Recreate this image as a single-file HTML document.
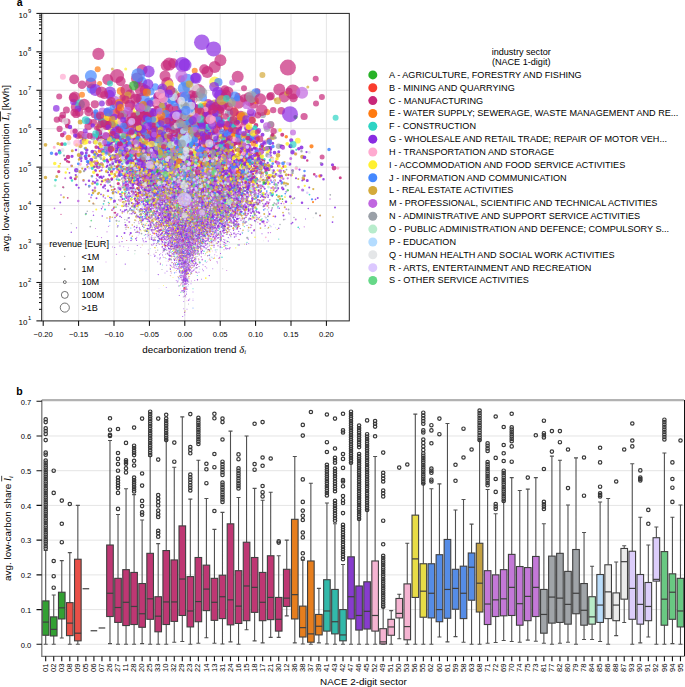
<!DOCTYPE html>
<html><head><meta charset="utf-8"><style>html,body{margin:0;padding:0;background:#fff;width:685px;height:687px;overflow:hidden;position:relative}</style></head>
<body>
<svg width="685" height="687" viewBox="0 0 685 687" style="position:absolute;left:0;top:0" font-family='"Liberation Sans", sans-serif' fill="#000">
<rect width="685" height="687" fill="#fff"/>
<path d="M43.20 13.4V320.9M78.60 13.4V320.9M114.00 13.4V320.9M149.40 13.4V320.9M184.80 13.4V320.9M220.20 13.4V320.9M255.60 13.4V320.9M291.00 13.4V320.9M326.40 13.4V320.9M41.7 282.46H349.3M41.7 244.03H349.3M41.7 205.59H349.3M41.7 167.15H349.3M41.7 128.71H349.3M41.7 90.28H349.3M41.7 51.84H349.3" stroke="#e2e2e2" stroke-width="0.9" fill="none"/>
<svg x="41.7" y="13.4" width="307.60" height="307.50" viewBox="41.7 13.4 307.60 307.50" overflow="hidden">
<style>.A{fill:#2db52d}.B{fill:#f53c3c}.C{fill:#c8287a}.E{fill:#ff7a10}.F{fill:#2dd4c4}.G{fill:#8a2be2}.H{fill:#ffaad0}.I{fill:#fff030}.J{fill:#4488ff}.L{fill:#d4aa3a}.M{fill:#c066e0}.N{fill:#9aa0a8}.O{fill:#b8eccc}.P{fill:#b4dcff}.Q{fill:#e4e6e8}.R{fill:#dcc8ff}.S{fill:#66d888}</style><g transform="scale(0.25)" stroke-linecap="round" fill="none" stroke-opacity="0.85"><path d="M554 762h0" stroke="#2db52d" stroke-width="6"/><path d="M911 733h0m0 42h0" stroke="#2db52d" stroke-width="8"/><path d="M682 707h0m469 54h0" stroke="#2db52d" stroke-width="9"/><path d="M863 745h0" stroke="#2db52d" stroke-width="10"/><path d="M757 753h0" stroke="#2db52d" stroke-width="12"/><path d="M772 614h0" stroke="#2db52d" stroke-width="13"/><path d="M635 563h0" stroke="#2db52d" stroke-width="14"/><path d="M602 484h0m26 111h0m198 24h0" stroke="#2db52d" stroke-width="15"/><path d="M1182 468h0m-178 73h0" stroke="#2db52d" stroke-width="17"/><path d="M815 579h0" stroke="#2db52d" stroke-width="19"/><path d="M722 1140h0" stroke="#c8287a" stroke-width="3"/><path d="M895 812h0m-91 79h0m-207 65h0m91-8h0m77 5h0m26-19h0m36 19h0m-98 68h0m10 6h0m18-8h0" stroke="#c8287a" stroke-width="4"/><path d="M816 755h0m-223 37h0m153-17h0m19 92h0m121 0h0m-240 33h0m31-17h0m31-1h0m133 32h0m-142 42h0m99-33h0m12 12h0m-90 60h0m8 3h0m40-19h0" stroke="#c8287a" stroke-width="5"/><path d="M735 750h0m34-12h0m86 13h0m27 3h0m-116 40h0m21-12h0m44-10h0m72 23h0m-186 27h0m57-14h0m11 8h0m107 14h0m90 9h0m-525 12h0m131 14h0m14-22h0m54 28h0m29 5h0m46-28h0m42 26h0m8-32h0m-78 57h0m16-2h0m23-3h0m40-7h0m52 29h0m-88 25h0m10 10h0m19 8h0m7-15h0m99-18h0m-173 44h0m45-6h0" stroke="#c8287a" stroke-width="6"/><path d="M693 698h0m99 41h0m17 18h0m173-7h0m-397 32h0m190-3h0m39 7h0m71-15h0m8-3h0m3 25h0m-219 9h0m9 26h0m95-12h0m72 17h0m62-1h0m-223 68h0m3-6h0m54-10h0m66 10h0m44 61h0" stroke="#c8287a" stroke-width="7"/><path d="M719 656h0m51 22h0m22-17h0m44 6h0m195 6h0m-455 13h0m183 32h0m-249 36h0m16-27h0m215 14h0m3 1h0m15-18h0m42-4h0m148 29h0m-240 11h0m19 37h0m1-21h0m67-3h0m54 13h0m-206 15h0m40 25h0m9-3h0m48-13h0m21 17h0m27 1h0m82-6h0m-410 29h0m249-5h0m236 40h0m-198 84h0" stroke="#c8287a" stroke-width="8"/><path d="M805 675h0m89-35h0m-405 42h0m50 15h0m152 15h0m31-10h0m51-12h0m26-5h0m72 7h0m21 10h0m57 3h0m1-6h0m-235 34h0m6 12h0m134-5h0m16-8h0m8 19h0m21 6h0m-398 26h0m231-16h0m30 6h0m19 16h0m16-3h0m-62 35h0m-140 48h0m33-1h0" stroke="#c8287a" stroke-width="9"/><path d="M573 617h0m178 4h0m10 58h0m70-11h0m19 3h0m-322 40h0m217-31h0m39 31h0m10-20h0m3 8h0m61-7h0m45 14h0m-268 19h0m26 16h0m102-3h0m67 4h0m7 7h0m-142 25h0m100 14h0m3 0h0m49-22h0m156 2h0m-64 79h0" stroke="#c8287a" stroke-width="10"/><path d="M658 662h0m87 9h0m12-23h0m22 28h0m291-3h0m-638 45h0m243-38h0m199 31h0m63-15h0m13-12h0m307 13h0m-559 154h0" stroke="#c8287a" stroke-width="11"/><path d="M705 589h0m-444 48h0m95-14h0m292 9h0m2-25h0m-10 57h0m28-22h0m38 29h0m102 2h0m32-18h0m45-11h0m-438 71h0m286-23h0m68 9h0m44 2h0m63 15h0m1-2h0m-260 6h0m90 27h0m8-9h0m137-16h0m59 10h0" stroke="#c8287a" stroke-width="12"/><path d="M937 591h0m-379 41h0m82-2h0m38-20h0m22-8h0m89 25h0m16-14h0m2 4h0m-291 60h0m68-2h0m27 0h0m69-11h0m9-17h0m169 11h0m105 3h0m99 10h0m-361 18h0m74 3h0m89 12h0m-168 24h0m338 15h0" stroke="#c8287a" stroke-width="13"/><path d="M529 583h0m344-23h0m-448 50h0m39 22h0m142-9h0m52 6h0m83 9h0m34-16h0m226-15h0m48 1h0m-296 56h0m7 11h0m54-1h0m54-32h0m67 19h0m-362 29h0m98 4h0m46 13h0m326-16h0m-272 36h0m214 10h0" stroke="#c8287a" stroke-width="14"/><path d="M664 538h0m-62 60h0m221-23h0m-285 52h0m28-17h0m91 0h0m-272 45h0m220 0h0m150 13h0m211 9h0m28-3h0m-515 15h0m548-5h0" stroke="#c8287a" stroke-width="15"/><path d="M716 532h0m413 7h0m-562 54h0m49-8h0m78 47h0m90-22h0m6 4h0m26 8h0m99-17h0m88 18h0m-417 39h0m115-3h0m170 65h0" stroke="#c8287a" stroke-width="16"/><path d="M445 530h0m158 20h0m100-3h0m87 2h0m228-7h0m-536 34h0m100-12h0m10 31h0m-86 17h0m245-5h0m70 6h0m-162 33h0m140-3h0m79 0h0m-79 39h0" stroke="#c8287a" stroke-width="17"/><path d="M582 500h0m179 11h0m-342 36h0m109-1h0m52-2h0m67 3h0m257 2h0m-113 35h0m206-19h0m133 23h0m-460 38h0m17-12h0m109-2h0m161 15h0m-232 32h0m198 39h0" stroke="#c8287a" stroke-width="18"/><path d="M962 504h0m62-3h0m-480 44h0m4-19h0m98 29h0m70 0h0m-307 48h0m316 12h0m-172 119h0" stroke="#c8287a" stroke-width="19"/><path d="M608 552h0m337-24h0m-233 37h0" stroke="#c8287a" stroke-width="20"/><path d="M794 906h0m27 48h0m-50 29h0m8 17h0" stroke="#ff7a10" stroke-width="4"/><path d="M725 766h0m-17 57h0m-56 77h0m12-19h0m308 12h0" stroke="#ff7a10" stroke-width="5"/><path d="M734 726h0m-17 52h0m83 50h0m9 7h0m-216 5h0m122 17h0m133 21h0m245-13h0" stroke="#ff7a10" stroke-width="6"/><path d="M373 813h0m481 2h0m-44 55h0m4 29h0m-197 35h0" stroke="#ff7a10" stroke-width="7"/><path d="M778 669h0m65 29h0m-78 53h0m12-15h0m58-8h0m165 16h0m-352 46h0m150-4h0m-68 45h0" stroke="#ff7a10" stroke-width="8"/><path d="M698 673h0m34-22h0m-135 33h0m406-2h0m-190 56h0m-181 53h0" stroke="#ff7a10" stroke-width="9"/><path d="M734 713h0m25-18h0m-141 30h0m144 20h0m30 10h0m30-9h0m68 22h0m-90 35h0" stroke="#ff7a10" stroke-width="10"/><path d="M737 683h0m144 66h0" stroke="#ff7a10" stroke-width="11"/><path d="M604 593h0m166 102h0m129-9h0m54 65h0" stroke="#ff7a10" stroke-width="12"/><path d="M445 590h0m327 59h0m236 69h0" stroke="#ff7a10" stroke-width="13"/><path d="M1034 630h0m54 3h0m-507 39h0m699 32h0" stroke="#ff7a10" stroke-width="14"/><path d="M758 576h0m-71 59h0" stroke="#ff7a10" stroke-width="15"/><path d="M692 635h0" stroke="#ff7a10" stroke-width="16"/><path d="M718 644h0" stroke="#ff7a10" stroke-width="17"/><path d="M637 509h0m253 52h0" stroke="#ff7a10" stroke-width="18"/><path d="M540 605h0" stroke="#ff7a10" stroke-width="19"/><path d="M788 893h0m-169 58h0m92 46h0m8-21h0m45 4h0m-40 26h0" stroke="#2dd4c4" stroke-width="3"/><path d="M726 870h0m178-5h0m-187 54h0m18-14h0m58-13h0m78 19h0m-222 20h0m13 5h0m10 14h0m4-12h0m45-9h0m36 29h0m6-3h0m5 0h0m19-7h0m-128 17h0m93 33h0m42-11h0m4-10h0m-67 26h0m22 12h0m-22 130h0" stroke="#2dd4c4" stroke-width="4"/><path d="M741 758h0m200 32h0m-157 15h0m61 19h0m-272 52h0m174 0h0m48-9h0m-66 48h0m27-3h0m34-25h0m12 18h0m175 1h0m18-26h0m-341 64h0m167 2h0m2-20h0m170-2h0m-280 51h0m-23 30h0m147 17h0" stroke="#2dd4c4" stroke-width="5"/><path d="M781 739h0m129 47h0m-271 32h0m35 12h0m161 3h0m1-19h0m-107 35h0m8 29h0m42-3h0m33-32h0m-101 41h0m32 10h0m69 7h0m80 8h0m-109 25h0m9 80h0m24-9h0m72 24h0m-158 39h0" stroke="#2dd4c4" stroke-width="6"/><path d="M668 677h0m-118 35h0m223-8h0m62 13h0m51-8h0m-332 40h0m180-8h0m140-8h0m54 13h0m43-1h0m-444 45h0m189-22h0m74 12h0m83-7h0m21 6h0m-183 59h0m2-23h0m83 0h0m53 12h0m98-1h0m82-9h0m-450 49h0m47 11h0m55-19h0m22-1h0m8 12h0m215-18h0m33-3h0m7 0h0m-283 44h0m74-1h0m120 24h0m-113 13h0" stroke="#2dd4c4" stroke-width="7"/><path d="M535 671h0m388 7h0m-108 18h0m-282 27h0m148 5h0m2 23h0m25-6h0m20 3h0m15-10h0m19 0h0m11 0h0m-40 53h0m58-20h0m228 25h0m-599 42h0m181-22h0m52 18h0m70-33h0m255 22h0m-397 34h0m199 13h0m53-10h0m1-10h0m140 5h0m-197 34h0m12 44h0" stroke="#2dd4c4" stroke-width="8"/><path d="M701 607h0m-50 39h0m85 1h0m232 8h0m113 7h0m-542 49h0m97-22h0m373 26h0m-406 12h0m87-5h0m32 29h0m42-18h0m19 9h0m40-13h0m230 8h0m-465 43h0m403-10h0m-371 53h0m31 7h0m45-14h0m94 7h0m56-3h0m26 49h0m44 9h0m-109 24h0m39 6h0" stroke="#2dd4c4" stroke-width="9"/><path d="M783 630h0m-106 72h0m51 14h0m44-3h0m-484 9h0m373 6h0m17 18h0m245-12h0m109-13h0m-530 49h0m264 3h0m3-8h0m3 36h0m-182 49h0m277 8h0" stroke="#2dd4c4" stroke-width="10"/><path d="M840 578h0m31 29h0m-221 67h0m54-2h0m69-12h0m-184 55h0m11-11h0m12 15h0m217-7h0m7-22h0m53 6h0m-158 26h0m52 17h0m34-13h0" stroke="#2dd4c4" stroke-width="11"/><path d="M862 543h0m-194 48h0m313-10h0m-387 50h0m145-29h0m89 29h0m179 4h0m-456 35h0m97 5h0m15-35h0m44 20h0m38-17h0m81 17h0m-97 71h0m10 11h0m39 12h0m33-13h0m147-6h0m-98 27h0" stroke="#2dd4c4" stroke-width="12"/><path d="M812 587h0m40-16h0m-165 36h0m189 3h0m-279 52h0m65 6h0m156-13h0m71 18h0m164-20h0m-352 121h0" stroke="#2dd4c4" stroke-width="13"/><path d="M572 552h0m-45 81h0m60 6h0m55-8h0m137-12h0m120 36h0m-90 31h0m-43 46h0" stroke="#2dd4c4" stroke-width="14"/><path d="M408 578h0m344-8h0m-127 42h0m39-6h0m102 16h0m111-7h0m5 49h0" stroke="#2dd4c4" stroke-width="15"/><path d="M732 596h0m247-11h0m-69 40h0m178 152h0" stroke="#2dd4c4" stroke-width="16"/><path d="M585 515h0m-30 63h0m289 23h0m49 59h0m100-18h0" stroke="#2dd4c4" stroke-width="17"/><path d="M567 532h0m170 24h0m60 29h0" stroke="#2dd4c4" stroke-width="18"/><path d="M624 544h0m-189 32h0m92 42h0m5-17h0m34 27h0m288-19h0" stroke="#2dd4c4" stroke-width="19"/><path d="M582 568h0m372-7h0" stroke="#2dd4c4" stroke-width="20"/><path d="M868 866h0m-210 69h0m79-3h0m17 20h0m50-6h0m-154 40h0m10 10h0m12-21h0m29 4h0m6 14h0m1-19h0m20 7h0m36 5h0m9 8h0m50-13h0m8 8h0m-163 11h0m29 12h0m3-6h0m2-1h0m18-3h0m6 12h0m8-1h0m4 11h0m12 15h0m22-23h0m67 3h0m-197 36h0m25 6h0m51 3h0m9-14h0m16-5h0m1 25h0m3-10h0m3-7h0m15-8h0m8 9h0m9-3h0m-97 41h0m50-2h0m0 2h0m13 20h0m14-15h0m-57 25h0m25 1h0m2 15h0m5 12h0m6 2h0m1-31h0m6 12h0m-20 31h0m7 3h0m1-3h0m7 3h0m27 1h0m-37 38h0" stroke="#8a2be2" stroke-width="3"/><path d="M539 798h0m-85 11h0m94 27h0m306-20h0m-264 43h0m14-15h0m106 25h0m6-19h0m33 20h0m2 8h0m96-15h0m-188 42h0m18-21h0m15 14h0m22 17h0m11 3h0m10-37h0m2 26h0m21 5h0m1 7h0m7-29h0m37 8h0m32 4h0m53 4h0m48-20h0m-381 43h0m51-5h0m30 1h0m17 0h0m10 4h0m6 13h0m6-4h0m0-4h0m1-13h0m8 31h0m21 4h0m6-8h0m6 5h0m9-14h0m0-13h0m2 5h0m13 9h0m9 8h0m4-16h0m3 14h0m0-22h0m5 18h0m1 3h0m3 3h0m1 3h0m1-5h0m2-24h0m4 33h0m3-6h0m7-18h0m4 23h0m0-23h0m1 9h0m0 19h0m9-35h0m8 6h0m4 28h0m2-14h0m5-18h0m8 10h0m3-6h0m7 22h0m24-7h0m189-10h0m-589 55h0m125-23h0m74 5h0m16 18h0m9-4h0m1 11h0m2-11h0m11 6h0m1-1h0m6-28h0m7 16h0m5-7h0m5 19h0m4-12h0m2 20h0m1-5h0m4-26h0m2 30h0m4-7h0m9 2h0m1-16h0m10-11h0m8-4h0m2 33h0m18-7h0m0-4h0m8 4h0m6-2h0m16 5h0m257-27h0m-389 44h0m8 6h0m9-2h0m7 27h0m2-31h0m6 0h0m4 17h0m7-5h0m7 3h0m13 7h0m1-29h0m11 0h0m2 33h0m0-13h0m1-5h0m1-12h0m7 27h0m11-26h0m55 17h0m-141 38h0m9 14h0m21 0h0m2-26h0m5 12h0m1-1h0m2-12h0m15-2h0m2 31h0m6-2h0m18 5h0m2-16h0m20-11h0m-78 50h0m5-1h0m3-18h0m3-1h0m4 24h0m7-15h0m17-6h0m-30 47h0m20-8h0m-32 58h0" stroke="#8a2be2" stroke-width="4"/><path d="M756 753h0m-115 43h0m46-29h0m45 26h0m9 6h0m64-12h0m35-10h0m76-7h0m-290 60h0m22 5h0m13-5h0m20-4h0m22-2h0m25-9h0m12-10h0m32 30h0m30-19h0m6-9h0m35 14h0m67-8h0m-424 56h0m141-4h0m2 13h0m1-25h0m10 1h0m32 6h0m23-4h0m14-15h0m1 32h0m32-5h0m2-8h0m5 13h0m7 4h0m11-37h0m9 11h0m1 28h0m3-1h0m7-23h0m3-1h0m3 19h0m9-6h0m0-23h0m2 26h0m15-8h0m25-1h0m12 7h0m0-15h0m13 22h0m22-14h0m7 12h0m11-13h0m20 9h0m-623 42h0m202-31h0m128 20h0m35 14h0m11-29h0m8 33h0m3-32h0m5 6h0m11 23h0m6-4h0m3-29h0m5 17h0m5-16h0m4 16h0m2-5h0m19 5h0m11-6h0m7-6h0m2 22h0m35-22h0m1 23h0m0-1h0m7-7h0m5-21h0m2 2h0m11 5h0m5 15h0m13-22h0m2 13h0m4-10h0m3 29h0m6-19h0m34-4h0m18 17h0m42 7h0m-366 26h0m10 8h0m32-20h0m33 16h0m6-18h0m17 9h0m6-11h0m8 25h0m29 0h0m3 5h0m3-1h0m1-10h0m1-9h0m1 11h0m1-22h0m7 36h0m21-10h0m5-29h0m1 0h0m1 4h0m10 35h0m13-32h0m0 0h0m37-2h0m4 29h0m2-30h0m66 26h0m42-25h0m-382 38h0m77 3h0m25 27h0m1-17h0m1 5h0m7-10h0m14 2h0m6 24h0m0-32h0m12 16h0m1-19h0m13 18h0m2-18h0m0 14h0m7-7h0m0 26h0m3-18h0m1 5h0m5-6h0m2 3h0m5 4h0m4-1h0m11-10h0m1-10h0m2 9h0m18 18h0m19-14h0m7 13h0m37-26h0m2 26h0m4-25h0m-175 76h0m37-12h0m1-17h0m6 24h0m3-28h0m10 18h0m3-6h0m2 7h0m4 8h0m2-24h0m21-2h0m-65 51h0m10 14h0m25-7h0m21 7h0m-19 16h0m-15 40h0m11 8h0m4 40h0" stroke="#8a2be2" stroke-width="5"/><path d="M707 676h0m105 13h0m-391 66h0m317-19h0m36-5h0m9 14h0m73-2h0m30-19h0m29-1h0m-502 64h0m125 9h0m45-4h0m29-25h0m1-2h0m5 12h0m4 18h0m16 2h0m43-3h0m9-8h0m9 13h0m6-19h0m30 13h0m4-5h0m31 4h0m40-13h0m31-10h0m2 27h0m113-18h0m0-18h0m37 17h0m-433 39h0m78-11h0m3 28h0m26-30h0m0 15h0m2 8h0m0 0h0m10-7h0m3-9h0m1 29h0m3-39h0m1 16h0m14-11h0m14 31h0m15-11h0m14-21h0m3 30h0m7 4h0m6-29h0m23-1h0m18 29h0m2 0h0m4-20h0m1 1h0m0-2h0m1 17h0m1-27h0m5 20h0m2 3h0m5-10h0m8 20h0m26-20h0m127 12h0m-609 30h0m115-14h0m141 23h0m5-9h0m15-6h0m33 7h0m2-9h0m0 0h0m14 17h0m2 1h0m4-27h0m4 21h0m6 10h0m4 0h0m1-32h0m4 21h0m2 8h0m4-27h0m51 11h0m2-2h0m2 18h0m5 7h0m2-27h0m2 2h0m3 21h0m6-28h0m10 19h0m0-20h0m0 20h0m0-13h0m6 24h0m0-21h0m20-16h0m4 35h0m11-26h0m11 2h0m4 8h0m8 18h0m59-25h0m1 26h0m-377 41h0m11-14h0m33-10h0m41-14h0m10 20h0m49-17h0m2-4h0m10 3h0m5-1h0m0 23h0m26-7h0m7 4h0m7-15h0m0 28h0m0-10h0m4-25h0m6 6h0m1 28h0m4-7h0m7-21h0m2 18h0m5 6h0m7-13h0m4 18h0m3-13h0m5-22h0m17 22h0m1 0h0m5-14h0m1 24h0m1-16h0m2 3h0m6 15h0m1-8h0m3-23h0m14-2h0m0 14h0m13-9h0m18 15h0m-606 28h0m349 18h0m3-26h0m51 33h0m29 4h0m11-38h0m2 22h0m8-20h0m14 3h0m12 12h0m4-7h0m12 3h0m5 13h0m4-23h0m4 21h0m12-13h0m10 6h0m36-11h0m87 22h0m69-16h0m-483 30h0m142-2h0m15 16h0m29 5h0m22 10h0m27-16h0m25-8h0m72 14h0m-180 39h0m30-11h0m10 5h0m32-10h0m19 12h0m-20 45h0m36-6h0" stroke="#8a2be2" stroke-width="6"/><path d="M483 638h0m-135 21h0m391 2h0m92 4h0m7-3h0m-560 29h0m247 6h0m29-1h0m97 19h0m78-9h0m53-21h0m11 2h0m22 28h0m37-1h0m65-19h0m89 1h0m-585 24h0m154 3h0m40 22h0m47 13h0m17-35h0m53 33h0m2-17h0m21 20h0m15-10h0m27-19h0m31 11h0m15 7h0m94-28h0m-401 46h0m126 26h0m21 6h0m35-8h0m8-9h0m17 14h0m3 0h0m2-25h0m24 22h0m1-16h0m2 7h0m2-11h0m6 0h0m10 22h0m1-4h0m6-13h0m6 15h0m9 6h0m7-14h0m26-10h0m21-4h0m110 5h0m17 8h0m3-20h0m73 25h0m-568 17h0m17 28h0m29-15h0m7-9h0m34-4h0m19-1h0m56 6h0m1 22h0m5 6h0m14-15h0m15 6h0m20 1h0m2-21h0m24 17h0m40 12h0m12-1h0m3-12h0m4-24h0m3 21h0m3 2h0m1 12h0m5-33h0m5 16h0m2-11h0m7 14h0m5 2h0m2-12h0m3-2h0m10 25h0m0-10h0m8-9h0m5-14h0m7 34h0m2-7h0m1-27h0m1 30h0m5-17h0m13 15h0m27-12h0m29 16h0m0-19h0m4-8h0m5-5h0m35 36h0m-514 27h0m80-24h0m10 26h0m16 8h0m6 2h0m20-29h0m22 24h0m13-24h0m2 7h0m2-4h0m2 9h0m0-20h0m9 9h0m9 10h0m12 12h0m11 5h0m8-13h0m23-4h0m4 16h0m6-5h0m11-27h0m0 36h0m15-37h0m4 13h0m10-9h0m9 33h0m3-29h0m1-10h0m1 22h0m8-6h0m30 20h0m12-1h0m5-17h0m12 21h0m2-38h0m0 23h0m16-14h0m13 16h0m8-2h0m10-15h0m4 3h0m42-8h0m1 30h0m25 0h0m-406 8h0m23 19h0m104-15h0m12 21h0m12-5h0m18 5h0m6 9h0m9-36h0m4 16h0m16-9h0m19-2h0m1 8h0m2 5h0m5-9h0m13 7h0m42-16h0m31 19h0m6-6h0m-346 35h0m58 28h0m31-35h0m9 32h0m3-33h0m27 34h0m47-32h0m2 12h0m37 20h0m13-20h0m78 11h0m-240 15h0m94 39h0m6-33h0m15-1h0m23 23h0m9-17h0" stroke="#8a2be2" stroke-width="7"/><path d="M936 633h0m-510 35h0m86 7h0m103-16h0m3 9h0m89 5h0m-131 27h0m48 14h0m5-23h0m37 26h0m29-10h0m68-1h0m46-17h0m20 18h0m20 9h0m10 2h0m58-4h0m10-14h0m7 13h0m5-15h0m245 15h0m-654 34h0m66-26h0m1 4h0m17 2h0m82 3h0m15 5h0m30-3h0m1 12h0m11-4h0m0-13h0m4 19h0m12-23h0m4 2h0m18 6h0m16 2h0m23-12h0m8 28h0m8-27h0m14 26h0m19-6h0m3 0h0m27 13h0m100-29h0m228 24h0m-757 26h0m50-10h0m47 27h0m30-14h0m55-17h0m2 1h0m21 8h0m25-2h0m30 26h0m13-22h0m6-12h0m33 24h0m2 8h0m3-19h0m0 4h0m5 20h0m6-25h0m2 23h0m8-15h0m11-10h0m36 23h0m29-28h0m6 20h0m1-24h0m11-2h0m5 6h0m7 22h0m24 1h0m6-13h0m1-8h0m9-3h0m22 0h0m3 7h0m54-6h0m-538 52h0m10-4h0m60 2h0m16 0h0m43-11h0m0 4h0m19 21h0m1 8h0m14 1h0m11-6h0m4-1h0m1-25h0m9 18h0m15-4h0m24 10h0m4 6h0m4-16h0m32-6h0m6 4h0m2 14h0m10 3h0m7-6h0m6 6h0m3 3h0m18-37h0m2 23h0m13 4h0m18-13h0m11 18h0m10-8h0m24 13h0m37-18h0m17 16h0m384-7h0m-726 28h0m39-17h0m8 12h0m10 17h0m14-15h0m13-5h0m67 19h0m6-19h0m29 2h0m4 26h0m19-23h0m22 11h0m4 13h0m11-19h0m32-19h0m7 11h0m-309 63h0m41-3h0m30-2h0m139-11h0m20 14h0m15-10h0m53-19h0m66 13h0m-302 52h0m141 1h0" stroke="#8a2be2" stroke-width="8"/><path d="M568 609h0m82 14h0m62-18h0m59-1h0m106 34h0m-374 7h0m57 26h0m17-17h0m42 18h0m40 7h0m108-20h0m10 8h0m15-3h0m17 12h0m95 2h0m25-19h0m92-17h0m-512 41h0m63-1h0m20 35h0m26-3h0m16-33h0m15 2h0m21 30h0m31 0h0m21-28h0m18 24h0m7 7h0m11-13h0m5 10h0m5 6h0m19-23h0m7 15h0m5 4h0m46 1h0m10-11h0m1 4h0m50-24h0m26-5h0m26 2h0m10 35h0m102 0h0m3-7h0m7-9h0m15 8h0m-591 45h0m91-21h0m9 17h0m31-29h0m18 13h0m66-8h0m8 16h0m7 4h0m31 4h0m4 0h0m11-20h0m5 16h0m1 10h0m8-2h0m31-11h0m13-7h0m31 4h0m4-8h0m24 11h0m1-23h0m33 20h0m0 2h0m79 3h0m53-13h0m-692 29h0m80 9h0m85 0h0m42-7h0m55 22h0m20-14h0m53 7h0m2-11h0m0 23h0m6-23h0m1 27h0m27 3h0m1-9h0m24-11h0m1-14h0m15 9h0m5 12h0m18-16h0m7 25h0m59 0h0m6-21h0m2-4h0m39-4h0m58 23h0m20-26h0m-444 54h0m19-1h0m12 25h0m1-31h0m8 30h0m106-37h0m8 11h0m42-11h0m2 26h0m1-15h0m33 24h0m11-3h0m7 2h0m14-33h0m15 17h0m21-19h0m14 32h0m79-1h0m-244 38h0m22 6h0m22-15h0m21 13h0m42 0h0m55-15h0m46-4h0m86-12h0m-227 49h0m285-6h0m-333 43h0" stroke="#8a2be2" stroke-width="9"/><path d="M638 638h0m46-5h0m103-5h0m47-7h0m134 2h0m-474 20h0m32 31h0m93-31h0m54 29h0m10 4h0m14-29h0m19 26h0m6-15h0m13-10h0m12-5h0m23 14h0m40 12h0m38-15h0m20-7h0m2 8h0m5 3h0m4 2h0m13-6h0m23 18h0m22-29h0m15 33h0m44-13h0m34-20h0m-538 40h0m58 30h0m119 6h0m11-24h0m22 1h0m0 0h0m50 23h0m19-37h0m1 27h0m0 3h0m11-31h0m18 31h0m12-13h0m8 19h0m47-14h0m2 7h0m4 8h0m46-8h0m6-10h0m53 0h0m33-17h0m102 18h0m104 1h0m-805 46h0m159-8h0m5 7h0m39-16h0m20-9h0m43 32h0m27-20h0m8-5h0m4-9h0m9 7h0m9 20h0m7 3h0m8 3h0m1-5h0m3 7h0m32-24h0m5-6h0m49 16h0m1-4h0m12-7h0m11-7h0m86 31h0m153-4h0m-552 21h0m101 27h0m64-3h0m1-17h0m11-16h0m32 0h0m2 15h0m13-5h0m2 20h0m10-28h0m31-5h0m72 5h0m12 19h0m-234 26h0m11 13h0m26-4h0m4-10h0m70 29h0m3-19h0m105 20h0m256-32h0m-518 61h0m388-21h0m-116 57h0" stroke="#8a2be2" stroke-width="10"/><path d="M776 531h0m-312 68h0m442-2h0m-259 6h0m64 21h0m31-4h0m10 9h0m20-14h0m0-9h0m77 28h0m128-25h0m-539 69h0m97-32h0m29 32h0m4-34h0m22 19h0m15 3h0m36-11h0m58-10h0m9 28h0m33-29h0m8 1h0m2 24h0m52 3h0m3 3h0m9-19h0m5 18h0m4-6h0m1 1h0m23 4h0m13-24h0m77 21h0m-500 30h0m119-5h0m0-6h0m82 9h0m17-15h0m31 0h0m8 10h0m15 20h0m25-12h0m66 18h0m1-36h0m9 35h0m11-26h0m35 3h0m6-13h0m16 33h0m57-21h0m16-6h0m87 0h0m65 9h0m-510 43h0m70-6h0m16 0h0m5 25h0m4-38h0m21 37h0m4-17h0m52-16h0m9 3h0m3 24h0m14-1h0m51 4h0m6-16h0m11-13h0m0 15h0m-320 20h0m71 5h0m2 25h0m20-12h0m41 16h0m16-24h0m43 5h0m24 14h0m21-20h0m15 18h0m26-9h0m31-14h0m3 27h0m17-10h0m-3 26h0m9 11h0m52-6h0" stroke="#8a2be2" stroke-width="11"/><path d="M644 578h0m15-3h0m82 20h0m41-13h0m-256 24h0m158 1h0m64 23h0m59-11h0m65-14h0m29 19h0m-425 19h0m202 14h0m68-15h0m33 1h0m10 11h0m6 13h0m9-26h0m2 10h0m40 0h0m25 17h0m61-9h0m75-6h0m-451 30h0m17 35h0m99-18h0m16-7h0m65-11h0m40 6h0m50 12h0m11-16h0m102-4h0m0 36h0m107-29h0m-402 39h0m167 30h0m12 2h0m-258 17h0m90 0h0m11-9h0m150 17h0m-375 21h0m381-3h0" stroke="#8a2be2" stroke-width="12"/><path d="M632 526h0m5 18h0m-206 29h0m216 3h0m92-9h0m30 27h0m79-6h0m-189 16h0m13 4h0m36 20h0m20 8h0m112 0h0m147-26h0m-515 69h0m87-13h0m30-20h0m18 9h0m15-5h0m15 16h0m32-5h0m39 0h0m0-10h0m11-5h0m8-2h0m9-4h0m26 0h0m27 23h0m370-7h0m-386 36h0m72-5h0m4-5h0m119 1h0m-405 63h0m32-26h0m88 31h0m53-22h0m325 4h0m-385 50h0m66-18h0m33 2h0m109 0h0m-164 37h0m210 22h0" stroke="#8a2be2" stroke-width="13"/><path d="M516 556h0m200 3h0m67-1h0m-240 26h0m33 15h0m79-28h0m57-8h0m23 18h0m43 1h0m27 4h0m17-2h0m89 4h0m284 7h0m-957 9h0m109-4h0m209 5h0m20 7h0m9 5h0m60 17h0m8-30h0m109 33h0m51-13h0m25-5h0m28 4h0m48-15h0m36 13h0m-419 23h0m47 6h0m4 11h0m28-17h0m32 16h0m81 19h0m33-12h0m68 2h0m106-12h0m50 4h0m9-11h0m-347 60h0m130-22h0m109 25h0m68-24h0m-310 46h0m144 17h0m136-16h0" stroke="#8a2be2" stroke-width="14"/><path d="M800 552h0m142-2h0m-564 18h0m60 11h0m183-19h0m22 29h0m92-4h0m-214 30h0m151 2h0m68 11h0m26 3h0m4-8h0m2 9h0m6 5h0m8-29h0m17 1h0m74 13h0m21-6h0m-306 54h0m209-14h0m-158 26h0m328 19h0" stroke="#8a2be2" stroke-width="15"/><path d="M726 512h0m-152 36h0m476-9h0m-546 56h0m10 2h0m196-37h0m9 24h0m52-23h0m91 10h0m213 21h0m87-8h0m44 6h0m-648 49h0m148-26h0m1 5h0m7 20h0m31-22h0m108 14h0m-103 22h0m81-12h0m11 3h0m138 54h0m144 9h0m-380 37h0m188 11h0" stroke="#8a2be2" stroke-width="16"/><path d="M960 514h0m-512 26h0m396 7h0m15-20h0m-242 68h0m71-26h0m28 26h0m113-19h0m133-4h0m203-11h0m-838 52h0m673 11h0m-419 52h0m204-24h0m264 5h0" stroke="#8a2be2" stroke-width="17"/><path d="M466 540h0m98 9h0m81-10h0m23-1h0m71 10h0m-192 13h0m39 34h0m14-1h0m86-26h0m105 8h0m16 14h0m70-23h0m204 25h0m-702 18h0m183-9h0m274 2h0m10 44h0m-541 34h0m701 40h0" stroke="#8a2be2" stroke-width="18"/><path d="M693 504h0m226-3h0m-159 33h0m66 1h0m-131 60h0m6-14h0m2-8h0m40-7h0m-201 49h0m331-5h0" stroke="#8a2be2" stroke-width="19"/><path d="M859 507h0m-522 43h0m167-17h0m426-8h0m-455 72h0" stroke="#8a2be2" stroke-width="20"/><path d="M792 912h0m-38 42h0" stroke="#ffaad0" stroke-width="3"/><path d="M790 909h0m-60 36h0m44 10h0m11-9h0m-94 24h0m66 28h0m21-23h0m42 46h0m29-17h0m-94 102h0" stroke="#ffaad0" stroke-width="4"/><path d="M665 806h0m6 0h0m215 21h0m-64 36h0m-241 33h0m168 19h0m6-13h0m-87 45h0m33-8h0m50 16h0m-57 40h0m26 77h0" stroke="#ffaad0" stroke-width="5"/><path d="M1031 799h0m-390 35h0m157-2h0m36-19h0m50 13h0m-178 17h0m100 32h0m23-6h0m-259 29h0m117 2h0m60-17h0m19-3h0m-30 68h0m28-25h0m-36 58h0" stroke="#ffaad0" stroke-width="6"/><path d="M497 725h0m253 11h0m95 5h0m151 12h0m-263 9h0m102 30h0m242-16h0m-354 54h0m51-14h0m-104 31h0m21-3h0m168 56h0m-176 37h0m207-13h0" stroke="#ffaad0" stroke-width="7"/><path d="M624 621h0m109 93h0m-91 31h0m267-9h0m-115 58h0m93-29h0m-234 50h0m203 5h0m63 8h0m-294 106h0" stroke="#ffaad0" stroke-width="8"/><path d="M850 675h0m-174 16h0m46-10h0m-138 48h0m160 10h0m190 21h0m-138 40h0m-84 43h0" stroke="#ffaad0" stroke-width="9"/><path d="M863 583h0m-138 20h0m-201 54h0m-1 47h0m23-6h0m57-6h0m226 16h0m-240 24h0m137 9h0m201 18h0m-374 24h0m128-15h0m88 11h0m141 41h0" stroke="#ffaad0" stroke-width="10"/><path d="M499 578h0m341-12h0m-369 69h0m109 31h0m8 7h0m193-14h0m-182 31h0m111 22h0m150-14h0m40 12h0m6-1h0m110 3h0m-274 44h0m14-36h0m55 51h0m39-2h0" stroke="#ffaad0" stroke-width="11"/><path d="M739 634h0m87-14h0m130 12h0m33-6h0m-150 20h0m-144 44h0m-68 32h0m247-2h0m2 24h0m80-2h0m-220 22h0m171 12h0" stroke="#ffaad0" stroke-width="12"/><path d="M937 595h0m-368 25h0m782 52h0" stroke="#ffaad0" stroke-width="13"/><path d="M919 604h0m-599 53h0m444 76h0" stroke="#ffaad0" stroke-width="14"/><path d="M543 615h0m82 16h0m43 9h0" stroke="#ffaad0" stroke-width="15"/><path d="M919 569h0m6 12h0m-243 22h0" stroke="#ffaad0" stroke-width="16"/><path d="M523 569h0m222-6h0m31 62h0" stroke="#ffaad0" stroke-width="17"/><path d="M616 464h0m169 128h0" stroke="#ffaad0" stroke-width="20"/><path d="M712 905h0m46 38h0m-52 55h0m20-38h0m69 12h0m-68 43h0m-31 65h0m63 1h0" stroke="#fff030" stroke-width="3"/><path d="M705 839h0m-123 12h0m179 65h0m60-1h0m-27 13h0m-50 67h0m12-3h0m32-14h0m-27 44h0m4-12h0m-14 45h0m16 17h0" stroke="#fff030" stroke-width="4"/><path d="M843 786h0m-61 53h0m142-9h0m102-20h0m-384 41h0m92 21h0m88-21h0m62 1h0m-234 41h0m1-2h0m28 14h0m48 3h0m42 7h0m8-8h0m9 0h0m40-25h0m19-1h0m4 22h0m-161 38h0m0 16h0m13-19h0m17 14h0m24-26h0m-121 65h0m83-22h0m2 17h0m12-14h0m4-6h0m173 20h0m-207 30h0m46 19h0m62-20h0m-51 62h0" stroke="#fff030" stroke-width="5"/><path d="M834 696h0m-344 101h0m333-13h0m51-2h0m-325 34h0m136-7h0m112 15h0m18 9h0m132-25h0m40 26h0m39 0h0m-385 17h0m76 22h0m25 4h0m2 0h0m46 1h0m17-3h0m4-34h0m21 16h0m-205 29h0m26 19h0m6 3h0m120-22h0m46 17h0m44-21h0m40 30h0m4-9h0m-214 43h0m11-13h0m2-10h0m37 10h0m15 9h0m3-12h0m6-5h0m63 21h0m-70 50h0" stroke="#fff030" stroke-width="6"/><path d="M625 676h0m297-12h0m-208 39h0m69-19h0m93 7h0m11-4h0m28 25h0m-327 25h0m123 20h0m165-15h0m-286 35h0m93 19h0m34-24h0m8 2h0m60-6h0m10 26h0m-265 19h0m194 7h0m6 4h0m78 9h0m30-18h0m2 19h0m-126 13h0m28 5h0m24 26h0m39-15h0m-107 55h0m34-1h0m178-19h0m-203 44h0m101-6h0" stroke="#fff030" stroke-width="7"/><path d="M616 689h0m179 15h0m6-1h0m27 11h0m77 1h0m108-18h0m-415 38h0m90 18h0m32-26h0m98 8h0m7 8h0m8-3h0m38 7h0m61 0h0m-500 38h0m40-14h0m16 3h0m84 9h0m69-3h0m86 8h0m221 7h0m36 3h0m156-10h0m-615 14h0m78-1h0m26-1h0m1 9h0m32 11h0m31-5h0m48-1h0m81-12h0m2 21h0m46-3h0m38-14h0m16-1h0m-250 58h0m59-5h0m62 14h0m2-17h0m-3 52h0" stroke="#fff030" stroke-width="8"/><path d="M803 636h0m-111 17h0m3 5h0m-269 24h0m127-1h0m24 13h0m34 21h0m13-26h0m84 5h0m6 8h0m24-11h0m248-9h0m35 9h0m-471 37h0m69 30h0m31-35h0m46 5h0m21-1h0m27 31h0m107-13h0m174 14h0m47-22h0m147 6h0m-556 22h0m49 18h0m58-11h0m59-10h0m48 1h0m65 14h0m-290 31h0m9 22h0m35-27h0m28 18h0m2-16h0m50 0h0m42 8h0m4 10h0m71-22h0m-32 48h0" stroke="#fff030" stroke-width="9"/><path d="M943 627h0m-367 13h0m100 26h0m194-15h0m25 28h0m126-21h0m-489 30h0m156 19h0m1-16h0m5-5h0m4-5h0m20 18h0m30 0h0m100 1h0m58-20h0m138 1h0m-449 51h0m64 21h0m202-10h0m81-3h0m59 40h0m-258 44h0" stroke="#fff030" stroke-width="10"/><path d="M563 591h0m4 14h0m179 23h0m34-20h0m59 30h0m-370 4h0m311 19h0m67 8h0m-144 25h0m5 14h0m64-9h0m62-13h0m264 2h0m-120 32h0m-362 68h0m14-26h0m151 25h0m164 24h0m-175 34h0" stroke="#fff030" stroke-width="11"/><path d="M511 570h0m304 8h0m-299 57h0m32-26h0m99 29h0m28-3h0m2-8h0m5-14h0m77-8h0m285 1h0m-808 59h0m340-17h0m32-2h0m5 5h0m207 4h0m36 13h0m17 10h0m-393 5h0m127 8h0m32-8h0m174-1h0m195-1h0m-279 66h0m36 9h0m34-35h0m2 24h0m0 43h0" stroke="#fff030" stroke-width="12"/><path d="M755 566h0m96 26h0m-319 34h0m245 0h0m14 3h0m2-16h0m28 3h0m115 23h0m-462 4h0m267-3h0m46 15h0m34-13h0m66 7h0m-179 70h0m6-33h0m41 23h0m94-25h0" stroke="#fff030" stroke-width="13"/><path d="M606 599h0m144 40h0m15-6h0m73-18h0m231-4h0m-464 66h0m72 61h0" stroke="#fff030" stroke-width="14"/><path d="M394 526h0m333 11h0m-34 27h0m112 18h0m-226 34h0m68 9h0m169 8h0m142 7h0m-244 120h0" stroke="#fff030" stroke-width="15"/><path d="M869 477h0m14-8h0m-560 79h0m128 3h0m279-1h0m-317 29h0m115 24h0m315 26h0m-114 24h0" stroke="#fff030" stroke-width="16"/><path d="M882 581h0m-6 48h0m6 25h0" stroke="#fff030" stroke-width="17"/><path d="M544 534h0m141 22h0m-31 26h0" stroke="#fff030" stroke-width="18"/><path d="M684 499h0m48 7h0m-139 49h0m125-18h0m216 12h0m-185 17h0m-187 64h0m114-28h0" stroke="#fff030" stroke-width="19"/><path d="M589 947h0m56 2h0m19 85h0m6-17h0m63 6h0m-13 30h0m24 4h0m0 33h0m8 54h0" stroke="#4488ff" stroke-width="3"/><path d="M756 958h0m7-36h0m-126 43h0m122 86h0" stroke="#4488ff" stroke-width="4"/><path d="M795 838h0m316-7h0m-315 87h0m78-6h0m-246 27h0m39-11h0m61-2h0m89 16h0m37-17h0m-144 44h0m7 25h0m15 32h0m-16 89h0" stroke="#4488ff" stroke-width="5"/><path d="M800 778h0m35 1h0m20 20h0m2-12h0m-191 28h0m190 15h0m127 0h0m-207 13h0m188 16h0m-293 36h0m24-9h0m31-4h0m49 3h0m37 26h0m94-17h0m-104 52h0m-170 22h0" stroke="#4488ff" stroke-width="6"/><path d="M561 664h0m115 51h0m-160 16h0m318 25h0m-368 14h0m79 15h0m141 3h0m1-27h0m187 6h0m-228 49h0m58 4h0m10-4h0m17 20h0m44-5h0m-102 31h0m77-10h0m14 14h0m15-15h0m-134 52h0m100-1h0m146-22h0" stroke="#4488ff" stroke-width="7"/><path d="M883 631h0m-270 32h0m44 18h0m136 27h0m20-3h0m9-22h0m-105 43h0m34 13h0m19-5h0m66-2h0m36 4h0m-212 58h0m28-23h0m62 8h0m147-13h0m33 16h0m-232 81h0m16-11h0m73 7h0m32 4h0" stroke="#4488ff" stroke-width="8"/><path d="M622 617h0m33 20h0m35 29h0m237-8h0m-460 59h0m163 0h0m6-15h0m2-22h0m10 28h0m170 5h0m-263 15h0m20 26h0m72-8h0m51 2h0m13-27h0m1 23h0m3-1h0m60-18h0m77 8h0m73-3h0m103 19h0m-377 24h0m86 21h0m49-24h0m71 6h0m-90 62h0m74-16h0m103-19h0" stroke="#4488ff" stroke-width="9"/><path d="M597 532h0m10 62h0m265 44h0m-279 9h0m69 31h0m26-9h0m10 8h0m-52 5h0m10 16h0m42 3h0m10 15h0m82-31h0m67-4h0m-241 53h0m17-6h0m31 24h0m99-21h0m60-8h0m112 26h0m-284 44h0m192-9h0m79-14h0m-325 31h0m249 3h0" stroke="#4488ff" stroke-width="10"/><path d="M441 624h0m158-16h0m30 50h0m20-10h0m16 18h0m40-18h0m19 12h0m179 17h0m-254 14h0m22-2h0m22 24h0m1-32h0m20 32h0m2 3h0m-100 9h0m63 12h0m51 2h0m158 6h0" stroke="#4488ff" stroke-width="11"/><path d="M536 639h0m47-6h0m18-32h0m157 35h0m151-31h0m-130 60h0m44-25h0m-226 72h0m59 0h0" stroke="#4488ff" stroke-width="12"/><path d="M675 595h0m-184 25h0m146-11h0m20 8h0m210-8h0m120 8h0m-415 23h0m123 13h0m45-6h0m168 6h0m-346 32h0m155 10h0m259 20h0m-65 16h0m35 28h0" stroke="#4488ff" stroke-width="13"/><path d="M685 605h0m44 6h0m36 23h0m174-11h0m-338 28h0m341 3h0m6-6h0m-208 47h0" stroke="#4488ff" stroke-width="14"/><path d="M658 488h0m-11 71h0m16-36h0m9 33h0m112-27h0m-134 108h0m23 1h0m273 30h0m-199 41h0" stroke="#4488ff" stroke-width="15"/><path d="M639 537h0m-215 38h0m246 0h0m2 9h0m58-14h0m54 16h0" stroke="#4488ff" stroke-width="16"/><path d="M698 545h0m15 6h0m9 10h0m118 32h0m-78 26h0m5-17h0m-113 52h0m-81 33h0" stroke="#4488ff" stroke-width="17"/><path d="M576 460h0m-110 96h0m22-33h0m249 9h0m20-9h0m151 2h0" stroke="#4488ff" stroke-width="18"/><path d="M404 501h0m220-18h0m-38 60h0m166 11h0m-7 43h0m181-28h0" stroke="#4488ff" stroke-width="19"/><path d="M803 958h0m-4 10h0m83 8h0m-241 76h0m87 1h0" stroke="#d4aa3a" stroke-width="3"/><path d="M731 825h0m15 1h0m39 0h0m-241 42h0m254 9h0m-109 38h0m34-35h0m70 22h0m104 5h0m28-4h0m24-12h0m-302 48h0m20 13h0m35-4h0m34-6h0m6 6h0m26-7h0m45 0h0m1-12h0m91-7h0m-224 48h0m4 10h0m5-12h0m92 5h0m7 26h0m-195 17h0m93 12h0m6-2h0m9-17h0m8-7h0m4 12h0m26-9h0m4 25h0m6-19h0m5 10h0m7-1h0m68 2h0m7 17h0m-90 25h0m22 6h0m-37 12h0m3 43h0" stroke="#d4aa3a" stroke-width="4"/><path d="M792 689h0m-230 32h0m157 48h0m90 26h0m52-28h0m12 30h0m2-33h0m-216 69h0m41-2h0m29-31h0m2 25h0m39 9h0m11-4h0m22-26h0m12 19h0m240 1h0m-455 40h0m144 13h0m8-1h0m0-14h0m11 4h0m25-26h0m33 31h0m1-18h0m13 26h0m1-39h0m1 32h0m11 1h0m48-2h0m37 1h0m21-14h0m6 0h0m25 11h0m15-24h0m-423 55h0m157-7h0m6 21h0m14-15h0m9 0h0m11 5h0m4-2h0m7-12h0m56 24h0m27-19h0m44 21h0m-311 21h0m47 4h0m2-18h0m64 32h0m21-18h0m16 12h0m9 5h0m10-1h0m27-2h0m5-24h0m3 8h0m33-12h0m78 3h0m7 14h0m-263 41h0m22 5h0m22-22h0m7 1h0m39 19h0m13 6h0m12-28h0m0 27h0m90-17h0m-142 48h0m17-3h0m1-3h0m-10 38h0" stroke="#d4aa3a" stroke-width="5"/><path d="M689 698h0m69 14h0m235 5h0m-435 70h0m81-1h0m89-19h0m22 26h0m16-14h0m20-3h0m1 0h0m11 4h0m135 6h0m15-6h0m-511 34h0m187 3h0m11-13h0m11 13h0m13-1h0m24-15h0m7 23h0m11-2h0m31 3h0m27 0h0m35 9h0m16-20h0m10 5h0m22 0h0m39 7h0m23 9h0m13-1h0m16-23h0m48-6h0m-492 47h0m168-8h0m15 22h0m22 4h0m24-3h0m20 9h0m16-31h0m10 22h0m12 2h0m7-16h0m1 12h0m7-10h0m4 0h0m3-13h0m10 34h0m5-31h0m17 11h0m19-11h0m3 2h0m15 10h0m9 9h0m7-24h0m8 20h0m-242 33h0m10 7h0m2-13h0m31 1h0m29 25h0m26-21h0m4-8h0m12 18h0m4 5h0m3-2h0m56 8h0m12-29h0m12 13h0m3-18h0m10 14h0m70 17h0m39-12h0m102 10h0m-545 35h0m123-18h0m28-7h0m26 6h0m9 5h0m50 19h0m5-12h0m8-9h0m81 0h0m-122 47h0m16-11h0m10 5h0m5-10h0" stroke="#d4aa3a" stroke-width="6"/><path d="M241 654h0m550 52h0m31-3h0m171 1h0m-395 49h0m53-29h0m124 5h0m3 19h0m29-12h0m3 6h0m31-22h0m27 30h0m160-14h0m-431 35h0m38 25h0m2-31h0m14 12h0m9 2h0m23 13h0m34-19h0m38 7h0m1 2h0m12 9h0m4-10h0m5 8h0m29 7h0m26-17h0m14-9h0m1 15h0m64-5h0m22 4h0m186 1h0m-520 19h0m4 35h0m31-7h0m5-9h0m11-4h0m0-19h0m4 37h0m26-18h0m3 2h0m1-18h0m10 9h0m18 25h0m27-7h0m12-8h0m21-20h0m11 8h0m1 17h0m8-4h0m39-14h0m22 12h0m25 8h0m11-12h0m6 16h0m16-9h0m112-15h0m-464 64h0m41 1h0m36 1h0m24-30h0m50-2h0m40 24h0m2-27h0m1 25h0m44-7h0m10-14h0m5 14h0m1-13h0m30 6h0m55 11h0m37 4h0m-375 15h0m132 12h0m64 6h0m8 0h0m32 1h0m26-11h0m-231 35h0m184 0h0" stroke="#d4aa3a" stroke-width="7"/><path d="M663 674h0m-118 17h0m19 3h0m84 18h0m108-24h0m9 11h0m57-6h0m-385 28h0m72 34h0m8 1h0m92-7h0m12-1h0m1 9h0m6-32h0m11 21h0m40-7h0m10 19h0m37-31h0m23 16h0m18 15h0m30-18h0m26 11h0m6-2h0m4 3h0m125-15h0m118-4h0m-662 48h0m33-21h0m127 18h0m53-12h0m6 30h0m26-27h0m2 25h0m30-21h0m44 13h0m0-8h0m14 2h0m2 17h0m14-18h0m7 13h0m41-23h0m10 7h0m3 22h0m71-36h0m66 4h0m-472 43h0m97-5h0m125 2h0m6 0h0m41 30h0m27-36h0m6 9h0m1 19h0m73 2h0m1-3h0m7 11h0m6-23h0m6 6h0m66 7h0m15-5h0m32-18h0m-417 51h0m3 16h0m71-11h0m7 2h0m85-19h0m2-3h0m29 31h0m34-26h0m6 1h0m0 24h0m11-27h0m36 4h0m18 24h0m-177 41h0m17-30h0m10 17h0m62 16h0m116-6h0" stroke="#d4aa3a" stroke-width="8"/><path d="M514 627h0m211-13h0m-120 26h0m200 12h0m13 17h0m-189 13h0m2 0h0m51 21h0m115-13h0m4-8h0m37 1h0m25 25h0m16-16h0m39 22h0m4-12h0m7-21h0m-282 76h0m78-1h0m18-29h0m11 22h0m2 8h0m4-26h0m10 20h0m30 3h0m35-13h0m31-4h0m14-14h0m27 13h0m113 16h0m12-6h0m68-25h0m45 12h0m-749 38h0m153 0h0m125 24h0m18-29h0m5-1h0m13 13h0m48-15h0m50 6h0m6 3h0m23 19h0m13-10h0m17-17h0m8 34h0m30-6h0m30-32h0m32 34h0m-384 10h0m32 15h0m1 1h0m85-2h0m14 8h0m22-3h0m2-14h0m22 19h0m16-26h0m61 18h0m23 15h0m18-8h0m31-12h0m26-10h0m-352 35h0m108 0h0m103 21h0m34 13h0m19-15h0m57 7h0" stroke="#d4aa3a" stroke-width="9"/><path d="M526 636h0m91-26h0m200 26h0m12 0h0m17 3h0m80-5h0m-383 19h0m131 17h0m13-21h0m26 8h0m9 15h0m26-4h0m50 0h0m28 9h0m200-5h0m-526 10h0m47 37h0m103-5h0m23-9h0m20 6h0m8-8h0m31-7h0m32 2h0m18 3h0m13 18h0m8-17h0m10-20h0m3 35h0m20-10h0m40-6h0m7 14h0m68-12h0m36-8h0m34 8h0m-232 54h0m7-24h0m61 15h0m23-10h0m271-2h0m-541 62h0m37-30h0m17 6h0m42-9h0m17 20h0m62-4h0m36-21h0m27 22h0m2 15h0m31-8h0m14-10h0m12-7h0m62-3h0m82 6h0m-295 64h0m159-5h0m73-27h0m-424 51h0m94-18h0" stroke="#d4aa3a" stroke-width="10"/><path d="M437 619h0m62 2h0m43 3h0m80 48h0m50-13h0m28-16h0m25 36h0m46-5h0m8-18h0m10 10h0m34 4h0m-364 27h0m145-1h0m13 3h0m65 13h0m59-29h0m52 17h0m32 1h0m29-13h0m5 9h0m19 0h0m20 17h0m19-18h0m100-15h0m34 10h0m18 21h0m-577 14h0m282 20h0m18-16h0m6 0h0m8 15h0m15-22h0m3 5h0m91 26h0m14-25h0m25 13h0m41-13h0m97 21h0m-283 23h0m2 0h0m-188 46h0m36 6h0m9-8h0m151 21h0" stroke="#d4aa3a" stroke-width="11"/><path d="M544 560h0m140 34h0m224 2h0m-387 39h0m40-15h0m275-11h0m-445 44h0m109-9h0m154 11h0m35-4h0m17 3h0m12 19h0m64 6h0m68-38h0m58 9h0m70-6h0m100 34h0m-851 28h0m364-5h0m17-8h0m84 18h0m24-3h0m76-27h0m25 24h0m106 14h0m-261 1h0m54 5h0m99-3h0m-111 54h0m58 10h0m29-7h0" stroke="#d4aa3a" stroke-width="12"/><path d="M917 568h0m-228 65h0m94-21h0m132 12h0m-539 42h0m2-19h0m133 27h0m231-23h0m11-6h0m4 24h0m127 3h0m5-29h0m-355 53h0m161-11h0m233 7h0m-406 29h0m277 20h0m75-11h0m262 2h0m-167 73h0" stroke="#d4aa3a" stroke-width="13"/><path d="M743 499h0m-132 45h0m83 53h0m60 30h0m-54 44h0m259-15h0m116 5h0m-394 50h0m190 17h0" stroke="#d4aa3a" stroke-width="14"/><path d="M664 558h0m64-10h0m-546 31h0m540 42h0m68-3h0m25 49h0m-297 48h0m136 17h0" stroke="#d4aa3a" stroke-width="15"/><path d="M924 511h0m-48 47h0m-260 20h0m86 32h0m185 20h0m41-2h0" stroke="#d4aa3a" stroke-width="16"/><path d="M585 546h0m75 12h0m-338 26h0m457-6h0m43 8h0m-344 31h0m202 12h0m9-16h0m57 11h0m253-6h0m210 9h0" stroke="#d4aa3a" stroke-width="17"/><path d="M552 502h0m189 107h0m1 42h0m-76 33h0" stroke="#d4aa3a" stroke-width="18"/><path d="M670 548h0m362 72h0" stroke="#d4aa3a" stroke-width="19"/><path d="M321 488h0m562 12h0m-107 135h0m-202 69h0" stroke="#d4aa3a" stroke-width="20"/><path d="M706 953h0m70-5h0m-111 33h0m37 13h0m2-7h0m5 5h0m1 3h0m22-4h0m6-1h0m3-24h0m28 23h0m7 0h0m13-27h0m4 3h0m6 25h0m53-19h0m-259 29h0m113 32h0m8-5h0m8 0h0m11-7h0m1-5h0m13 5h0m7 17h0m28-37h0m0 19h0m86 4h0m-152 56h0m3-10h0m19-16h0m8 24h0m16-23h0m-80 32h0m58 30h0m11-22h0m5-11h0m-24 58h0m10-16h0m7-1h0" stroke="#c066e0" stroke-width="3"/><path d="M857 825h0m-265 59h0m67 8h0m21 16h0m4-16h0m38 8h0m18-17h0m16 27h0m22-20h0m4 11h0m37 17h0m18-37h0m25 33h0m0-28h0m-225 55h0m22-14h0m9 27h0m9-21h0m24 6h0m5 19h0m17-28h0m5 13h0m1 12h0m2-6h0m3-22h0m5 19h0m2-23h0m1 29h0m8-6h0m14 1h0m6-11h0m2-9h0m9 12h0m35 4h0m40 6h0m38 9h0m45-27h0m-363 37h0m30 10h0m85-17h0m6 34h0m3-27h0m1 15h0m9-11h0m8 6h0m5 8h0m1-5h0m2 3h0m18 0h0m9-13h0m68 11h0m0-8h0m3 19h0m68-27h0m-216 41h0m34-6h0m1 4h0m2 12h0m7 14h0m7-7h0m2 15h0m11-7h0m7-22h0m6-2h0m9 19h0m6-25h0m35 2h0m-83 43h0m6 2h0m13-5h0m6 28h0m1-24h0m11 2h0m2-7h0m13 0h0m14 27h0m-82 19h0m17 22h0m10-25h0m7 23h0m8-21h0m0 0h0m4 29h0m-2 6h0m6 5h0" stroke="#c066e0" stroke-width="4"/><path d="M948 740h0m-320 38h0m88 19h0m24 15h0m9-1h0m156 5h0m67 8h0m-351 43h0m17 5h0m49-10h0m8 4h0m0-10h0m5 2h0m27 10h0m11-1h0m25 11h0m40-15h0m4-3h0m4-2h0m3-4h0m10 7h0m2-18h0m1 16h0m55-19h0m7 11h0m28 13h0m-306 53h0m0 2h0m2 0h0m25-30h0m84-6h0m20 10h0m49-11h0m8 26h0m18-9h0m8-8h0m3 17h0m7-6h0m7-17h0m2 4h0m17 19h0m7 10h0m0-1h0m2-27h0m2 4h0m20-14h0m55 14h0m-541 56h0m141-1h0m61-7h0m3-18h0m7-4h0m23 1h0m13 24h0m14-16h0m6 14h0m16-21h0m9-1h0m24-1h0m0 5h0m3-1h0m1 1h0m6 27h0m0-7h0m17-9h0m4 12h0m6 10h0m7-35h0m12 13h0m9-9h0m8 11h0m12-4h0m7 22h0m14-30h0m1 11h0m93-7h0m159 0h0m-605 38h0m131 13h0m18-7h0m84-4h0m13 28h0m3-19h0m5 11h0m9-19h0m6 10h0m2-11h0m4 26h0m1-9h0m28 4h0m5-26h0m5 20h0m7-10h0m-102 40h0m5-7h0m20 13h0m10 18h0m16-37h0m12 28h0m8-20h0m11 1h0m-64 34h0m3 7h0m7 14h0m3-26h0m0 1h0m8 23h0m5 12h0m13-26h0m24 4h0m0 3h0m-52 59h0m20 31h0m4-21h0m-22 36h0" stroke="#c066e0" stroke-width="5"/><path d="M385 714h0m412 11h0m69 30h0m152-27h0m26 16h0m-499 24h0m88 1h0m54-6h0m117 9h0m47 15h0m64 12h0m19-4h0m21-24h0m-273 68h0m7-4h0m36-25h0m7-7h0m8 14h0m7-9h0m2 25h0m1-21h0m7 21h0m8-1h0m4-8h0m5-13h0m3 19h0m4-13h0m4-7h0m2-8h0m54-2h0m28 0h0m16 33h0m5-33h0m10 13h0m11 4h0m4 8h0m-444 30h0m71-2h0m5 7h0m32-12h0m57 5h0m8 16h0m14-3h0m11-3h0m15-3h0m12 2h0m8-13h0m35 23h0m21-11h0m14-8h0m1 4h0m5 8h0m6-17h0m2 8h0m0-14h0m8 29h0m1 4h0m8-20h0m5 6h0m4-4h0m15-11h0m3-5h0m0 4h0m20-2h0m37 6h0m34 7h0m53-16h0m-372 49h0m7 30h0m13-16h0m31-23h0m7 10h0m2-2h0m6-3h0m17 16h0m18 1h0m0-3h0m23 14h0m4-10h0m3-3h0m1 9h0m23-1h0m9-8h0m30 6h0m31 0h0m7 12h0m4-28h0m29 22h0m7-7h0m15 9h0m2 3h0m-246 16h0m35 17h0m8-3h0m11-2h0m14-1h0m15-22h0m6 21h0m8-5h0m18 6h0m3 10h0m3-12h0m5-16h0m16 3h0m9 9h0m0-3h0m2-6h0m2-3h0m14 9h0m-127 38h0m11 26h0m73-20h0m123-1h0m3-18h0m-135 57h0m18 0h0m96 13h0m-143 16h0" stroke="#c066e0" stroke-width="6"/><path d="M615 717h0m44-31h0m89 32h0m73-9h0m106-11h0m-282 40h0m15-12h0m43 30h0m45-29h0m80 26h0m21-16h0m90 20h0m14-5h0m-468 25h0m91 7h0m58 12h0m116-35h0m2 5h0m10 33h0m65-30h0m18 12h0m72 3h0m24-11h0m8 25h0m13-21h0m37-12h0m8 18h0m12-5h0m22 0h0m38 21h0m-529 5h0m1 3h0m38-3h0m15 19h0m19-20h0m44 17h0m33-14h0m8 30h0m1-21h0m7 22h0m8-9h0m7 9h0m13-34h0m8 13h0m8 21h0m3-1h0m5-9h0m1-13h0m30 10h0m38-20h0m19-3h0m3 25h0m16 1h0m-436 48h0m147-16h0m12-3h0m65 6h0m18-14h0m4-2h0m4 33h0m84-4h0m4-22h0m40-8h0m8 11h0m5-5h0m0 10h0m75-2h0m2-17h0m10 30h0m118-24h0m-470 38h0m117 28h0m5 1h0m7-35h0m1 38h0m61-11h0m4-9h0m5-9h0m11-9h0m0 16h0m6 5h0m1 14h0m5-8h0m1-17h0m9-8h0m3 5h0m1 6h0m37 12h0m6-5h0m19 13h0m25-16h0m22-1h0m36 19h0m107-25h0m14-1h0m-359 42h0m46 13h0m2-23h0m28 21h0m19-9h0m140 4h0m-180 33h0m139 22h0m-187 21h0" stroke="#c066e0" stroke-width="7"/><path d="M687 619h0m-24 78h0m59 14h0m33-6h0m43 3h0m242-15h0m-516 41h0m110 8h0m53 3h0m3 14h0m27-14h0m3 11h0m49-21h0m38 9h0m42-7h0m88 13h0m-573 40h0m244-3h0m31-18h0m11 12h0m31-7h0m6 15h0m2 5h0m13-32h0m17 32h0m6-30h0m6 3h0m22 11h0m114 6h0m27 1h0m-297 48h0m69 1h0m9 0h0m29-10h0m15-6h0m25 4h0m6 8h0m6-2h0m62 9h0m1-3h0m19 2h0m30-28h0m6 15h0m201-13h0m38 2h0m-469 37h0m25 1h0m15 0h0m9-6h0m24 6h0m42-8h0m8 11h0m21-6h0m24 10h0m148-6h0m-266 44h0m25 17h0m56-17h0m19 2h0m3-4h0m6 2h0m23 19h0m-141 21h0m60-10h0m93 1h0m-183 77h0" stroke="#c066e0" stroke-width="8"/><path d="M844 616h0m-379 57h0m80-16h0m210 14h0m47 7h0m-271 31h0m36-5h0m74 14h0m82-13h0m48-16h0m18 8h0m33 15h0m3-19h0m44 11h0m49-9h0m-409 64h0m1-11h0m49-5h0m61 14h0m2-17h0m12-10h0m7 20h0m7 8h0m1-22h0m21-12h0m6 0h0m12 9h0m48 16h0m5-19h0m8 2h0m7 12h0m57-8h0m32-2h0m6-13h0m40 38h0m56 0h0m107-11h0m-541 37h0m56-10h0m122 2h0m28 1h0m48-17h0m12 23h0m24 12h0m18-19h0m13 0h0m36-7h0m46-8h0m9 8h0m15 26h0m2-9h0m-409 35h0m67-21h0m13 28h0m49-6h0m31-20h0m60 32h0m26-2h0m4-11h0m12-1h0m39 6h0m3-20h0m44 1h0m1 11h0m186-11h0m-395 34h0m55 27h0m200-7h0m-118 46h0m21 6h0" stroke="#c066e0" stroke-width="9"/><path d="M453 679h0m138-36h0m37-3h0m30 32h0m21-1h0m98-25h0m6 9h0m124 1h0m65-4h0m-435 55h0m13-8h0m73 2h0m42 9h0m32-15h0m19-4h0m62 20h0m47 1h0m10 5h0m31-34h0m10 21h0m66 11h0m5-35h0m-429 75h0m156-13h0m22-20h0m11 20h0m5-20h0m29 30h0m14 2h0m56 4h0m1-11h0m6-4h0m5-7h0m16 14h0m15 6h0m0 3h0m46-27h0m36 15h0m15-27h0m49 3h0m83-1h0m-419 76h0m57-19h0m10 5h0m187-6h0m26 20h0m25-10h0m-387 35h0m48-12h0m48 2h0m110 20h0m37-11h0m3-4h0" stroke="#c066e0" stroke-width="10"/><path d="M637 584h0m-234 35h0m280-2h0m81 21h0m-478 25h0m326-7h0m157 9h0m14-4h0m4-19h0m6 6h0m1 0h0m55 23h0m40-13h0m-328 51h0m80-25h0m107 31h0m10-28h0m365-4h0m-789 39h0m198 0h0m23 12h0m165 9h0m134-10h0m340 15h0m-503 38h0m113 11h0m179-16h0m-252 29h0m96 27h0" stroke="#c066e0" stroke-width="11"/><path d="M781 597h0m-260 33h0m101-25h0m125 4h0m14 15h0m110 2h0m-194 29h0m9-1h0m38-4h0m10-2h0m16 29h0m196-6h0m11-16h0m-347 59h0m35 8h0m8 13h0m52-2h0m73 3h0m107 10h0" stroke="#c066e0" stroke-width="12"/><path d="M536 562h0m51 35h0m33-10h0m79 37h0m32-23h0m54 17h0m78 9h0m95-17h0m-346 67h0m142-27h0m73 14h0m45-14h0m148-8h0m-198 110h0m-309 50h0" stroke="#c066e0" stroke-width="13"/><path d="M643 550h0m44 6h0m162-3h0m10 13h0m-258 59h0m101-6h0m138 10h0m24-23h0m6 4h0m-401 36h0m459 21h0m-446 15h0m245-1h0m54 32h0m119 2h0m-97 10h0" stroke="#c066e0" stroke-width="14"/><path d="M671 563h0m151 30h0m-128 41h0m30-14h0m106-9h0m86 7h0m-339 41h0m84-7h0m256 47h0m-422 33h0m171 36h0" stroke="#c066e0" stroke-width="15"/><path d="M509 502h0m-251 30h0m163 48h0m191-18h0m101 6h0m-124 70h0m44-28h0m11 12h0m-91 29h0m177-5h0m-127 68h0" stroke="#c066e0" stroke-width="16"/><path d="M525 515h0m96 75h0m129-29h0m-326 44h0m299 40h0m121 68h0" stroke="#c066e0" stroke-width="17"/><path d="M730 555h0m10 0h0m119-10h0m-175 32h0m200 145h0" stroke="#c066e0" stroke-width="18"/><path d="M771 564h0m222 19h0" stroke="#c066e0" stroke-width="19"/><path d="M401 593h0m285-17h0" stroke="#c066e0" stroke-width="20"/><path d="M797 931h0m-62 39h0m26 16h0m-102 16h0m79 29h0m153 44h0m-147 17h0m-13 32h0" stroke="#9aa0a8" stroke-width="3"/><path d="M814 844h0m-214 70h0m188-2h0m22-31h0m-137 63h0m156-24h0m80 16h0m-129 49h0m-104 29h0m40 2h0m53 2h0m-49 48h0m5-9h0m8 112h0" stroke="#9aa0a8" stroke-width="4"/><path d="M742 745h0m44 48h0m-170 9h0m116 25h0m73-25h0m121 35h0m21-1h0m-392 34h0m72 2h0m51-10h0m14-8h0m73-7h0m21 6h0m32 14h0m51 11h0m-584 16h0m215-5h0m113 4h0m32 17h0m58-14h0m45 21h0m56-33h0m-23 50h0m2 8h0m20 5h0m34-4h0m-180 50h0m67-21h0m5 7h0m80-9h0m-269 32h0m210 17h0m24-18h0m-23 39h0m10 7h0m-25 36h0" stroke="#9aa0a8" stroke-width="5"/><path d="M707 701h0m82 21h0m-335 50h0m56 5h0m69 15h0m14-27h0m189 16h0m105 9h0m9-7h0m28 4h0m47-15h0m53 1h0m-421 37h0m46 18h0m2-10h0m69 11h0m4-18h0m25 25h0m58-36h0m3 31h0m8-16h0m17 24h0m7-3h0m93-23h0m6 21h0m-330 44h0m9-26h0m22-2h0m15 1h0m79-6h0m13 9h0m41 10h0m9-7h0m14-1h0m3-1h0m5-12h0m23 1h0m17 0h0m9 21h0m16-25h0m27 25h0m263 5h0m-706 38h0m228-24h0m6 18h0m5-21h0m45 24h0m14 12h0m0-36h0m6 4h0m11 1h0m13 29h0m26-11h0m5 9h0m48-32h0m33 10h0m210 7h0m-447 49h0m56-6h0m19-6h0m21-2h0m9 20h0m10 3h0m23-34h0m36 44h0" stroke="#9aa0a8" stroke-width="6"/><path d="M666 677h0m12 40h0m150-34h0m-45 47h0m2 16h0m18 6h0m76-18h0m49 17h0m-329 48h0m3-39h0m85 31h0m23-7h0m40-14h0m2 27h0m32-3h0m31-3h0m52 4h0m8-12h0m30-6h0m10-1h0m192 22h0m214-19h0m-779 49h0m81-13h0m22-5h0m23-10h0m32 19h0m38-2h0m5 3h0m20 10h0m1 9h0m3-14h0m10 13h0m12-28h0m58 7h0m9 9h0m37 6h0m9-26h0m202 9h0m-507 30h0m65 4h0m47-6h0m24 14h0m46 17h0m2-31h0m13 31h0m58-9h0m18 4h0m9-17h0m150 18h0m-410 30h0m47-6h0m23 14h0m6-26h0m18-1h0m50 32h0m58-33h0m20 1h0m67 2h0m-179 57h0m28 78h0" stroke="#9aa0a8" stroke-width="7"/><path d="M617 663h0m-5 44h0m303-9h0m-661 52h0m353-3h0m151 10h0m15-36h0m17 32h0m50-1h0m23-1h0m8 5h0m53 1h0m-409 5h0m8 34h0m121-20h0m34 0h0m32 20h0m5-8h0m28-28h0m1 31h0m84-1h0m28-6h0m11-21h0m-349 43h0m23 9h0m8-4h0m64-3h0m89 19h0m11-11h0m4 8h0m73 15h0m1-16h0m7-2h0m9 5h0m17-14h0m14 24h0m70-14h0m-214 32h0m25-12h0m4 7h0m21 30h0m57-13h0m2 7h0m13 5h0m8-35h0m-358 40h0m239 4h0m269-1h0m-156 58h0" stroke="#9aa0a8" stroke-width="8"/><path d="M528 679h0m181-12h0m372 2h0m-447 47h0m119-32h0m24 14h0m184 20h0m-389 18h0m10 2h0m6 13h0m121-4h0m17-8h0m45 2h0m35-7h0m119-4h0m53 23h0m62-27h0m86 9h0m-472 31h0m0-2h0m97 11h0m56 3h0m39 7h0m71-8h0m7 21h0m52-23h0m-210 43h0m4-17h0m43 29h0m7 2h0m66-18h0m90 13h0m-278 51h0m189 15h0m-77 28h0" stroke="#9aa0a8" stroke-width="9"/><path d="M735 606h0m-165 38h0m49-1h0m167 35h0m28-25h0m1 2h0m36-2h0m-515 31h0m181 3h0m2 2h0m83 8h0m44 1h0m104-10h0m11 26h0m15-30h0m24 10h0m109-2h0m16-2h0m90 19h0m-404 46h0m14-21h0m45-5h0m152 13h0m1 11h0m83-17h0m96 17h0m11-12h0m-418 26h0m106-5h0m127 26h0m30-28h0m31 17h0m-62 50h0m81-23h0m-20 46h0m-306 73h0" stroke="#9aa0a8" stroke-width="10"/><path d="M570 583h0m-166 51h0m248-5h0m181-6h0m60-13h0m-355 55h0m58 6h0m72 0h0m77 8h0m17-35h0m106 16h0m-273 58h0m148-35h0m3 20h0m81 9h0m30-1h0m135-8h0m-467 29h0m391 1h0m0-4h0m-364 50h0m261-15h0m54 5h0m54-2h0m-55 51h0" stroke="#9aa0a8" stroke-width="11"/><path d="M653 597h0m153-16h0m187-17h0m-420 64h0m238 4h0m29-10h0m-266 47h0m262-10h0m3-1h0m8-7h0m-265 29h0m1 0h0m14 5h0m442 3h0m-433 49h0m78-1h0m172-4h0m-249 66h0m171-3h0m121-28h0" stroke="#9aa0a8" stroke-width="12"/><path d="M514 593h0m4 30h0m331 6h0m141 50h0m-355 23h0m388 14h0m-402 6h0m254 3h0" stroke="#9aa0a8" stroke-width="13"/><path d="M638 582h0m16-3h0m-100 60h0m69-12h0m62-7h0m69 19h0m291-15h0m-497 42h0m51-2h0m121-15h0m3 58h0m113 4h0m-61 27h0m127 15h0m54 46h0" stroke="#9aa0a8" stroke-width="14"/><path d="M692 553h0m-71 39h0m0-17h0m111 10h0m-141 26h0m65 0h0m12-2h0m75 109h0" stroke="#9aa0a8" stroke-width="15"/><path d="M549 531h0m157 2h0m-159 59h0m138 31h0m185 51h0m-227 48h0" stroke="#9aa0a8" stroke-width="16"/><path d="M783 556h0m-318 34h0m369 20h0m24 24h0m-37 40h0" stroke="#9aa0a8" stroke-width="17"/><path d="M597 534h0m-22 36h0m170 14h0m159-24h0m-118 52h0m284 9h0" stroke="#9aa0a8" stroke-width="18"/><path d="M751 571h0m-105 70h0" stroke="#9aa0a8" stroke-width="19"/><path d="M738 940h0m6 113h0" stroke="#b8eccc" stroke-width="3"/><path d="M888 804h0m-112 68h0m-6 28h0m-153 59h0m79 5h0m67-4h0m-62 48h0m73 12h0m-11 41h0" stroke="#b8eccc" stroke-width="4"/><path d="M887 777h0m-208 95h0m124-26h0m77 15h0m-212 19h0m137 38h0m4 2h0m53 22h0m-118 75h0" stroke="#b8eccc" stroke-width="5"/><path d="M554 830h0m219 1h0m336-22h0m-306 55h0m60 3h0m-142 78h0m-21 43h0m15-1h0" stroke="#b8eccc" stroke-width="6"/><path d="M1033 759h0m-253 10h0m7 21h0m-129 16h0m100 31h0m249-3h0m-398 33h0m109-9h0m77-1h0m86 5h0m-319 26h0m108 10h0m410 4h0m-322 30h0" stroke="#b8eccc" stroke-width="7"/><path d="M787 713h0m-67 14h0m1 26h0m13-9h0m36-11h0m42 17h0m132-12h0m-186 35h0m54-4h0m-48 106h0m52-5h0" stroke="#b8eccc" stroke-width="8"/><path d="M690 711h0m91 3h0m-300 27h0m71 11h0m86 4h0m126-28h0m139 27h0m-130 5h0m122 58h0" stroke="#b8eccc" stroke-width="9"/><path d="M651 669h0m44 1h0m11-20h0m132 17h0m-87 13h0m-87 47h0m347 35h0" stroke="#b8eccc" stroke-width="10"/><path d="M1186 668h0m-448 25h0m52 43h0m284 12h0" stroke="#b8eccc" stroke-width="11"/><path d="M627 707h0" stroke="#b8eccc" stroke-width="12"/><path d="M690 625h0m218-21h0m-112 107h0m26-13h0m-214 81h0" stroke="#b8eccc" stroke-width="13"/><path d="M679 615h0m74-12h0m-291 43h0" stroke="#b8eccc" stroke-width="14"/><path d="M608 611h0m268-2h0m293-5h0" stroke="#b8eccc" stroke-width="16"/><path d="M823 684h0" stroke="#b8eccc" stroke-width="17"/><path d="M822 613h0" stroke="#b8eccc" stroke-width="19"/><path d="M823 923h0m-141 57h0m79 43h0m-177 60h0" stroke="#b4dcff" stroke-width="3"/><path d="M750 886h0m135-2h0m-196 50h0m148 22h0" stroke="#b4dcff" stroke-width="4"/><path d="M889 873h0m15-18h0m-465 47h0" stroke="#b4dcff" stroke-width="5"/><path d="M693 789h0m-98 19h0m55 34h0m166 75h0m-12 19h0m-30 86h0" stroke="#b4dcff" stroke-width="6"/><path d="M824 768h0m92 3h0m-306 53h0m24 13h0m114-32h0m322 33h0m-259 34h0" stroke="#b4dcff" stroke-width="7"/><path d="M925 701h0m-453 51h0m49-11h0m304 150h0" stroke="#b4dcff" stroke-width="8"/><path d="M522 710h0m235-27h0m-10 150h0" stroke="#b4dcff" stroke-width="9"/><path d="M432 731h0m82 55h0m329-17h0m-153 73h0" stroke="#b4dcff" stroke-width="10"/><path d="M884 712h0" stroke="#b4dcff" stroke-width="12"/><path d="M782 586h0" stroke="#b4dcff" stroke-width="14"/><path d="M870 621h0" stroke="#b4dcff" stroke-width="16"/><path d="M614 581h0" stroke="#b4dcff" stroke-width="17"/><path d="M834 1000h0" stroke="#e4e6e8" stroke-width="3"/><path d="M861 911h0m-41 22h0m-95 58h0m39-1h0m290-27h0m-374 38h0m54 45h0m1 13h0m24 47h0" stroke="#e4e6e8" stroke-width="4"/><path d="M789 870h0m14 2h0m-131 46h0m33 1h0m38-25h0m8 17h0m-82 10h0m45 94h0m30 122h0" stroke="#e4e6e8" stroke-width="5"/><path d="M888 768h0m5-5h0m-312 63h0m120 3h0m41-20h0m22-9h0m141 22h0m-178 26h0m4 24h0m27 42h0m153-28h0" stroke="#e4e6e8" stroke-width="6"/><path d="M710 708h0m91 37h0m341 39h0m-474 40h0m26 15h0m34-28h0m77 21h0m-112 30h0m1 10h0m89-17h0m69 11h0" stroke="#e4e6e8" stroke-width="7"/><path d="M686 649h0m-92 57h0m77 11h0m93-2h0m74 34h0m8 6h0m35-31h0m49 35h0m88-13h0m-259 61h0m-82 35h0m87 20h0m47-3h0" stroke="#e4e6e8" stroke-width="8"/><path d="M800 675h0m287-17h0m-288 99h0m122-31h0m-353 34h0m297 3h0m-240 42h0" stroke="#e4e6e8" stroke-width="9"/><path d="M800 650h0m-218 105h0m66-6h0m39-12h0m33-9h0m150 8h0" stroke="#e4e6e8" stroke-width="10"/><path d="M636 646h0m113 2h0m108-7h0m-183 50h0m53 32h0m273 0h0" stroke="#e4e6e8" stroke-width="11"/><path d="M681 623h0m225-20h0m-207 53h0m41 69h0m111 110h0" stroke="#e4e6e8" stroke-width="12"/><path d="M894 588h0m5 23h0m-401 147h0" stroke="#e4e6e8" stroke-width="13"/><path d="M650 568h0m24 115h0" stroke="#e4e6e8" stroke-width="14"/><path d="M465 585h0m457-3h0m-414 51h0m109-21h0m139 17h0" stroke="#e4e6e8" stroke-width="15"/><path d="M841 693h0" stroke="#e4e6e8" stroke-width="17"/><path d="M1107 524h0m-220 40h0m-348 55h0" stroke="#e4e6e8" stroke-width="18"/><path d="M608 493h0m316 59h0" stroke="#e4e6e8" stroke-width="19"/><path d="M621 913h0m-10 62h0m132 15h0m-115 39h0m82-8h0m96-3h0m-83 137h0" stroke="#dcc8ff" stroke-width="3"/><path d="M699 906h0m53-4h0m241 7h0m-255 28h0m35-4h0m64 3h0m-177 54h0m73 9h0m13-39h0m-2 52h0m2-3h0m4 19h0" stroke="#dcc8ff" stroke-width="4"/><path d="M565 818h0m150 41h0m0-4h0m54 16h0m56 4h0m76-15h0m-140 40h0m29-16h0m57 25h0m-89 25h0m79-1h0m15-10h0m144-1h0m-249 76h0m2-31h0m156 28h0m-302 26h0m19-19h0m121 44h0m12 9h0" stroke="#dcc8ff" stroke-width="5"/><path d="M662 754h0m378-10h0m-227 48h0m-200 40h0m202 5h0m-62 41h0m68-28h0m128 2h0m8 10h0m-307 55h0m107-15h0m18 14h0m217 3h0m103-22h0m-452 49h0m67-21h0m20 20h0m15-17h0m72 5h0m44 16h0" stroke="#dcc8ff" stroke-width="6"/><path d="M675 793h0m44 4h0m22-18h0m73 18h0m145-26h0m-323 30h0m107 17h0m47 5h0m39-4h0m1 19h0m24-3h0m15-22h0m4-5h0m66 31h0m-213 33h0m44-5h0m0-18h0m97 16h0m-119 18h0m55 11h0m82-4h0" stroke="#dcc8ff" stroke-width="7"/><path d="M603 677h0m148-12h0m-178 22h0m143 28h0m73 1h0m102-2h0m-274 43h0m90-4h0m68 3h0m-261 5h0m150 23h0m-2 32h0m142 2h0m106-9h0m-223 41h0m-185 60h0" stroke="#dcc8ff" stroke-width="8"/><path d="M658 592h0m54 110h0m1 14h0m13-28h0m192 11h0m-92 34h0m19 7h0m26-16h0m33 1h0m38 34h0m-68 39h0m-304 30h0m33-17h0m19 13h0m86-15h0m29 25h0m2-29h0m111 7h0m-133 53h0m-34 22h0m120 29h0m93-32h0" stroke="#dcc8ff" stroke-width="9"/><path d="M565 638h0m163-8h0m-97 44h0m4 5h0m185 6h0m-209 57h0m282-16h0m10 0h0m-140 55h0m23-12h0m86 1h0m33 22h0m-290 41h0m138-16h0m32-1h0m-41 88h0" stroke="#dcc8ff" stroke-width="10"/><path d="M520 636h0m-73 30h0m267 2h0m285-4h0m-494 24h0m210 15h0m175 1h0m0-20h0m-462 39h0m386 53h0m-75 51h0m66 8h0" stroke="#dcc8ff" stroke-width="11"/><path d="M528 604h0m281 6h0m-135 42h0m-121 42h0m26-9h0m126-3h0m223 29h0m-97 15h0m51 0h0" stroke="#dcc8ff" stroke-width="12"/><path d="M893 623h0m68 3h0m-314 90h0m95-5h0m22-5h0" stroke="#dcc8ff" stroke-width="13"/><path d="M590 586h0m85-5h0m169-15h0" stroke="#dcc8ff" stroke-width="14"/><path d="M806 697h0" stroke="#dcc8ff" stroke-width="15"/><path d="M1057 599h0m-125 43h0m-334 54h0" stroke="#dcc8ff" stroke-width="16"/><path d="M716 538h0m-294 47h0m145 11h0m181 15h0" stroke="#dcc8ff" stroke-width="17"/><path d="M727 559h0" stroke="#dcc8ff" stroke-width="18"/><path d="M532 509h0" stroke="#dcc8ff" stroke-width="20"/><path d="M766 995h0m-18 27h0m12-19h0" stroke="#66d888" stroke-width="3"/><path d="M738 838h0m26 56h0m2 63h0m11-24h0m-90 42h0m20 16h0m6 5h0m1-21h0m30 2h0m14 8h0m18-2h0m129-19h0m12 5h0m-212 56h0m37-21h0m2 31h0m13-30h0m1 34h0m16-25h0m-36 68h0m8 25h0m-24 62h0" stroke="#66d888" stroke-width="4"/><path d="M1106 781h0m-369 49h0m0-8h0m5 54h0m-116 15h0m182-10h0m6 15h0m123 7h0m-237 38h0m33-15h0m-34 46h0m32-12h0m99 13h0m-81 41h0m-1 50h0" stroke="#66d888" stroke-width="5"/><path d="M627 753h0m0 43h0m45-3h0m210-9h0m-81 50h0m43-1h0m-271 21h0m190 16h0m44-29h0m-110 59h0m80-19h0m13 9h0m11 5h0m77-13h0m-4 51h0" stroke="#66d888" stroke-width="6"/><path d="M742 703h0m-51 33h0m4 0h0m117-2h0m96-13h0m-283 42h0m201 34h0m28-13h0m-390 44h0m149-22h0m74-4h0m56 30h0m27-5h0m18 11h0m36-21h0m29-5h0m-104 37h0" stroke="#66d888" stroke-width="7"/><path d="M798 722h0m2 37h0m-108 12h0m73 17h0m-124 42h0m87-14h0m157-5h0m50-7h0m91 31h0m-369 41h0m71 8h0" stroke="#66d888" stroke-width="8"/><path d="M824 664h0m-291 21h0m182 73h0m291 13h0m-469 59h0m389-7h0" stroke="#66d888" stroke-width="9"/><path d="M653 668h0m201 1h0m-274 16h0m251 6h0m-3 68h0m5-29h0m-171 38h0m102 13h0m-40 29h0" stroke="#66d888" stroke-width="10"/><path d="M610 621h0m5 57h0" stroke="#66d888" stroke-width="11"/><path d="M564 688h0m272 79h0" stroke="#66d888" stroke-width="12"/><path d="M658 579h0m202 26h0" stroke="#66d888" stroke-width="13"/><path d="M883 573h0" stroke="#66d888" stroke-width="14"/><path d="M682 587h0m29 144h0" stroke="#66d888" stroke-width="15"/><path d="M745 591h0" stroke="#66d888" stroke-width="16"/><path d="M650 551h0m153 2h0m138-6h0" stroke="#66d888" stroke-width="17"/></g><g fill-opacity="0.7"><circle class="C" cx="175.5" cy="147.2" r="2.8"/><circle class="C" cx="199.8" cy="146.5" r="3.2"/><circle class="C" cx="193.4" cy="126.1" r="5.4"/><circle class="G" cx="155.5" cy="131.0" r="2.7"/><circle class="G" cx="157.8" cy="121.4" r="3.9"/><circle class="J" cx="194.8" cy="114.6" r="3.8"/><circle class="C" cx="201.4" cy="138.2" r="2.6"/><circle class="I" cx="202.8" cy="124.3" r="3.3"/><circle class="C" cx="161.3" cy="151.3" r="3.4"/><circle class="I" cx="165.5" cy="124.5" r="2.8"/><circle class="C" cx="162.8" cy="141.6" r="2.7"/><circle class="C" cx="88.2" cy="126.4" r="3.8"/><circle class="L" cx="179.3" cy="131.4" r="3.0"/><circle class="I" cx="151.8" cy="136.1" r="3.3"/><circle class="G" cx="203.0" cy="126.1" r="2.8"/><circle class="L" cx="177.3" cy="117.7" r="3.8"/><circle class="G" cx="185.3" cy="119.2" r="3.3"/><circle class="C" cx="142.1" cy="135.6" r="2.5"/><circle class="H" cx="72.8" cy="131.7" r="2.9"/><circle class="G" cx="147.9" cy="101.9" r="3.9"/><circle class="C" cx="188.4" cy="114.5" r="4.1"/><circle class="C" cx="208.1" cy="103.1" r="4.1"/><circle class="C" cx="293.4" cy="97.9" r="4.3"/><circle class="C" cx="223.4" cy="128.2" r="4.8"/><circle class="A" cx="188.3" cy="133.4" r="2.8"/><circle class="Q" cx="201.3" cy="105.9" r="4.7"/><circle class="C" cx="217.1" cy="109.1" r="4.2"/><circle class="J" cx="145.4" cy="129.2" r="2.7"/><circle class="C" cx="165.2" cy="123.3" r="4.5"/><circle class="G" cx="199.3" cy="118.9" r="3.2"/><circle class="C" cx="106.0" cy="125.4" r="2.7"/><circle class="F" cx="182.2" cy="133.8" r="2.8"/><circle class="C" cx="242.6" cy="120.3" r="2.9"/><circle class="C" cx="93.1" cy="135.9" r="2.7"/><circle class="C" cx="131.4" cy="136.2" r="2.7"/><circle class="C" cx="168.5" cy="113.4" r="2.8"/><circle class="C" cx="181.3" cy="78.9" r="3.6"/><circle class="C" cx="147.5" cy="120.9" r="4.6"/><circle class="N" cx="151.5" cy="102.1" r="4.4"/><circle class="C" cx="164.7" cy="148.1" r="3.4"/><circle class="J" cx="158.2" cy="134.2" r="2.6"/><circle class="L" cx="164.0" cy="134.0" r="2.7"/><circle class="C" cx="116.1" cy="104.1" r="4.8"/><circle class="C" cx="238.4" cy="102.2" r="6.6"/><circle class="E" cx="112.9" cy="122.9" r="3.0"/><circle class="G" cx="229.2" cy="141.8" r="3.4"/><circle class="J" cx="199.4" cy="123.1" r="2.9"/><circle class="G" cx="112.4" cy="133.1" r="2.5"/><circle class="F" cx="170.0" cy="101.3" r="3.9"/><circle class="G" cx="219.4" cy="120.4" r="4.2"/><circle class="M" cx="221.1" cy="136.0" r="2.9"/><circle class="I" cx="108.1" cy="122.6" r="2.9"/><circle class="M" cx="138.3" cy="114.0" r="3.5"/><circle class="C" cx="136.4" cy="145.9" r="3.4"/><circle class="G" cx="188.7" cy="122.6" r="2.7"/><circle class="I" cx="153.4" cy="150.0" r="3.3"/><circle class="C" cx="217.6" cy="128.8" r="2.8"/><circle class="F" cx="131.5" cy="127.6" r="3.1"/><circle class="N" cx="263.0" cy="115.0" r="3.1"/><circle class="I" cx="231.0" cy="123.2" r="2.5"/><circle class="C" cx="148.2" cy="133.6" r="2.7"/><circle class="F" cx="167.2" cy="128.7" r="2.7"/><circle class="C" cx="247.3" cy="137.9" r="2.6"/><circle class="F" cx="131.2" cy="134.8" r="3.4"/><circle class="G" cx="157.9" cy="127.1" r="3.2"/><circle class="C" cx="174.2" cy="136.5" r="3.2"/><circle class="E" cx="234.2" cy="112.0" r="4.7"/><circle class="C" cx="251.0" cy="113.3" r="3.0"/><circle class="L" cx="143.4" cy="131.4" r="2.6"/><circle class="C" cx="89.1" cy="121.6" r="3.2"/><circle class="F" cx="170.0" cy="130.1" r="3.2"/><circle class="G" cx="217.5" cy="124.0" r="3.1"/><circle class="E" cx="219.2" cy="114.0" r="3.5"/><circle class="C" cx="193.8" cy="126.9" r="2.8"/><circle class="J" cx="173.1" cy="94.7" r="2.9"/><circle class="C" cx="103.7" cy="115.1" r="3.7"/><circle class="E" cx="192.0" cy="157.0" r="2.6"/><circle class="G" cx="166.0" cy="129.2" r="3.7"/><circle class="M" cx="160.6" cy="117.7" r="2.8"/><circle class="I" cx="138.7" cy="123.2" r="3.0"/><circle class="I" cx="134.6" cy="115.1" r="3.6"/><circle class="L" cx="214.7" cy="103.8" r="4.4"/><circle class="G" cx="177.8" cy="115.1" r="2.6"/><circle class="M" cx="164.9" cy="103.3" r="6.3"/><circle class="M" cx="165.8" cy="121.1" r="3.8"/><circle class="I" cx="204.1" cy="106.9" r="5.9"/><circle class="G" cx="198.3" cy="132.7" r="3.3"/><circle class="I" cx="212.6" cy="117.0" r="2.9"/><circle class="J" cx="213.0" cy="135.6" r="2.7"/><circle class="J" cx="140.7" cy="129.1" r="3.0"/><circle class="I" cx="103.8" cy="115.3" r="3.6"/><circle class="G" cx="252.1" cy="98.3" r="2.9"/><circle class="C" cx="248.6" cy="97.0" r="4.8"/><circle class="C" cx="157.6" cy="109.3" r="3.6"/><circle class="E" cx="207.5" cy="138.6" r="2.9"/><circle class="G" cx="146.3" cy="120.2" r="3.3"/><circle class="G" cx="230.0" cy="112.8" r="3.0"/><circle class="J" cx="147.9" cy="145.7" r="2.5"/><circle class="G" cx="194.0" cy="134.8" r="3.0"/><circle class="C" cx="126.3" cy="116.1" r="5.0"/><circle class="G" cx="224.4" cy="137.2" r="3.0"/><circle class="G" cx="203.0" cy="119.1" r="3.4"/><circle class="G" cx="248.2" cy="147.4" r="3.4"/><circle class="N" cx="191.8" cy="113.3" r="4.0"/><circle class="B" cx="162.3" cy="103.8" r="4.0"/><circle class="G" cx="191.2" cy="122.7" r="3.3"/><circle class="C" cx="219.4" cy="111.4" r="5.1"/><circle class="C" cx="145.2" cy="142.5" r="2.6"/><circle class="C" cx="183.4" cy="122.9" r="5.0"/><circle class="G" cx="119.6" cy="124.1" r="3.0"/><circle class="M" cx="122.0" cy="143.0" r="2.6"/><circle class="M" cx="192.6" cy="122.2" r="3.1"/><circle class="E" cx="122.9" cy="100.4" r="6.0"/><circle class="G" cx="180.9" cy="127.1" r="2.6"/><circle class="C" cx="210.2" cy="130.2" r="2.8"/><circle class="C" cx="182.4" cy="116.8" r="4.1"/><circle class="G" cx="180.2" cy="120.0" r="4.0"/><circle class="F" cx="116.1" cy="125.8" r="3.4"/><circle class="C" cx="197.5" cy="140.7" r="3.5"/><circle class="G" cx="87.3" cy="120.8" r="3.1"/><circle class="C" cx="144.5" cy="113.8" r="4.1"/><circle class="J" cx="203.3" cy="144.5" r="2.7"/><circle class="C" cx="109.8" cy="121.8" r="4.0"/><circle class="C" cx="152.8" cy="128.4" r="2.8"/><circle class="C" cx="77.8" cy="136.1" r="3.0"/><circle class="F" cx="193.9" cy="108.9" r="3.4"/><circle class="C" cx="149.0" cy="124.4" r="2.9"/><circle class="C" cx="154.6" cy="111.5" r="3.8"/><circle class="G" cx="179.2" cy="133.8" r="2.6"/><circle class="G" cx="81.7" cy="141.7" r="2.5"/><circle class="C" cx="106.8" cy="136.5" r="3.8"/><circle class="A" cx="187.1" cy="100.3" r="5.7"/><circle class="G" cx="144.0" cy="108.9" r="3.0"/><circle class="J" cx="163.0" cy="128.0" r="2.5"/><circle class="F" cx="171.5" cy="141.2" r="2.7"/><circle class="N" cx="167.4" cy="122.6" r="3.6"/><circle class="G" cx="256.1" cy="136.3" r="2.6"/><circle class="C" cx="165.0" cy="132.6" r="3.6"/><circle class="H" cx="164.3" cy="104.9" r="4.4"/><circle class="C" cx="178.9" cy="135.9" r="3.1"/><circle class="E" cx="120.9" cy="91.2" r="4.1"/><circle class="J" cx="91.8" cy="88.6" r="5.2"/><circle class="J" cx="142.1" cy="82.0" r="5.0"/><circle class="J" cx="105.1" cy="137.5" r="3.2"/><circle class="C" cx="173.6" cy="154.5" r="2.8"/><circle class="G" cx="207.2" cy="108.4" r="4.3"/><circle class="F" cx="187.3" cy="148.0" r="2.7"/><circle class="G" cx="251.4" cy="113.5" r="4.8"/><circle class="C" cx="62.8" cy="115.1" r="3.3"/><circle class="G" cx="153.8" cy="133.2" r="2.7"/><circle class="G" cx="191.8" cy="114.1" r="4.2"/><circle class="C" cx="108.0" cy="112.6" r="3.9"/><circle class="C" cx="177.8" cy="134.1" r="3.9"/><circle class="I" cx="215.7" cy="119.4" r="3.8"/><circle class="E" cx="252.0" cy="120.3" r="3.8"/><circle class="C" cx="217.9" cy="161.4" r="3.2"/><circle class="C" cx="139.2" cy="140.6" r="2.9"/><circle class="C" cx="132.5" cy="159.1" r="2.5"/><circle class="L" cx="160.9" cy="127.1" r="4.3"/><circle class="C" cx="253.3" cy="103.5" r="5.3"/><circle class="N" cx="229.2" cy="112.9" r="4.3"/><circle class="F" cx="117.5" cy="135.4" r="3.0"/><circle class="C" cx="226.9" cy="144.5" r="2.9"/><circle class="C" cx="76.1" cy="107.0" r="5.3"/><circle class="C" cx="157.8" cy="138.5" r="2.7"/><circle class="C" cx="94.3" cy="114.9" r="3.3"/><circle class="M" cx="249.2" cy="136.6" r="3.0"/><circle class="J" cx="210.5" cy="122.6" r="4.4"/><circle class="C" cx="219.3" cy="122.8" r="3.2"/><circle class="C" cx="146.3" cy="124.0" r="3.2"/><circle class="G" cx="247.0" cy="127.2" r="3.2"/><circle class="G" cx="213.0" cy="145.9" r="2.7"/><circle class="M" cx="223.1" cy="136.0" r="2.6"/><circle class="G" cx="172.9" cy="118.4" r="3.5"/><circle class="G" cx="198.9" cy="130.3" r="3.2"/><circle class="E" cx="255.6" cy="100.6" r="3.3"/><circle class="G" cx="173.1" cy="109.0" r="4.9"/><circle class="M" cx="215.8" cy="129.2" r="3.2"/><circle class="C" cx="221.6" cy="124.8" r="2.5"/><circle class="F" cx="168.8" cy="136.5" r="2.8"/><circle class="C" cx="206.1" cy="120.5" r="2.9"/><circle class="G" cx="147.3" cy="129.9" r="2.7"/><circle class="A" cx="163.2" cy="90.4" r="5.2"/><circle class="G" cx="198.4" cy="123.6" r="2.6"/><circle class="I" cx="253.6" cy="133.4" r="3.0"/><circle class="G" cx="163.2" cy="105.0" r="4.0"/><circle class="G" cx="181.9" cy="130.4" r="3.0"/><circle class="L" cx="147.7" cy="137.6" r="2.8"/><circle class="I" cx="130.4" cy="109.4" r="4.9"/><circle class="J" cx="187.0" cy="139.9" r="2.9"/><circle class="I" cx="110.8" cy="129.5" r="2.9"/><circle class="J" cx="183.5" cy="121.7" r="3.3"/><circle class="A" cx="141.1" cy="130.2" r="3.6"/><circle class="G" cx="224.1" cy="95.5" r="3.5"/><circle class="G" cx="258.5" cy="130.7" r="2.7"/><circle class="C" cx="138.6" cy="118.5" r="3.3"/><circle class="E" cx="267.1" cy="112.1" r="3.2"/><circle class="R" cx="234.1" cy="124.3" r="3.8"/><circle class="C" cx="128.7" cy="109.3" r="4.2"/><circle class="G" cx="208.3" cy="124.0" r="4.3"/><circle class="J" cx="153.6" cy="100.5" r="3.7"/><circle class="Q" cx="117.2" cy="98.0" r="3.9"/><circle class="N" cx="189.3" cy="111.6" r="3.4"/><circle class="I" cx="141.1" cy="112.6" r="4.2"/><circle class="G" cx="179.9" cy="120.4" r="3.3"/><circle class="G" cx="195.9" cy="128.3" r="2.7"/><circle class="G" cx="168.0" cy="121.7" r="3.1"/><circle class="M" cx="129.1" cy="112.6" r="4.3"/><circle class="M" cx="172.1" cy="135.1" r="2.7"/><circle class="J" cx="124.5" cy="149.9" r="2.7"/><circle class="J" cx="152.1" cy="136.4" r="2.8"/><circle class="C" cx="155.5" cy="160.7" r="3.1"/><circle class="C" cx="281.3" cy="110.8" r="3.7"/><circle class="P" cx="96.7" cy="141.5" r="3.1"/><circle class="J" cx="142.6" cy="106.3" r="3.3"/><circle class="M" cx="193.3" cy="137.8" r="2.7"/><circle class="G" cx="228.3" cy="134.4" r="2.7"/><circle class="A" cx="170.3" cy="133.2" r="3.7"/><circle class="E" cx="204.6" cy="107.3" r="4.5"/><circle class="G" cx="141.0" cy="122.9" r="2.9"/><circle class="M" cx="146.7" cy="139.4" r="2.6"/><circle class="G" cx="139.2" cy="134.9" r="2.7"/><circle class="I" cx="199.7" cy="117.9" r="4.1"/><circle class="C" cx="137.5" cy="119.8" r="3.4"/><circle class="G" cx="182.5" cy="109.2" r="3.3"/><circle class="C" cx="198.3" cy="126.1" r="3.0"/><circle class="M" cx="142.8" cy="112.4" r="5.5"/><circle class="F" cx="201.0" cy="113.8" r="2.9"/><circle class="M" cx="182.6" cy="124.1" r="2.9"/><circle class="G" cx="155.3" cy="122.9" r="3.0"/><circle class="S" cx="148.6" cy="138.3" r="2.8"/><circle class="C" cx="176.2" cy="109.4" r="5.6"/><circle class="M" cx="171.7" cy="125.5" r="3.5"/><circle class="I" cx="86.5" cy="141.6" r="2.6"/><circle class="C" cx="187.6" cy="118.3" r="2.9"/><circle class="C" cx="163.9" cy="119.7" r="3.0"/><circle class="I" cx="267.9" cy="140.9" r="2.6"/><circle class="I" cx="220.7" cy="138.4" r="2.8"/><circle class="C" cx="147.2" cy="116.1" r="3.8"/><circle class="J" cx="202.0" cy="122.8" r="3.1"/><circle class="L" cx="183.5" cy="129.6" r="3.1"/><circle class="E" cx="236.7" cy="138.3" r="3.0"/><circle class="J" cx="129.3" cy="125.3" r="2.7"/><circle class="C" cx="123.3" cy="129.9" r="3.8"/><circle class="G" cx="177.9" cy="122.8" r="2.6"/><circle class="J" cx="112.7" cy="127.1" r="3.5"/><circle class="B" cx="217.8" cy="107.9" r="3.2"/><circle class="M" cx="110.8" cy="137.6" r="2.5"/><circle class="C" cx="132.7" cy="124.3" r="4.6"/><circle class="I" cx="162.5" cy="119.3" r="3.2"/><circle class="G" cx="190.3" cy="127.7" r="2.9"/><circle class="M" cx="264.6" cy="142.5" r="2.7"/><circle class="C" cx="98.4" cy="53.9" r="6.1"/><circle class="H" cx="62.9" cy="76.8" r="3.0"/><circle class="C" cx="90.9" cy="83.0" r="5.5"/><circle class="J" cx="90.9" cy="76.1" r="6.0"/><circle class="E" cx="97.7" cy="69.3" r="3.0"/><circle class="L" cx="112.4" cy="69.0" r="1.5"/><circle class="I" cx="125.7" cy="69.0" r="1.5"/><circle class="C" cx="142.1" cy="69.8" r="5.5"/><circle class="C" cx="137.0" cy="78.4" r="6.0"/><circle class="G" cx="148.6" cy="71.4" r="6.0"/><circle class="C" cx="117.1" cy="76.1" r="7.0"/><circle class="C" cx="107.8" cy="79.6" r="5.5"/><circle class="E" cx="99.6" cy="83.6" r="2.5"/><circle class="F" cx="110.0" cy="83.6" r="3.0"/><circle class="C" cx="120.6" cy="81.2" r="5.0"/><circle class="C" cx="166.2" cy="65.6" r="5.5"/><circle class="C" cx="173.2" cy="63.2" r="5.0"/><circle class="C" cx="169.2" cy="64.1" r="6.5"/><circle class="G" cx="182.5" cy="64.4" r="7.5"/><circle class="G" cx="185.0" cy="65.0" r="6.5"/><circle class="C" cx="165.0" cy="76.0" r="5.5"/><circle class="C" cx="167.3" cy="83.0" r="6.0"/><circle class="G" cx="201.8" cy="42.3" r="7.8"/><circle class="G" cx="213.6" cy="48.9" r="7.5"/><circle class="C" cx="59.2" cy="96.6" r="3.0"/><circle class="C" cx="74.6" cy="97.1" r="5.5"/><circle class="E" cx="82.0" cy="94.8" r="3.0"/><circle class="G" cx="95.4" cy="90.1" r="6.0"/><circle class="G" cx="110.0" cy="92.4" r="6.0"/><circle class="C" cx="126.4" cy="90.1" r="6.0"/><circle class="C" cx="145.1" cy="90.1" r="5.5"/><circle class="J" cx="142.8" cy="99.4" r="7.0"/><circle class="J" cx="163.8" cy="97.1" r="6.0"/><circle class="J" cx="187.2" cy="80.7" r="7.0"/><circle class="M" cx="181.4" cy="76.0" r="6.0"/><circle class="N" cx="188.2" cy="86.7" r="6.0"/><circle class="J" cx="183.8" cy="88.2" r="6.0"/><circle class="E" cx="194.7" cy="70.7" r="3.0"/><circle class="G" cx="195.5" cy="78.0" r="5.0"/><circle class="C" cx="198.4" cy="91.1" r="7.0"/><circle class="E" cx="166.3" cy="88.2" r="2.5"/><circle class="C" cx="220.4" cy="60.2" r="6.0"/><circle class="C" cx="214.7" cy="67.1" r="6.0"/><circle class="C" cx="207.3" cy="72.1" r="6.0"/><circle class="C" cx="204.2" cy="69.2" r="5.0"/><circle class="I" cx="214.7" cy="82.0" r="5.5"/><circle class="M" cx="232.1" cy="82.5" r="3.0"/><circle class="G" cx="218.0" cy="92.7" r="6.0"/><circle class="C" cx="227.9" cy="92.0" r="5.5"/><circle class="C" cx="244.0" cy="88.2" r="3.0"/><circle class="C" cx="257.4" cy="91.2" r="3.0"/><circle class="C" cx="249.5" cy="100.6" r="5.5"/><circle class="C" cx="237.6" cy="95.7" r="3.0"/><circle class="L" cx="262.4" cy="75.1" r="3.0"/><circle class="C" cx="287.9" cy="67.6" r="8.0"/><circle class="C" cx="279.3" cy="89.5" r="6.0"/><circle class="C" cx="292.9" cy="92.0" r="7.5"/><circle class="C" cx="284.2" cy="96.9" r="5.5"/><circle class="M" cx="302.1" cy="92.7" r="6.0"/><circle class="L" cx="286.7" cy="93.2" r="2.5"/><circle class="C" cx="315.7" cy="78.8" r="3.0"/><circle class="C" cx="321.9" cy="96.9" r="3.0"/><circle class="C" cx="316.0" cy="103.6" r="3.0"/><circle class="L" cx="275.0" cy="99.4" r="1.5"/><circle class="L" cx="307.8" cy="87.0" r="1.5"/><circle class="G" cx="290.0" cy="114.2" r="8.0"/><circle class="F" cx="335.6" cy="117.7" r="3.0"/><circle class="H" cx="244.2" cy="121.2" r="6.0"/><circle class="F" cx="176.7" cy="51.3" r="0.6"/><circle class="E" cx="226.9" cy="104.2" r="3.0"/></g><g transform="scale(0.25)" stroke-linecap="round" fill="none" stroke-opacity="0.85"><path d="M830 740h0" stroke="#2db52d" stroke-width="5"/><path d="M608 613h0m234 161h0" stroke="#2db52d" stroke-width="8"/><path d="M640 673h0" stroke="#2db52d" stroke-width="9"/><path d="M625 627h0m-2 47h0m87 24h0m187 10h0" stroke="#2db52d" stroke-width="10"/><path d="M621 603h0m88 36h0" stroke="#2db52d" stroke-width="11"/><path d="M1056 730h0" stroke="#2db52d" stroke-width="12"/><path d="M866 660h0m-146 47h0" stroke="#2db52d" stroke-width="13"/><path d="M690 673h0" stroke="#2db52d" stroke-width="14"/><path d="M573 570h0" stroke="#2db52d" stroke-width="17"/><path d="M476 426h0" stroke="#2db52d" stroke-width="20"/><path d="M749 880h0m-112 81h0" stroke="#c8287a" stroke-width="3"/><path d="M613 843h0m40 59h0m56-22h0m32 42h0m29 31h0m-40 40h0m15-22h0m17 18h0m137-5h0m-182 41h0m125 16h0m-95 58h0" stroke="#c8287a" stroke-width="4"/><path d="M779 839h0m114-36h0m31 9h0m-213 78h0m40 25h0m38-18h0m49 14h0m-185 48h0m36-9h0m33 9h0m1-28h0m72 3h0m16-11h0m46 9h0m13 9h0m-209 40h0m32 11h0m48 7h0m11-32h0m22 8h0m18 0h0m-52 110h0" stroke="#c8287a" stroke-width="5"/><path d="M871 749h0m-210 73h0m140 9h0m197-11h0m-325 33h0m3 25h0m50-3h0m108-31h0m24 1h0m29 9h0m16-3h0m-272 40h0m83-2h0m23-9h0m27 25h0m37-15h0m11 23h0m-16 23h0m2 7h0m-138 41h0" stroke="#c8287a" stroke-width="6"/><path d="M548 707h0m439 1h0m-323 49h0m51-30h0m55-2h0m73 3h0m206 16h0m-466 26h0m154 6h0m104 0h0m22-13h0m117 16h0m-286 40h0m49 5h0m56 14h0m30-32h0m32-5h0m45 9h0m167 4h0m-625 26h0m235 20h0m119-10h0m31 9h0m7 15h0m-136 12h0m24 11h0m2-3h0" stroke="#c8287a" stroke-width="7"/><path d="M692 664h0m121-2h0m-273 48h0m181-22h0m-67 66h0m116-2h0m67-8h0m32-24h0m-315 61h0m172 1h0m61-15h0m45 6h0m202-10h0m-448 43h0m32-3h0m19-1h0m129 14h0m34 1h0m71 9h0m5 1h0m19-10h0m113 8h0m-268 39h0m0-18h0" stroke="#c8287a" stroke-width="8"/><path d="M897 651h0m77 6h0m-203 42h0m88 9h0m74 9h0m-288 14h0m60-9h0m55 21h0m-101 27h0m128 28h0m80-36h0m-252 59h0m141-9h0m82-7h0m43 43h0m24 0h0" stroke="#c8287a" stroke-width="9"/><path d="M352 650h0m242-6h0m46 25h0m110 3h0m77-7h0m11 14h0m38-4h0m237-11h0m-614 41h0m117-10h0m78 22h0m17-2h0m120-20h0m26 1h0m-228 44h0m57-16h0m158 13h0m-220 44h0m27-13h0m46-6h0m54 31h0m154-6h0" stroke="#c8287a" stroke-width="10"/><path d="M532 627h0m173-13h0m7 12h0m201 3h0m135 9h0m-529 31h0m125 0h0m77-14h0m12 12h0m10 6h0m127-13h0m4-10h0m-290 51h0m249-7h0m131 18h0m251 5h0m-527 40h0m16-15h0m59 4h0m16-11h0m34 1h0m57-15h0m-234 73h0m140-11h0m62-4h0" stroke="#c8287a" stroke-width="11"/><path d="M630 568h0m117 28h0m-148 27h0m169 16h0m101-9h0m140-20h0m-538 34h0m210 29h0m32-15h0m32-9h0m69-5h0m72 16h0m-172 46h0m68 11h0m132-7h0m447 1h0m-699 12h0" stroke="#c8287a" stroke-width="12"/><path d="M923 558h0m16 9h0m27 24h0m-466 14h0m278-2h0m97 2h0m-104 70h0m40-6h0m-365 18h0m391 32h0m14-32h0m60 92h0" stroke="#c8287a" stroke-width="13"/><path d="M1018 592h0m-263 52h0m4-3h0m-247 64h0m28-16h0m101-4h0m1 33h0m27-21h0m36 9h0m22-20h0" stroke="#c8287a" stroke-width="14"/><path d="M422 578h0m77-5h0m215 20h0m80-17h0m247 21h0m-457 26h0m8-18h0m4 2h0m186 6h0m-202 55h0m154-13h0m6-3h0m8 19h0m243-12h0m-294 57h0m113-7h0m76-2h0m-308 22h0" stroke="#c8287a" stroke-width="15"/><path d="M628 587h0m-127 18h0m39 12h0m26 7h0m365 4h0m107-5h0m-452 33h0m201 15h0m154 32h0m24 3h0" stroke="#c8287a" stroke-width="16"/><path d="M607 571h0m260 1h0m24 17h0m-214 34h0m82-13h0m126 10h0m22 10h0" stroke="#c8287a" stroke-width="17"/><path d="M686 468h0m85 76h0m158 11h0m92-5h0m-383 34h0m95-16h0m238 25h0m-233 23h0" stroke="#c8287a" stroke-width="18"/><path d="M269 504h0m668-2h0m-688 38h0m411 42h0m42-4h0m145-13h0m15 91h0" stroke="#c8287a" stroke-width="19"/><path d="M763 509h0m-97 49h0m0-28h0m263 83h0" stroke="#c8287a" stroke-width="20"/><path d="M563 801h0m125 123h0m42 48h0" stroke="#ff7a10" stroke-width="4"/><path d="M777 814h0m93 30h0" stroke="#ff7a10" stroke-width="5"/><path d="M940 755h0m-207 93h0m77 9h0" stroke="#ff7a10" stroke-width="6"/><path d="M676 781h0m60 4h0m-7 23h0m190 80h0" stroke="#ff7a10" stroke-width="7"/><path d="M721 633h0m-205 97h0m305 27h0m-185 63h0" stroke="#ff7a10" stroke-width="8"/><path d="M721 668h0m-322 16h0m274 8h0m35-3h0m-156 95h0m327-20h0m373 44h0" stroke="#ff7a10" stroke-width="9"/><path d="M594 648h0m27 75h0m-37 56h0m226 6h0" stroke="#ff7a10" stroke-width="10"/><path d="M585 622h0m138 8h0m8 1h0m2-17h0m286-4h0m-440 59h0m179 30h0m-212 26h0m4 10h0m306-6h0m2 36h0" stroke="#ff7a10" stroke-width="11"/><path d="M504 672h0m63 6h0m110-25h0m33 6h0m307-7h0m35 9h0m-191 55h0m-113 10h0" stroke="#ff7a10" stroke-width="12"/><path d="M663 513h0m43 59h0m278 14h0m-415 23h0m250 156h0" stroke="#ff7a10" stroke-width="13"/><path d="M1145 547h0m-628 25h0m77-10h0m-197 43h0" stroke="#ff7a10" stroke-width="14"/><path d="M996 634h0m-329 117h0" stroke="#ff7a10" stroke-width="15"/><path d="M712 547h0m-10 15h0m-5 38h0m117 29h0m74 4h0" stroke="#ff7a10" stroke-width="16"/><path d="M1246 585h0m-390 97h0" stroke="#ff7a10" stroke-width="17"/><path d="M702 598h0" stroke="#ff7a10" stroke-width="18"/><path d="M713 547h0m-69 66h0" stroke="#ff7a10" stroke-width="19"/><path d="M693 529h0" stroke="#ff7a10" stroke-width="20"/><path d="M732 938h0m18 42h0m-100 80h0m79 26h0" stroke="#2dd4c4" stroke-width="3"/><path d="M661 816h0m102-6h0m-58 41h0m104 18h0m239 5h0m-192 35h0m-279 32h0m123-7h0m59 8h0m138-20h0m-228 46h0m89-6h0m3 81h0m-27 101h0m38 11h0" stroke="#2dd4c4" stroke-width="4"/><path d="M745 776h0m-28 47h0m31-2h0m-68 41h0m9 14h0m4-16h0m30 15h0m78-4h0m133 1h0m-122 46h0m-109 18h0m29 12h0m0 36h0m73-3h0m-66 40h0m0 71h0" stroke="#2dd4c4" stroke-width="5"/><path d="M882 682h0m-34 64h0m-54 44h0m-360 20h0m250-7h0m126-3h0m2 3h0m64 3h0m102 13h0m49 18h0m-410 11h0m103 10h0m5-17h0m5 34h0m23-18h0m187 2h0m-258 33h0m34 9h0m97-9h0m-75 50h0m50-6h0m23-13h0m12 19h0m-68 30h0m-44 84h0m110-12h0m-101 38h0" stroke="#2dd4c4" stroke-width="6"/><path d="M789 638h0m-87 41h0m213 22h0m-212 55h0m45-21h0m16 19h0m231-5h0m-508 39h0m14-20h0m140 2h0m157 9h0m-384 36h0m163 7h0m10-18h0m113 63h0m90 4h0m6-7h0m89 4h0m12-6h0m4 7h0m-96 22h0m51 0h0" stroke="#2dd4c4" stroke-width="7"/><path d="M543 613h0m146 35h0m144 13h0m40 8h0m-256 47h0m116-32h0m255 25h0m-551 16h0m245 30h0m14-1h0m30-33h0m66 28h0m42-24h0m50 8h0m-183 29h0m18 20h0m24-11h0m50 13h0m113-12h0m-270 29h0m9 7h0m73 21h0m15 0h0m158-15h0m120 18h0m-408 10h0m96 19h0m89 8h0m23 4h0m11-8h0m92-17h0m97 17h0m-250 22h0m60 9h0m45-11h0" stroke="#2dd4c4" stroke-width="8"/><path d="M496 668h0m42 51h0m12-30h0m160-5h0m25 13h0m93 19h0m50 2h0m50-17h0m-116 49h0m65-14h0m133-15h0m-512 74h0m208-16h0m52-7h0m1 6h0m49 0h0m22-9h0m9-7h0m121 17h0m-242 52h0m208-26h0m-190 65h0m68-1h0m-144 18h0" stroke="#2dd4c4" stroke-width="9"/><path d="M856 638h0m-200 15h0m3-13h0m72 17h0m294-8h0m-468 54h0m37 0h0m88-8h0m77 2h0m22-9h0m90 30h0m8-34h0m-69 63h0m126-1h0m34 46h0m81-15h0" stroke="#2dd4c4" stroke-width="10"/><path d="M446 594h0m-13 15h0m156 29h0m216-5h0m87-2h0m-456 43h0m60-5h0m185-15h0m-9 37h0m27 0h0m53-3h0m13 9h0m55-17h0m63 29h0m-661 11h0m577 10h0m1 23h0m163 73h0" stroke="#2dd4c4" stroke-width="11"/><path d="M603 633h0m105 6h0m198-9h0m151 8h0m-478 14h0m145 0h0m20 12h0m35-9h0m-21 85h0m54 19h0m-2 20h0" stroke="#2dd4c4" stroke-width="12"/><path d="M742 580h0m18 11h0m-103 34h0m-184 50h0m608-35h0m-518 90h0" stroke="#2dd4c4" stroke-width="13"/><path d="M718 594h0m-18 26h0m41 6h0m32-9h0m95 0h0m-173 30h0m69-3h0m95 0h0m-32 90h0" stroke="#2dd4c4" stroke-width="14"/><path d="M547 514h0m14 85h0m143-18h0m-291 26h0m380-6h0m252 27h0m-410 22h0m295 76h0" stroke="#2dd4c4" stroke-width="15"/><path d="M717 569h0m60 18h0m-157 58h0" stroke="#2dd4c4" stroke-width="16"/><path d="M752 519h0m-137 13h0m-96 40h0m56-10h0m264 12h0m-63 63h0m-101 10h0" stroke="#2dd4c4" stroke-width="17"/><path d="M587 484h0m178 22h0m-358 44h0m142 47h0m224 44h0" stroke="#2dd4c4" stroke-width="18"/><path d="M634 550h0m253 32h0" stroke="#2dd4c4" stroke-width="19"/><path d="M1075 884h0m-452 65h0m74 8h0m106-19h0m61-14h0m31 21h0m-233 45h0m14-17h0m14 2h0m28-2h0m9 18h0m7-19h0m21-4h0m3 16h0m8-21h0m2 28h0m5-24h0m5-5h0m217 12h0m-332 43h0m16 5h0m27-20h0m12 23h0m4 8h0m27-3h0m11-8h0m11 11h0m8-30h0m-148 44h0m67 4h0m17 16h0m21-3h0m3 3h0m4 8h0m9-22h0m1 15h0m57 9h0m17-5h0m-109 8h0m11 22h0m6-22h0m2 19h0m7-12h0m2-7h0m7 14h0m53 23h0m-141 33h0m69-26h0m7 5h0m2 0h0m3 4h0m9 66h0m4-3h0m-20 64h0" stroke="#8a2be2" stroke-width="3"/><path d="M775 838h0m-123 26h0m29-8h0m36 22h0m14-20h0m39-10h0m20 14h0m9-3h0m27 6h0m5-16h0m4 27h0m54-15h0m12 10h0m60-11h0m32-13h0m4 25h0m77-24h0m-430 54h0m25-19h0m50 21h0m4 1h0m7 13h0m7-7h0m12 5h0m3-19h0m25 14h0m16 4h0m0 0h0m14-10h0m10-4h0m-235 51h0m56 2h0m14-14h0m5 8h0m30-19h0m7-6h0m2 36h0m0-22h0m6 3h0m5-18h0m12 34h0m1-18h0m5 13h0m6-1h0m6-27h0m7 25h0m7-8h0m4 19h0m3-27h0m19-1h0m0 25h0m1-22h0m1-7h0m5 18h0m2 7h0m12-1h0m8-5h0m2-2h0m0 8h0m5-6h0m26-17h0m15 18h0m7-23h0m3 35h0m38-29h0m-422 54h0m165-8h0m29 19h0m3-1h0m1 2h0m8-15h0m12-19h0m9 3h0m1 8h0m4 17h0m1-16h0m2 15h0m11-18h0m16 2h0m0 5h0m9 15h0m9-25h0m5 18h0m2-15h0m9-6h0m2 7h0m16 22h0m2-19h0m4-5h0m9 15h0m72-6h0m24 17h0m-393 6h0m127 34h0m11-16h0m27-9h0m3 15h0m17 0h0m8-21h0m6 21h0m4 4h0m1-28h0m3 8h0m4-4h0m7 8h0m5-1h0m0 0h0m3 7h0m8-13h0m6 20h0m7-13h0m1-3h0m0-10h0m11 1h0m2 21h0m32-10h0m-86 46h0m8-2h0m1 13h0m4-28h0m1 35h0m1-28h0m5 4h0m6-3h0m0 20h0m7-9h0m1 0h0m1 18h0m16-18h0m2-17h0m1 8h0m10-3h0m4 23h0m-70 15h0m7 17h0m7-9h0m10 6h0m1 1h0m-30 22h0m21 5h0m16-5h0m-12 41h0" stroke="#8a2be2" stroke-width="4"/><path d="M623 727h0m258 11h0m-229 49h0m22 10h0m6-32h0m34 25h0m13 1h0m16-2h0m14 0h0m26 7h0m53-7h0m-240 31h0m16-17h0m4 19h0m65 10h0m5-10h0m46-10h0m6 9h0m22-15h0m45 23h0m9-25h0m1 7h0m3 0h0m8 20h0m25 1h0m5-8h0m42-7h0m39-9h0m34 27h0m74-30h0m-476 43h0m19 9h0m21 19h0m13-22h0m14-3h0m13 17h0m2-16h0m21 14h0m10-2h0m3-22h0m0 16h0m9-3h0m21-3h0m6 19h0m9-17h0m4-7h0m29 3h0m3 27h0m1-17h0m1 9h0m1 2h0m4 2h0m7 1h0m0-34h0m26 32h0m6-28h0m5-1h0m2 18h0m2 13h0m35-13h0m5 15h0m27-23h0m71 19h0m8-11h0m46 8h0m21-21h0m-496 57h0m60 10h0m47-20h0m21 9h0m4-19h0m7 17h0m14 12h0m6-32h0m6 3h0m5 6h0m0-11h0m4 29h0m21-2h0m8 5h0m5-30h0m6 3h0m10 34h0m46-30h0m1 29h0m24-1h0m5-14h0m7 9h0m16-2h0m1-6h0m1 0h0m6-20h0m3-3h0m16 0h0m5 32h0m14-32h0m43 34h0m31-24h0m-410 64h0m106-21h0m7-9h0m16 4h0m6-9h0m4 9h0m17 13h0m11-6h0m0 15h0m3 2h0m5 2h0m1-17h0m3-6h0m4 24h0m0-16h0m9-19h0m2 36h0m1-12h0m0 12h0m3-28h0m10 2h0m4 14h0m11 12h0m1-18h0m6-16h0m5 5h0m4 27h0m21-16h0m5-1h0m45-12h0m8-2h0m104 32h0m-336 22h0m4-8h0m44-1h0m9 0h0m5 18h0m7-26h0m2 2h0m15 36h0m21-10h0m4 7h0m23-36h0m10 23h0m3 1h0m4-10h0m9-12h0m33 2h0m-173 74h0m18-19h0m16-18h0m15 5h0m5 15h0m10-8h0m7 3h0m14-10h0m5 30h0m3-15h0m7-11h0m8 2h0m-104 64h0m55-11h0m15-1h0m16-22h0m-134 56h0m96-10h0m9 6h0m3-13h0m2 31h0m-3 24h0" stroke="#8a2be2" stroke-width="5"/><path d="M862 670h0m-211 47h0m65-2h0m154-17h0m-431 92h0m180-4h0m44-9h0m34 18h0m7-26h0m16-8h0m67 8h0m1 26h0m8-8h0m10-1h0m1 13h0m50-13h0m20-18h0m22 15h0m143 6h0m136 3h0m-685 33h0m54-19h0m33 22h0m58 8h0m35-29h0m11 16h0m6-3h0m18-1h0m24-4h0m19-15h0m10 36h0m7-11h0m6-8h0m3 21h0m8-3h0m1-32h0m35 29h0m5-3h0m8-22h0m2 24h0m23 5h0m7-13h0m4 16h0m14-2h0m7-17h0m5 8h0m6-14h0m5 7h0m2-13h0m27 20h0m27 11h0m27-26h0m135 1h0m108 20h0m-773 36h0m36-23h0m29 8h0m9-14h0m4 13h0m19-10h0m40 4h0m28 5h0m3-7h0m2 2h0m4 15h0m14-3h0m16-12h0m1 25h0m17-31h0m14 23h0m1-3h0m5-7h0m7-5h0m2 10h0m7 16h0m10-4h0m17-8h0m7-11h0m8 25h0m8-30h0m5-2h0m5 27h0m2-11h0m15-10h0m0-4h0m3 11h0m2 5h0m2-10h0m5 16h0m8-6h0m3-14h0m10-6h0m5 25h0m9 9h0m23-34h0m24 6h0m27-5h0m15 25h0m3-1h0m14-16h0m20-6h0m-410 65h0m47-20h0m17 23h0m6-4h0m9-27h0m6 13h0m2 8h0m1-22h0m0 9h0m6-1h0m16 12h0m6-17h0m26 21h0m0 6h0m1-3h0m1-4h0m7-10h0m3 18h0m1-18h0m2-7h0m3 20h0m9-7h0m3 16h0m1-38h0m3 7h0m15-3h0m2 34h0m4-29h0m7 13h0m8-3h0m2-18h0m2 30h0m1-16h0m2-13h0m6 21h0m0 4h0m2-2h0m13-23h0m4 26h0m1-13h0m7 12h0m15 2h0m19-1h0m1-22h0m6 4h0m1 15h0m19 4h0m23-6h0m5 9h0m12 2h0m5-12h0m-373 53h0m88-8h0m28 7h0m1-7h0m10-16h0m10 11h0m16-9h0m15 8h0m9 5h0m12-15h0m5 17h0m30 1h0m1-23h0m3 0h0m6 9h0m7 7h0m2-19h0m11 7h0m1-9h0m17 4h0m8-4h0m19 25h0m6-25h0m33 10h0m55 4h0m-278 42h0m14 2h0m7-18h0m13 33h0m12-5h0m11-28h0m22 7h0m22 8h0m122 12h0m2-25h0m-203 59h0m72-14h0m26 32h0m-33 57h0m20-6h0" stroke="#8a2be2" stroke-width="6"/><path d="M594 670h0m281 7h0m45-4h0m-389 23h0m37 4h0m149-20h0m0 36h0m46-12h0m32-20h0m1 27h0m12-20h0m8 8h0m2 14h0m4-25h0m21 10h0m167 15h0m-365 24h0m18 5h0m6 12h0m57 1h0m22-3h0m6-18h0m32 14h0m0-22h0m6 11h0m14-14h0m29 19h0m51-8h0m10 9h0m8 7h0m32-23h0m51-2h0m-465 59h0m38-16h0m21-8h0m38 34h0m62 4h0m10-27h0m17 1h0m24 22h0m7-16h0m10 17h0m14-4h0m3-12h0m9 8h0m4-11h0m19-13h0m9 28h0m6-23h0m5 9h0m22-2h0m6 0h0m0 24h0m14-8h0m7-17h0m15 12h0m8-16h0m69 23h0m6-11h0m68-7h0m-493 46h0m10 1h0m39-5h0m1-6h0m9 9h0m8 13h0m40-3h0m10-4h0m9 1h0m19-8h0m5-4h0m2-15h0m18 19h0m9-15h0m0 31h0m8-31h0m3 13h0m2 2h0m11 17h0m8 1h0m18-25h0m3-5h0m28 24h0m4-18h0m6 11h0m10-4h0m16-15h0m5 23h0m4-16h0m11 23h0m3-24h0m15-4h0m1-3h0m5-3h0m12 17h0m12 12h0m0-23h0m51 16h0m56 13h0m-495 35h0m63-24h0m64 8h0m22-14h0m8 17h0m14 13h0m34-29h0m11 15h0m47 22h0m1-37h0m18 0h0m12 11h0m8-1h0m0 23h0m5-27h0m1 27h0m12-35h0m21 27h0m1-14h0m12-10h0m20 32h0m14-5h0m7-1h0m14-5h0m1-5h0m16 9h0m338-6h0m-688 53h0m13 4h0m64-27h0m8-12h0m16 33h0m16 1h0m3-20h0m15 1h0m6 12h0m7-27h0m10 0h0m22 16h0m14 1h0m1 14h0m13-26h0m5 14h0m17-9h0m6 8h0m3-6h0m10 16h0m8 8h0m5-28h0m17 17h0m28-1h0m-230 29h0m17 18h0m17 8h0m53-13h0m18 10h0m52-29h0m10 12h0m57-17h0m68 15h0m-341 23h0m171 24h0m55-16h0m27-1h0m-129 74h0" stroke="#8a2be2" stroke-width="7"/><path d="M746 612h0m129 6h0m-276 31h0m39 7h0m42 11h0m26-7h0m145 3h0m25-13h0m101 3h0m40 17h0m-502 44h0m43-5h0m55-18h0m14 20h0m24 5h0m5-16h0m36-14h0m27-2h0m9 16h0m33 7h0m2 5h0m26-6h0m6 11h0m77-3h0m11-3h0m67-1h0m-635 41h0m219-17h0m29-12h0m35 18h0m6-4h0m40-16h0m37 34h0m5-24h0m16-8h0m1 17h0m1 16h0m22-6h0m8-11h0m2-3h0m22-10h0m4 33h0m3-19h0m8 2h0m3 5h0m18 6h0m9 4h0m21-34h0m3 34h0m6-6h0m5-26h0m13 9h0m1 26h0m23 0h0m14-6h0m20 6h0m1-20h0m60-9h0m14-9h0m112 2h0m34 30h0m-744 40h0m181 5h0m56-30h0m6 7h0m2-2h0m3 8h0m0-14h0m0-6h0m35 22h0m9-4h0m0-1h0m1-7h0m3 3h0m13-4h0m8 22h0m20 2h0m14-13h0m3-12h0m16-3h0m12 20h0m5-16h0m0 1h0m12 0h0m3-9h0m6 34h0m23-36h0m3 5h0m13 13h0m49-12h0m3 8h0m13-8h0m19 12h0m5 18h0m3-6h0m20 5h0m35-12h0m81-6h0m210 15h0m-744 20h0m75 24h0m6-27h0m20 2h0m20 14h0m11 5h0m1-1h0m1-13h0m9 7h0m2-2h0m32-7h0m15 2h0m1-4h0m3 2h0m3 2h0m12-7h0m0 18h0m6-4h0m3-1h0m2-20h0m4 6h0m13 25h0m27-4h0m1-5h0m11-8h0m4-11h0m36 16h0m1 10h0m39-20h0m8 12h0m1-23h0m7 28h0m7-12h0m42-11h0m4-5h0m26 27h0m21-19h0m37 3h0m-538 30h0m71 37h0m142-19h0m22 7h0m2 5h0m14-20h0m1-3h0m5 22h0m5-8h0m2-14h0m9-3h0m10 19h0m5-7h0m3-17h0m2 26h0m6-9h0m4-11h0m17 33h0m20-22h0m6-13h0m13-3h0m30 22h0m25-21h0m67 11h0m56-1h0m64 14h0m33-4h0m-382 26h0m4-5h0m31-2h0m9 24h0m8-22h0m6 3h0m2 8h0m13 1h0m23 16h0m30-16h0m-380 37h0m166-2h0m63 3h0m15-9h0m8 9h0" stroke="#8a2be2" stroke-width="8"/><path d="M961 589h0m-312 42h0m7 1h0m148-29h0m29 29h0m59-9h0m5 7h0m-521 37h0m167-13h0m19-11h0m47 35h0m42-5h0m21-1h0m6-2h0m243 3h0m23 0h0m3-6h0m75-14h0m15 25h0m-734 22h0m144 19h0m85-22h0m27 7h0m32-23h0m11 32h0m1-11h0m29 5h0m8 2h0m3-1h0m39 2h0m10 4h0m2-25h0m34 18h0m9-21h0m13 33h0m11-14h0m14-20h0m22 29h0m15-30h0m8 28h0m7-29h0m47-3h0m2 19h0m47 10h0m27 6h0m-424 21h0m27-13h0m33 22h0m84-19h0m48 27h0m4 4h0m4-29h0m19 22h0m12-9h0m9 11h0m1-23h0m6 22h0m13-20h0m16 12h0m2 3h0m2 7h0m17 3h0m15-36h0m19 12h0m7 21h0m29-3h0m24-15h0m111-2h0m-488 60h0m40-10h0m11 2h0m50-24h0m18 36h0m21-20h0m25-14h0m15 1h0m19 22h0m3-8h0m14-11h0m27 0h0m5 31h0m3-23h0m23-7h0m0 6h0m7 1h0m9 14h0m69-14h0m11-6h0m5 0h0m13-7h0m18 5h0m73-4h0m35 24h0m18-6h0m9-8h0m-508 32h0m18 12h0m29 3h0m29-6h0m13-6h0m36 23h0m25-16h0m12 7h0m60 3h0m11-24h0m0 21h0m71-14h0m44 24h0m2 1h0m-187 38h0m13-14h0m16-7h0m37-3h0m17 19h0m160-26h0m-274 49h0m16 28h0m83-12h0m-281 27h0" stroke="#8a2be2" stroke-width="9"/><path d="M850 597h0m-546 3h0m102 20h0m306 4h0m3 11h0m5-17h0m7 20h0m11-37h0m48 28h0m59 3h0m64-8h0m-568 53h0m47-26h0m52 8h0m10-9h0m94 20h0m68 7h0m9-13h0m18-12h0m16 25h0m17 0h0m2-17h0m27 3h0m5 12h0m1-35h0m6 39h0m3-13h0m9 8h0m4-24h0m12-1h0m45-1h0m52 6h0m9-5h0m74-4h0m1-5h0m26 26h0m111 8h0m-568 42h0m1-16h0m12-12h0m47 9h0m30 18h0m38-1h0m36-5h0m7 3h0m22-32h0m15 11h0m4 14h0m40-24h0m24 12h0m16-1h0m5 5h0m4 10h0m25 2h0m13-10h0m0 12h0m19-11h0m9 18h0m16-8h0m4-4h0m44 6h0m10-2h0m39 2h0m29 6h0m170-36h0m-864 58h0m248-5h0m42-11h0m21 18h0m10-7h0m19-15h0m25 36h0m8-8h0m5-22h0m10 30h0m6-15h0m49 9h0m1 7h0m0-26h0m10 24h0m22-22h0m6 17h0m2-21h0m10-4h0m34 7h0m3-3h0m17 21h0m7-8h0m6-20h0m17 5h0m28-5h0m81 23h0m1 9h0m-405 35h0m107-25h0m57 4h0m4 21h0m33-22h0m1 1h0m2 11h0m23-2h0m3-2h0m9 22h0m6-22h0m63 10h0m36 6h0m-269 40h0m1-29h0m161 2h0m4 7h0m155 18h0m16-11h0m30-17h0m-177 59h0m27-5h0" stroke="#8a2be2" stroke-width="10"/><path d="M766 595h0m91-26h0m-414 39h0m152-7h0m34 18h0m9 11h0m67 6h0m45 0h0m8-23h0m8 6h0m97 13h0m106 3h0m113-25h0m-579 37h0m52 10h0m7 15h0m35-16h0m19 7h0m25-9h0m39-13h0m87 22h0m2 4h0m11-3h0m2 9h0m2 2h0m2-3h0m26-6h0m11-24h0m63 14h0m1 18h0m33 4h0m21-34h0m76 19h0m45 3h0m-672 35h0m252-21h0m50 2h0m17 26h0m28-6h0m39-7h0m6 1h0m4-3h0m8 20h0m3 1h0m6 2h0m8-17h0m21 20h0m0-37h0m8 24h0m21-6h0m7-20h0m31 18h0m19-17h0m22 35h0m68-31h0m-628 45h0m146-1h0m63-7h0m21 17h0m53 10h0m30-28h0m52 25h0m39 7h0m4-30h0m4-3h0m4 18h0m18-5h0m17-4h0m2-1h0m107-1h0m6 15h0m0-1h0m165 12h0m-414 25h0m102-2h0m8-9h0m25-1h0m14 19h0m6-21h0m-143 40h0m102 48h0m-110 40h0" stroke="#8a2be2" stroke-width="11"/><path d="M568 576h0m21 10h0m35 9h0m105-34h0m43 14h0m8 7h0m8-1h0m-443 31h0m147 5h0m30 9h0m100-18h0m31 12h0m10 7h0m133-2h0m49 4h0m75-11h0m1 13h0m12-10h0m182-14h0m-685 41h0m108 6h0m53 0h0m4 5h0m35 14h0m13-17h0m3 14h0m10 4h0m28-25h0m3-7h0m99 31h0m13 3h0m9-13h0m35-5h0m100 7h0m5 8h0m27-3h0m-499 16h0m145 17h0m1-6h0m27 21h0m28-37h0m87 27h0m47 4h0m-159 42h0m14-28h0m83 16h0m23-15h0m21 19h0m58-22h0m5 19h0m-163 36h0m83 72h0" stroke="#8a2be2" stroke-width="12"/><path d="M531 543h0m248 6h0m26 6h0m50-13h0m-353 46h0m160-17h0m133-3h0m230 26h0m-423 37h0m62-14h0m21 0h0m4 13h0m6-22h0m43 24h0m17 6h0m54-17h0m32 11h0m9-2h0m11-30h0m134 33h0m-383 19h0m13 15h0m37 2h0m37-18h0m47 20h0m67-27h0m79 7h0m438 8h0m-758 53h0m38-27h0m31 26h0m24-4h0m47-15h0m60 0h0m24 18h0m20-24h0m31 18h0m125 3h0m-430 25h0m18 11h0m113 16h0m76-26h0m21 8h0m7-3h0m42 18h0m61-26h0m-171 35h0m-73 53h0" stroke="#8a2be2" stroke-width="13"/><path d="M545 590h0m29-1h0m8-9h0m30 16h0m56-10h0m48 0h0m53-18h0m23 26h0m223 2h0m42-25h0m-713 63h0m50-12h0m173 14h0m91-8h0m1-2h0m11 5h0m30-4h0m17-1h0m45 0h0m1 6h0m0-3h0m2-8h0m-110 23h0m2 22h0m31-9h0m17-9h0m64-5h0m3 19h0m16-3h0m65 2h0m30-18h0m47 23h0m129 4h0m-537 20h0m26 12h0m129 3h0m26-3h0m2-14h0m12 9h0m83-17h0m91 4h0m6 8h0m-185 72h0" stroke="#8a2be2" stroke-width="14"/><path d="M570 577h0m37 9h0m46-6h0m5-1h0m85-10h0m23 16h0m18-3h0m296 17h0m-757 33h0m199-15h0m14 14h0m58 4h0m60-32h0m66 12h0m120 14h0m12-25h0m35 32h0m64 1h0m50-36h0m97 9h0m-633 35h0m132 9h0m120 7h0m50-3h0m55 39h0" stroke="#8a2be2" stroke-width="15"/><path d="M713 467h0m-57 77h0m-128 48h0m134 6h0m56-22h0m6 11h0m25-23h0m17 34h0m35-13h0m7-10h0m125 10h0m122 12h0m107-12h0m-573 29h0m22-13h0m54 9h0m222-2h0m-59 57h0m160-16h0m4 89h0" stroke="#8a2be2" stroke-width="16"/><path d="M1048 484h0m-649 52h0m317 15h0m77 3h0m1-4h0m-319 45h0m188-32h0m11 30h0m4 2h0m41-16h0m184-18h0m-207 74h0m2-34h0m15 3h0m41 10h0m73-10h0m-39 55h0m135-11h0" stroke="#8a2be2" stroke-width="17"/><path d="M280 508h0m469 3h0m143 0h0m-591 31h0m212 0h0m46-4h0m131 18h0m9-21h0m48-1h0m71 16h0m81-11h0m-271 24h0m38 32h0m68-11h0m-173 27h0m417 18h0m-454 36h0" stroke="#8a2be2" stroke-width="18"/><path d="M742 506h0m-197 30h0m160 23h0m125-25h0m78 20h0m-465 13h0m81 14h0m269-11h0m255 11h0" stroke="#8a2be2" stroke-width="19"/><path d="M654 586h0m134-5h0m-227 19h0" stroke="#8a2be2" stroke-width="20"/><path d="M647 988h0m125 41h0" stroke="#ffaad0" stroke-width="3"/><path d="M790 829h0m-90 70h0m118 8h0m-75 51h0m14-15h0m46 10h0m-149 9h0m38 32h0m59-34h0m95 12h0m1 1h0m-107 51h0m18 43h0" stroke="#ffaad0" stroke-width="4"/><path d="M649 874h0m136-23h0m-112 29h0m12 6h0m39 33h0m-105 10h0m32-8h0m99 14h0m24-15h0m21 34h0m-44 29h0m38 10h0m-113 8h0" stroke="#ffaad0" stroke-width="5"/><path d="M776 799h0m-73 11h0m190 20h0m-168 15h0m36 27h0m2-12h0m55-17h0m59 4h0m-34 57h0m-178 47h0m53-12h0m20-3h0m74 0h0m-109 37h0" stroke="#ffaad0" stroke-width="6"/><path d="M627 656h0m-62 27h0m241 34h0m-316 29h0m285 22h0m107 14h0m33 9h0m-207 17h0m138 6h0m91 6h0m-390 50h0m289-4h0m-86 18h0m30-1h0m-112 75h0m395-9h0m-390 22h0m76 30h0" stroke="#ffaad0" stroke-width="7"/><path d="M429 649h0m471 16h0m-219 94h0m140-25h0m28 45h0m-101 40h0m47-15h0m136 14h0m-285 56h0m96-33h0" stroke="#ffaad0" stroke-width="8"/><path d="M981 678h0m-419 20h0m219 5h0m63 11h0m189-25h0m-251 33h0m31-2h0m13 6h0m84 5h0m-155 61h0m1-3h0m71-8h0m-100 25h0" stroke="#ffaad0" stroke-width="9"/><path d="M668 607h0m199 4h0m-97 44h0m141 64h0m-424 29h0m363-18h0m97-4h0" stroke="#ffaad0" stroke-width="10"/><path d="M762 603h0m-123 69h0m37 11h0m9 30h0m82-2h0m62-27h0m13 6h0" stroke="#ffaad0" stroke-width="11"/><path d="M563 631h0m148-11h0m50 5h0m-279 37h0m212-12h0m68 14h0m275-8h0m-375 29h0m106 28h0m39-13h0m-43 156h0" stroke="#ffaad0" stroke-width="12"/><path d="M513 609h0m253 106h0m-104 63h0" stroke="#ffaad0" stroke-width="13"/><path d="M860 573h0m-47 43h0m370-1h0m-455 47h0m102 49h0" stroke="#ffaad0" stroke-width="14"/><path d="M970 577h0m-35 89h0" stroke="#ffaad0" stroke-width="15"/><path d="M673 567h0m109 17h0m122 6h0m-274 43h0" stroke="#ffaad0" stroke-width="16"/><path d="M905 578h0" stroke="#ffaad0" stroke-width="17"/><path d="M816 621h0" stroke="#ffaad0" stroke-width="18"/><path d="M716 539h0" stroke="#ffaad0" stroke-width="19"/><path d="M725 879h0m148 22h0m-156 23h0m-13 46h0m4 23h0m76 5h0m-160 11h0m104 8h0m65 17h0m-64 58h0m13 92h0" stroke="#fff030" stroke-width="3"/><path d="M870 868h0m150-1h0m-345 23h0m26 7h0m46 1h0m-157 22h0m147 28h0m37-2h0m15 7h0m21-1h0m-124 23h0m35-2h0m2 21h0m57-24h0m0 7h0m20-15h0m-90 38h0m6 29h0m20 7h0m11-1h0m78-24h0m-83 60h0" stroke="#fff030" stroke-width="4"/><path d="M633 805h0m22 26h0m8 5h0m136-7h0m-124 16h0m38 7h0m47 27h0m28-21h0m2-13h0m31 13h0m21-5h0m-196 41h0m40-3h0m43-9h0m1 7h0m38 21h0m1-13h0m7-1h0m15 21h0m15 0h0m38-16h0m104 5h0m-384 17h0m136 4h0m-32 55h0m169-11h0m9 24h0m-130 41h0m40 61h0" stroke="#fff030" stroke-width="5"/><path d="M828 707h0m-314 16h0m89 1h0m167 33h0m-10 15h0m35 12h0m1-20h0m84 6h0m35 9h0m-345 36h0m27-5h0m54 23h0m2-13h0m124-15h0m206 33h0m9-26h0m174 1h0m-501 65h0m51-38h0m5 11h0m54 1h0m14 20h0m29-12h0m77-18h0m-183 65h0m5 11h0m2-26h0m36-1h0m16-2h0m-144 38h0m114 3h0m18 11h0m32-6h0m-106 29h0m41 109h0" stroke="#fff030" stroke-width="6"/><path d="M561 689h0m249 20h0m43-26h0m-192 44h0m81 14h0m5 6h0m45-21h0m46 23h0m70 6h0m-205 38h0m64-17h0m5 18h0m8 0h0m86 1h0m7-19h0m35 10h0m44-17h0m-232 54h0m28-19h0m21-3h0m16 0h0m16 21h0m55-6h0m16 18h0m8-9h0m54-1h0m-325 24h0m51 18h0m114-17h0m52 6h0m-73 26h0m27 54h0m-128 44h0" stroke="#fff030" stroke-width="7"/><path d="M778 663h0m209-11h0m-398 35h0m67 14h0m145-17h0m190 17h0m-398 43h0m8 12h0m8-21h0m98 10h0m113-1h0m21-2h0m-83 55h0m47-18h0m78-13h0m17 27h0m85-7h0m6 8h0m-351 10h0m24-4h0m32 14h0m14-1h0m123 3h0m24 8h0m-99 22h0m13 31h0m2-21h0m22-3h0m1 3h0m13 28h0m0 20h0m100-24h0" stroke="#fff030" stroke-width="8"/><path d="M634 621h0m238 1h0m-232 74h0m60 17h0m191-25h0m3 10h0m5-11h0m13 17h0m-318 45h0m129-21h0m37 29h0m0-30h0m1 2h0m19 5h0m4 1h0m34-12h0m84 30h0m-408 19h0m154 16h0m7 3h0m48 0h0m34-31h0m9 21h0m56-16h0m48 18h0m3-9h0m37-8h0m-183 47h0m7 18h0m12 0h0m18-20h0m218 16h0m-311 48h0m32 1h0m63-24h0m54-11h0m53 46h0" stroke="#fff030" stroke-width="9"/><path d="M532 575h0m336 16h0m-112 31h0m146-1h0m-377 52h0m95-28h0m6 27h0m11 1h0m8 0h0m183-16h0m44-9h0m140 5h0m115 20h0m-440 27h0m43 1h0m74 4h0m3-10h0m-137 62h0m21-30h0m17 5h0m25 19h0m82 7h0m88-8h0m116-16h0m-468 39h0m223 4h0m186-13h0m94 9h0m-565 51h0m291 2h0m52-25h0" stroke="#fff030" stroke-width="10"/><path d="M574 585h0m115 48h0m48-14h0m22 11h0m29-8h0m47-22h0m18 6h0m62 4h0m64 6h0m-566 50h0m228 8h0m165-22h0m22 17h0m10-10h0m34 10h0m80-13h0m92-11h0m-521 37h0m238 25h0m85-24h0m72 23h0m2 5h0m247-11h0m-553 37h0m17 1h0m69 0h0m22 1h0m80-2h0m91-3h0m61 23h0m7-6h0m-319 14h0" stroke="#fff030" stroke-width="11"/><path d="M241 578h0m535 18h0m52-27h0m152 17h0m-406 15h0m146 31h0m92-21h0m-201 37h0m356 23h0m-311 24h0m146-1h0m80 7h0m195 4h0m-395 46h0m224 6h0m-126 49h0" stroke="#fff030" stroke-width="12"/><path d="M689 569h0m-273 61h0m307-11h0m-246 57h0m77-9h0m88-5h0m193-22h0m6 38h0m-268 4h0m123 14h0m8-12h0m9 11h0m-132 44h0m74-14h0" stroke="#fff030" stroke-width="13"/><path d="M307 580h0m186-9h0m157 25h0m-273 14h0m331 24h0m126-3h0m15-31h0m105 17h0m154 18h0m-368 10h0m62 1h0m26 22h0m101 3h0m22 22h0" stroke="#fff030" stroke-width="14"/><path d="M449 546h0m189 13h0m139-6h0m343-33h0m-705 45h0m196 32h0m7-10h0m134-6h0m-32 42h0m31 10h0m15-8h0m233 42h0" stroke="#fff030" stroke-width="15"/><path d="M558 591h0m205-1h0m-396 70h0" stroke="#fff030" stroke-width="16"/><path d="M437 550h0m452 17h0m-348 46h0m124-7h0" stroke="#fff030" stroke-width="17"/><path d="M731 500h0m-41 53h0m47-15h0m182 13h0m-278 46h0m70-32h0m47 33h0m103-38h0m-190 68h0m172-25h0m205 23h0" stroke="#fff030" stroke-width="18"/><path d="M682 467h0m63 64h0m-205 44h0m286 22h0" stroke="#fff030" stroke-width="19"/><path d="M954 810h0m-300 78h0m80 26h0m-19 41h0m-2 12h0m9 0h0m3 11h0m73 11h0m-65 129h0m9-16h0" stroke="#4488ff" stroke-width="4"/><path d="M710 828h0m73-9h0m-106 35h0m87 24h0m6-23h0m62 22h0m103 0h0m-243 24h0m54-9h0m12-8h0m27-2h0m-59 49h0m13-6h0m5 27h0m50-16h0m-56 58h0m66-25h0m-47 48h0" stroke="#4488ff" stroke-width="5"/><path d="M860 758h0m-212 18h0m18 20h0m9-1h0m78-23h0m103-10h0m-310 55h0m131 6h0m46 5h0m67-26h0m35 0h0m113 26h0m24 0h0m-303 39h0m91-22h0m67 3h0m25 8h0m38-7h0m36 25h0m108-32h0m-348 50h0m49-12h0m82 33h0m86-25h0m-191 33h0m32 11h0m41-5h0m-35 71h0" stroke="#4488ff" stroke-width="6"/><path d="M870 638h0m-222 34h0m-133 28h0m239 5h0m92 10h0m-166 33h0m97-22h0m6 27h0m40 6h0m70-10h0m60-5h0m-441 41h0m117-16h0m171 19h0m13 11h0m328-25h0m-465 46h0m61-1h0m79-8h0m77-8h0m59 7h0m-387 58h0m47-14h0m140 3h0m90 13h0m-177 35h0m76 57h0" stroke="#4488ff" stroke-width="7"/><path d="M814 670h0m232 9h0m-398 37h0m227-30h0m142 19h0m-156 25h0m74-5h0m-342 39h0m65 8h0m15 1h0m21 20h0m274-24h0m62 20h0m14-26h0m-373 69h0m30-24h0m61-1h0m24 80h0" stroke="#4488ff" stroke-width="8"/><path d="M774 673h0m5-21h0m139 22h0m-307 31h0m73 2h0m49-2h0m19-12h0m83 4h0m29 10h0m137-2h0m-371 26h0m4 13h0m56-16h0m59-4h0m69 16h0m24-18h0m26 29h0m7-1h0m-117 19h0m7-8h0m42 25h0m15-26h0m50 9h0" stroke="#4488ff" stroke-width="9"/><path d="M646 626h0m17-6h0m121 8h0m203 9h0m-498 18h0m144-15h0m146 9h0m9 16h0m62-21h0m66 19h0m73-19h0m-382 60h0m168 8h0m121-9h0m30 3h0m-174 17h0m56 5h0m320 2h0m-683 63h0m365 1h0" stroke="#4488ff" stroke-width="10"/><path d="M790 627h0m15-19h0m21 10h0m80-1h0m-593 38h0m366 21h0m186 2h0m21-33h0m-402 50h0m42-9h0m30 4h0m229 12h0m67-3h0m18-16h0m129 19h0m-642 42h0m443-21h0m89 21h0m6-6h0" stroke="#4488ff" stroke-width="11"/><path d="M763 538h0m-235 53h0m210-1h0m131-6h0m84 11h0m-574 23h0m354-12h0m189 16h0m45 3h0m-470 17h0m48 17h0m110 10h0m46-22h0m154-5h0m143 3h0m-403 37h0m203 2h0m-27 74h0" stroke="#4488ff" stroke-width="12"/><path d="M660 555h0m20 2h0m-107 40h0m13-6h0m31-12h0m92-5h0m273 5h0m-195 40h0m121 17h0m-453 37h0m120-10h0m64-20h0m71 19h0m24-2h0m183 0h0m17 62h0m-293 47h0m72 61h0" stroke="#4488ff" stroke-width="13"/><path d="M760 572h0m65 4h0m-63 63h0m63-31h0m-276 78h0m235 0h0m-125 56h0" stroke="#4488ff" stroke-width="14"/><path d="M539 585h0m195-19h0m-304 42h0m148-6h0m188 13h0m-161 30h0m112 6h0m64 14h0m54-25h0" stroke="#4488ff" stroke-width="15"/><path d="M642 513h0m17 33h0m199 7h0m-218 35h0m8-12h0m414 19h0m-542 6h0m177 43h0m139 87h0" stroke="#4488ff" stroke-width="16"/><path d="M709 554h0m125-22h0m-222 67h0m361-12h0m-453 29h0m227 23h0" stroke="#4488ff" stroke-width="17"/><path d="M398 557h0m245 25h0m89-6h0m92 20h0m-79 23h0m182-17h0" stroke="#4488ff" stroke-width="18"/><path d="M572 538h0m45 2h0m158 10h0m19 48h0m-77 20h0m-30 54h0m141-12h0" stroke="#4488ff" stroke-width="19"/><path d="M776 577h0" stroke="#4488ff" stroke-width="20"/><path d="M503 910h0m355-23h0m-145 66h0m38 6h0m-182 21h0m153 6h0m22-6h0m39 11h0m30-25h0m165 11h0m-273 53h0m21-24h0m2 33h0m67-39h0m-115 72h0m33-32h0m29 16h0m19 13h0m-22 71h0" stroke="#d4aa3a" stroke-width="3"/><path d="M379 816h0m239 1h0m139 8h0m214-8h0m-309 48h0m98 7h0m74-13h0m101-14h0m-194 70h0m22-22h0m7 7h0m2-12h0m32 25h0m-121 32h0m19-4h0m7 0h0m23 1h0m5 0h0m38 8h0m12-24h0m6 14h0m23-11h0m-111 52h0m27-8h0m22-10h0m6 0h0m1 35h0m7-6h0m9-20h0m-117 58h0m84-26h0m-42 50h0m24 33h0" stroke="#d4aa3a" stroke-width="4"/><path d="M477 754h0m52 43h0m136-9h0m135-19h0m-38 56h0m368-19h0m-454 62h0m22-7h0m1-3h0m69 0h0m62 16h0m9 0h0m11-14h0m2 4h0m29-19h0m-373 56h0m94-13h0m29-5h0m23 29h0m0 4h0m31-18h0m18 10h0m15-8h0m22-12h0m62-4h0m2-1h0m7 34h0m7-16h0m1 18h0m14-14h0m8-18h0m14-7h0m11 13h0m49 26h0m18-10h0m2 3h0m66-14h0m-450 28h0m43 5h0m49-8h0m7 8h0m53 14h0m30-15h0m46 12h0m32 11h0m-100 18h0m5 17h0m88-21h0m-134 47h0m51 25h0m53-37h0" stroke="#d4aa3a" stroke-width="5"/><path d="M654 719h0m8-4h0m15 24h0m297 9h0m-319 15h0m16 9h0m100 8h0m14 9h0m145-1h0m-384 49h0m88-22h0m13 10h0m25 6h0m19-9h0m3 11h0m8-16h0m1-15h0m11 29h0m10-8h0m4-6h0m15-10h0m5 12h0m1-7h0m0 26h0m1-20h0m12-1h0m3-12h0m9 11h0m16 11h0m5 2h0m15-21h0m10 31h0m15-17h0m38-11h0m3 14h0m21 0h0m40 0h0m11-8h0m38-4h0m21-8h0m-579 67h0m140-30h0m29 26h0m59-2h0m14-13h0m8 20h0m23-30h0m11 3h0m4-6h0m11 21h0m11-17h0m5 27h0m4 6h0m13-5h0m3 7h0m38-28h0m6 5h0m11 7h0m25-14h0m2 9h0m8 4h0m64-11h0m20-2h0m-424 61h0m101-24h0m30 9h0m22 1h0m12-14h0m3-2h0m11 2h0m43 25h0m44 11h0m3-21h0m7-14h0m23 2h0m23 14h0m64-1h0m28-6h0m29 14h0m-291 16h0m54 22h0m17 8h0m2-7h0m41-21h0m73 6h0m120-9h0m-194 53h0m59 30h0" stroke="#d4aa3a" stroke-width="6"/><path d="M867 664h0m47-7h0m16 31h0m-264 54h0m28-16h0m13-3h0m5 30h0m15-27h0m20 27h0m68-21h0m41-2h0m10 17h0m51 9h0m-382 24h0m74 13h0m6 1h0m59-20h0m18 21h0m20-3h0m20-5h0m27-8h0m6 14h0m12-1h0m0 0h0m5-9h0m12 11h0m48-9h0m66 8h0m1-15h0m25 0h0m85-3h0m-398 47h0m3-17h0m10 20h0m8-12h0m35-2h0m26 12h0m14 6h0m11-11h0m6-2h0m25-6h0m45-2h0m13 25h0m23-19h0m16-6h0m16 16h0m24-10h0m1 16h0m31-28h0m4 13h0m16 18h0m37-26h0m-520 57h0m79 2h0m90-3h0m73-17h0m27 24h0m7-13h0m21 0h0m5-6h0m28-8h0m9 3h0m12 22h0m3-10h0m3-16h0m72 11h0m12 3h0m3 7h0m10 2h0m60-24h0m153 9h0m-466 48h0m101 19h0m4-13h0m24 0h0m1 8h0m245-32h0m-309 41h0m25 10h0m38 6h0m45-10h0" stroke="#d4aa3a" stroke-width="7"/><path d="M617 658h0m135-4h0m-238 58h0m86 2h0m141-28h0m107 18h0m1 5h0m105 8h0m-475 3h0m113 37h0m14-1h0m2-19h0m77 19h0m1 2h0m19-30h0m52 17h0m101 7h0m113-5h0m61-25h0m-366 58h0m3-8h0m29 3h0m30-7h0m2 28h0m14-17h0m1-2h0m6 12h0m118-22h0m156 23h0m-443 12h0m106 15h0m39 7h0m15-3h0m110 14h0m2-27h0m1 2h0m1 3h0m33-11h0m9 29h0m16-10h0m72-20h0m-546 67h0m101-18h0m80 29h0m71-8h0m1 6h0m17 2h0m13-36h0m26 20h0m5-21h0m72 30h0m3-21h0m19-9h0m30 20h0m40-3h0m52 14h0m-368 28h0m153-2h0m49-19h0m5 7h0m16 16h0" stroke="#d4aa3a" stroke-width="8"/><path d="M557 586h0m124 41h0m78-9h0m107 16h0m-421 36h0m338-8h0m355-14h0m-571 37h0m47 3h0m31 17h0m88 2h0m60-16h0m22 3h0m30 16h0m121 3h0m101-2h0m-425 46h0m2-1h0m71-18h0m2-2h0m66-9h0m2 29h0m61-24h0m15 14h0m53 4h0m73-5h0m57 8h0m14-32h0m195 35h0m-675 13h0m20 2h0m91 26h0m30 0h0m20-15h0m4-7h0m20 13h0m3-14h0m50-13h0m7 21h0m40 8h0m15-19h0m45 25h0m137-6h0m102-2h0m-805 16h0m257 3h0m74 16h0m29-1h0m10-12h0m34 12h0m28 10h0m3 3h0m15 4h0m4-32h0m34 5h0m17-7h0m14 7h0m19-8h0m62 22h0m-358 22h0m164 7h0m46 23h0m18-34h0m2 13h0" stroke="#d4aa3a" stroke-width="9"/><path d="M451 621h0m185 6h0m115 12h0m-400 29h0m97 0h0m201 10h0m24-11h0m2-19h0m31 15h0m13-21h0m1 10h0m26 23h0m31-30h0m9 11h0m18 19h0m16-19h0m14-8h0m-304 48h0m34-14h0m2 23h0m16 9h0m36-13h0m36 0h0m42-8h0m114-9h0m10 30h0m10-17h0m-253 58h0m3-6h0m54-27h0m27 8h0m9 21h0m35-13h0m24-1h0m9 9h0m7-5h0m13 10h0m2 3h0m12 4h0m19-38h0m39 27h0m5-17h0m17 15h0m37-4h0m11-5h0m13-1h0m91-14h0m-423 57h0m33 4h0m111-9h0m116-8h0m59 27h0" stroke="#d4aa3a" stroke-width="10"/><path d="M387 615h0m237 6h0m31 4h0m13 3h0m6-20h0m0 21h0m121 0h0m-69 13h0m43 23h0m53 7h0m72-28h0m35 20h0m31 6h0m79-4h0m-468 18h0m118 7h0m148 25h0m45-13h0m82-8h0m126 9h0m48-17h0m-544 68h0m37-2h0m11-33h0m32 12h0m50 18h0m24 1h0m6 5h0m30-23h0m21-2h0m26 21h0m41-10h0m113 6h0m-289 50h0m79-5h0m57-20h0m43 9h0m-168 51h0" stroke="#d4aa3a" stroke-width="11"/><path d="M686 587h0m169-7h0m-230 38h0m1 15h0m140 6h0m6-26h0m-406 34h0m300 2h0m84 17h0m19-3h0m101-22h0m-389 58h0m113 14h0m5 6h0m47-31h0m17-5h0m46 21h0m28-14h0m18 3h0m126 5h0m217 7h0m-497 17h0m150 21h0m30 0h0m8-19h0m34 11h0m-208 43h0" stroke="#d4aa3a" stroke-width="12"/><path d="M588 580h0m150 2h0m29-12h0m83 23h0m-435 46h0m211-1h0m68 1h0m6-22h0m322-8h0m-548 52h0m69-1h0m96-7h0m32 24h0m18-4h0m44-5h0m91-28h0m2 23h0m22 13h0m109-3h0m-458 44h0m105-13h0m134-3h0m29 8h0m150-26h0m-190 57h0m58 4h0" stroke="#d4aa3a" stroke-width="13"/><path d="M719 633h0m153-28h0m55 4h0m53 23h0m-591 36h0m208-24h0m110 23h0m161 9h0m119-26h0m-131 38h0m110-6h0m247 30h0" stroke="#d4aa3a" stroke-width="14"/><path d="M453 597h0m43-22h0m149 20h0m8 2h0m-45 28h0m100-1h0m-119 23h0m92-1h0m58 2h0m59-2h0m98 14h0m79 31h0m-349 67h0" stroke="#d4aa3a" stroke-width="15"/><path d="M647 582h0m140 3h0m21-7h0m96 0h0m103-16h0m-262 44h0m29-2h0m55 22h0" stroke="#d4aa3a" stroke-width="16"/><path d="M858 558h0m-40 21h0m-308 36h0m206 44h0" stroke="#d4aa3a" stroke-width="17"/><path d="M774 535h0m174 23h0m-388 29h0m320 8h0m68 27h0" stroke="#d4aa3a" stroke-width="19"/><path d="M724 558h0" stroke="#d4aa3a" stroke-width="20"/><path d="M639 957h0m106-17h0m-86 57h0m32-27h0m11 24h0m7 0h0m13-25h0m31 12h0m29-6h0m-87 27h0m17 4h0m28 17h0m5 16h0m13-20h0m-60 23h0m38 10h0m6 12h0m-9 47h0m8-15h0m4-15h0m3 18h0m-10 36h0" stroke="#c066e0" stroke-width="3"/><path d="M572 875h0m125-30h0m45 27h0m40-32h0m24 18h0m334 19h0m-758 37h0m219-12h0m165 13h0m10-30h0m32 20h0m-419 41h0m287 3h0m21-26h0m15 32h0m5-18h0m1 22h0m5-27h0m19 25h0m4-25h0m22 1h0m2 14h0m2-9h0m21-9h0m29 23h0m38-2h0m17-14h0m13 7h0m-230 25h0m11 11h0m12 17h0m12-15h0m2 7h0m1-26h0m6 12h0m3 9h0m1 9h0m4-15h0m0 2h0m1 14h0m1-13h0m1-3h0m0-11h0m10 29h0m16-2h0m2-28h0m6-2h0m2 18h0m6 3h0m0 7h0m6-12h0m5-15h0m14-3h0m7 22h0m1 9h0m11-23h0m2 30h0m1-39h0m34 7h0m-195 48h0m60-6h0m12 21h0m2-28h0m1 31h0m7-12h0m6 17h0m4-5h0m5-21h0m11 8h0m4-10h0m31-8h0m3 15h0m50 16h0m20-14h0m5-11h0m-149 64h0m4-4h0m2-11h0m6 13h0m5-26h0m6 10h0m0-14h0m18 38h0m9-23h0m-45 37h0m4 1h0m1 1h0m2 10h0m8-13h0m-1 67h0m31-34h0m14-2h0m-44 47h0m4 11h0" stroke="#c066e0" stroke-width="4"/><path d="M758 738h0m-120 52h0m199-16h0m98 16h0m39 0h0m-402 24h0m89-1h0m110 21h0m9-33h0m5 19h0m16 8h0m14-27h0m24 36h0m19 1h0m36-13h0m-365 30h0m151 21h0m51-28h0m3 24h0m38-10h0m31-3h0m42-12h0m41 23h0m49-27h0m79-2h0m-580 64h0m166-12h0m59 24h0m12-21h0m56 14h0m2-5h0m3-25h0m3 29h0m7-6h0m0-6h0m7 11h0m2 7h0m3-11h0m1 3h0m8-5h0m16-22h0m7 27h0m1-5h0m1 9h0m17-22h0m0 17h0m28-10h0m10 5h0m0-14h0m56 3h0m8 0h0m16-10h0m-495 47h0m130 2h0m98 26h0m2 0h0m2-32h0m1 35h0m15-17h0m22-7h0m3-13h0m14 0h0m12 25h0m21 2h0m13-3h0m22 0h0m1-16h0m4 14h0m2-3h0m3 19h0m14-38h0m19 0h0m21 5h0m1 12h0m11 11h0m2 4h0m13-1h0m60-20h0m-321 46h0m77 7h0m7 7h0m14-26h0m11 3h0m5 9h0m25-15h0m1 26h0m0-1h0m3-22h0m2 26h0m5-16h0m12 15h0m1-19h0m5-11h0m1 5h0m3-2h0m31-4h0m101 34h0m-243 25h0m31-15h0m14 6h0m11-6h0m8 10h0m11 23h0m2-9h0m1-9h0m1 11h0m13-10h0m1-8h0m26-10h0m12 24h0m-132 18h0m38 32h0m28-28h0m14 24h0m6-10h0m62 4h0m-70 16h0m7 1h0m-24 78h0" stroke="#c066e0" stroke-width="5"/><path d="M674 718h0m-107 16h0m137 13h0m18-27h0m-209 79h0m127-20h0m176 10h0m18-4h0m11 8h0m63-6h0m66-7h0m-564 48h0m212 8h0m22-33h0m24-1h0m12 17h0m18 7h0m14-12h0m32 24h0m7-10h0m8 8h0m20-25h0m11 10h0m4-8h0m27 19h0m31-15h0m26 19h0m15-32h0m30 3h0m1 19h0m33-1h0m49-1h0m54 11h0m27 2h0m-495 40h0m27-31h0m2 19h0m43 7h0m10-7h0m36-19h0m1 16h0m10 6h0m44-16h0m1-7h0m10 19h0m19-10h0m5-9h0m6 28h0m11-13h0m3-6h0m4 21h0m40-11h0m7-14h0m155 13h0m-382 54h0m20-25h0m18-2h0m9 27h0m9-33h0m6 27h0m6-22h0m12 11h0m22-14h0m6-5h0m3 31h0m5-8h0m8 1h0m5-5h0m14 5h0m1 1h0m2-24h0m4 7h0m9 30h0m5-19h0m39-17h0m5 10h0m2 1h0m0 19h0m25-33h0m13 30h0m-187 10h0m6 7h0m2 6h0m3 1h0m6 12h0m7-25h0m1 3h0m0 34h0m6-8h0m2-13h0m3-13h0m34 15h0m5-7h0m24-10h0m13 13h0m18 10h0m16 6h0m8-20h0m34 13h0m-261 18h0m68 0h0m15 24h0m8-21h0m5 29h0m15-13h0m14 15h0m32-31h0m28 3h0m16-5h0m0 1h0m-56 40h0m-10 57h0" stroke="#c066e0" stroke-width="6"/><path d="M632 675h0m41 21h0m194 16h0m9 0h0m15 2h0m-377 15h0m189 16h0m1 2h0m31-20h0m93 5h0m21 8h0m8-13h0m61 2h0m-497 63h0m257-17h0m30 17h0m16-27h0m5-2h0m42-1h0m3 20h0m24-9h0m3 14h0m24-9h0m14-3h0m28-13h0m14 30h0m1-4h0m-312 13h0m17 29h0m3-29h0m16 31h0m38-3h0m2-9h0m13 15h0m9 4h0m14-23h0m20 20h0m39-18h0m9-9h0m2-7h0m3 26h0m3-20h0m23 28h0m14-7h0m10-29h0m15 34h0m54-15h0m0-18h0m4 3h0m58 21h0m29-10h0m-333 36h0m7 2h0m35 0h0m22 10h0m5-4h0m17 3h0m12 0h0m10 0h0m11-2h0m2 6h0m12-17h0m13 8h0m15-1h0m10 17h0m10-33h0m12 39h0m4-2h0m0-30h0m0 16h0m33-20h0m16 8h0m1 0h0m14 4h0m16 0h0m15-1h0m-190 61h0m36-2h0m1-10h0m12-23h0m2 32h0m6-22h0m8 9h0m2-5h0m60-7h0m-167 37h0m55 15h0m13 4h0m57-7h0m65-2h0m-202 54h0m141-25h0m-100 65h0m8 3h0" stroke="#c066e0" stroke-width="7"/><path d="M490 630h0m162 41h0m-391 42h0m292-10h0m131 12h0m10 3h0m6-37h0m42 11h0m1 6h0m39-9h0m37 22h0m59-1h0m24-2h0m49-12h0m-385 36h0m65 16h0m25-27h0m2 9h0m42 10h0m37-18h0m11 15h0m29-13h0m57 30h0m5 2h0m4-23h0m1 23h0m20-12h0m15 15h0m25-24h0m175 0h0m6 17h0m-534 41h0m39-21h0m43 0h0m77-3h0m0 11h0m11 15h0m26-23h0m39 14h0m13 2h0m4-15h0m8 18h0m39-18h0m12 14h0m4 1h0m4-12h0m4 20h0m17-31h0m1 17h0m13-2h0m14-9h0m33-9h0m-340 72h0m16-17h0m68-8h0m11-8h0m16 30h0m5 8h0m12-6h0m39 0h0m3 2h0m19 1h0m0-30h0m7 12h0m36 11h0m3-26h0m35 16h0m20 7h0m18-19h0m92 25h0m-479 12h0m72 2h0m12 6h0m89 18h0m28-16h0m8 18h0m10-15h0m5 4h0m50 12h0m46-10h0m2 0h0m35-10h0m17 22h0m17-18h0m78-7h0m-485 38h0m328 5h0m-159 30h0m7-2h0" stroke="#c066e0" stroke-width="8"/><path d="M534 619h0m119 10h0m-96 39h0m195 11h0m7-17h0m21-4h0m68 21h0m-236 40h0m73-6h0m40-23h0m175 14h0m16 13h0m15-8h0m52-5h0m26 1h0m-477 26h0m38 17h0m15-15h0m11 21h0m50-14h0m40 0h0m1-10h0m12 28h0m15-24h0m4 14h0m19-22h0m2 7h0m24 10h0m2 10h0m45-4h0m13-7h0m26-8h0m60 10h0m6-11h0m3-3h0m24-3h0m29 10h0m2 14h0m-483 45h0m126-13h0m44 5h0m42-15h0m3 1h0m12 21h0m22-22h0m33-4h0m38 5h0m7-11h0m10 34h0m52-8h0m4-15h0m12 1h0m10-12h0m-323 60h0m47 12h0m11 0h0m27-29h0m22 0h0m26-3h0m2 2h0m64 6h0m55-10h0m24 8h0m106 10h0m12 3h0m5 1h0m19 13h0m-269 11h0m28 26h0m2-30h0m215 15h0m-203 38h0m-27 49h0m1-11h0" stroke="#c066e0" stroke-width="9"/><path d="M586 638h0m85-7h0m-46 43h0m174-16h0m123-5h0m-365 47h0m16 16h0m107-1h0m8-12h0m64 14h0m6-1h0m77-17h0m298 16h0m-753 36h0m393-10h0m54-13h0m1 17h0m64-12h0m4 18h0m141-3h0m-362 13h0m79 18h0m9-14h0m3 19h0m83 14h0m7-31h0m-543 37h0m579 23h0m-178 17h0m60 18h0" stroke="#c066e0" stroke-width="10"/><path d="M859 585h0m-294 39h0m196-12h0m-229 38h0m25 19h0m140-7h0m14-5h0m0 15h0m111-10h0m29 17h0m3-38h0m46 24h0m35 0h0m44-19h0m-509 59h0m47 7h0m82-5h0m31-16h0m117 16h0m2 7h0m18-10h0m21 14h0m27-17h0m59-8h0m50 25h0m35-16h0m-457 29h0m7 6h0m17 20h0m50-17h0m27 19h0m30-4h0m29-33h0m0 22h0m77-19h0m38 25h0m18-24h0m14 12h0m6-18h0m101 0h0m26 8h0m-372 71h0m118-27h0m116 12h0m54-17h0m-274 68h0m181-31h0m-68 71h0" stroke="#c066e0" stroke-width="11"/><path d="M423 614h0m93 19h0m121-29h0m12 33h0m52-1h0m64-28h0m40 20h0m-448 25h0m147 24h0m67-35h0m14-2h0m79 26h0m6 9h0m62-29h0m1 32h0m42-16h0m103-11h0m157-11h0m-533 49h0m201 25h0m16-25h0m39 3h0m8-12h0m352 3h0m-284 75h0m10-35h0m17 14h0m-275 23h0m226 38h0m210-17h0m-199 47h0m56 33h0" stroke="#c066e0" stroke-width="12"/><path d="M862 585h0m-339 16h0m45 4h0m332-1h0m132-4h0m-551 42h0m259 4h0m54 6h0m89 22h0m7-17h0m10 54h0m97 8h0m-45 39h0" stroke="#c066e0" stroke-width="13"/><path d="M802 519h0m-443 50h0m416 25h0m82-6h0m-428 22h0m138 4h0m216 24h0m-389 32h0m12-15h0m411-10h0m169 6h0m22 2h0m-429 70h0" stroke="#c066e0" stroke-width="14"/><path d="M817 552h0m2 0h0m-239 27h0m25 5h0m-27 49h0m142 1h0m10 4h0m134-15h0m140-14h0m-412 60h0m8 13h0m192 14h0m42-16h0" stroke="#c066e0" stroke-width="15"/><path d="M473 580h0m71 50h0m306-5h0m-90 72h0m30 18h0m136-31h0m-129 99h0" stroke="#c066e0" stroke-width="16"/><path d="M851 505h0m-191 70h0m123 15h0m-30 14h0" stroke="#c066e0" stroke-width="17"/><path d="M406 576h0m263 23h0" stroke="#c066e0" stroke-width="18"/><path d="M756 512h0m-106 87h0m11-17h0m88 5h0m-139 34h0m-20 71h0" stroke="#c066e0" stroke-width="19"/><path d="M787 559h0m14 4h0" stroke="#c066e0" stroke-width="20"/><path d="M774 945h0m-55 65h0m45 18h0m14 2h0m-30 59h0" stroke="#9aa0a8" stroke-width="3"/><path d="M854 873h0m-116 43h0m334-2h0m-403 16h0m13 25h0m2-15h0m59-9h0m55 25h0m2-29h0m12 19h0m95-16h0m-638 48h0m415-8h0m49 8h0m7 17h0m28-4h0m44-28h0m22 35h0m-101 33h0m18-20h0m9 7h0m25 9h0m-62 14h0m1 2h0m22 5h0m37-7h0m-64 48h0m11 54h0" stroke="#9aa0a8" stroke-width="4"/><path d="M803 791h0m-290 35h0m132-2h0m99-5h0m185-6h0m-291 43h0m28 23h0m26-14h0m53 14h0m136-15h0m68 0h0m28 7h0m-473 46h0m109 2h0m39-37h0m2 10h0m2-5h0m65 1h0m3-4h0m9 0h0m33 4h0m30-2h0m1 15h0m2-3h0m5 2h0m22 14h0m124-14h0m-408 29h0m85-6h0m96 27h0m22-16h0m0-5h0m13-1h0m10 4h0m7 9h0m69 15h0m11-31h0m68 20h0m-225 22h0m22 23h0m2-21h0m39 15h0m43-3h0m-173 19h0m64 55h0" stroke="#9aa0a8" stroke-width="5"/><path d="M892 705h0m-118 28h0m40-4h0m97 29h0m-282 33h0m128-18h0m88 4h0m95 8h0m14 12h0m-229 11h0m4 28h0m14-12h0m23 4h0m60-5h0m14-12h0m6 27h0m4-19h0m9 17h0m26-36h0m-279 63h0m81 12h0m4-29h0m14 21h0m21-19h0m36 19h0m2-14h0m19-4h0m32 3h0m10-10h0m20 16h0m23 6h0m31-5h0m101 16h0m-374 14h0m84 14h0m2-9h0m8 23h0m5-5h0m16-16h0m13-14h0m21 2h0m14 4h0m2 9h0m24-11h0m19 26h0m19 3h0m35-31h0m13 9h0m35 1h0m-231 58h0m179-20h0m-171 32h0m-30 72h0m79-24h0" stroke="#9aa0a8" stroke-width="6"/><path d="M638 662h0m28 56h0m176-7h0m23 2h0m102-7h0m21 12h0m-497 32h0m48 4h0m149-2h0m26-25h0m4 24h0m64-17h0m62-1h0m-369 66h0m226 0h0m16-10h0m67-7h0m16-19h0m2 31h0m5-34h0m28 22h0m12 17h0m33-14h0m39 9h0m18-11h0m11 14h0m-354 39h0m52-6h0m28 3h0m0-27h0m71-6h0m23 5h0m23 2h0m23-7h0m15 35h0m27 1h0m6-17h0m191 7h0m36 5h0m-576 41h0m50-27h0m100 26h0m28-8h0m54 3h0m22-3h0m57-6h0m-180 48h0m49-3h0m51-5h0m88 2h0m31 1h0m61-9h0m27 10h0m-160 45h0" stroke="#9aa0a8" stroke-width="7"/><path d="M757 632h0m-132 8h0m1 24h0m170-17h0m-89 38h0m70 30h0m121 2h0m135-27h0m-677 57h0m258-18h0m64 15h0m6-1h0m6-19h0m22 20h0m64-9h0m13 18h0m42-19h0m15 12h0m44-8h0m19-13h0m-391 50h0m150 5h0m19-3h0m72-11h0m43 17h0m370 12h0m-755 9h0m83 19h0m46-9h0m189 10h0m11-1h0m65-23h0m29 4h0m25 3h0m20 11h0m69-6h0m9 19h0m48-12h0m143 19h0m-491 11h0m98 8h0m74-16h0m46 7h0m4 17h0m14-3h0m117-12h0m-300 58h0m160-15h0" stroke="#9aa0a8" stroke-width="8"/><path d="M650 677h0m131-1h0m5-19h0m-293 43h0m237 0h0m49 14h0m50-28h0m49 17h0m35 3h0m6-22h0m43-1h0m-341 61h0m11-6h0m36-10h0m19-5h0m8 36h0m0-23h0m58 20h0m30-1h0m154-33h0m2 31h0m-340 9h0m6-2h0m24 21h0m9-15h0m64 0h0m62-6h0m20 25h0m117-3h0m-7 56h0m23-26h0m-30 72h0m102 67h0" stroke="#9aa0a8" stroke-width="9"/><path d="M730 602h0m69 36h0m-19 11h0m26 24h0m57-4h0m201 0h0m-431 38h0m25-9h0m28-3h0m25 7h0m31-2h0m30-14h0m29 20h0m321-15h0m48 1h0m-499 41h0m1-9h0m133 34h0m46-8h0m36-4h0m18-17h0m-292 38h0m18 12h0m35 4h0m39-11h0m4-4h0m10 7h0m55 2h0m23 3h0m47-11h0m21 2h0m72 27h0m-287 33h0m124-17h0m56-14h0m42 2h0m13 41h0" stroke="#9aa0a8" stroke-width="10"/><path d="M655 581h0m147 1h0m-305 86h0m119-20h0m36-7h0m82 44h0m12-4h0m49 5h0m376-3h0m-647 69h0m115-32h0m288 23h0m13 4h0m11-17h0m-195 41h0m115 1h0m79-5h0m-259 48h0m68 13h0m191-18h0" stroke="#9aa0a8" stroke-width="11"/><path d="M687 592h0m-16 18h0m7 55h0m15-20h0m94 3h0m135 8h0m1 13h0m52 5h0m70-24h0m-435 42h0m7 19h0m18-20h0m77 24h0m62-32h0m102 27h0m-299 36h0m352-10h0" stroke="#9aa0a8" stroke-width="12"/><path d="M789 501h0m-128 75h0m93 1h0m26-4h0m-457 51h0m415-20h0m209 34h0m-158 22h0m241 13h0m-273 15h0m118 10h0m-222 98h0m85 15h0" stroke="#9aa0a8" stroke-width="13"/><path d="M599 547h0m48 49h0m248-30h0m56 30h0m-274 13h0m71-2h0m44 31h0m44-23h0m-348 57h0m215 1h0m62-25h0m-58 52h0m185-11h0m-360 39h0" stroke="#9aa0a8" stroke-width="14"/><path d="M823 546h0m-376 35h0m260-9h0m255 3h0m-395 47h0m12-9h0m105 24h0m26 13h0m46 12h0m90 11h0m41-21h0m-145 30h0m6 27h0m79 23h0" stroke="#9aa0a8" stroke-width="15"/><path d="M659 503h0m-161 69h0m94 24h0m23-12h0m12 13h0m52-23h0m-297 55h0m304 3h0m58-24h0m-236 33h0" stroke="#9aa0a8" stroke-width="16"/><path d="M1123 584h0m-379 93h0m303-29h0" stroke="#9aa0a8" stroke-width="17"/><path d="M496 507h0m311 36h0" stroke="#9aa0a8" stroke-width="18"/><path d="M640 519h0m55-35h0m181 31h0m60 31h0" stroke="#9aa0a8" stroke-width="19"/><path d="M680 581h0" stroke="#9aa0a8" stroke-width="20"/><path d="M1060 914h0m-371 22h0m-15 53h0m66 9h0m11-20h0m-58 24h0m45 4h0m45 21h0" stroke="#b8eccc" stroke-width="4"/><path d="M736 845h0m103 28h0m75-29h0m-21 45h0m-101 42h0" stroke="#b8eccc" stroke-width="5"/><path d="M1033 663h0m-477 74h0m475-8h0m-335 85h0m322 5h0m-461 31h0m172 49h0m10 1h0m8 14h0m3-24h0m-160 36h0" stroke="#b8eccc" stroke-width="6"/><path d="M682 707h0m36 49h0m388-10h0m-519 27h0m281-10h0m-144 76h0m56-10h0m174-1h0m7-6h0m-115 36h0m8-13h0m-153 47h0m44-8h0m64-3h0m-74 68h0m89-17h0" stroke="#b8eccc" stroke-width="7"/><path d="M598 792h0m204-11h0m66 41h0m-297 23h0m241 15h0m10-19h0" stroke="#b8eccc" stroke-width="8"/><path d="M765 662h0m55 37h0m-116 48h0m6 8h0m138-22h0m-9 51h0m-156 43h0m147-24h0" stroke="#b8eccc" stroke-width="9"/><path d="M835 666h0m-162 93h0m15-17h0m154-22h0m17 6h0m247 26h0m-311 13h0m71 6h0m20 27h0m-65 22h0m59-9h0m-138 45h0" stroke="#b8eccc" stroke-width="10"/><path d="M664 623h0m19 72h0m103 20h0m-566 28h0" stroke="#b8eccc" stroke-width="11"/><path d="M741 715h0" stroke="#b8eccc" stroke-width="14"/><path d="M571 576h0m118 3h0m257-15h0m-16 170h0" stroke="#b8eccc" stroke-width="15"/><path d="M966 643h0" stroke="#b8eccc" stroke-width="16"/><path d="M748 870h0m354 41h0m-351 13h0m-7 111h0m-10 50h0" stroke="#b4dcff" stroke-width="4"/><path d="M649 832h0m205 40h0m-185 67h0m50-9h0m168-10h0m-183 66h0m-7 29h0" stroke="#b4dcff" stroke-width="5"/><path d="M778 773h0m37 51h0m20-18h0m-100 46h0m10 14h0m21-13h0m56 60h0m8-10h0" stroke="#b4dcff" stroke-width="6"/><path d="M1026 758h0m-307 62h0m50 45h0m-40 25h0m21 20h0" stroke="#b4dcff" stroke-width="7"/><path d="M678 702h0m112 49h0m-266 9h0m178 37h0m136 1h0m-82 71h0m125-19h0" stroke="#b4dcff" stroke-width="8"/><path d="M749 636h0m132 59h0m-287 86h0m132-21h0m50 22h0m74 3h0m-228 42h0" stroke="#b4dcff" stroke-width="9"/><path d="M746 687h0m40 11h0m-161 23h0m398 59h0m-125 90h0" stroke="#b4dcff" stroke-width="10"/><path d="M823 661h0m-33 53h0" stroke="#b4dcff" stroke-width="11"/><path d="M624 614h0" stroke="#b4dcff" stroke-width="12"/><path d="M651 625h0m54 25h0m92 31h0" stroke="#b4dcff" stroke-width="13"/><path d="M646 602h0" stroke="#b4dcff" stroke-width="14"/><path d="M679 585h0m88-24h0m-102 102h0" stroke="#b4dcff" stroke-width="15"/><path d="M605 554h0m153 72h0" stroke="#b4dcff" stroke-width="16"/><path d="M868 628h0" stroke="#b4dcff" stroke-width="18"/><path d="M671 855h0m126 127h0m48 55h0" stroke="#e4e6e8" stroke-width="3"/><path d="M699 1036h0m2-22h0" stroke="#e4e6e8" stroke-width="4"/><path d="M916 795h0m-300 77h0m108 35h0m63 2h0m-20 17h0m5 104h0" stroke="#e4e6e8" stroke-width="5"/><path d="M875 808h0m-336 35h0m139 15h0m103-16h0m14 34h0m77-3h0m-166 44h0m116 44h0m-99 74h0" stroke="#e4e6e8" stroke-width="6"/><path d="M833 675h0m-177 81h0m84-32h0m89 30h0m-229 43h0m223-21h0m-196 35h0m20 15h0m162-18h0m15 36h0m33 75h0" stroke="#e4e6e8" stroke-width="7"/><path d="M672 612h0m378 104h0m-534 39h0m248-3h0m22-3h0m-140 40h0m85-1h0m32-20h0m-308 64h0m49-24h0m64 8h0m158 8h0m25 15h0m21-36h0m30 41h0m-48 61h0" stroke="#e4e6e8" stroke-width="8"/><path d="M710 715h0m-270 10h0m235 32h0m44-8h0m29-25h0m104 33h0m-313 8h0m24 10h0m215 1h0m-45 42h0m16 11h0m155-6h0" stroke="#e4e6e8" stroke-width="9"/><path d="M1079 573h0m-521 53h0m176 53h0m203-9h0m-193 48h0m367-20h0m-356 69h0m149-6h0m43 3h0" stroke="#e4e6e8" stroke-width="10"/><path d="M466 620h0m410 4h0m-10 75h0m-236 60h0m144-34h0m4 9h0m52 35h0" stroke="#e4e6e8" stroke-width="11"/><path d="M809 593h0m36 41h0m-347 37h0m327 69h0" stroke="#e4e6e8" stroke-width="12"/><path d="M757 595h0m12-6h0m-101 45h0m65 24h0m37 10h0" stroke="#e4e6e8" stroke-width="13"/><path d="M641 559h0m-185 107h0" stroke="#e4e6e8" stroke-width="14"/><path d="M437 596h0m258 24h0" stroke="#e4e6e8" stroke-width="15"/><path d="M775 550h0m101 17h0" stroke="#e4e6e8" stroke-width="17"/><path d="M577 635h0" stroke="#e4e6e8" stroke-width="18"/><path d="M941 865h0m-168 76h0m-143 49h0m102-16h0m28 2h0m98-16h0m-134 55h0m25 38h0m13 13h0m-16 38h0" stroke="#dcc8ff" stroke-width="3"/><path d="M816 878h0m-71 41h0m-59 17h0m27 19h0m180-20h0m-211 43h0m13 8h0m6-7h0m1 0h0m50 17h0m15-13h0m-58 30h0m5 20h0m7-18h0m34 20h0m89-7h0m-97 63h0" stroke="#dcc8ff" stroke-width="4"/><path d="M763 827h0m89 5h0m24 0h0m12-21h0m70 18h0m-350 48h0m197-31h0m16 38h0m52 10h0m87 5h0m-224 40h0m44 7h0m60-9h0m84 11h0m-74 22h0m-125 63h0m16 1h0m11-9h0m25-24h0m12 7h0m-66 35h0m13 119h0" stroke="#dcc8ff" stroke-width="5"/><path d="M612 722h0m50 36h0m26 10h0m122 28h0m64-5h0m-267 28h0m158-17h0m9 9h0m60 12h0m11-4h0m-168 55h0m21-32h0m2 33h0m21-4h0m50-31h0m15 17h0m-140 54h0m78 8h0m45-23h0m35 21h0m93-22h0m-347 26h0m196 34h0m11-23h0m75 7h0m-178 40h0m81 9h0m-14 32h0" stroke="#dcc8ff" stroke-width="6"/><path d="M459 667h0m424 84h0m-157 33h0m-86 40h0m32-13h0m81 18h0m96-15h0m20-2h0m53 11h0m11-10h0m42-12h0m19 23h0m-315 24h0m24 7h0m24-4h0m27 12h0m38-11h0m2 18h0m61-9h0m-179 49h0m55-8h0m20 10h0m-70 32h0" stroke="#dcc8ff" stroke-width="7"/><path d="M908 639h0m-46 2h0m31 60h0m-280 30h0m78-2h0m12 30h0m38 7h0m82-3h0m6 19h0m-225 28h0m24-1h0m69-1h0m26 23h0m70-28h0m1 0h0m143-3h0m-289 76h0m155-12h0m-142 52h0" stroke="#dcc8ff" stroke-width="8"/><path d="M799 696h0m-125 41h0m45-12h0m31 32h0m15-10h0m17-21h0m86 10h0m-389 63h0m171-37h0m7 18h0m50-4h0m67-3h0m210 10h0m-159 42h0m212-10h0m-391 44h0m161-14h0m162 85h0" stroke="#dcc8ff" stroke-width="9"/><path d="M876 636h0m-427 15h0m156 24h0m17-6h0m51 26h0m69 16h0m56-6h0m129 1h0m-259 31h0m54-15h0m30 20h0m-230 20h0m155 15h0m59 9h0m88-4h0m8 10h0" stroke="#dcc8ff" stroke-width="10"/><path d="M603 637h0m-246 35h0m311-27h0m56 34h0m117-8h0m-120 75h0m12 5h0m13-17h0m139-11h0m32 32h0m-266 20h0m179-6h0" stroke="#dcc8ff" stroke-width="11"/><path d="M515 646h0m284 29h0m-92 9h0m5 15h0m159 32h0" stroke="#dcc8ff" stroke-width="12"/><path d="M684 680h0m320 62h0m-197 73h0" stroke="#dcc8ff" stroke-width="13"/><path d="M748 598h0m-107 17h0m130 8h0m159-13h0m15 36h0m206 8h0m-369 36h0" stroke="#dcc8ff" stroke-width="14"/><path d="M929 554h0m-155 85h0" stroke="#dcc8ff" stroke-width="16"/><path d="M1013 605h0" stroke="#dcc8ff" stroke-width="17"/><path d="M630 503h0m148 56h0" stroke="#dcc8ff" stroke-width="18"/><path d="M725 1043h0" stroke="#66d888" stroke-width="3"/><path d="M793 866h0m-110 143h0m139 6h0" stroke="#66d888" stroke-width="4"/><path d="M689 774h0m140 93h0m-108 52h0m137-23h0m-123 48h0m-3 40h0m47 7h0" stroke="#66d888" stroke-width="5"/><path d="M586 783h0m137 43h0m61 4h0m66-6h0m-189 22h0m166 3h0m29-1h0m-232 53h0m131-20h0m52 53h0m5 1h0m-39 51h0m-25 105h0" stroke="#66d888" stroke-width="6"/><path d="M663 764h0m68 33h0m-37 49h0m196 16h0m-65 49h0" stroke="#66d888" stroke-width="7"/><path d="M597 708h0m105 37h0m128 13h0m57-3h0m-187 25h0m14 45h0m332 55h0" stroke="#66d888" stroke-width="8"/><path d="M746 639h0m80 75h0m-255 44h0m198 32h0m89-30h0m20 11h0m-217 51h0m37-2h0" stroke="#66d888" stroke-width="9"/><path d="M531 592h0m225 41h0m244 21h0m24 74h0m-435 46h0m204 6h0m40-7h0m-111 94h0" stroke="#66d888" stroke-width="10"/><path d="M525 655h0m382 24h0m80-22h0m-374 56h0m174-25h0m15 25h0m-39 36h0m-182 53h0" stroke="#66d888" stroke-width="11"/><path d="M625 653h0m93 113h0" stroke="#66d888" stroke-width="12"/><path d="M711 641h0m154 20h0m-137 46h0" stroke="#66d888" stroke-width="13"/><path d="M713 585h0" stroke="#66d888" stroke-width="14"/><path d="M831 649h0m-48 33h0" stroke="#66d888" stroke-width="15"/><path d="M500 575h0m220 1h0" stroke="#66d888" stroke-width="18"/></g><g fill-opacity="0.7"><circle class="G" cx="196.8" cy="130.5" r="3.4"/><circle class="G" cx="137.0" cy="84.5" r="3.5"/><circle class="M" cx="166.7" cy="89.3" r="4.9"/><circle class="F" cx="213.5" cy="152.3" r="2.8"/><circle class="G" cx="180.6" cy="137.1" r="2.6"/><circle class="I" cx="181.9" cy="117.8" r="3.3"/><circle class="G" cx="238.1" cy="137.9" r="2.6"/><circle class="Q" cx="178.6" cy="126.4" r="2.7"/><circle class="C" cx="141.6" cy="89.5" r="6.8"/><circle class="C" cx="216.5" cy="163.3" r="2.5"/><circle class="G" cx="239.7" cy="140.4" r="2.6"/><circle class="J" cx="125.2" cy="146.4" r="2.8"/><circle class="J" cx="124.8" cy="124.4" r="3.0"/><circle class="M" cx="146.1" cy="129.8" r="4.4"/><circle class="M" cx="200.2" cy="136.0" r="2.5"/><circle class="B" cx="175.9" cy="130.1" r="3.0"/><circle class="N" cx="267.1" cy="128.8" r="3.3"/><circle class="C" cx="127.7" cy="131.3" r="2.5"/><circle class="C" cx="192.8" cy="123.8" r="3.1"/><circle class="N" cx="278.5" cy="146.3" r="2.7"/><circle class="G" cx="236.4" cy="120.7" r="2.8"/><circle class="G" cx="181.1" cy="127.8" r="2.8"/><circle class="C" cx="159.4" cy="101.1" r="4.2"/><circle class="E" cx="192.4" cy="117.3" r="3.7"/><circle class="I" cx="185.2" cy="98.9" r="5.4"/><circle class="R" cx="186.7" cy="138.6" r="3.0"/><circle class="C" cx="187.6" cy="133.3" r="4.1"/><circle class="G" cx="164.2" cy="129.6" r="4.2"/><circle class="C" cx="224.4" cy="139.0" r="3.0"/><circle class="G" cx="229.4" cy="124.2" r="2.9"/><circle class="M" cx="184.1" cy="98.3" r="3.7"/><circle class="C" cx="159.4" cy="145.5" r="2.9"/><circle class="G" cx="138.6" cy="106.9" r="3.8"/><circle class="C" cx="179.3" cy="113.9" r="3.6"/><circle class="C" cx="130.0" cy="94.4" r="4.8"/><circle class="G" cx="185.1" cy="133.3" r="2.8"/><circle class="J" cx="176.0" cy="131.1" r="3.4"/><circle class="C" cx="149.4" cy="123.6" r="3.0"/><circle class="N" cx="169.7" cy="137.5" r="2.9"/><circle class="G" cx="157.1" cy="130.6" r="3.3"/><circle class="G" cx="139.4" cy="124.6" r="2.9"/><circle class="F" cx="80.0" cy="104.2" r="4.9"/><circle class="L" cx="175.8" cy="94.4" r="3.6"/><circle class="G" cx="178.6" cy="99.8" r="4.4"/><circle class="C" cx="101.0" cy="120.3" r="3.0"/><circle class="C" cx="140.8" cy="108.9" r="5.0"/><circle class="J" cx="186.9" cy="136.0" r="2.7"/><circle class="Q" cx="182.8" cy="123.6" r="2.9"/><circle class="G" cx="207.4" cy="114.3" r="3.5"/><circle class="C" cx="132.0" cy="127.1" r="2.7"/><circle class="J" cx="168.6" cy="135.3" r="2.8"/><circle class="C" cx="161.6" cy="162.2" r="2.9"/><circle class="C" cx="160.7" cy="121.6" r="4.5"/><circle class="B" cx="192.9" cy="99.7" r="4.5"/><circle class="I" cx="182.6" cy="132.8" r="3.1"/><circle class="B" cx="175.7" cy="112.8" r="3.7"/><circle class="L" cx="137.0" cy="135.3" r="3.6"/><circle class="J" cx="160.2" cy="132.4" r="2.8"/><circle class="C" cx="137.5" cy="146.4" r="3.2"/><circle class="N" cx="118.7" cy="103.9" r="4.3"/><circle class="C" cx="136.1" cy="129.0" r="4.3"/><circle class="M" cx="128.8" cy="130.6" r="3.6"/><circle class="J" cx="251.6" cy="137.6" r="2.9"/><circle class="C" cx="189.7" cy="116.6" r="4.4"/><circle class="E" cx="149.6" cy="117.3" r="2.6"/><circle class="C" cx="237.3" cy="126.8" r="4.3"/><circle class="G" cx="109.8" cy="94.9" r="4.8"/><circle class="G" cx="126.9" cy="136.0" r="2.5"/><circle class="C" cx="145.8" cy="131.1" r="3.4"/><circle class="L" cx="109.6" cy="135.0" r="2.7"/><circle class="M" cx="241.2" cy="145.5" r="2.6"/><circle class="I" cx="125.7" cy="135.9" r="2.7"/><circle class="C" cx="93.7" cy="122.3" r="3.4"/><circle class="N" cx="200.2" cy="145.9" r="2.8"/><circle class="F" cx="175.8" cy="129.2" r="3.0"/><circle class="G" cx="146.3" cy="115.8" r="3.1"/><circle class="N" cx="193.6" cy="130.6" r="2.7"/><circle class="F" cx="197.3" cy="133.7" r="3.1"/><circle class="G" cx="198.1" cy="148.8" r="2.6"/><circle class="M" cx="117.6" cy="106.9" r="2.7"/><circle class="C" cx="243.7" cy="122.3" r="3.1"/><circle class="G" cx="172.9" cy="137.5" r="2.6"/><circle class="C" cx="110.2" cy="139.5" r="2.7"/><circle class="G" cx="135.3" cy="136.0" r="2.7"/><circle class="M" cx="168.4" cy="120.2" r="2.6"/><circle class="C" cx="197.8" cy="125.0" r="3.8"/><circle class="G" cx="175.6" cy="113.6" r="2.6"/><circle class="C" cx="225.6" cy="116.5" r="3.2"/><circle class="M" cx="115.3" cy="100.6" r="4.5"/><circle class="C" cx="222.9" cy="128.3" r="2.7"/><circle class="G" cx="204.7" cy="136.9" r="2.9"/><circle class="C" cx="120.9" cy="116.9" r="3.6"/><circle class="O" cx="211.2" cy="136.3" r="2.8"/><circle class="L" cx="132.4" cy="126.7" r="3.2"/><circle class="G" cx="131.7" cy="104.3" r="3.4"/><circle class="G" cx="139.2" cy="149.2" r="2.6"/><circle class="F" cx="231.7" cy="122.3" r="3.5"/><circle class="N" cx="215.0" cy="135.9" r="2.9"/><circle class="F" cx="204.5" cy="126.9" r="3.4"/><circle class="C" cx="206.1" cy="129.7" r="3.4"/><circle class="G" cx="155.0" cy="121.0" r="2.7"/><circle class="G" cx="168.0" cy="132.6" r="3.4"/><circle class="C" cx="165.3" cy="134.6" r="3.7"/><circle class="C" cx="212.3" cy="106.5" r="3.6"/><circle class="C" cx="247.5" cy="130.4" r="2.7"/><circle class="J" cx="164.9" cy="135.4" r="2.5"/><circle class="N" cx="173.4" cy="91.9" r="4.1"/><circle class="C" cx="154.8" cy="125.2" r="3.5"/><circle class="L" cx="225.0" cy="134.8" r="2.6"/><circle class="N" cx="151.1" cy="144.2" r="2.5"/><circle class="L" cx="185.4" cy="136.6" r="2.5"/><circle class="C" cx="104.3" cy="124.1" r="2.9"/><circle class="C" cx="141.1" cy="124.5" r="4.0"/><circle class="C" cx="139.4" cy="119.6" r="3.1"/><circle class="A" cx="195.5" cy="144.1" r="3.0"/><circle class="Q" cx="151.9" cy="116.8" r="3.5"/><circle class="G" cx="251.0" cy="130.6" r="3.4"/><circle class="C" cx="222.3" cy="128.0" r="2.6"/><circle class="C" cx="191.0" cy="106.9" r="3.9"/><circle class="H" cx="115.2" cy="129.1" r="3.1"/><circle class="F" cx="246.7" cy="135.7" r="2.7"/><circle class="C" cx="172.5" cy="133.1" r="4.3"/><circle class="G" cx="203.2" cy="110.8" r="3.3"/><circle class="C" cx="153.9" cy="132.3" r="3.2"/><circle class="F" cx="163.8" cy="124.4" r="2.9"/><circle class="Q" cx="166.2" cy="121.3" r="3.7"/><circle class="J" cx="198.4" cy="127.5" r="3.8"/><circle class="Q" cx="173.2" cy="123.3" r="3.1"/><circle class="G" cx="188.9" cy="125.9" r="2.9"/><circle class="J" cx="195.7" cy="122.8" r="5.2"/><circle class="I" cx="109.4" cy="127.4" r="3.2"/><circle class="J" cx="152.5" cy="123.8" r="3.7"/><circle class="E" cx="226.3" cy="126.7" r="2.8"/><circle class="R" cx="200.1" cy="133.6" r="3.0"/><circle class="L" cx="215.1" cy="117.1" r="2.6"/><circle class="G" cx="99.0" cy="132.3" r="3.6"/><circle class="N" cx="178.1" cy="137.8" r="2.7"/><circle class="C" cx="84.2" cy="104.5" r="5.7"/><circle class="C" cx="270.8" cy="95.9" r="4.0"/><circle class="N" cx="185.3" cy="112.6" r="3.1"/><circle class="C" cx="138.0" cy="122.5" r="5.2"/><circle class="C" cx="100.0" cy="127.6" r="4.2"/><circle class="C" cx="240.0" cy="141.8" r="2.7"/><circle class="C" cx="165.3" cy="129.8" r="3.9"/><circle class="G" cx="210.6" cy="105.5" r="4.9"/><circle class="M" cx="139.1" cy="108.1" r="3.1"/><circle class="G" cx="195.6" cy="107.0" r="3.0"/><circle class="H" cx="216.2" cy="129.4" r="2.6"/><circle class="J" cx="190.9" cy="109.9" r="2.8"/><circle class="I" cx="125.9" cy="109.9" r="3.3"/><circle class="I" cx="235.0" cy="134.1" r="2.8"/><circle class="J" cx="255.8" cy="92.7" r="4.5"/><circle class="I" cx="216.3" cy="135.1" r="3.3"/><circle class="M" cx="180.9" cy="136.4" r="2.9"/><circle class="H" cx="196.8" cy="121.4" r="2.6"/><circle class="G" cx="221.3" cy="103.0" r="7.0"/><circle class="C" cx="104.2" cy="95.0" r="4.1"/><circle class="C" cx="207.3" cy="131.7" r="3.1"/><circle class="G" cx="157.9" cy="96.6" r="4.9"/><circle class="J" cx="176.1" cy="141.2" r="3.7"/><circle class="L" cx="127.8" cy="95.1" r="3.6"/><circle class="G" cx="171.1" cy="149.6" r="2.9"/><circle class="G" cx="114.0" cy="138.8" r="2.6"/><circle class="C" cx="112.3" cy="124.8" r="3.2"/><circle class="E" cx="68.5" cy="137.6" r="2.9"/><circle class="G" cx="162.6" cy="118.3" r="2.7"/><circle class="J" cx="150.7" cy="91.6" r="3.8"/><circle class="J" cx="239.6" cy="136.4" r="2.6"/><circle class="L" cx="132.6" cy="127.3" r="2.8"/><circle class="I" cx="235.3" cy="132.5" r="3.4"/><circle class="B" cx="183.0" cy="121.9" r="3.4"/><circle class="L" cx="229.6" cy="101.9" r="5.6"/><circle class="C" cx="227.2" cy="150.7" r="2.8"/><circle class="Q" cx="100.7" cy="102.9" r="3.4"/><circle class="I" cx="153.4" cy="131.5" r="3.0"/><circle class="J" cx="218.4" cy="82.2" r="4.1"/><circle class="C" cx="106.1" cy="125.3" r="4.5"/><circle class="G" cx="133.4" cy="143.0" r="2.7"/><circle class="J" cx="174.7" cy="120.3" r="3.0"/><circle class="J" cx="176.0" cy="139.5" r="2.7"/><circle class="C" cx="304.1" cy="116.5" r="3.6"/><circle class="N" cx="162.4" cy="133.2" r="2.9"/><circle class="G" cx="183.5" cy="125.2" r="4.3"/><circle class="M" cx="182.5" cy="126.3" r="2.7"/><circle class="J" cx="195.8" cy="122.4" r="2.5"/><circle class="Q" cx="194.8" cy="88.5" r="5.0"/><circle class="C" cx="128.6" cy="111.1" r="3.1"/><circle class="C" cx="137.2" cy="115.8" r="2.9"/><circle class="I" cx="209.4" cy="133.5" r="3.0"/><circle class="C" cx="200.0" cy="123.8" r="2.8"/><circle class="J" cx="164.6" cy="126.8" r="3.5"/><circle class="C" cx="185.7" cy="134.3" r="3.1"/><circle class="M" cx="166.5" cy="110.4" r="4.6"/><circle class="G" cx="173.5" cy="110.4" r="4.1"/><circle class="C" cx="150.7" cy="117.2" r="4.2"/><circle class="J" cx="188.4" cy="116.1" r="3.1"/><circle class="M" cx="186.8" cy="123.3" r="3.3"/><circle class="J" cx="160.9" cy="135.1" r="2.5"/><circle class="N" cx="92.9" cy="137.7" r="2.6"/><circle class="E" cx="173.0" cy="126.9" r="2.7"/><circle class="G" cx="198.7" cy="132.2" r="3.0"/><circle class="J" cx="161.2" cy="126.5" r="2.9"/><circle class="J" cx="133.6" cy="119.6" r="2.9"/><circle class="G" cx="213.9" cy="118.7" r="3.1"/><circle class="I" cx="169.1" cy="85.1" r="4.9"/><circle class="G" cx="177.2" cy="138.6" r="2.8"/><circle class="P" cx="218.4" cy="121.7" r="3.3"/><circle class="C" cx="197.6" cy="117.6" r="4.1"/><circle class="N" cx="224.7" cy="99.8" r="4.6"/><circle class="G" cx="173.3" cy="117.6" r="3.1"/><circle class="J" cx="207.2" cy="130.8" r="2.6"/><circle class="G" cx="145.8" cy="149.1" r="3.1"/><circle class="P" cx="167.7" cy="116.3" r="4.1"/><circle class="G" cx="203.1" cy="142.4" r="2.5"/><circle class="G" cx="208.3" cy="141.9" r="3.0"/><circle class="Q" cx="102.9" cy="129.9" r="3.0"/><circle class="M" cx="102.4" cy="111.3" r="3.9"/><circle class="C" cx="207.0" cy="115.1" r="4.3"/><circle class="G" cx="180.2" cy="130.2" r="2.6"/><circle class="Q" cx="192.7" cy="115.0" r="3.4"/><circle class="G" cx="181.1" cy="132.5" r="3.0"/><circle class="C" cx="211.7" cy="112.5" r="3.9"/><circle class="C" cx="273.2" cy="110.1" r="3.2"/><circle class="I" cx="166.6" cy="121.5" r="2.7"/><circle class="F" cx="200.1" cy="131.6" r="2.8"/><circle class="J" cx="155.2" cy="86.9" r="3.6"/><circle class="J" cx="150.3" cy="115.3" r="3.6"/><circle class="J" cx="138.2" cy="75.1" r="6.9"/><circle class="G" cx="179.7" cy="114.4" r="3.7"/><circle class="G" cx="164.6" cy="130.2" r="4.6"/><circle class="G" cx="106.9" cy="111.5" r="3.5"/><circle class="M" cx="86.2" cy="135.2" r="3.5"/><circle class="C" cx="79.3" cy="112.4" r="4.3"/><circle class="A" cx="161.6" cy="147.5" r="3.0"/><circle class="M" cx="182.4" cy="111.5" r="2.5"/><circle class="G" cx="238.6" cy="120.6" r="3.0"/><circle class="N" cx="155.2" cy="122.4" r="4.0"/><circle class="L" cx="137.8" cy="142.8" r="2.8"/><circle class="H" cx="237.5" cy="124.3" r="3.2"/><circle class="H" cx="244.1" cy="116.6" r="3.5"/><circle class="C" cx="171.5" cy="137.0" r="2.9"/><circle class="J" cx="126.7" cy="108.0" r="2.5"/><circle class="M" cx="202.4" cy="108.2" r="2.7"/><circle class="C" cx="161.8" cy="98.1" r="5.2"/><circle class="G" cx="151.6" cy="110.5" r="2.6"/><circle class="N" cx="192.8" cy="133.3" r="2.6"/><circle class="G" cx="151.7" cy="146.0" r="3.3"/><circle class="G" cx="153.5" cy="118.4" r="3.4"/><circle class="C" cx="162.9" cy="145.0" r="2.5"/><circle class="C" cx="240.6" cy="115.7" r="4.9"/><circle class="N" cx="169.4" cy="122.2" r="3.4"/><circle class="G" cx="184.0" cy="115.7" r="3.7"/><circle class="G" cx="200.1" cy="125.6" r="3.9"/><circle class="M" cx="171.4" cy="145.4" r="2.8"/><circle class="E" cx="189.9" cy="150.3" r="2.7"/><circle class="L" cx="239.1" cy="120.6" r="2.6"/><circle class="G" cx="192.5" cy="135.2" r="3.1"/><circle class="I" cx="136.1" cy="113.4" r="2.7"/><circle class="I" cx="140.9" cy="128.7" r="2.6"/><circle class="M" cx="175.5" cy="155.2" r="2.6"/><circle class="C" cx="94.8" cy="104.3" r="4.1"/><circle class="C" cx="123.9" cy="123.7" r="4.3"/><circle class="G" cx="85.2" cy="130.9" r="2.5"/><circle class="C" cx="97.7" cy="116.7" r="3.7"/><circle class="C" cx="122.6" cy="97.7" r="3.2"/><circle class="C" cx="98.8" cy="138.5" r="3.0"/></g><g transform="scale(0.25)" stroke-linecap="round" fill="none" stroke-opacity="0.85"><path d="M849 710h0m-54 16h0m335 70h0" stroke="#2db52d" stroke-width="7"/><path d="M696 671h0m-75 44h0" stroke="#2db52d" stroke-width="9"/><path d="M649 664h0m314 15h0m-310 104h0" stroke="#2db52d" stroke-width="10"/><path d="M649 717h0" stroke="#2db52d" stroke-width="11"/><path d="M698 630h0" stroke="#2db52d" stroke-width="12"/><path d="M890 663h0" stroke="#2db52d" stroke-width="13"/><path d="M963 658h0" stroke="#2db52d" stroke-width="15"/><path d="M418 564h0" stroke="#2db52d" stroke-width="16"/><path d="M548 469h0" stroke="#2db52d" stroke-width="17"/><path d="M837 481h0m233 112h0" stroke="#2db52d" stroke-width="19"/><path d="M763 937h0m-9 120h0" stroke="#c8287a" stroke-width="3"/><path d="M866 887h0m-114 67h0m23 15h0m14 10h0m56-15h0m-101 56h0m27-18h0m105 32h0m-131 60h0m38-6h0" stroke="#c8287a" stroke-width="4"/><path d="M483 760h0m285 13h0m41 23h0m-204 18h0m92 17h0m43-22h0m241 25h0m94-3h0m-383 45h0m73-22h0m59 14h0m-99 40h0m77-21h0m110 11h0m105 20h0m-281 2h0m10 5h0m-50 51h0m124-5h0m-76 83h0m16 15h0" stroke="#c8287a" stroke-width="5"/><path d="M641 747h0m70 7h0m243 18h0m-401 39h0m38 24h0m45-18h0m178-14h0m15 18h0m119 11h0m-243 30h0m2-17h0m2 13h0m6-15h0m60 23h0m12-19h0m16-1h0m82 30h0m37-3h0m71-18h0m-250 32h0m64 6h0m7 0h0m4 10h0m-126 39h0m29-9h0m50 0h0m10-9h0m52 33h0m-123 32h0m14 24h0" stroke="#c8287a" stroke-width="6"/><path d="M796 678h0m-74 69h0m111 10h0m-562 34h0m259-14h0m207 7h0m19 14h0m31-11h0m19-11h0m28-9h0m-155 59h0m59-17h0m76 15h0m11 1h0m-181 43h0m61-21h0m27-7h0m61 33h0m23-17h0m47 4h0m-150 38h0m97 6h0m-147 78h0" stroke="#c8287a" stroke-width="7"/><path d="M596 694h0m198-4h0m148 17h0m6-5h0m-330 56h0m65-23h0m29 20h0m6-10h0m25-3h0m139 16h0m50-28h0m-346 40h0m74 18h0m88 7h0m166-6h0m53-10h0m51-1h0m-72 39h0m-272 58h0m22-32h0m15 12h0m71 22h0m2-23h0" stroke="#c8287a" stroke-width="8"/><path d="M564 632h0m188 57h0m19 1h0m89 17h0m27-4h0m32 0h0m235-4h0m-622 52h0m70 5h0m29-17h0m23 10h0m20-25h0m89 35h0m12-1h0m13-1h0m73-30h0m-361 49h0m27-10h0m330 24h0m6-13h0m22-11h0m-209 46h0m115 16h0m180 1h0m-156 28h0" stroke="#c8287a" stroke-width="9"/><path d="M610 593h0m129 34h0m-145 45h0m53-12h0m175 13h0m312-7h0m-589 35h0m144-7h0m16-13h0m10 14h0m29-5h0m13 6h0m58 3h0m7-12h0m3 26h0m85 4h0m4 0h0m29-11h0m69-10h0m-291 48h0m33 3h0m111-8h0m-144 27h0m24-6h0m-198 48h0m323 12h0m9-19h0" stroke="#c8287a" stroke-width="10"/><path d="M516 574h0m53 30h0m-300 41h0m389 0h0m23 23h0m68-20h0m20 31h0m-271 19h0m77 21h0m16-16h0m113-1h0m22 16h0m29-11h0m88-14h0m118 13h0m-437 14h0m244 0h0m128 7h0m3 5h0m22 12h0m77-13h0m-108 31h0m25-2h0m-211 44h0" stroke="#c8287a" stroke-width="11"/><path d="M704 556h0m-111 28h0m344-3h0m-368 54h0m34 9h0m28-1h0m110 21h0m26 5h0m43-9h0m126 5h0m61-16h0m-397 49h0m24 15h0m200-15h0m118-4h0m-217 32h0m169 18h0m-202 29h0" stroke="#c8287a" stroke-width="12"/><path d="M896 548h0m-461 44h0m70-31h0m158 30h0m102-9h0m232 13h0m-250 74h0m84 8h0m-229 18h0m164 22h0m149-20h0" stroke="#c8287a" stroke-width="13"/><path d="M608 554h0m187 11h0m-57 113h0m99-21h0m38 8h0m129-16h0m-474 62h0m115-24h0m67 2h0m12 18h0m102-9h0m77 8h0m5-8h0m102 11h0m-334 27h0m211 3h0m26 2h0" stroke="#c8287a" stroke-width="14"/><path d="M459 556h0m245-10h0m-456 30h0m137 12h0m145-3h0m-25 46h0m478 7h0m-128 28h0m172 2h0m-161 22h0" stroke="#c8287a" stroke-width="15"/><path d="M735 545h0m103 13h0m-329 17h0m15 7h0m276 2h0m31 32h0m143 23h0m-373 25h0m34-3h0m193-13h0m20-2h0m-71 65h0" stroke="#c8287a" stroke-width="16"/><path d="M804 555h0m-287 20h0m126 6h0m113 0h0m156-19h0m-343 76h0m113-15h0" stroke="#c8287a" stroke-width="17"/><path d="M838 470h0m-502 87h0m154-8h0m357-15h0m-392 28h0m120 18h0m126-3h0m-429 51h0m323-21h0m356 71h0" stroke="#c8287a" stroke-width="18"/><path d="M424 480h0m287 17h0m-301 54h0m35-2h0m97 8h0m90-15h0m119 12h0m-141 20h0m79-9h0m40 2h0m130 31h0m48-8h0m5 22h0" stroke="#c8287a" stroke-width="19"/><path d="M480 523h0m1 31h0m388-18h0m-313 53h0" stroke="#c8287a" stroke-width="20"/><path d="M831 915h0m-143 67h0" stroke="#ff7a10" stroke-width="4"/><path d="M809 775h0m23 36h0m-47 44h0m86 13h0m83 35h0m-207 53h0m-66 29h0m103-23h0" stroke="#ff7a10" stroke-width="5"/><path d="M813 819h0m110-7h0m33-12h0m5 12h0m-282 29h0m32 8h0m-72 55h0" stroke="#ff7a10" stroke-width="6"/><path d="M709 778h0m57 0h0m47 16h0m-36 19h0m10-7h0" stroke="#ff7a10" stroke-width="7"/><path d="M830 633h0m-264 107h0m10-20h0m375 121h0m-309 78h0" stroke="#ff7a10" stroke-width="8"/><path d="M647 674h0m-186 30h0m69 46h0m75-25h0m26 17h0m317-11h0" stroke="#ff7a10" stroke-width="9"/><path d="M579 666h0m17-15h0m20 27h0m294-2h0m-1 26h0m-89 97h0" stroke="#ff7a10" stroke-width="10"/><path d="M639 612h0m144 95h0" stroke="#ff7a10" stroke-width="11"/><path d="M879 589h0m-304 37h0m183 34h0m13 7h0m20-21h0m101 57h0m95 2h0m39 9h0m-184 21h0m169-7h0" stroke="#ff7a10" stroke-width="12"/><path d="M414 562h0m426 63h0m-224 17h0m39 37h0m8 30h0m51-19h0" stroke="#ff7a10" stroke-width="13"/><path d="M837 581h0" stroke="#ff7a10" stroke-width="14"/><path d="M607 596h0m53 30h0m11 87h0" stroke="#ff7a10" stroke-width="15"/><path d="M570 588h0m276 72h0" stroke="#ff7a10" stroke-width="16"/><path d="M577 534h0m113-7h0" stroke="#ff7a10" stroke-width="17"/><path d="M805 586h0" stroke="#ff7a10" stroke-width="18"/><path d="M732 475h0m261 33h0m-60 31h0m-219 41h0" stroke="#ff7a10" stroke-width="19"/><path d="M698 587h0" stroke="#ff7a10" stroke-width="20"/><path d="M648 958h0m37 2h0m63 2h0m34 18h0m-83 37h0m26 37h0m24 0h0m-16 39h0" stroke="#2dd4c4" stroke-width="3"/><path d="M680 922h0m50-1h0m24 23h0m37 1h0m12 13h0m10-16h0m-81 45h0m4 1h0m4-17h0m-9 44h0m11 6h0m18 19h0m-37 60h0m7-8h0m59 10h0" stroke="#2dd4c4" stroke-width="4"/><path d="M658 770h0m151 53h0m14 34h0m-101 40h0m91 5h0m33 11h0m-153 37h0m79-6h0m45-13h0m153 1h0m145 24h0m-387 33h0m13-25h0m30 29h0m5-16h0m28-12h0m84 25h0m100-21h0m-289 55h0m61-8h0m18-6h0m-51 43h0m24 66h0" stroke="#2dd4c4" stroke-width="5"/><path d="M580 766h0m155 33h0m-188 22h0m129-9h0m13-1h0m53 23h0m33-12h0m51-10h0m40 23h0m12-1h0m53-3h0m181-5h0m-405 20h0m71 30h0m26-14h0m20 6h0m64-13h0m17 6h0m8 2h0m-177 19h0m33 6h0m13 8h0m-110 43h0m172 23h0m59 20h0" stroke="#2dd4c4" stroke-width="6"/><path d="M666 709h0m-115 47h0m203-36h0m174 12h0m-236 57h0m6-11h0m44 8h0m26-7h0m11 15h0m15-32h0m76 11h0m6 16h0m1-18h0m23 5h0m338 2h0m-574 50h0m2-7h0m23 1h0m41 0h0m107 1h0m1 2h0m50-5h0m-259 21h0m98 35h0m8-25h0m42 20h0m-42 17h0m77-2h0m-224 38h0m134 33h0m68-10h0m-157 15h0" stroke="#2dd4c4" stroke-width="7"/><path d="M1185 599h0m-513 133h0m18 4h0m9-14h0m67 12h0m31-1h0m42-8h0m-109 49h0m40-3h0m25 4h0m12 16h0m300-11h0m-370 42h0m8-14h0m12 21h0m48-14h0m12 11h0m-59 16h0m56 10h0m77-3h0m-130 50h0" stroke="#2dd4c4" stroke-width="8"/><path d="M751 630h0m125-10h0m-274 33h0m168 5h0m18 11h0m21-14h0m85 24h0m-270 4h0m180 35h0m54-19h0m22 14h0m99-25h0m-165 53h0m-57 51h0m141 25h0m61 2h0" stroke="#2dd4c4" stroke-width="9"/><path d="M605 623h0m130-23h0m65 37h0m155-1h0m-259 38h0m90-21h0m-251 34h0m109 20h0m3 10h0m133-15h0m17 13h0m6-11h0m26-4h0m-187 41h0m60-10h0m39 61h0m11 7h0m47-15h0m53 15h0m261 3h0" stroke="#2dd4c4" stroke-width="10"/><path d="M1041 586h0m-468 64h0m34 6h0m62-1h0m117 22h0m81-14h0m10-7h0m71 13h0m-394 18h0m92 10h0m2 21h0m51-33h0m80 28h0m213-22h0" stroke="#2dd4c4" stroke-width="11"/><path d="M425 547h0m374 48h0m-165 36h0m5-14h0m-84 26h0m24-2h0m277 5h0m-334 68h0m445-10h0m30 0h0m-191 20h0m26 30h0m104 1h0m-213 6h0" stroke="#2dd4c4" stroke-width="12"/><path d="M515 591h0m149 7h0m-182 10h0m252 24h0m46-12h0m81 8h0m-137 42h0m-219 16h0m197 25h0m14-8h0m-116 22h0" stroke="#2dd4c4" stroke-width="13"/><path d="M779 554h0m-29 72h0m252 16h0m-137 38h0m-218 87h0" stroke="#2dd4c4" stroke-width="14"/><path d="M504 547h0m-244 29h0m400 14h0m58-18h0m108 64h0m-196 51h0" stroke="#2dd4c4" stroke-width="15"/><path d="M578 635h0m220-10h0" stroke="#2dd4c4" stroke-width="16"/><path d="M518 633h0" stroke="#2dd4c4" stroke-width="17"/><path d="M610 490h0m81 113h0" stroke="#2dd4c4" stroke-width="18"/><path d="M837 541h0m-273 73h0m102 5h0" stroke="#2dd4c4" stroke-width="19"/><path d="M1020 511h0" stroke="#2dd4c4" stroke-width="20"/><path d="M762 917h0m36-24h0m400 22h0m-606 26h0m73 7h0m80 5h0m62-19h0m27 18h0m-208 30h0m56 12h0m22-19h0m1 5h0m5 18h0m42-20h0m2 5h0m3-11h0m9 20h0m4 6h0m2-37h0m4 29h0m5-14h0m0 7h0m57-2h0m-245 33h0m94-2h0m15-8h0m8 6h0m14 13h0m13-20h0m4 21h0m1 3h0m8-10h0m5 12h0m4-3h0m14 3h0m31-17h0m49 22h0m-173 26h0m43 7h0m13-14h0m0 9h0m11-22h0m2 29h0m31 6h0m6-23h0m65 23h0m-130 12h0m8-3h0m1 21h0m16-25h0m0 4h0m1-4h0m-33 64h0m20-13h0m5 19h0m3 9h0m2-25h0m11-10h0m9 11h0m8 66h0" stroke="#8a2be2" stroke-width="3"/><path d="M497 758h0m265 57h0m-8 61h0m468 0h0m-614 33h0m17-19h0m24-1h0m14 18h0m44 1h0m19-4h0m1-23h0m2 0h0m32 19h0m17 11h0m3 3h0m26 2h0m27-35h0m89 23h0m-437 42h0m127-13h0m27 25h0m47-24h0m16 10h0m6 12h0m4-18h0m3-8h0m4 22h0m25 2h0m0-6h0m8 2h0m2-10h0m2-7h0m3 15h0m2-15h0m10 16h0m2 1h0m7 1h0m25-27h0m15-4h0m53 30h0m15-6h0m-241 21h0m2 6h0m3 28h0m6 0h0m32-35h0m8 24h0m2-20h0m5 22h0m3-27h0m8 36h0m1-17h0m12-6h0m6 18h0m3-6h0m10-9h0m5 9h0m1-18h0m0 22h0m3-8h0m1-5h0m1 19h0m10-38h0m8 39h0m14-12h0m10-24h0m1 27h0m17-15h0m7-14h0m3 15h0m39-2h0m-191 49h0m25-20h0m3 12h0m1-1h0m4-7h0m5 10h0m5-11h0m0 8h0m4 20h0m2-1h0m11-7h0m5 13h0m1-30h0m1 13h0m4-7h0m2-14h0m6 15h0m3-4h0m12 6h0m8-6h0m4 24h0m11 1h0m-154 20h0m41 19h0m17-34h0m6 25h0m18 4h0m3-6h0m0-12h0m5 2h0m4-4h0m7-9h0m5 1h0m2 36h0m20-35h0m27 22h0m16-7h0m56-12h0m-154 62h0m14-19h0m2-3h0m10 1h0m2 7h0m4-7h0m2-4h0m-20 38h0m6 7h0m10-6h0m1 35h0m4-37h0m-17 41h0m23 40h0m-24 64h0" stroke="#8a2be2" stroke-width="4"/><path d="M855 720h0m-237 63h0m135 11h0m9-17h0m20 2h0m56 2h0m-210 48h0m17-5h0m12 4h0m9-1h0m2 2h0m21 7h0m77-16h0m37 19h0m3-39h0m19 23h0m11-2h0m23-6h0m7 18h0m35-7h0m58-15h0m-373 51h0m39 5h0m17 2h0m13-19h0m21 2h0m23 17h0m37-10h0m1 5h0m9-5h0m9 13h0m2 6h0m30-7h0m7-12h0m4 10h0m10-6h0m7 11h0m9-25h0m1 11h0m43 14h0m17-19h0m27 15h0m71 0h0m-357 28h0m16-18h0m20 35h0m4-32h0m1 11h0m20 23h0m1-3h0m3-1h0m8-12h0m5 16h0m3-5h0m8-9h0m1 13h0m8-12h0m3 13h0m15-9h0m5 11h0m9-15h0m0-7h0m3 7h0m3-8h0m16-4h0m7-3h0m2 10h0m4 7h0m30-25h0m3 36h0m2-5h0m3-11h0m3-3h0m1 11h0m20-15h0m2 17h0m19-6h0m2-2h0m10 4h0m15-21h0m7-2h0m9 35h0m7-33h0m31 13h0m-328 43h0m5-16h0m14 9h0m3-6h0m12 5h0m3-9h0m11 9h0m15 10h0m2-9h0m10 14h0m3-2h0m9-11h0m11 2h0m2 16h0m2 5h0m4-29h0m4 19h0m7 3h0m3-14h0m10 9h0m5-16h0m6 1h0m4-2h0m0 16h0m11-20h0m5 20h0m7 6h0m3-15h0m2-3h0m14 23h0m9-10h0m3-14h0m2-9h0m0 9h0m3 19h0m8-28h0m105 20h0m8-10h0m-406 27h0m38 4h0m64 2h0m27 15h0m6-17h0m2 19h0m0-17h0m22 17h0m16 4h0m16-13h0m11 8h0m4-5h0m3-7h0m8 8h0m2 17h0m12-3h0m4-23h0m11 24h0m1-28h0m3 5h0m4 7h0m31-18h0m80 34h0m-292 31h0m22 6h0m88-29h0m5 37h0m21-28h0m2-10h0m5 21h0m7-14h0m23-1h0m5 12h0m-296 37h0m182 5h0m39-18h0m10 24h0m2-23h0m9 28h0m7-31h0m4 36h0m1-19h0m1 0h0m0 10h0m-23 19h0m16 8h0m41 23h0m47-16h0" stroke="#8a2be2" stroke-width="5"/><path d="M658 666h0m75 39h0m20 7h0m381-29h0m-512 52h0m6 7h0m89 12h0m10 1h0m29-13h0m30 2h0m55 9h0m24 3h0m-347 29h0m62-24h0m33 5h0m47 19h0m29 1h0m59 0h0m1-6h0m20 15h0m8-6h0m27-4h0m1 10h0m21-14h0m2 13h0m27-22h0m60 25h0m-462 38h0m44-25h0m5-7h0m3 12h0m74 22h0m3-17h0m89-3h0m36 2h0m10 10h0m5-5h0m61-3h0m19 12h0m11-19h0m27-10h0m1 20h0m18 7h0m8-3h0m1-21h0m12 9h0m3-10h0m7 22h0m2 5h0m6-8h0m2 2h0m24-10h0m62 13h0m8 5h0m32-26h0m-617 55h0m73-24h0m50 10h0m33 26h0m59-17h0m17-16h0m4-3h0m1 33h0m29-22h0m10 4h0m24 18h0m12-13h0m4-13h0m7 10h0m4 20h0m9-9h0m1 4h0m16-3h0m21-17h0m7 8h0m7 1h0m2 11h0m0-13h0m11 6h0m3-2h0m0-5h0m8-2h0m2 1h0m26 15h0m4 4h0m15-18h0m7-15h0m5 19h0m122 1h0m-530 40h0m133 1h0m39-22h0m36 20h0m0-21h0m41 4h0m5 5h0m12 6h0m1 0h0m4 8h0m7 8h0m1-19h0m8 16h0m2 9h0m8-28h0m14 11h0m5-10h0m8 8h0m7-11h0m1 23h0m1-20h0m5 19h0m4 3h0m1-11h0m4 15h0m20-19h0m2 18h0m0-34h0m9 29h0m3-26h0m2 12h0m2 7h0m5-12h0m0 1h0m21 4h0m3-2h0m4 2h0m45 4h0m11-1h0m-321 35h0m9-14h0m14 12h0m23-10h0m0 20h0m18 2h0m16 13h0m4-5h0m5-33h0m1 27h0m17 11h0m1-34h0m11 35h0m22-35h0m2 29h0m5-26h0m3 18h0m6-5h0m12-3h0m2-7h0m28-10h0m8 16h0m37 16h0m13-4h0m44-11h0m-294 26h0m17 25h0m37-2h0m4 0h0m69-20h0m2 25h0m18-17h0m4 2h0m114-6h0m-187 62h0m13-7h0m9-16h0m2 18h0m104-27h0m-140 40h0m37 17h0" stroke="#8a2be2" stroke-width="6"/><path d="M763 628h0m-289 35h0m380-10h0m-308 54h0m63-8h0m54-2h0m17 0h0m205 20h0m107-34h0m61 35h0m-417 33h0m36-17h0m53 17h0m1-27h0m0 5h0m6 26h0m2-17h0m7-11h0m2 23h0m15-22h0m5 0h0m58 28h0m9-11h0m15-5h0m20-18h0m25 16h0m15 18h0m25-35h0m15 33h0m4-16h0m-361 51h0m26 10h0m65-31h0m2 12h0m9 11h0m7 2h0m2-6h0m4-15h0m28 20h0m21-7h0m23 14h0m5-29h0m3 16h0m38 12h0m2-28h0m8-4h0m30-5h0m2 38h0m26-17h0m4 7h0m21-5h0m50-5h0m8-6h0m15 17h0m1-2h0m157-22h0m117 31h0m-806 33h0m145-7h0m24-11h0m9 5h0m16-14h0m12 35h0m8 0h0m13-25h0m1-1h0m7-2h0m5-9h0m23 18h0m1-12h0m3 0h0m2-3h0m1 26h0m6 6h0m6-3h0m8-26h0m0 23h0m2-19h0m9-8h0m6 32h0m12-3h0m1-20h0m6 16h0m1-7h0m1-10h0m2-2h0m2 10h0m2 17h0m9 1h0m3-22h0m7-12h0m11 12h0m5 9h0m6-7h0m27 14h0m3-11h0m7-18h0m8 8h0m7-4h0m6 7h0m17-8h0m1 5h0m26 19h0m12 0h0m23-4h0m6 10h0m-415 34h0m21 5h0m6-17h0m15-17h0m2 0h0m3 22h0m31-2h0m14 15h0m19-30h0m1-4h0m17 1h0m9 25h0m8-5h0m10-17h0m14 17h0m1 5h0m3-21h0m8 33h0m3-31h0m10-4h0m0 10h0m6 7h0m2-17h0m0 15h0m0 2h0m5 17h0m0 0h0m8-34h0m0 5h0m2 21h0m12-1h0m8-15h0m18-9h0m36 8h0m15 20h0m1-4h0m2-19h0m26 29h0m4-24h0m95-11h0m16 0h0m-374 54h0m43-13h0m29 33h0m12-13h0m3 11h0m31-28h0m0 5h0m7-3h0m3 27h0m4-32h0m6 24h0m19-14h0m29-10h0m4 24h0m40-14h0m39 3h0m3-16h0m16-2h0m61 7h0m34-5h0m21 13h0m-316 51h0m39-16h0m26 6h0m18 1h0m9 4h0m200-19h0m-290 87h0m10-3h0m33 41h0" stroke="#8a2be2" stroke-width="7"/><path d="M263 637h0m399-4h0m113-29h0m-345 58h0m164 14h0m3-36h0m12 13h0m137 14h0m45-6h0m-167 47h0m33 2h0m24 5h0m20 3h0m1-7h0m16-15h0m81-2h0m12 25h0m49-31h0m15 26h0m10 4h0m24-38h0m20 26h0m1-8h0m145-17h0m-732 57h0m29-12h0m156 11h0m79-16h0m25 20h0m23 17h0m13-22h0m5-6h0m62-3h0m5 30h0m18-26h0m2-10h0m43 34h0m1-19h0m9-7h0m33 7h0m6 22h0m22-14h0m39 6h0m5-30h0m13 13h0m39-5h0m22-8h0m5 22h0m62 13h0m54-24h0m-528 45h0m47-10h0m16-2h0m8-4h0m46 1h0m34 18h0m4-5h0m3-6h0m9 29h0m18-32h0m23 15h0m4 11h0m5-2h0m8-2h0m10-13h0m15 18h0m12 6h0m10-25h0m8 5h0m13-3h0m29 24h0m10-22h0m17 0h0m32 18h0m5-11h0m19-12h0m-749 38h0m297 16h0m31 12h0m51-25h0m27 19h0m9 2h0m8-32h0m23-2h0m7 35h0m8-33h0m55 33h0m0-32h0m1 9h0m15 2h0m10 23h0m16-31h0m12 4h0m5 3h0m3 17h0m13-25h0m20 5h0m12-6h0m38-4h0m112 24h0m25-21h0m-361 76h0m20-29h0m11 15h0m9-25h0m4 12h0m0-4h0m5 4h0m1-8h0m54 18h0m22 9h0m7-14h0m12-11h0m4 26h0m7-32h0m18 24h0m26 14h0m3-30h0m66 28h0m72-17h0m-517 41h0m160-14h0m10-3h0m1 17h0m44-20h0m2 30h0m19-13h0m5-6h0m33 20h0m1-13h0m53-13h0m111 14h0m108-12h0m-297 72h0m144-38h0m-167 64h0" stroke="#8a2be2" stroke-width="8"/><path d="M484 602h0m274 28h0m29-3h0m85 12h0m-309 17h0m42 8h0m25-4h0m14 13h0m11-13h0m27 2h0m3 12h0m54-25h0m4 21h0m10 6h0m36 1h0m22-28h0m33 20h0m65 5h0m-501 38h0m24-23h0m89-1h0m67 24h0m63-22h0m3-3h0m62 15h0m8-3h0m19 13h0m26-3h0m15 9h0m10 1h0m4-16h0m35-7h0m28 7h0m23-17h0m1 30h0m16-13h0m5 16h0m3-22h0m4 3h0m36 15h0m57-1h0m82-9h0m-576 35h0m48-14h0m26-2h0m57-2h0m4 25h0m21-22h0m4 9h0m22 2h0m39-1h0m3-5h0m12-7h0m5 3h0m2 29h0m2-13h0m2-1h0m8-7h0m7 25h0m32-2h0m27-20h0m0-2h0m12-8h0m9 7h0m15 24h0m4-15h0m10-21h0m2 4h0m35 14h0m4-7h0m36 19h0m137-25h0m1 10h0m34 20h0m-649 29h0m52-22h0m43 9h0m45-4h0m17 20h0m67-22h0m9 17h0m9-7h0m6-15h0m3 20h0m10-13h0m8 4h0m27-13h0m35 28h0m5 11h0m31-24h0m16 15h0m31-24h0m17 15h0m9 16h0m25-1h0m2-16h0m-346 43h0m34 8h0m1-27h0m41 29h0m44-11h0m25-8h0m2 1h0m4 10h0m1-17h0m16 24h0m2-19h0m3 5h0m65-17h0m15 13h0m6 15h0m9-3h0m5 10h0m39-14h0m8-8h0m59-1h0m6-12h0m-341 68h0m27-14h0m45-10h0m10 10h0m11-14h0m9 13h0m8 22h0m131-16h0m6 7h0m18-20h0m19-1h0m-126 38h0m21 4h0m39-5h0" stroke="#8a2be2" stroke-width="9"/><path d="M621 577h0m113 16h0m75-19h0m-52 65h0m42-21h0m50 20h0m79-3h0m-384 37h0m73-12h0m4-14h0m60 25h0m4-11h0m9 10h0m10-17h0m1 14h0m36 3h0m57 7h0m18-26h0m7-6h0m71 30h0m16-11h0m6-20h0m30-4h0m7 26h0m10 13h0m-484 24h0m86 4h0m34 7h0m23-27h0m38 24h0m20-16h0m43-3h0m33 19h0m31-1h0m115-14h0m44-9h0m45 0h0m4 19h0m290-4h0m-929 21h0m149 3h0m37-2h0m11 10h0m18-1h0m40 9h0m28 3h0m7-17h0m7 17h0m3-16h0m45-9h0m22 18h0m9-13h0m37 20h0m28 4h0m22-18h0m6-8h0m7 31h0m6-23h0m16 4h0m14 12h0m2-14h0m30 9h0m13 12h0m33-27h0m57-6h0m105 19h0m21 11h0m-551 18h0m31 4h0m17 1h0m11 8h0m35 2h0m34-6h0m26-3h0m40-3h0m1-12h0m8 31h0m3-24h0m10 29h0m22-31h0m39 17h0m65 15h0m129-13h0m112 2h0m-504 18h0m1 8h0m7 24h0m9-1h0m12-19h0m30 14h0m37-19h0m45 7h0m5 8h0m4 1h0m82-23h0m319 7h0m-531 33h0m2 6h0m49 11h0m146-20h0m-1 64h0" stroke="#8a2be2" stroke-width="10"/><path d="M598 595h0m100-3h0m-268 20h0m117-2h0m72-4h0m54 15h0m10 2h0m40-12h0m103 17h0m33 4h0m-427 13h0m106 11h0m24 13h0m7-13h0m1-1h0m21 4h0m26-9h0m52 18h0m4-18h0m50 2h0m15 10h0m19-1h0m8 18h0m1-15h0m27-21h0m16 17h0m6-8h0m0 3h0m18 18h0m18-12h0m22-10h0m1 14h0m59-1h0m75-15h0m2 4h0m-534 45h0m144 8h0m22-22h0m8 4h0m35 11h0m85 16h0m32-4h0m1-22h0m24 0h0m59-2h0m12-6h0m18 31h0m57-28h0m42-1h0m10 11h0m49 12h0m20-24h0m-705 40h0m30 20h0m137 16h0m113-13h0m14 2h0m17-8h0m38 15h0m6 1h0m11-19h0m7 17h0m6-4h0m48-4h0m1 1h0m1 10h0m23-21h0m12-10h0m15-4h0m12 0h0m14 28h0m27 6h0m18-21h0m88-11h0m42 1h0m53-1h0m-479 59h0m69 4h0m29-15h0m8 13h0m23 10h0m17-7h0m23-7h0m56-19h0m22 29h0m29-8h0m70 6h0m-242 20h0m4-2h0m13-6h0m59 26h0m2-24h0m42 38h0m26 24h0" stroke="#8a2be2" stroke-width="11"/><path d="M547 554h0m143 3h0m-295 33h0m124 6h0m44-8h0m53 10h0m79-10h0m172-16h0m34 24h0m179-22h0m11-1h0m-630 49h0m192 16h0m61-18h0m134 12h0m10-25h0m142 20h0m8 0h0m-434 40h0m21 7h0m31-33h0m93 28h0m19 6h0m1 0h0m4-18h0m27-10h0m59 29h0m62-24h0m31 18h0m165-4h0m-511 35h0m85-13h0m36 8h0m42-3h0m25 6h0m3-10h0m6 5h0m24 2h0m26 1h0m116 10h0m1-11h0m63-8h0m-214 36h0m68 2h0m372-4h0m-612 42h0m36 0h0m95 23h0m262 7h0" stroke="#8a2be2" stroke-width="12"/><path d="M559 504h0m233 47h0m-175 29h0m16 9h0m26-2h0m22-21h0m57-2h0m-450 61h0m53 0h0m123-19h0m89 7h0m14 20h0m41 5h0m111-19h0m39 6h0m20 9h0m19-18h0m49 5h0m66 11h0m7-5h0m3-17h0m-391 34h0m2 35h0m23-24h0m9 19h0m74-7h0m64 10h0m13-26h0m86-5h0m5-2h0m11 7h0m63 5h0m54-14h0m-374 64h0m81-18h0m101 12h0m231-19h0m-443 57h0m163 1h0m1 10h0m10 7h0m146-36h0m7 27h0m-132 116h0" stroke="#8a2be2" stroke-width="13"/><path d="M462 539h0m367-19h0m51 32h0m-370 31h0m53-18h0m21 17h0m9-18h0m19 4h0m0 28h0m22-6h0m39-4h0m16-15h0m38 28h0m17-33h0m12 22h0m30-6h0m20 1h0m48 4h0m53-2h0m118-15h0m-800 46h0m356-11h0m27 14h0m11 8h0m23-18h0m12 4h0m18 13h0m21-2h0m6 9h0m8-6h0m22 7h0m155-22h0m11 8h0m116 15h0m-583 6h0m108 13h0m137 10h0m11-7h0m34-11h0m28 7h0m45-6h0m62 28h0m130-10h0m304-8h0m-777 52h0m131-29h0m56 5h0m86 9h0m55 1h0m-253 30h0" stroke="#8a2be2" stroke-width="14"/><path d="M846 537h0m35 2h0m-414 50h0m30-27h0m7 20h0m132-20h0m50 20h0m12 6h0m62 7h0m5-21h0m18 18h0m58 3h0m99-22h0m-465 49h0m31 6h0m39-21h0m14 16h0m50 5h0m22-3h0m214 9h0m65-29h0m-350 38h0m24 1h0m88 11h0m76 19h0m4-31h0m30-1h0m9 23h0m15-20h0m36 13h0m109-8h0m-192 32h0m67 18h0m-319 43h0m144 12h0m267-28h0m-326 34h0" stroke="#8a2be2" stroke-width="15"/><path d="M745 531h0m124 10h0m-328 51h0m8-17h0m290 1h0m288 11h0m-536 44h0m43-25h0m79-3h0m35 13h0m5 19h0m-197 18h0m106-10h0m16 14h0m14 13h0m87 0h0m146-8h0m-225 41h0m189-15h0m24 18h0" stroke="#8a2be2" stroke-width="16"/><path d="M820 482h0m-276 68h0m238-3h0m129 10h0m-469 14h0m246-2h0m63 8h0m-89 28h0m13 3h0m39 31h0m71-24h0m21 77h0" stroke="#8a2be2" stroke-width="17"/><path d="M928 475h0m-557 27h0m125 39h0m68 7h0m340-9h0m-437 41h0m90 8h0m150-5h0m55 4h0m26-14h0m35 10h0m36-17h0m-237 54h0m54 3h0m35-8h0m18-12h0m25 23h0m57 12h0m-65 18h0m190 79h0" stroke="#8a2be2" stroke-width="18"/><path d="M494 468h0m329 34h0m-241 23h0m135 24h0m194 3h0m-244 39h0m56 1h0m183-7h0m-101 16h0m229 36h0" stroke="#8a2be2" stroke-width="19"/><path d="M497 539h0m134 77h0m187-11h0" stroke="#8a2be2" stroke-width="20"/><path d="M754 1026h0m-20 102h0" stroke="#ffaad0" stroke-width="3"/><path d="M675 894h0m-58 54h0m102-28h0m25 9h0m9 27h0m-31 110h0m14-19h0m59-6h0m-54 39h0" stroke="#ffaad0" stroke-width="4"/><path d="M809 715h0m27 123h0m55-13h0m-305 38h0m72 3h0m41 43h0m76 8h0m1-10h0m27-18h0m-121 38h0m40 20h0m120-5h0m-125 31h0m25-10h0m3 24h0" stroke="#ffaad0" stroke-width="5"/><path d="M659 728h0m113 70h0m-228 36h0m205-1h0m2 2h0m11-24h0m23 2h0m45 13h0m-261 25h0m150-9h0m41 19h0m283 4h0m-279 41h0m29 49h0m2 21h0m-54 42h0" stroke="#ffaad0" stroke-width="6"/><path d="M505 720h0m243 31h0m127 0h0m-404 19h0m123 9h0m17 15h0m54-3h0m10-4h0m66-7h0m117-5h0m20 48h0m19-5h0m47-15h0m-291 66h0m-5 43h0" stroke="#ffaad0" stroke-width="7"/><path d="M551 709h0m-128 20h0m98-9h0m141 0h0m147 0h0m-96 70h0m65-11h0m91-7h0m121 6h0m-247 57h0m24-17h0m15 12h0m-98 11h0m157 23h0m-5 52h0" stroke="#ffaad0" stroke-width="8"/><path d="M617 573h0m-88 84h0m226 22h0m-185 36h0m107 12h0m71 29h0m120 3h0m160-34h0m-439 45h0m188 15h0m73-16h0m39-3h0m40-5h0m-263 70h0m102-24h0m23 109h0" stroke="#ffaad0" stroke-width="9"/><path d="M641 611h0m42 27h0m-59 58h0m59 1h0m184-7h0m-142 42h0m120 20h0m0-30h0m-114 77h0m139 37h0" stroke="#ffaad0" stroke-width="10"/><path d="M1010 646h0m-319 88h0m-61 44h0m152 48h0" stroke="#ffaad0" stroke-width="11"/><path d="M217 589h0m505 2h0m101 4h0m-50 32h0m-172 65h0m46 45h0m31-17h0m-196 82h0" stroke="#ffaad0" stroke-width="12"/><path d="M753 588h0m-226 21h0m150 17h0m212-4h0m-364 29h0m37 16h0m176-9h0m-250 35h0m351-6h0" stroke="#ffaad0" stroke-width="13"/><path d="M524 552h0m227-9h0m111 77h0m323 53h0m-256 68h0" stroke="#ffaad0" stroke-width="14"/><path d="M742 611h0m10 7h0m49 32h0" stroke="#ffaad0" stroke-width="15"/><path d="M767 638h0m42-32h0m134 69h0" stroke="#ffaad0" stroke-width="16"/><path d="M703 548h0m51 12h0m-274 63h0" stroke="#ffaad0" stroke-width="17"/><path d="M879 562h0m-120 123h0" stroke="#ffaad0" stroke-width="19"/><path d="M738 937h0m7 62h0m29 23h0m-41 37h0m-50 44h0m72-4h0" stroke="#fff030" stroke-width="3"/><path d="M671 854h0m-205 42h0m109 25h0m104 34h0m3-15h0m29-13h0m63-7h0m124 14h0m-117 29h0m62 27h0m-134 22h0m36 3h0m34 17h0m-10 22h0m-47 28h0" stroke="#fff030" stroke-width="4"/><path d="M556 799h0m457-8h0m-308 41h0m2-10h0m14 5h0m3-25h0m14 18h0m-131 25h0m97 18h0m64 1h0m58 5h0m150-8h0m-389 32h0m4-7h0m89 10h0m17-14h0m12 14h0m23 11h0m22 7h0m13 5h0m2-12h0m7-4h0m29 9h0m13 2h0m47 3h0m25-11h0m-182 49h0m2-7h0m55-27h0m1 23h0m12 3h0m5-23h0m-98 68h0m107 0h0m151-1h0m-224 11h0m9 16h0m16 22h0" stroke="#fff030" stroke-width="5"/><path d="M547 693h0m110 12h0m13 82h0m51-14h0m-8 53h0m10-3h0m88 16h0m7-8h0m5 8h0m23-9h0m4 0h0m11 5h0m92-30h0m-289 44h0m22-4h0m48 11h0m16-11h0m1 11h0m34-1h0m94-2h0m-176 59h0m178-25h0m-299 37h0m202 5h0m236 20h0m-291 69h0" stroke="#fff030" stroke-width="6"/><path d="M801 679h0m-24 40h0m32-24h0m8 12h0m45-16h0m218 8h0m-510 30h0m43 3h0m152 24h0m66-17h0m-104 53h0m37 0h0m7-16h0m62 23h0m-254 31h0m19-18h0m14-10h0m88-1h0m24 1h0m18 2h0m10-2h0m16 6h0m3-1h0m48-3h0m121 21h0m-192 31h0m35-7h0m1 3h0m32 4h0m11-11h0m92 31h0m0-33h0m-239 42h0m17 80h0" stroke="#fff030" stroke-width="7"/><path d="M726 616h0m108 61h0m4-7h0m-238 25h0m80 1h0m74 4h0m78-13h0m47 31h0m50-35h0m-382 71h0m123-34h0m16 33h0m145-20h0m22 15h0m-329 46h0m125-13h0m3-17h0m65-1h0m148 5h0m-309 52h0m62-12h0m117 13h0m35 14h0m10-7h0m56-1h0m99-27h0m-131 42h0m62 11h0m30 21h0m121-3h0m-347 29h0" stroke="#fff030" stroke-width="8"/><path d="M699 633h0m31 41h0m-191 7h0m223 37h0m3-5h0m19-33h0m173 23h0m-385 46h0m51-1h0m108-3h0m5-7h0m36-15h0m82 31h0m128-16h0m-539 59h0m258-17h0m33 2h0m13-8h0m34-14h0m94 16h0m12-14h0m40 36h0m163-28h0m-337 64h0m-55 17h0m13 73h0" stroke="#fff030" stroke-width="9"/><path d="M539 638h0m108-9h0m179-2h0m-361 39h0m284-14h0m49 7h0m12 19h0m139-1h0m-450 10h0m31 15h0m101-14h0m17-4h0m56 34h0m51-19h0m17-19h0m13 35h0m132-21h0m18 8h0m-143 40h0m27-9h0m37 18h0m49 8h0m19 0h0m-191 33h0m30-24h0m57 8h0m92-10h0m13-4h0m76-2h0m-300 73h0m90-21h0m-49 33h0" stroke="#fff030" stroke-width="10"/><path d="M723 577h0m103 22h0m-452 29h0m448-16h0m254-10h0m-637 38h0m33 9h0m230 22h0m19-16h0m11 22h0m25-2h0m15-9h0m5-12h0m45 16h0m60-26h0m17 12h0m61 10h0m-317 22h0m52-6h0m78 8h0m50 8h0m-415 27h0m125-3h0m189 28h0m210-17h0m-267 34h0m225 13h0m-120 121h0" stroke="#fff030" stroke-width="11"/><path d="M935 551h0m-488 11h0m174 21h0m-40 47h0m138-13h0m-141 33h0m42 10h0m127-11h0m18 3h0m113 0h0m-314 28h0m72 15h0m15 16h0m183 3h0m90-2h0m-511 11h0m118 5h0m188 8h0m10-2h0m140 3h0m-187 52h0m53-17h0m50 56h0" stroke="#fff030" stroke-width="12"/><path d="M717 533h0m69 60h0m-216 27h0m109-13h0m35 17h0m29 14h0m-154 15h0m139-6h0m162 25h0m5 2h0m-173 35h0m73-3h0m288-5h0m-211 30h0" stroke="#fff030" stroke-width="13"/><path d="M704 563h0m322 19h0m-614 34h0m228-5h0m-68 36h0m168 1h0m25 25h0m25-31h0m30 35h0m77-6h0m79-31h0m38 34h0m-229 62h0m199-15h0" stroke="#fff030" stroke-width="14"/><path d="M579 559h0m-140 4h0m710 12h0m-508 61h0m43-27h0m298-7h0m-305 40h0m130 7h0m151 9h0" stroke="#fff030" stroke-width="15"/><path d="M651 529h0m7 76h0m31 27h0m17-21h0m28-9h0m131 35h0m111-21h0m-171 76h0" stroke="#fff030" stroke-width="16"/><path d="M765 480h0m-215 118h0m7-15h0m174 0h0m127 45h0m-167 37h0" stroke="#fff030" stroke-width="17"/><path d="M667 465h0m-22 61h0m65 7h0m-241 28h0m19 78h0m89-11h0m127-23h0" stroke="#fff030" stroke-width="18"/><path d="M648 493h0m62 37h0m-108 73h0m331 0h0m-242 70h0" stroke="#fff030" stroke-width="19"/><path d="M803 674h0" stroke="#fff030" stroke-width="20"/><path d="M738 983h0m101-17h0m-121 118h0" stroke="#4488ff" stroke-width="3"/><path d="M972 890h0m-219 46h0m2 20h0m30-15h0m22-14h0m-131 41h0m97 2h0m-91 31h0m68 35h0m111-36h0m-117 75h0m5-4h0m53-20h0" stroke="#4488ff" stroke-width="4"/><path d="M676 833h0m14-3h0m120-8h0m20-1h0m92-18h0m46 28h0m-260 26h0m15 21h0m40 42h0m2 26h0m35-16h0m-60 34h0m-7 61h0m-35 66h0" stroke="#4488ff" stroke-width="5"/><path d="M657 830h0m61-7h0m63 7h0m43 9h0m78-12h0m35-18h0m26 18h0m-380 42h0m110-18h0m24 26h0m353 2h0m-240 23h0m-130 36h0m57 76h0m-23 55h0" stroke="#4488ff" stroke-width="6"/><path d="M558 711h0m56-19h0m53 23h0m53-9h0m-225 26h0m119-2h0m59 2h0m110 17h0m-276 12h0m51 2h0m120 17h0m146-14h0m157-2h0m86 0h0m-406 71h0m35-22h0m112 12h0m2-5h0m245 19h0m-483 6h0m57 25h0m150 5h0m12-9h0m57-24h0m-409 42h0m248 1h0m-162 67h0" stroke="#4488ff" stroke-width="7"/><path d="M640 712h0m72 5h0m59 0h0m90-6h0m20 4h0m-184 25h0m42-4h0m75 7h0m46 11h0m-493 26h0m401-17h0m42 25h0m46-15h0m29 11h0m-82 43h0m-59 32h0m75-19h0m78 4h0m-230 77h0" stroke="#4488ff" stroke-width="8"/><path d="M510 587h0m79 52h0m-74 38h0m9-13h0m253 0h0m85 5h0m168 4h0m-412 22h0m94 4h0m2 17h0m97-5h0m12-6h0m10 5h0m59-17h0m1 13h0m-143 20h0m40-1h0m154 1h0m-266 53h0m16 19h0m122-34h0m-289 76h0m135 68h0" stroke="#4488ff" stroke-width="9"/><path d="M578 629h0m58-13h0m134-11h0m215 24h0m-301 41h0m23-3h0m-339 38h0m254-25h0m81 11h0m58 27h0m23-18h0m13-5h0m41-8h0m41 13h0m25 5h0m314-21h0m-601 75h0m170-25h0m23-3h0m1 7h0m44-18h0m-72 56h0m29-16h0m12 18h0m82-18h0m62 15h0m64 10h0" stroke="#4488ff" stroke-width="10"/><path d="M340 594h0m207 18h0m17 27h0m138-27h0m309 13h0m-514 51h0m181-23h0m25 9h0m1-1h0m29 7h0m203-13h0m-164 43h0m35 20h0m22-26h0m-292 32h0m74 7h0m92 4h0m26-2h0m105 13h0m16-26h0m-148 71h0m113-21h0m41 12h0m-50 21h0" stroke="#4488ff" stroke-width="11"/><path d="M638 597h0m232-20h0m-350 58h0m9 1h0m105-14h0m13 1h0m10 3h0m58 11h0m81-7h0m-443 18h0m214 21h0m16-8h0m198 1h0m31-20h0m78 36h0m-45 34h0m129-19h0m13-3h0m-235 47h0m151 29h0m34-4h0" stroke="#4488ff" stroke-width="12"/><path d="M704 573h0m89 11h0m28-10h0m-190 64h0m7-20h0m61 3h0m7 41h0m201-21h0m147 16h0m-295 23h0m38 9h0m65 9h0m-150 23h0m136 15h0" stroke="#4488ff" stroke-width="13"/><path d="M760 550h0m-143 39h0m68-21h0m40 4h0m1 21h0m157-6h0m-402 30h0m95 62h0m41-5h0m96-25h0m-74 32h0" stroke="#4488ff" stroke-width="14"/><path d="M687 541h0m-162 56h0m22 24h0m165 1h0m35-21h0m211 124h0" stroke="#4488ff" stroke-width="15"/><path d="M541 503h0m214 20h0m-334 70h0m66-27h0m165 23h0m13-22h0m86 7h0m35 2h0m77-9h0m-304 60h0m123-6h0m-114 59h0" stroke="#4488ff" stroke-width="16"/><path d="M641 549h0m4 6h0m62-23h0m-52 61h0m123-25h0m-208 40h0m248 9h0m-173 29h0m7 18h0m108 22h0" stroke="#4488ff" stroke-width="17"/><path d="M781 544h0m-120 17h0m60 20h0m306 25h0" stroke="#4488ff" stroke-width="18"/><path d="M447 494h0m178 20h0m-183 37h0m412-25h0m155 26h0m-238 8h0m119 11h0m-190 133h0" stroke="#4488ff" stroke-width="19"/><path d="M867 607h0" stroke="#4488ff" stroke-width="20"/><path d="M735 939h0m6 29h0m4 15h0m6-1h0m-55 26h0m9 1h0m11 38h0m42-7h0m17 22h0" stroke="#d4aa3a" stroke-width="3"/><path d="M811 826h0m-120 42h0m66-1h0m128-21h0m23 14h0m44-8h0m-337 51h0m81 16h0m4-36h0m10 10h0m40 4h0m13 14h0m12-14h0m9-8h0m38 20h0m30 2h0m6-20h0m-214 68h0m14-26h0m42 26h0m3-10h0m70-12h0m3 11h0m11-25h0m37 7h0m16-2h0m8 6h0m38 16h0m-191 16h0m1-3h0m21 36h0m7-25h0m50 19h0m30 1h0m76-27h0m-166 53h0m8 14h0m17-23h0m4 20h0m3-6h0m13 8h0m7-25h0m13 24h0m-95 53h0m60 12h0m4-12h0" stroke="#d4aa3a" stroke-width="4"/><path d="M764 741h0m-183 58h0m161-5h0m137-17h0m17 18h0m-381 22h0m170 21h0m67-4h0m42-6h0m33-16h0m2 19h0m10-6h0m12-2h0m-184 44h0m8 3h0m18-1h0m15-4h0m2-19h0m1 13h0m13-15h0m18 15h0m9-11h0m12-6h0m10 22h0m4-16h0m18 21h0m18 0h0m24 6h0m5-3h0m22-13h0m36 5h0m16-20h0m-278 43h0m43-6h0m31 14h0m17 17h0m20-12h0m16 0h0m4-7h0m11-9h0m20 14h0m16 6h0m47 7h0m17-1h0m5-22h0m3-4h0m13 20h0m30 10h0m178 3h0m-491 39h0m23-19h0m28-4h0m4 7h0m27-14h0m22 17h0m47-1h0m1-16h0m20 8h0m10 18h0m16-2h0m3-16h0m3 4h0m2-17h0m55 19h0m-260 50h0m113-4h0m45 3h0m10-25h0m10 6h0m1 2h0m9-2h0m37 0h0m-140 33h0m21 21h0m1-18h0m66 10h0m-113 24h0m77 65h0" stroke="#d4aa3a" stroke-width="5"/><path d="M708 714h0m119-9h0m-298 36h0m219-2h0m184 14h0m-357 9h0m66 35h0m12-8h0m5-16h0m114 10h0m61-17h0m28 18h0m12-23h0m95 4h0m68 34h0m31-13h0m-597 32h0m176 14h0m38 7h0m0-14h0m33-11h0m27 17h0m59-29h0m2 35h0m12-12h0m0-20h0m65 16h0m18-6h0m6 14h0m8-8h0m4-4h0m52 10h0m-521 42h0m79-26h0m31 16h0m80-8h0m39 20h0m6-21h0m9-7h0m40 9h0m5 9h0m16-10h0m6 10h0m23 7h0m1-22h0m21 14h0m57 6h0m46 10h0m5-9h0m1-27h0m27 19h0m6-15h0m10-3h0m375 27h0m-698 36h0m54 5h0m10 6h0m2-28h0m21 3h0m31 14h0m11-16h0m15 27h0m44-25h0m2 23h0m0-18h0m1 2h0m31 4h0m-189 38h0m40 3h0m9-18h0m17 32h0m35-32h0m5 30h0m25-28h0m12-6h0m25 21h0m-57 19h0m23 3h0m54-3h0m-136 61h0m57-15h0" stroke="#d4aa3a" stroke-width="6"/><path d="M621 654h0m-255 49h0m208-7h0m36-5h0m129 8h0m57 20h0m49-16h0m6 15h0m6-37h0m-261 73h0m85 0h0m46 2h0m2 1h0m40 0h0m4-12h0m-233 21h0m48 16h0m21-17h0m24 33h0m32-9h0m23 5h0m10-7h0m38 3h0m7-15h0m3 20h0m44-3h0m18-14h0m2 19h0m16 2h0m-260 3h0m53 20h0m37-21h0m34 26h0m40-25h0m23 13h0m41 23h0m16-4h0m4-4h0m17-16h0m0 6h0m3 19h0m19-2h0m11-1h0m15-26h0m16 11h0m8-5h0m8 18h0m33-19h0m5 7h0m-333 20h0m0 31h0m39-8h0m48-8h0m22 13h0m1 6h0m2-7h0m3-1h0m18-7h0m32 3h0m38 6h0m0 4h0m9-15h0m1 16h0m28-22h0m12-4h0m12 21h0m4-30h0m21 29h0m25-27h0m50 14h0m37-2h0m263 7h0m-716 20h0m62 24h0m39-24h0m26 26h0m5 2h0m7-24h0m4-5h0m16 35h0m14-33h0m20 4h0m14-6h0m2 30h0m20-8h0m14-18h0m13 3h0m5-1h0m11-6h0m4 38h0m154-8h0m47 2h0m-340 20h0m5 1h0m58-7h0" stroke="#d4aa3a" stroke-width="7"/><path d="M512 646h0m54 6h0m128 24h0m22-30h0m30 26h0m51 6h0m-64 12h0m16 26h0m40-20h0m175 0h0m62 21h0m-692 3h0m208 11h0m84 12h0m8-18h0m2 30h0m32-8h0m14-15h0m25-8h0m20 32h0m31-16h0m40 9h0m5-28h0m2 29h0m34-11h0m86-19h0m11 36h0m11-16h0m120-20h0m-520 58h0m15-12h0m38 18h0m42-17h0m31 15h0m28 0h0m11-7h0m5-14h0m11 24h0m2-17h0m5 6h0m12-8h0m13 5h0m24 25h0m29-5h0m40-16h0m25 5h0m14-14h0m6 6h0m124 20h0m-527 16h0m65 30h0m87-13h0m32-15h0m6 21h0m0 1h0m11-6h0m9-7h0m27-6h0m90 26h0m11-17h0m1 14h0m8-24h0m0-5h0m6 9h0m2 6h0m32 2h0m0 0h0m35-17h0m5 10h0m12-1h0m58-11h0m147 24h0m-479 13h0m33 18h0m50-2h0m6 2h0m1-4h0m51 16h0m13 1h0m12-4h0m33-18h0m15 7h0m183-2h0m-352 30h0" stroke="#d4aa3a" stroke-width="8"/><path d="M754 623h0m-466 41h0m41 10h0m362-3h0m64-26h0m12 33h0m79-6h0m19 5h0m-344 17h0m14 12h0m59-12h0m89 6h0m48-11h0m11 19h0m34-7h0m23 6h0m5-4h0m56-18h0m1-3h0m1 5h0m8-2h0m-425 61h0m9 13h0m155-17h0m16-14h0m77-6h0m18 21h0m17-9h0m0 4h0m6 9h0m104-3h0m12 13h0m29-32h0m52 1h0m7 29h0m32-13h0m-724 47h0m294 9h0m31-32h0m37 8h0m53 21h0m2-28h0m66 13h0m57 4h0m23-12h0m51 13h0m13-5h0m11-3h0m-364 48h0m15-24h0m147 4h0m1 28h0m9 2h0m9-17h0m15-12h0m22 14h0m4-7h0m19 8h0m21-20h0m30 21h0m49 2h0m26-23h0m2 23h0m8-10h0m33-12h0m78 10h0m-355 52h0m3-15h0m12 1h0m53 19h0m59-1h0m2-28h0m16 13h0m-64 35h0m166 40h0" stroke="#d4aa3a" stroke-width="9"/><path d="M752 597h0m-436 41h0m317-34h0m77 11h0m246 15h0m-371 35h0m44 2h0m35-17h0m87 12h0m32-8h0m13 19h0m64-22h0m62 5h0m-411 44h0m84 4h0m159-20h0m14 29h0m12-26h0m53 27h0m15-32h0m83 32h0m6-9h0m1-12h0m18 9h0m-457 56h0m164-13h0m55-25h0m5 30h0m29-18h0m21 21h0m129-22h0m110 14h0m-359 24h0m17 1h0m10 19h0m31-5h0m85 6h0m32-4h0m32-24h0m47-2h0m34 2h0m13 21h0m2-1h0m164 13h0m-492 6h0m149 15h0m34-14h0m100 35h0m-197 7h0m246 12h0" stroke="#d4aa3a" stroke-width="10"/><path d="M830 556h0m-291 70h0m118-6h0m200 12h0m122-28h0m-327 69h0m25-17h0m36 11h0m3-2h0m17-6h0m232-9h0m-540 36h0m161 15h0m57 16h0m11-28h0m112 16h0m16 5h0m1-8h0m25-15h0m56 15h0m64-9h0m-558 41h0m260 10h0m11-17h0m17 22h0m33-13h0m46-8h0m22 27h0m154 2h0m-346 23h0m43 18h0m72-16h0m47-5h0m152 22h0m233-13h0m-377 21h0m90 50h0m-59 36h0" stroke="#d4aa3a" stroke-width="11"/><path d="M589 583h0m89-15h0m77 27h0m54-9h0m-520 17h0m336 4h0m63-2h0m2 18h0m169 11h0m-323 31h0m249-21h0m23 32h0m23 0h0m23-19h0m73 14h0m-364 32h0m9-9h0m13-6h0m136 26h0m9-17h0m6 11h0m4-5h0m25-8h0m27-1h0m11 4h0m4 15h0m48-26h0m78 26h0m21-8h0m13-8h0m178 2h0m-587 40h0m178-6h0m-61 41h0m8-6h0" stroke="#d4aa3a" stroke-width="12"/><path d="M848 559h0m-225 1h0m314 30h0m-353 40h0m45-14h0m42 7h0m8 3h0m98-12h0m72 23h0m24-5h0m-119 14h0m-197 45h0m263 12h0m138-15h0m9 19h0m-233 39h0m72 6h0m156-29h0m-205 51h0" stroke="#d4aa3a" stroke-width="13"/><path d="M565 556h0m113-15h0m325 58h0m-351 23h0m148-20h0m83 13h0m18-13h0m8 34h0m28-9h0m-436 51h0m269-24h0m260-2h0m-710 35h0m250 18h0m7-13h0m60-3h0m174 12h0" stroke="#d4aa3a" stroke-width="14"/><path d="M489 594h0m27-11h0m48-14h0m84 21h0m37-19h0m-252 40h0m249 21h0m31-20h0m190 26h0m141 34h0" stroke="#d4aa3a" stroke-width="15"/><path d="M435 596h0m126-3h0m103-8h0m50-20h0m33 21h0m5-17h0m218-2h0m11 21h0m-666 32h0" stroke="#d4aa3a" stroke-width="16"/><path d="M897 552h0m-236 33h0m-64 54h0m202 30h0" stroke="#d4aa3a" stroke-width="17"/><path d="M637 619h0m203 18h0m-192 11h0" stroke="#d4aa3a" stroke-width="18"/><path d="M546 537h0m154 87h0m57-6h0m355 3h0" stroke="#d4aa3a" stroke-width="19"/><path d="M576 608h0" stroke="#d4aa3a" stroke-width="20"/><path d="M742 885h0m-2 74h0m-177 31h0m126-30h0m10 35h0m3-11h0m30-15h0m8 13h0m11-11h0m7 18h0m30 4h0m36-11h0m61-21h0m-180 44h0m23 1h0m21 25h0m27-19h0m4 26h0m48-31h0m29 22h0m-163 26h0m21-4h0m5-7h0m17 22h0m9 3h0m3-29h0m9 34h0m5-10h0m-82 38h0m42-14h0m10-3h0m11 21h0m9-24h0m4 0h0m4-2h0m29 12h0m-44 46h0m44-16h0m-63 44h0" stroke="#c066e0" stroke-width="3"/><path d="M838 835h0m-137 12h0m22 14h0m28 17h0m39-14h0m-246 19h0m113 36h0m17-9h0m9 3h0m36-3h0m8-4h0m8 2h0m0-4h0m6-3h0m6-12h0m10 4h0m12-9h0m13 35h0m6 0h0m3-20h0m6-1h0m0 13h0m7-11h0m45-12h0m25 24h0m45-11h0m-373 54h0m61-5h0m48-14h0m28 23h0m18-19h0m2 0h0m47 18h0m18-17h0m15 15h0m63-12h0m16 5h0m-412 39h0m215-25h0m5 20h0m47-17h0m0-2h0m4-4h0m6 12h0m2 7h0m12 18h0m5-11h0m4 4h0m8-9h0m5 3h0m4-6h0m12-13h0m31 1h0m10 9h0m30-13h0m46 37h0m-187 16h0m1-2h0m5 6h0m15-19h0m2 37h0m10 0h0m0-9h0m2-20h0m3 21h0m0-29h0m2 16h0m9 23h0m1-14h0m12-5h0m1-9h0m1-11h0m2 11h0m2-9h0m1 6h0m4 4h0m48 12h0m-145 42h0m8-10h0m25-15h0m1-1h0m12 28h0m17 5h0m8 1h0m5-8h0m13-22h0m17 14h0m79-6h0m-144 58h0m5-24h0m9 4h0m7-5h0m5 29h0m3-5h0m-16 15h0m2 24h0m1-23h0m5 32h0m0-4h0m7-15h0" stroke="#c066e0" stroke-width="4"/><path d="M705 783h0m1 31h0m19 0h0m-353 32h0m309 21h0m2-22h0m16 17h0m15 11h0m7 0h0m13-12h0m5-11h0m13 24h0m8-14h0m18 19h0m29-37h0m10 17h0m61 14h0m24 3h0m6 0h0m91-35h0m32 8h0m-495 59h0m18-21h0m2 7h0m69 19h0m65-24h0m0 21h0m1-21h0m3-5h0m43 22h0m10-17h0m4 27h0m2-12h0m4 9h0m10-19h0m7 17h0m12 7h0m3-21h0m15-13h0m12 29h0m3-15h0m1-13h0m9 19h0m6 5h0m14 4h0m4-2h0m4 4h0m18-10h0m1-10h0m4 12h0m71-20h0m266 20h0m-575 16h0m9 34h0m11 0h0m10-10h0m0-1h0m1-2h0m27-5h0m1 1h0m24-3h0m20 4h0m3-19h0m1 34h0m3-9h0m1-12h0m4-10h0m4 28h0m2-26h0m13 15h0m2-2h0m7-5h0m0 20h0m4-24h0m4 10h0m1 6h0m9 6h0m6-2h0m8-16h0m45 6h0m-176 20h0m6 35h0m6-20h0m1-6h0m19-4h0m42-6h0m14 19h0m3-16h0m2 6h0m11-2h0m2 6h0m91 14h0m-205 46h0m36-32h0m18 20h0m9-8h0m24 6h0m-46 36h0m17 18h0m1-14h0m0 15h0m1-15h0m8-15h0m4 8h0m8 12h0m31 6h0m-61 39h0m11-28h0m8 36h0" stroke="#c066e0" stroke-width="5"/><path d="M521 714h0m57 33h0m60-1h0m57-5h0m98 17h0m-176 37h0m39-5h0m3 3h0m45-12h0m6 2h0m112-22h0m-387 60h0m162 17h0m43-32h0m14 31h0m42-21h0m67-3h0m22-2h0m12 20h0m9-29h0m6 33h0m14-19h0m2-12h0m28 14h0m17 19h0m24-9h0m41-11h0m33-12h0m-401 68h0m87-5h0m4 9h0m15 1h0m1-35h0m16-2h0m1 19h0m3-17h0m12-3h0m2 18h0m1-3h0m18-2h0m4 8h0m16 16h0m18-25h0m18 10h0m0 5h0m1-13h0m5 17h0m10-23h0m8 0h0m11 30h0m2-35h0m16 20h0m12-11h0m20-7h0m15 11h0m65-3h0m2 10h0m46-20h0m-492 65h0m41 1h0m98-7h0m17-21h0m6 38h0m17-2h0m6-7h0m17-27h0m18 16h0m44 8h0m7-26h0m2 7h0m31-7h0m17 11h0m6 10h0m66-5h0m103 13h0m-484 29h0m149-18h0m17 35h0m22-9h0m12-16h0m1-10h0m19 8h0m8 27h0m11-31h0m21-4h0m35 17h0m22-10h0m54-1h0m20 0h0m-216 51h0m21-11h0m0 20h0m4-21h0m26 16h0m12 4h0m9-12h0m8 1h0m20 16h0m78-8h0m31-10h0m17 18h0m-189 30h0m37-15h0m-24 35h0" stroke="#c066e0" stroke-width="6"/><path d="M750 639h0m-190 87h0m71 33h0m11-26h0m6 14h0m46 6h0m6-4h0m69-12h0m39-1h0m108-12h0m13 16h0m61 7h0m11-18h0m-645 47h0m106-9h0m93 27h0m35-17h0m15-13h0m49 25h0m14-27h0m25 13h0m17-4h0m4 14h0m13 14h0m53-24h0m7 21h0m24-17h0m9 1h0m11-12h0m33 27h0m-646 38h0m386-9h0m13-13h0m6 5h0m21 15h0m13-29h0m28 22h0m3 15h0m8-14h0m1-23h0m3 27h0m7-29h0m7 16h0m3 7h0m8-10h0m76 5h0m12-6h0m5 10h0m7-15h0m65 8h0m41 23h0m30-34h0m15 28h0m169 4h0m-544 35h0m21 0h0m18-20h0m23-8h0m6 12h0m1 18h0m11 1h0m13-9h0m7 4h0m15 1h0m16-27h0m43-2h0m12 26h0m1-14h0m47-12h0m0 11h0m0 8h0m14-17h0m2-2h0m66 31h0m9-29h0m10 16h0m-275 45h0m16 9h0m8-12h0m16-5h0m6-7h0m20 3h0m34 10h0m0 0h0m7 8h0m8-9h0m1-14h0m3 6h0m8 11h0m68-13h0m33 14h0m1 0h0m21-5h0m-217 31h0m52 14h0m12-10h0m22-11h0m25 0h0m4 114h0" stroke="#c066e0" stroke-width="7"/><path d="M751 641h0m44 36h0m-303 21h0m104 20h0m64-29h0m82-9h0m68 15h0m73 5h0m43-11h0m12 19h0m-380 40h0m128-11h0m26 3h0m93-20h0m33 22h0m120 0h0m86 11h0m-363 28h0m1-14h0m44 9h0m1-14h0m35 37h0m21-30h0m7-1h0m9 5h0m31-9h0m10-3h0m89 20h0m5 13h0m103-24h0m-413 58h0m18 0h0m17-2h0m42 12h0m33-34h0m18 12h0m37 1h0m5-5h0m60 10h0m4-9h0m1-7h0m2 30h0m36-34h0m1 6h0m1 7h0m3-12h0m118 15h0m-452 59h0m95-6h0m55 4h0m57-10h0m1-23h0m145 24h0m60-18h0m-291 64h0m25-27h0m0 1h0m5 20h0m44 4h0m23 4h0m15-5h0m74-10h0m50-14h0m-236 69h0m32 4h0m34-16h0" stroke="#c066e0" stroke-width="8"/><path d="M661 599h0m51-3h0m-98 14h0m281 26h0m-333 42h0m49 0h0m4 1h0m84-5h0m177-1h0m28-12h0m22 0h0m42 13h0m-420 14h0m34 3h0m8 26h0m69-31h0m13 17h0m23-20h0m11 0h0m3 10h0m22 21h0m38 2h0m11-28h0m371 25h0m-659 27h0m18 6h0m9 5h0m248-1h0m36-3h0m47 9h0m115 2h0m-435 26h0m47-5h0m64-17h0m27 18h0m13 13h0m14-20h0m16 12h0m21-2h0m9 9h0m7-25h0m64 11h0m15-3h0m13 5h0m57-3h0m60 5h0m30 10h0m-481 33h0m37-9h0m50-14h0m13-1h0m89 25h0m81-6h0m17 3h0m6-12h0m13-7h0m17-3h0m4 24h0m17-18h0m82 8h0m-103 44h0m23 20h0m15-38h0m-135 57h0m15 6h0m3-5h0m123 10h0m23 22h0" stroke="#c066e0" stroke-width="9"/><path d="M805 592h0m-13 42h0m-57 29h0m68-2h0m1 5h0m1-13h0m23-3h0m75 13h0m-378 29h0m131 14h0m40-9h0m16-7h0m9-5h0m107 30h0m4-15h0m5-10h0m8 0h0m39 23h0m29-25h0m251 13h0m-630 49h0m37-18h0m8-11h0m113 26h0m19 11h0m2-21h0m5-7h0m117 24h0m11-6h0m0-19h0m12 28h0m32 1h0m32 0h0m36-23h0m59 18h0m-481 21h0m91-6h0m64 13h0m67-21h0m95 28h0m116 5h0m-380 42h0m58 4h0m33-23h0m225 19h0m-76 8h0m112 16h0m-344 25h0" stroke="#c066e0" stroke-width="10"/><path d="M740 597h0m-129 35h0m369-13h0m-384 22h0m17 29h0m85-7h0m19-6h0m42 9h0m19-22h0m6 33h0m7-2h0m9-5h0m2-7h0m43 8h0m-117 30h0m47 6h0m85-14h0m-347 50h0m103-21h0m23 21h0m78-5h0m13-14h0m99 34h0m-296 20h0m27-7h0m1 17h0m119-7h0m24-13h0m13 15h0m135 5h0m25-27h0m78 7h0m-357 55h0m167 11h0m133 2h0" stroke="#c066e0" stroke-width="11"/><path d="M715 584h0m139 15h0m38-12h0m-392 14h0m204 32h0m26-12h0m4 18h0m80-28h0m-336 39h0m207 12h0m28-16h0m81-2h0m52 21h0m69-6h0m84-4h0m-320 40h0m88 15h0m75-11h0m82-17h0m-351 56h0m20 18h0m108-10h0m46-16h0m47 23h0m7 4h0m11-17h0m0 14h0m20-17h0m30 6h0m-219 52h0m87 49h0m76 13h0m95-17h0" stroke="#c066e0" stroke-width="12"/><path d="M692 514h0m-171 16h0m41 41h0m-42 34h0m313 24h0m41-23h0m-249 49h0m62-9h0m59 4h0m24 15h0m8-3h0m-197 31h0m172 20h0m23 5h0m12-18h0m46 15h0m-264 36h0m150-21h0m295 25h0m-246 16h0" stroke="#c066e0" stroke-width="13"/><path d="M671 576h0m25 10h0m87 37h0m-173 24h0m126-4h0m3 15h0m113 15h0m-156 12h0" stroke="#c066e0" stroke-width="14"/><path d="M681 589h0m20 29h0m60-13h0m25 34h0m124-7h0m-251 23h0m114-6h0m46-5h0" stroke="#c066e0" stroke-width="15"/><path d="M544 593h0m286 1h0m-280 30h0m56 24h0m34 24h0m40-22h0m190 5h0" stroke="#c066e0" stroke-width="16"/><path d="M708 558h0m108 36h0m-160 43h0m65 12h0m175-9h0m-149 76h0" stroke="#c066e0" stroke-width="17"/><path d="M781 554h0m88-19h0" stroke="#c066e0" stroke-width="18"/><path d="M651 493h0m3 48h0m160-1h0m-125 54h0m222-10h0" stroke="#c066e0" stroke-width="19"/><path d="M923 568h0m121 41h0" stroke="#c066e0" stroke-width="20"/><path d="M697 956h0m22-20h0m4 38h0m68 52h0" stroke="#9aa0a8" stroke-width="3"/><path d="M837 839h0m16-38h0m-104 41h0m95 20h0m53 19h0m-339 53h0m33 2h0m43 18h0m58 5h0m183-19h0m-210 56h0m39 1h0m17-25h0m34 23h0m8-5h0m7-27h0m57-1h0m9 13h0m-169 27h0m45 11h0m16-2h0m1-2h0m3 21h0m34 5h0m-63 24h0m48-5h0m-12 56h0m1-13h0" stroke="#9aa0a8" stroke-width="4"/><path d="M653 782h0m75 8h0m246 1h0m-276 41h0m50-27h0m42-3h0m117 1h0m-408 75h0m186-34h0m15 27h0m53-6h0m11-17h0m9 11h0m6 12h0m1 8h0m18-17h0m6 10h0m13-14h0m26 19h0m-306 13h0m33 14h0m51-11h0m28 14h0m12-5h0m124-19h0m3 23h0m7-17h0m47 9h0m19-10h0m30 2h0m-188 66h0m37-27h0m21 6h0m4 23h0m4-20h0m6 15h0m16 5h0m3-3h0m1 3h0m38-34h0m47 25h0m-206 22h0m33 7h0m123 21h0" stroke="#9aa0a8" stroke-width="5"/><path d="M630 738h0m191 7h0m57 13h0m-229 35h0m119-26h0m47 29h0m-178 17h0m42 6h0m48 6h0m5 2h0m33-2h0m53-18h0m6-1h0m32 19h0m48-20h0m19 5h0m128 4h0m-492 33h0m24-7h0m101 14h0m34 12h0m39-7h0m10-18h0m3 19h0m22-4h0m7 18h0m1-24h0m25 15h0m31-18h0m19 16h0m17-20h0m7 28h0m2-31h0m163 31h0m-380 23h0m12 5h0m46 3h0m30 4h0m40 0h0m8 3h0m16-7h0m0 14h0m61-3h0m47-29h0m78 2h0m-392 59h0m58-3h0m89-14h0m129 9h0" stroke="#9aa0a8" stroke-width="6"/><path d="M485 677h0m25-26h0m636 27h0m-838 4h0m342 0h0m18 25h0m119-26h0m125 33h0m-305 22h0m12-15h0m42 34h0m60-27h0m47 1h0m5 21h0m63 6h0m61-12h0m105-5h0m-373 55h0m42-12h0m16-7h0m25 11h0m37-8h0m8 5h0m25 2h0m69 2h0m40 4h0m4-29h0m45 37h0m77-14h0m8 7h0m-498 34h0m170-14h0m45 13h0m6-4h0m24 1h0m24 14h0m73-10h0m48-13h0m180-1h0m-551 50h0m69-12h0m28-9h0m68 29h0m22-8h0m10 15h0m23-22h0m5-12h0m10 33h0m24-9h0m16-3h0m19-23h0m60 18h0m10-4h0m-255 38h0m60-10h0m54 12h0m125 16h0m55-10h0m-383 33h0m192-14h0m73 2h0" stroke="#9aa0a8" stroke-width="7"/><path d="M458 664h0m96-12h0m86 22h0m85-10h0m108 12h0m-199 5h0m138 7h0m45 23h0m72-11h0m1 17h0m323-14h0m-708 56h0m109-22h0m43 3h0m35 10h0m53-2h0m5-17h0m16-3h0m1 6h0m10 16h0m289-22h0m-435 54h0m113 13h0m3-31h0m5 15h0m16-16h0m16 14h0m21-2h0m3 6h0m51 14h0m31-23h0m11 9h0m20-7h0m33 4h0m-295 43h0m27-7h0m22 14h0m5 9h0m8-7h0m19-5h0m1-11h0m59-13h0m131 26h0m40 6h0m-452 7h0m111 6h0m28 32h0m7-21h0m41 17h0m31-16h0m31-18h0m71 15h0m19-15h0m214 25h0m-317 35h0m49 15h0m34-13h0m-61 41h0" stroke="#9aa0a8" stroke-width="8"/><path d="M256 622h0m397 50h0m-69 22h0m155 9h0m11 8h0m-146 24h0m45 20h0m3-1h0m111 2h0m45-17h0m69-15h0m5-1h0m37 18h0m16-15h0m9 17h0m2 8h0m44-10h0m-377 35h0m28 7h0m2-19h0m70 8h0m14 4h0m16 21h0m53-31h0m12-5h0m137 15h0m-344 45h0m32 9h0m50-13h0m84-4h0m-204 43h0m325 12h0m-184 32h0m13 15h0m16-25h0m31-5h0" stroke="#9aa0a8" stroke-width="9"/><path d="M643 627h0m26 1h0m129-21h0m408-2h0m-770 66h0m100 4h0m91-9h0m72 7h0m180-3h0m20-11h0m-410 55h0m129 1h0m19-28h0m29 27h0m34-34h0m8 4h0m5 11h0m259-14h0m-371 64h0m103-21h0m128 24h0m15-20h0m2 3h0m-290 39h0m106 1h0m30 7h0m269-9h0m-351 42h0m116 15h0m29 12h0m8-31h0m102-6h0m-138 40h0" stroke="#9aa0a8" stroke-width="10"/><path d="M766 622h0m-237 39h0m66 6h0m-55 14h0m5 25h0m26 6h0m34 5h0m217-10h0m11-7h0m45 8h0m109 2h0m105-18h0m-487 61h0m153-8h0m33-25h0m58 3h0m111 35h0m-507 10h0m196 13h0m92 5h0m47-17h0m-187 31h0m296 58h0" stroke="#9aa0a8" stroke-width="11"/><path d="M740 579h0m157-18h0m-446 61h0m226-18h0m16 30h0m44 1h0m93-28h0m84-4h0m-315 50h0m334 59h0m49-4h0m-545 18h0m62 19h0m193-16h0m42 21h0m37-21h0m43 13h0m162 6h0m44 29h0" stroke="#9aa0a8" stroke-width="12"/><path d="M708 593h0m54-9h0m61 7h0m52-22h0m47 23h0m-340 46h0m43-16h0m120-20h0m88 34h0m4 33h0m90 23h0m77 11h0" stroke="#9aa0a8" stroke-width="13"/><path d="M763 572h0m277 94h0m-420 17h0" stroke="#9aa0a8" stroke-width="14"/><path d="M684 618h0m3 0h0m-32 51h0m83-20h0m11 47h0" stroke="#9aa0a8" stroke-width="15"/><path d="M647 579h0m165-1h0m-318 32h0m136 11h0m-27 20h0m144 58h0" stroke="#9aa0a8" stroke-width="16"/><path d="M652 519h0m265 26h0m-404 54h0m148-26h0m160 2h0m-138 86h0" stroke="#9aa0a8" stroke-width="17"/><path d="M653 532h0m-58 49h0m179 19h0" stroke="#9aa0a8" stroke-width="18"/><path d="M765 485h0m75 55h0m-212 31h0m138 38h0" stroke="#9aa0a8" stroke-width="19"/><path d="M690 467h0" stroke="#9aa0a8" stroke-width="20"/><path d="M658 842h0m-7 79h0m150 23h0m-73 30h0m9-7h0" stroke="#b8eccc" stroke-width="4"/><path d="M735 898h0m-20 37h0m8 35h0m186 12h0m-370 33h0" stroke="#b8eccc" stroke-width="5"/><path d="M466 815h0m295-1h0m175 0h0m-220 49h0m45 16h0m59-14h0m-208 42h0m136 7h0m9-6h0" stroke="#b8eccc" stroke-width="6"/><path d="M687 766h0m461-2h0m-411 74h0m92-33h0m-263 70h0m162-28h0m97 7h0m25 38h0m-145 45h0" stroke="#b8eccc" stroke-width="7"/><path d="M736 723h0m50 35h0m-177 47h0m97 36h0m49 43h0" stroke="#b8eccc" stroke-width="8"/><path d="M735 675h0m-148 40h0m149-28h0m-11 42h0m7 4h0m54 6h0m95-9h0m122 23h0m-500 26h0m170-1h0m58 8h0m36 59h0" stroke="#b8eccc" stroke-width="9"/><path d="M688 709h0" stroke="#b8eccc" stroke-width="10"/><path d="M523 655h0m119 96h0m313-29h0m-138 68h0" stroke="#b8eccc" stroke-width="11"/><path d="M550 610h0m171 18h0m26 40h0m-13 12h0m63 26h0" stroke="#b8eccc" stroke-width="12"/><path d="M685 620h0m-52 119h0m2 34h0" stroke="#b8eccc" stroke-width="14"/><path d="M721 579h0" stroke="#b8eccc" stroke-width="17"/><path d="M513 660h0" stroke="#b8eccc" stroke-width="18"/><path d="M627 503h0" stroke="#b8eccc" stroke-width="20"/><path d="M710 1032h0m34-24h0m-12 69h0" stroke="#b4dcff" stroke-width="3"/><path d="M474 902h0m296 42h0m27-22h0m-22 51h0m-42 89h0" stroke="#b4dcff" stroke-width="4"/><path d="M649 825h0m138 13h0m-33 78h0m24 29h0m-163 21h0m153-3h0" stroke="#b4dcff" stroke-width="5"/><path d="M838 783h0m-63 49h0m112-23h0m11 50h0m22 13h0m-321 37h0m198-4h0m107-5h0" stroke="#b4dcff" stroke-width="6"/><path d="M566 698h0m24 56h0m48-11h0m296 50h0m-350 50h0m66 22h0m56-15h0m154 3h0m-337 59h0" stroke="#b4dcff" stroke-width="7"/><path d="M819 716h0m-63 18h0m11 21h0m238 1h0m-382 33h0m121-28h0m51 51h0m-196 32h0" stroke="#b4dcff" stroke-width="8"/><path d="M633 733h0m91 6h0m87 37h0m12 18h0" stroke="#b4dcff" stroke-width="9"/><path d="M703 623h0m286 1h0m52 122h0" stroke="#b4dcff" stroke-width="10"/><path d="M424 619h0m479 86h0m-147 17h0m-50 69h0m122-13h0" stroke="#b4dcff" stroke-width="11"/><path d="M871 702h0" stroke="#b4dcff" stroke-width="12"/><path d="M830 626h0" stroke="#b4dcff" stroke-width="13"/><path d="M551 632h0" stroke="#b4dcff" stroke-width="14"/><path d="M585 625h0m250-11h0" stroke="#b4dcff" stroke-width="15"/><path d="M713 603h0" stroke="#b4dcff" stroke-width="17"/><path d="M760 605h0" stroke="#b4dcff" stroke-width="19"/><path d="M672 898h0m97 197h0" stroke="#e4e6e8" stroke-width="3"/><path d="M721 861h0m56 70h0m3 18h0m137 6h0m-180 27h0m18 0h0m58-16h0m-94 70h0m-55 9h0" stroke="#e4e6e8" stroke-width="4"/><path d="M662 876h0m140-12h0m14-9h0m43 10h0m47-19h0m-169 40h0m-53 61h0m87-21h0m-32 157h0" stroke="#e4e6e8" stroke-width="5"/><path d="M699 749h0m64 17h0m160 32h0m-279 9h0m155 12h0m48-2h0m-163 47h0m19-12h0m16 25h0m64-10h0m30 2h0m107-24h0m333 26h0m-547 26h0m70-14h0m-81 81h0" stroke="#e4e6e8" stroke-width="6"/><path d="M704 678h0m157-24h0m174 28h0m-161 54h0m-99 39h0m102 88h0" stroke="#e4e6e8" stroke-width="7"/><path d="M663 744h0m65 15h0m-21 36h0m166-18h0m-172 48h0m2 30h0m130 10h0" stroke="#e4e6e8" stroke-width="8"/><path d="M728 654h0m72-13h0m-409 87h0m526 3h0m-316 45h0m82 20h0m-11 17h0m18-9h0m59 58h0m147-13h0" stroke="#e4e6e8" stroke-width="9"/><path d="M836 638h0m-115 23h0m68 4h0m26-22h0m-302 63h0m307-4h0m-177 45h0m42 32h0m67 11h0m326-14h0" stroke="#e4e6e8" stroke-width="10"/><path d="M821 608h0m89 55h0m55 10h0m-284 44h0m112-7h0m165 5h0m-112 78h0" stroke="#e4e6e8" stroke-width="11"/><path d="M1237 609h0m-614 50h0m165-7h0" stroke="#e4e6e8" stroke-width="13"/><path d="M965 629h0m-494 133h0" stroke="#e4e6e8" stroke-width="14"/><path d="M652 648h0m68-3h0" stroke="#e4e6e8" stroke-width="15"/><path d="M275 572h0m337 49h0" stroke="#e4e6e8" stroke-width="16"/><path d="M727 551h0" stroke="#e4e6e8" stroke-width="17"/><path d="M757 551h0m-85 19h0" stroke="#e4e6e8" stroke-width="18"/><path d="M809 849h0m-88 156h0m19 103h0m-104 46h0m136 40h0" stroke="#dcc8ff" stroke-width="3"/><path d="M695 943h0m37 10h0m43-2h0m11-1h0m-37 17h0m17 3h0m-31 31h0m14 4h0m48 14h0m-68 51h0m10 3h0m-1 189h0" stroke="#dcc8ff" stroke-width="4"/><path d="M585 814h0m31 16h0m250-15h0m-132 28h0m17 34h0m6-37h0m12 26h0m66 2h0m-358 14h0m209 2h0m94 15h0m29-16h0m97 12h0m-218 42h0m51-13h0m13 26h0m27-14h0m61 18h0m24-20h0m-77 53h0m24-9h0m-111 24h0m55 34h0m17-36h0m57 46h0" stroke="#dcc8ff" stroke-width="5"/><path d="M748 798h0m123-4h0m-104 18h0m251 1h0m77 8h0m-507 32h0m56 18h0m30-20h0m32 2h0m8-9h0m17 17h0m24-4h0m50 13h0m18-10h0m9 10h0m-128 32h0m12-17h0m69 34h0m74-12h0m17-20h0m14-7h0m-141 49h0m17-8h0m68 3h0m-100 171h0" stroke="#dcc8ff" stroke-width="6"/><path d="M785 711h0m-127 24h0m108 19h0m70 3h0m153-34h0m-283 49h0m141-5h0m-299 50h0m116-11h0m41 1h0m56 21h0m62-13h0m-248 49h0m224 2h0m261 0h0m-308 31h0m40-17h0m3 1h0m54 30h0m105-27h0m24-2h0m106 24h0m-234 57h0" stroke="#dcc8ff" stroke-width="7"/><path d="M730 676h0m46-16h0m-70 56h0m102-18h0m28-13h0m-51 57h0m59 6h0m58-20h0m-241 68h0m9-28h0m18 9h0m3 21h0m51-4h0m3-8h0m142 5h0m126-19h0m-469 38h0m234-3h0m61-5h0m16 0h0m-68 41h0" stroke="#dcc8ff" stroke-width="8"/><path d="M902 668h0m54-19h0m-182 35h0m21 35h0m15-31h0m-89 66h0m46-7h0m24 9h0m23-35h0m146 23h0m-198 19h0m28 24h0m-73 22h0m207 9h0m-79 49h0m154-20h0m-338 61h0m119-25h0" stroke="#dcc8ff" stroke-width="9"/><path d="M726 695h0m-94 31h0m100 12h0m17-17h0m-142 61h0m184 16h0m70-33h0m368 6h0m-309 48h0m-152 48h0" stroke="#dcc8ff" stroke-width="10"/><path d="M653 760h0m148 45h0" stroke="#dcc8ff" stroke-width="11"/><path d="M885 632h0m-78 78h0m-281 30h0m200 93h0m101-33h0" stroke="#dcc8ff" stroke-width="12"/><path d="M805 611h0m2 5h0m-163 58h0m202-33h0m10 33h0m137 23h0m-157 50h0" stroke="#dcc8ff" stroke-width="13"/><path d="M742 667h0" stroke="#dcc8ff" stroke-width="14"/><path d="M786 584h0m194-16h0" stroke="#dcc8ff" stroke-width="15"/><path d="M545 584h0" stroke="#dcc8ff" stroke-width="16"/><path d="M845 540h0m-225 39h0m203-9h0m-162 30h0" stroke="#dcc8ff" stroke-width="17"/><path d="M750 600h0" stroke="#dcc8ff" stroke-width="18"/><path d="M729 1130h0" stroke="#66d888" stroke-width="3"/><path d="M781 887h0m-84 51h0m50-6h0m-43 56h0m66 11h0m18 8h0" stroke="#66d888" stroke-width="4"/><path d="M765 815h0m28 17h0m-29 44h0m-145 41h0m56-14h0m86-6h0m52 2h0m-285 57h0m246-16h0m65 12h0m9 5h0m25-35h0m-178 40h0m148 33h0m-187 6h0m59 0h0m3 142h0" stroke="#66d888" stroke-width="5"/><path d="M584 788h0m84-7h0m-61 49h0m125 6h0m-121 16h0m306 8h0m101-4h0m-285 56h0m126-19h0m-147 59h0" stroke="#66d888" stroke-width="6"/><path d="M768 772h0m95 22h0m59-2h0m-371 46h0m170-24h0m25-14h0m77 23h0m-75 33h0m10 4h0m23-19h0m-416 41h0m433 166h0" stroke="#66d888" stroke-width="7"/><path d="M494 750h0m367-11h0m-310 54h0m140-16h0m32 9h0m16-16h0m121 6h0" stroke="#66d888" stroke-width="8"/><path d="M912 701h0m-168 53h0m349 66h0m-490 25h0m186 34h0" stroke="#66d888" stroke-width="9"/><path d="M538 690h0m328 28h0m-248 25h0m20-21h0m154 51h0" stroke="#66d888" stroke-width="10"/><path d="M497 684h0m239 64h0" stroke="#66d888" stroke-width="11"/><path d="M653 636h0m-9 59h0" stroke="#66d888" stroke-width="12"/><path d="M732 716h0m48 62h0" stroke="#66d888" stroke-width="13"/><path d="M993 566h0" stroke="#66d888" stroke-width="17"/></g><g fill-opacity="0.7"><circle class="J" cx="237.3" cy="98.2" r="3.2"/><circle class="C" cx="164.9" cy="133.7" r="3.5"/><circle class="E" cx="108.9" cy="117.3" r="4.0"/><circle class="G" cx="143.1" cy="122.8" r="3.6"/><circle class="G" cx="138.5" cy="130.3" r="2.7"/><circle class="C" cx="173.3" cy="120.9" r="4.5"/><circle class="J" cx="174.9" cy="146.6" r="2.5"/><circle class="C" cx="114.3" cy="113.6" r="5.2"/><circle class="N" cx="84.1" cy="136.3" r="2.9"/><circle class="C" cx="220.0" cy="137.1" r="2.6"/><circle class="E" cx="118.8" cy="103.1" r="4.2"/><circle class="G" cx="131.0" cy="140.7" r="3.2"/><circle class="J" cx="145.8" cy="135.0" r="3.0"/><circle class="C" cx="164.4" cy="120.5" r="3.1"/><circle class="L" cx="233.6" cy="118.7" r="2.7"/><circle class="C" cx="169.4" cy="108.3" r="4.0"/><circle class="C" cx="199.8" cy="146.5" r="2.6"/><circle class="C" cx="141.9" cy="126.0" r="4.3"/><circle class="L" cx="172.0" cy="134.3" r="2.8"/><circle class="J" cx="176.4" cy="124.9" r="3.3"/><circle class="M" cx="149.9" cy="128.7" r="2.6"/><circle class="I" cx="121.0" cy="150.1" r="2.9"/><circle class="L" cx="190.3" cy="137.9" r="2.9"/><circle class="C" cx="88.5" cy="109.6" r="3.1"/><circle class="G" cx="148.1" cy="84.3" r="5.3"/><circle class="R" cx="126.9" cy="107.3" r="4.1"/><circle class="C" cx="187.2" cy="113.2" r="4.1"/><circle class="I" cx="161.1" cy="144.7" r="2.7"/><circle class="C" cx="136.9" cy="142.2" r="3.7"/><circle class="N" cx="213.2" cy="136.7" r="2.7"/><circle class="C" cx="145.1" cy="111.6" r="3.1"/><circle class="C" cx="322.1" cy="157.1" r="2.5"/><circle class="C" cx="224.9" cy="89.5" r="4.3"/><circle class="C" cx="120.8" cy="144.7" r="2.5"/><circle class="C" cx="134.8" cy="121.5" r="3.0"/><circle class="C" cx="162.9" cy="142.7" r="2.6"/><circle class="J" cx="177.8" cy="135.7" r="2.9"/><circle class="N" cx="183.2" cy="123.6" r="2.9"/><circle class="E" cx="184.3" cy="130.5" r="2.6"/><circle class="C" cx="195.5" cy="122.8" r="4.0"/><circle class="M" cx="199.8" cy="141.6" r="3.0"/><circle class="N" cx="158.1" cy="139.4" r="3.4"/><circle class="J" cx="165.9" cy="130.7" r="3.3"/><circle class="N" cx="137.3" cy="132.8" r="2.5"/><circle class="J" cx="192.7" cy="119.7" r="3.6"/><circle class="G" cx="230.6" cy="130.9" r="2.8"/><circle class="G" cx="183.5" cy="113.3" r="3.2"/><circle class="C" cx="244.1" cy="98.4" r="4.1"/><circle class="N" cx="144.8" cy="122.9" r="3.6"/><circle class="N" cx="189.7" cy="139.4" r="2.8"/><circle class="L" cx="244.3" cy="146.4" r="3.2"/><circle class="G" cx="135.1" cy="120.4" r="3.0"/><circle class="N" cx="251.3" cy="97.1" r="6.0"/><circle class="I" cx="199.4" cy="112.0" r="4.0"/><circle class="C" cx="157.5" cy="129.3" r="2.9"/><circle class="C" cx="228.7" cy="106.7" r="4.3"/><circle class="G" cx="113.2" cy="131.5" r="3.1"/><circle class="G" cx="192.7" cy="98.9" r="3.8"/><circle class="J" cx="189.1" cy="140.8" r="2.7"/><circle class="C" cx="67.1" cy="122.0" r="3.4"/><circle class="Q" cx="139.5" cy="138.9" r="3.3"/><circle class="C" cx="124.6" cy="113.7" r="3.6"/><circle class="C" cx="136.9" cy="132.8" r="2.9"/><circle class="I" cx="156.7" cy="148.1" r="2.8"/><circle class="G" cx="101.9" cy="103.4" r="3.0"/><circle class="J" cx="146.9" cy="152.3" r="2.8"/><circle class="G" cx="146.8" cy="120.1" r="3.0"/><circle class="H" cx="129.3" cy="106.2" r="3.3"/><circle class="G" cx="151.2" cy="142.0" r="2.7"/><circle class="F" cx="185.0" cy="144.0" r="2.7"/><circle class="H" cx="76.8" cy="143.0" r="3.6"/><circle class="G" cx="229.0" cy="124.2" r="3.6"/><circle class="E" cx="117.4" cy="110.9" r="3.0"/><circle class="G" cx="115.4" cy="130.1" r="3.3"/><circle class="I" cx="249.0" cy="126.5" r="3.4"/><circle class="I" cx="185.8" cy="115.1" r="2.9"/><circle class="C" cx="205.3" cy="122.4" r="4.0"/><circle class="Q" cx="209.4" cy="152.4" r="2.8"/><circle class="F" cx="85.7" cy="120.2" r="3.9"/><circle class="C" cx="269.3" cy="140.2" r="2.6"/><circle class="C" cx="130.2" cy="104.9" r="5.4"/><circle class="G" cx="188.0" cy="125.8" r="3.8"/><circle class="F" cx="221.5" cy="139.1" r="3.5"/><circle class="I" cx="152.9" cy="125.1" r="2.8"/><circle class="C" cx="137.0" cy="137.3" r="3.3"/><circle class="N" cx="210.8" cy="124.2" r="2.6"/><circle class="J" cx="183.5" cy="136.2" r="2.8"/><circle class="C" cx="176.9" cy="145.3" r="2.8"/><circle class="G" cx="195.1" cy="140.5" r="2.5"/><circle class="C" cx="187.9" cy="143.3" r="3.1"/><circle class="Q" cx="173.8" cy="109.0" r="4.7"/><circle class="C" cx="141.6" cy="112.7" r="5.1"/><circle class="C" cx="153.8" cy="134.4" r="3.0"/><circle class="G" cx="138.4" cy="126.8" r="2.9"/><circle class="G" cx="158.0" cy="135.5" r="2.8"/><circle class="A" cx="133.8" cy="85.7" r="4.8"/><circle class="L" cx="170.9" cy="114.1" r="3.4"/><circle class="C" cx="152.7" cy="126.6" r="3.1"/><circle class="J" cx="120.5" cy="125.5" r="3.0"/><circle class="G" cx="119.3" cy="105.0" r="3.9"/><circle class="J" cx="221.9" cy="143.5" r="2.8"/><circle class="L" cx="113.6" cy="123.6" r="3.9"/><circle class="J" cx="203.0" cy="97.6" r="4.0"/><circle class="Q" cx="101.3" cy="141.8" r="3.4"/><circle class="C" cx="146.8" cy="118.9" r="5.3"/><circle class="C" cx="118.9" cy="110.3" r="3.5"/><circle class="I" cx="201.7" cy="130.2" r="2.5"/><circle class="N" cx="198.1" cy="96.7" r="4.9"/><circle class="C" cx="153.0" cy="124.3" r="3.3"/><circle class="E" cx="217.1" cy="123.9" r="3.9"/><circle class="C" cx="111.4" cy="101.4" r="4.3"/><circle class="R" cx="98.2" cy="133.6" r="2.9"/><circle class="N" cx="189.8" cy="127.7" r="3.5"/><circle class="C" cx="62.0" cy="118.6" r="3.8"/><circle class="C" cx="224.0" cy="148.6" r="2.6"/><circle class="J" cx="190.1" cy="127.9" r="2.8"/><circle class="N" cx="169.0" cy="136.9" r="2.6"/><circle class="M" cx="187.5" cy="133.6" r="2.6"/><circle class="C" cx="157.8" cy="96.2" r="3.9"/><circle class="E" cx="192.0" cy="117.4" r="3.2"/><circle class="C" cx="185.5" cy="132.8" r="2.9"/><circle class="G" cx="185.9" cy="99.1" r="3.7"/><circle class="C" cx="173.7" cy="132.4" r="3.7"/><circle class="C" cx="109.1" cy="102.6" r="3.6"/><circle class="L" cx="189.4" cy="84.1" r="3.6"/><circle class="C" cx="190.8" cy="109.9" r="3.8"/><circle class="G" cx="154.7" cy="137.5" r="3.6"/><circle class="I" cx="163.1" cy="136.8" r="2.7"/><circle class="L" cx="243.3" cy="136.1" r="2.9"/><circle class="Q" cx="195.0" cy="129.7" r="2.9"/><circle class="C" cx="206.8" cy="115.1" r="5.2"/><circle class="G" cx="205.1" cy="153.5" r="2.6"/><circle class="C" cx="106.4" cy="126.5" r="3.4"/><circle class="G" cx="161.7" cy="138.6" r="3.0"/><circle class="E" cx="194.9" cy="110.3" r="3.1"/><circle class="R" cx="198.2" cy="149.3" r="2.6"/><circle class="L" cx="168.0" cy="139.5" r="2.8"/><circle class="G" cx="151.6" cy="136.5" r="3.1"/><circle class="F" cx="102.4" cy="122.0" r="4.1"/><circle class="J" cx="181.3" cy="106.3" r="4.5"/><circle class="A" cx="186.4" cy="146.1" r="2.6"/><circle class="C" cx="147.6" cy="153.1" r="2.8"/><circle class="C" cx="133.6" cy="144.3" r="2.5"/><circle class="G" cx="73.4" cy="101.9" r="3.2"/><circle class="C" cx="192.6" cy="122.1" r="3.2"/><circle class="J" cx="140.2" cy="153.7" r="2.5"/><circle class="C" cx="177.9" cy="148.7" r="2.6"/><circle class="C" cx="210.4" cy="135.4" r="3.1"/><circle class="I" cx="253.6" cy="133.2" r="3.5"/><circle class="L" cx="186.5" cy="120.9" r="3.6"/><circle class="N" cx="217.1" cy="116.5" r="3.4"/><circle class="C" cx="175.2" cy="109.0" r="3.4"/><circle class="G" cx="150.3" cy="128.0" r="2.6"/><circle class="M" cx="257.0" cy="137.5" r="2.8"/><circle class="C" cx="270.8" cy="124.8" r="3.6"/><circle class="G" cx="183.4" cy="125.9" r="3.2"/><circle class="J" cx="108.3" cy="111.9" r="4.7"/><circle class="N" cx="220.6" cy="146.8" r="2.9"/><circle class="L" cx="220.2" cy="136.3" r="3.0"/><circle class="G" cx="182.8" cy="135.8" r="2.7"/><circle class="M" cx="168.9" cy="114.0" r="4.7"/><circle class="C" cx="186.9" cy="129.2" r="2.8"/><circle class="I" cx="217.7" cy="130.6" r="2.7"/><circle class="N" cx="270.7" cy="124.1" r="3.2"/><circle class="F" cx="163.2" cy="108.9" r="3.5"/><circle class="C" cx="197.8" cy="137.9" r="2.9"/><circle class="L" cx="206.6" cy="120.2" r="2.6"/><circle class="C" cx="106.3" cy="136.0" r="3.4"/><circle class="J" cx="272.3" cy="136.7" r="2.6"/><circle class="C" cx="178.3" cy="122.4" r="2.7"/><circle class="F" cx="133.9" cy="133.6" r="3.0"/><circle class="H" cx="198.4" cy="118.6" r="3.6"/><circle class="C" cx="156.5" cy="104.2" r="4.1"/><circle class="G" cx="159.8" cy="135.9" r="3.0"/><circle class="J" cx="162.2" cy="151.8" r="2.8"/><circle class="J" cx="200.1" cy="134.4" r="3.1"/><circle class="C" cx="220.6" cy="128.8" r="3.5"/><circle class="I" cx="117.9" cy="121.0" r="2.9"/><circle class="C" cx="159.8" cy="121.0" r="3.0"/><circle class="G" cx="77.9" cy="108.9" r="3.3"/><circle class="L" cx="195.6" cy="119.5" r="3.4"/><circle class="G" cx="148.1" cy="138.1" r="2.5"/><circle class="J" cx="122.3" cy="120.3" r="2.6"/><circle class="L" cx="147.0" cy="141.8" r="3.2"/><circle class="J" cx="212.7" cy="123.7" r="2.9"/><circle class="G" cx="180.1" cy="113.5" r="3.5"/><circle class="G" cx="236.8" cy="141.0" r="2.5"/><circle class="N" cx="217.6" cy="114.7" r="3.7"/><circle class="F" cx="98.0" cy="134.3" r="2.6"/><circle class="C" cx="173.9" cy="140.9" r="2.5"/><circle class="L" cx="162.1" cy="122.5" r="2.6"/><circle class="N" cx="195.0" cy="125.1" r="2.6"/><circle class="J" cx="187.7" cy="108.6" r="4.3"/><circle class="E" cx="165.0" cy="111.6" r="4.1"/><circle class="E" cx="128.3" cy="136.4" r="3.2"/><circle class="C" cx="76.1" cy="114.2" r="3.9"/><circle class="C" cx="220.2" cy="110.1" r="3.8"/><circle class="C" cx="99.0" cy="132.6" r="3.1"/><circle class="G" cx="245.3" cy="121.5" r="2.9"/><circle class="G" cx="195.6" cy="116.4" r="3.0"/><circle class="G" cx="156.6" cy="130.8" r="2.5"/><circle class="N" cx="161.1" cy="129.7" r="3.5"/><circle class="J" cx="153.9" cy="143.4" r="2.5"/><circle class="J" cx="159.3" cy="129.7" r="3.4"/><circle class="Q" cx="65.1" cy="121.3" r="3.2"/><circle class="J" cx="159.6" cy="138.4" r="2.8"/><circle class="Q" cx="162.1" cy="158.3" r="2.6"/><circle class="C" cx="215.8" cy="106.2" r="4.4"/><circle class="G" cx="219.3" cy="95.0" r="5.2"/><circle class="G" cx="150.9" cy="142.2" r="2.6"/><circle class="G" cx="196.0" cy="78.1" r="5.7"/><circle class="Q" cx="182.2" cy="123.7" r="3.8"/><circle class="M" cx="293.0" cy="132.4" r="3.0"/><circle class="L" cx="147.7" cy="136.9" r="3.0"/><circle class="C" cx="181.6" cy="117.9" r="4.1"/><circle class="J" cx="196.0" cy="128.1" r="3.1"/><circle class="G" cx="114.4" cy="116.9" r="3.2"/><circle class="M" cx="170.2" cy="139.7" r="2.8"/><circle class="G" cx="256.8" cy="139.3" r="2.5"/><circle class="C" cx="189.2" cy="165.6" r="2.6"/><circle class="G" cx="128.4" cy="130.6" r="3.6"/><circle class="C" cx="175.9" cy="131.5" r="5.8"/><circle class="G" cx="173.1" cy="114.3" r="3.3"/><circle class="C" cx="56.9" cy="119.6" r="3.2"/><circle class="C" cx="141.0" cy="115.1" r="4.4"/><circle class="E" cx="204.1" cy="135.3" r="2.8"/><circle class="J" cx="158.7" cy="124.6" r="2.9"/><circle class="I" cx="128.4" cy="127.8" r="2.6"/><circle class="J" cx="182.3" cy="136.6" r="3.1"/><circle class="M" cx="75.2" cy="131.4" r="2.7"/><circle class="C" cx="222.5" cy="106.4" r="4.7"/><circle class="C" cx="66.4" cy="110.1" r="3.5"/><circle class="C" cx="149.6" cy="115.0" r="4.8"/><circle class="J" cx="189.7" cy="132.5" r="2.7"/><circle class="H" cx="163.9" cy="130.2" r="2.8"/><circle class="G" cx="224.5" cy="135.0" r="2.6"/><circle class="J" cx="176.4" cy="129.4" r="2.7"/><circle class="G" cx="185.5" cy="138.0" r="2.6"/><circle class="G" cx="189.7" cy="135.3" r="2.5"/><circle class="L" cx="98.1" cy="126.2" r="2.8"/><circle class="N" cx="214.6" cy="144.3" r="2.5"/><circle class="N" cx="154.1" cy="123.2" r="3.1"/><circle class="C" cx="150.4" cy="116.2" r="3.6"/><circle class="L" cx="272.9" cy="137.0" r="3.0"/><circle class="S" cx="130.4" cy="148.3" r="2.6"/><circle class="C" cx="178.0" cy="119.7" r="3.7"/><circle class="Q" cx="193.3" cy="100.8" r="3.3"/><circle class="I" cx="165.7" cy="145.2" r="2.6"/><circle class="C" cx="211.0" cy="141.9" r="3.2"/><circle class="C" cx="152.8" cy="131.1" r="3.2"/><circle class="C" cx="134.2" cy="154.0" r="2.6"/><circle class="C" cx="192.8" cy="153.3" r="2.8"/><circle class="J" cx="191.0" cy="135.7" r="2.8"/><circle class="R" cx="171.4" cy="137.8" r="2.5"/><circle class="G" cx="138.9" cy="129.1" r="3.2"/><circle class="G" cx="240.8" cy="150.3" r="2.5"/><circle class="G" cx="136.0" cy="142.9" r="2.8"/><circle class="L" cx="142.0" cy="144.0" r="2.7"/><circle class="L" cx="141.2" cy="133.0" r="2.7"/><circle class="G" cx="169.6" cy="117.8" r="4.1"/><circle class="I" cx="106.8" cy="118.5" r="2.6"/><circle class="E" cx="253.4" cy="143.7" r="2.7"/><circle class="C" cx="269.9" cy="96.7" r="3.8"/><circle class="M" cx="124.0" cy="130.9" r="3.2"/><circle class="C" cx="137.7" cy="138.3" r="2.8"/><circle class="L" cx="243.5" cy="116.0" r="4.4"/><circle class="N" cx="147.8" cy="107.2" r="3.3"/><circle class="J" cx="171.9" cy="98.4" r="5.6"/><circle class="N" cx="161.5" cy="105.1" r="3.2"/><circle class="G" cx="185.1" cy="115.5" r="3.2"/><circle class="G" cx="214.1" cy="86.8" r="4.9"/><circle class="J" cx="227.3" cy="133.6" r="3.4"/><circle class="C" cx="257.3" cy="131.9" r="2.7"/><circle class="L" cx="200.4" cy="145.3" r="3.2"/><circle class="C" cx="142.1" cy="130.5" r="3.7"/><circle class="C" cx="135.1" cy="116.4" r="4.0"/></g><g transform="scale(0.25)" stroke-linecap="round" fill="none" stroke-opacity="0.85"><path d="M798 712h0" stroke="#2db52d" stroke-width="6"/><path d="M751 690h0m83 73h0" stroke="#2db52d" stroke-width="7"/><path d="M647 630h0m288 111h0" stroke="#2db52d" stroke-width="8"/><path d="M672 678h0m-42 12h0m143 23h0m-33 33h0" stroke="#2db52d" stroke-width="9"/><path d="M768 598h0m-61 92h0m105 23h0" stroke="#2db52d" stroke-width="10"/><path d="M772 700h0" stroke="#2db52d" stroke-width="11"/><path d="M697 580h0m168 19h0m-1 24h0" stroke="#2db52d" stroke-width="12"/><path d="M628 682h0" stroke="#2db52d" stroke-width="13"/><path d="M787 578h0m-208 22h0" stroke="#2db52d" stroke-width="14"/><path d="M592 598h0m127-27h0" stroke="#2db52d" stroke-width="15"/><path d="M587 524h0" stroke="#f53c3c" stroke-width="14"/><path d="M719 566h0" stroke="#f53c3c" stroke-width="18"/><path d="M722 898h0m16 78h0m9 27h0m30-3h0m-52 133h0m14 117h0" stroke="#c8287a" stroke-width="3"/><path d="M769 822h0m34-15h0m-115 96h0m41 7h0m6 45h0m9-30h0m14 2h0m66 6h0m-317 29h0m241 32h0m59-21h0m26 25h0m-83 7h0m23 37h0" stroke="#c8287a" stroke-width="4"/><path d="M244 857h0m455-4h0m71-1h0m15-2h0m34 22h0m-173 10h0m52 10h0m63-6h0m47 6h0m10 20h0m18 1h0m8-13h0m58 6h0m33 10h0m-227 23h0m248 19h0m-260 37h0m69-13h0m42 14h0m-18 61h0" stroke="#c8287a" stroke-width="5"/><path d="M902 760h0m-220 48h0m10 13h0m10 1h0m68 3h0m15-12h0m10-10h0m-175 42h0m79 7h0m40 1h0m51 16h0m35-17h0m100 9h0m18-11h0m1 3h0m-248 41h0m15 22h0m0-33h0m-22 54h0m39 14h0m52-23h0m25-4h0" stroke="#c8287a" stroke-width="6"/><path d="M400 667h0m382-4h0m-530 85h0m458 10h0m30 0h0m173-2h0m69-7h0m-223 43h0m2-13h0m43-5h0m1-13h0m10 5h0m8 8h0m12 18h0m12-30h0m18 5h0m10 7h0m-189 55h0m26-6h0m2-7h0m14 0h0m2 20h0m91-17h0m39 8h0m-194 14h0m45 3h0m92 33h0m-14 11h0m161 21h0m-304 50h0" stroke="#c8287a" stroke-width="7"/><path d="M1020 674h0m-243 40h0m112-3h0m-485 27h0m55 18h0m222-28h0m99 14h0m140 16h0m-378 9h0m267 27h0m10-14h0m60-17h0m8-3h0m2 32h0m16 2h0m-178 42h0m4-14h0m27-6h0m14 11h0m18-24h0m26 31h0m96-5h0m15-10h0m30-9h0m52-7h0m-289 74h0m48 0h0" stroke="#c8287a" stroke-width="8"/><path d="M655 629h0m48-1h0m20 48h0m-250 5h0m218 34h0m33-11h0m74-10h0m15 8h0m-310 38h0m71-6h0m19 9h0m20-6h0m43 11h0m18-12h0m16 22h0m20-16h0m12-19h0m9 27h0m13-27h0m102 26h0m2-14h0m56 15h0m-350 21h0m166 17h0m-45 13h0m94 3h0m197 20h0m-232 139h0" stroke="#c8287a" stroke-width="9"/><path d="M276 648h0m330 31h0m38-16h0m40-3h0m81-17h0m77 9h0m116 1h0m46 13h0m225-24h0m-647 67h0m123-12h0m17-11h0m100 28h0m33-22h0m4 23h0m-223 37h0m85 7h0m56-20h0m11-3h0m19-2h0m-37 56h0m10 5h0m51-3h0m18-26h0" stroke="#c8287a" stroke-width="10"/><path d="M532 613h0m192 1h0m111 9h0m109-22h0m-476 66h0m129 3h0m14-15h0m102 19h0m6-34h0m85 11h0m-415 48h0m347 3h0m24 9h0m108-26h0m98 23h0m3-18h0m108 21h0m-527 42h0m65-20h0m188-13h0m82 14h0m66-10h0m-406 56h0m486 35h0" stroke="#c8287a" stroke-width="11"/><path d="M852 600h0m-464 49h0m140 3h0m62 9h0m22 6h0m175-19h0m5 9h0m8 8h0m43-5h0m48 15h0m108-20h0m105-8h0m-803 68h0m382 0h0m62-6h0m60-25h0m127 7h0m-149 47h0m56-4h0m17-9h0m105 31h0m22-28h0m-282 39h0m256 2h0" stroke="#c8287a" stroke-width="12"/><path d="M808 579h0m208-13h0m32 19h0m-555 26h0m49 23h0m121 1h0m147 1h0m28-10h0m61 8h0m-251 24h0m26 6h0m121-19h0m-560 41h0m454 10h0m19-9h0m161 28h0m-396 19h0" stroke="#c8287a" stroke-width="13"/><path d="M511 623h0m6-23h0m205 20h0m77 2h0m31-11h0m25 28h0m173-25h0m-422 32h0m24 12h0m175-4h0m88 5h0m75-16h0m86 2h0m-358 37h0m231 22h0m138-24h0" stroke="#c8287a" stroke-width="14"/><path d="M1090 539h0m-431 33h0m23 13h0m216-19h0m22 24h0m-477 15h0m338 5h0m70 3h0m-147 47h0m-88 68h0" stroke="#c8287a" stroke-width="15"/><path d="M390 548h0m122 3h0m120-22h0m127 28h0m-176 30h0m285-14h0m-422 62h0m54-28h0m429-1h0m100 12h0m-423 59h0m49 3h0m108 27h0m47 1h0m50-2h0m29-6h0" stroke="#c8287a" stroke-width="16"/><path d="M888 498h0m-366 38h0m50 2h0m-26 38h0m51-16h0m346 12h0m-160 67h0m177-31h0m-5 32h0" stroke="#c8287a" stroke-width="17"/><path d="M614 499h0m241 93h0m28-19h0m-346 56h0m257 6h0m16-27h0m-222 68h0" stroke="#c8287a" stroke-width="18"/><path d="M764 490h0m-53 69h0m108-7h0m173 0h0m-202 119h0m546 1h0" stroke="#c8287a" stroke-width="19"/><path d="M674 579h0" stroke="#c8287a" stroke-width="20"/><path d="M684 894h0" stroke="#ff7a10" stroke-width="3"/><path d="M811 681h0m99 157h0m-98 39h0" stroke="#ff7a10" stroke-width="5"/><path d="M541 730h0m229 9h0m-117 32h0m83 107h0m-91 21h0" stroke="#ff7a10" stroke-width="6"/><path d="M619 728h0m153 31h0m22 21h0m-36 114h0" stroke="#ff7a10" stroke-width="7"/><path d="M914 616h0m-71 33h0m64 13h0m-162 47h0m205 7h0m-186 21h0m-117 61h0m217-12h0m-178 41h0m160 41h0" stroke="#ff7a10" stroke-width="8"/><path d="M491 666h0m201 4h0m84 41h0m196-6h0m-250 90h0m88 93h0" stroke="#ff7a10" stroke-width="9"/><path d="M776 609h0m-80 66h0m-97 8h0m148 19h0m23-18h0m115 22h0m73-17h0m-159 43h0m179 15h0m-90 45h0" stroke="#ff7a10" stroke-width="10"/><path d="M557 670h0m222-8h0m-238 27h0m260 64h0m18 19h0" stroke="#ff7a10" stroke-width="11"/><path d="M726 606h0m74 41h0m-67 58h0" stroke="#ff7a10" stroke-width="12"/><path d="M730 585h0m249-6h0m-230 63h0m201 45h0" stroke="#ff7a10" stroke-width="13"/><path d="M553 613h0m431 41h0" stroke="#ff7a10" stroke-width="15"/><path d="M1032 556h0m-471 30h0m92 2h0m65 2h0m19 6h0m-2 9h0m120 14h0m-50 50h0" stroke="#ff7a10" stroke-width="16"/><path d="M820 559h0m77 78h0" stroke="#ff7a10" stroke-width="18"/><path d="M777 575h0" stroke="#ff7a10" stroke-width="19"/><path d="M747 979h0m101 50h0m-133 42h0" stroke="#2dd4c4" stroke-width="3"/><path d="M822 790h0m-140 49h0m76-9h0m-140 31h0m200 16h0m-100 17h0m32 22h0m68 21h0m-75 77h0m-6 43h0" stroke="#2dd4c4" stroke-width="4"/><path d="M892 715h0m-112 62h0m-51 42h0m-167 47h0m196-8h0m4 6h0m19-11h0m69-1h0m72 3h0m-348 42h0m15-11h0m117 22h0m16 6h0m33-31h0m15 24h0m-20 42h0m20-28h0m34 36h0m13-24h0m68 5h0m-117 59h0m27-30h0m-79 42h0m4 27h0m-12 23h0" stroke="#2dd4c4" stroke-width="5"/><path d="M642 676h0m183 56h0m-243 67h0m236-10h0m49 5h0m-148 32h0m138 5h0m114-5h0m16 11h0m-294 22h0m10 0h0m119 11h0m2 0h0m10 5h0m59-26h0m-282 42h0m144 28h0m-103 2h0m103 28h0m-45 55h0m28 45h0" stroke="#2dd4c4" stroke-width="6"/><path d="M688 670h0m-84 34h0m-95 21h0m87 11h0m165 2h0m7-2h0m104 15h0m-313 48h0m99-9h0m10-1h0m77-4h0m10-20h0m44 26h0m156-3h0m1-24h0m-330 44h0m112-2h0m7 15h0m37-11h0m51 6h0m32 15h0m52-2h0m42-20h0m-294 37h0m26 27h0m50-32h0m23 3h0m157-3h0m-151 61h0m174 5h0m249 2h0m-379 59h0" stroke="#2dd4c4" stroke-width="7"/><path d="M822 620h0m-170 87h0m42 8h0m74-21h0m-339 32h0m256-4h0m57 35h0m52-5h0m115 3h0m68-3h0m-489 17h0m235 18h0m1-18h0m8 0h0m33 21h0m132-24h0m82 17h0m234-22h0m-460 46h0m62 13h0m25-14h0m-72 59h0m36 8h0m26-13h0m-63 92h0" stroke="#2dd4c4" stroke-width="8"/><path d="M707 637h0m-94 3h0m39 36h0m175-10h0m-297 19h0m58-5h0m261 0h0m86 29h0m-353 20h0m33-2h0m24 25h0m154-22h0m-89 56h0m19-15h0m51 17h0m353-4h0m-306 49h0m6 15h0" stroke="#2dd4c4" stroke-width="9"/><path d="M615 633h0m106-6h0m-322 33h0m147-17h0m109 26h0m186-8h0m20 10h0m-324 40h0m8-13h0m63-9h0m90-8h0m158 21h0m129 15h0m-291 21h0m56-18h0m32 30h0m61-5h0m74-16h0m-191 41h0m105 15h0m45 24h0" stroke="#2dd4c4" stroke-width="10"/><path d="M724 564h0m-67 50h0m15-10h0m112-4h0m-366 44h0m325 22h0m16 12h0m68-32h0m183 4h0m-536 69h0m319-38h0m2 7h0m-106 32h0m73 0h0m65 15h0m18 11h0m93-21h0m-105 46h0" stroke="#2dd4c4" stroke-width="11"/><path d="M722 585h0m196 24h0m-345 32h0m91 38h0m69-1h0m43-34h0m77 33h0m40-26h0m61 10h0m45-5h0m-344 30h0m113 4h0m-379 46h0m512 75h0" stroke="#2dd4c4" stroke-width="12"/><path d="M690 589h0m-200 43h0m38-10h0m248-6h0m-407 57h0m321-6h0m76 4h0m52-1h0m-98 35h0m-107 52h0m297-37h0" stroke="#2dd4c4" stroke-width="13"/><path d="M740 605h0m-87 42h0m190 1h0m-113 66h0m67 32h0" stroke="#2dd4c4" stroke-width="14"/><path d="M456 559h0m-217 51h0m360-7h0" stroke="#2dd4c4" stroke-width="15"/><path d="M581 494h0m316 143h0m-142 43h0m19 27h0" stroke="#2dd4c4" stroke-width="16"/><path d="M469 570h0m316 67h0" stroke="#2dd4c4" stroke-width="17"/><path d="M822 551h0m-187 27h0m183 3h0m65 1h0m74-20h0m-107 94h0m-235 24h0" stroke="#2dd4c4" stroke-width="18"/><path d="M918 477h0m-535 68h0m232-22h0m42 99h0m-24 19h0" stroke="#2dd4c4" stroke-width="19"/><path d="M751 507h0m184-1h0" stroke="#2dd4c4" stroke-width="20"/><path d="M870 893h0m-134 33h0m-56 69h0m4-18h0m9 3h0m42 18h0m31-6h0m52-7h0m99 11h0m-293 14h0m29 19h0m29-5h0m3 1h0m15-20h0m2 28h0m18-29h0m4 18h0m10 2h0m35-16h0m3 19h0m33-17h0m-86 31h0m34 31h0m-93 20h0m74 19h0m5-13h0m3 8h0m19-26h0m-25 70h0m1 6h0m5-30h0m-5 38h0m0 22h0m-2 49h0m13 2h0" stroke="#8a2be2" stroke-width="3"/><path d="M655 761h0m-30 72h0m48 0h0m28 1h0m211-19h0m-259 51h0m90 1h0m3-7h0m69-18h0m71-2h0m23 6h0m-232 53h0m35 8h0m46-3h0m37 12h0m2-5h0m0 5h0m42-12h0m3 6h0m5 5h0m9-12h0m26-22h0m62 13h0m44 8h0m-351 41h0m22 14h0m12 1h0m2-23h0m10-15h0m5 5h0m12 31h0m2-13h0m12 9h0m7 0h0m0-16h0m2-6h0m1 14h0m4 8h0m3-26h0m1 13h0m0-6h0m4-10h0m14 25h0m1 3h0m14-2h0m1 5h0m1-20h0m30-13h0m3 29h0m10-9h0m16-8h0m16-9h0m18-1h0m7 20h0m-318 39h0m88-5h0m16 17h0m22-29h0m4 3h0m3 10h0m13-17h0m1 16h0m4 5h0m8-15h0m1 17h0m1 2h0m3-2h0m2-15h0m2 12h0m15 9h0m1-14h0m3 5h0m11 15h0m1-25h0m2 11h0m1-11h0m12 11h0m0 3h0m1-15h0m7 4h0m3 5h0m27 15h0m3-30h0m5 0h0m3 0h0m-192 58h0m18-3h0m53-3h0m6 22h0m25-32h0m8 29h0m1-24h0m14-2h0m3 4h0m2-10h0m5 14h0m13 13h0m10 7h0m4-2h0m0-33h0m31 12h0m69 0h0m-186 55h0m20-27h0m1 17h0m4 0h0m0-6h0m7 11h0m1 5h0m2-27h0m10 7h0m4 1h0m3 6h0m6 17h0m32-11h0m-118 23h0m50 3h0m4 21h0m8-17h0m5 12h0m1 15h0m14-27h0m4 2h0m14-9h0m7-3h0m11 7h0m10 0h0m17-6h0m-104 45h0m33 55h0m-3 66h0" stroke="#8a2be2" stroke-width="4"/><path d="M810 728h0m-129 33h0m18 8h0m6 13h0m8-7h0m24 9h0m1 13h0m10-37h0m35 25h0m82 8h0m19-19h0m-229 62h0m4-16h0m64 19h0m77-5h0m0-25h0m2 5h0m3 4h0m6-2h0m18 0h0m40 6h0m33-21h0m15 23h0m-335 38h0m9-2h0m94 16h0m35-22h0m8 10h0m4-1h0m15-20h0m4 13h0m1 12h0m8 3h0m18-2h0m1-6h0m8 13h0m5 1h0m7-36h0m10 31h0m3-1h0m4 6h0m1-14h0m8-21h0m12 0h0m73 20h0m1-12h0m19-8h0m107 27h0m-498 50h0m65-25h0m4 0h0m46-4h0m27 3h0m1-12h0m0 15h0m12 21h0m2-19h0m9-16h0m0 16h0m3-3h0m4 9h0m12-15h0m4 24h0m4-23h0m1 11h0m2-7h0m1 23h0m2-4h0m4-7h0m8 8h0m6 2h0m1-16h0m5 6h0m6-22h0m0 25h0m2 0h0m15 9h0m2-18h0m5-13h0m2 15h0m10-7h0m2-3h0m2 5h0m10 9h0m10-18h0m5 31h0m10-29h0m22 26h0m0-3h0m51-22h0m10 14h0m134-1h0m1-2h0m-478 36h0m45-15h0m6 22h0m5 7h0m30-18h0m5-13h0m1 34h0m2-33h0m23 33h0m17-17h0m2-3h0m1 22h0m3-22h0m3 2h0m2 22h0m5-1h0m5-10h0m1 3h0m2 6h0m1 1h0m1-23h0m4-1h0m5-9h0m0 3h0m1 27h0m3-9h0m4-21h0m2 26h0m8 1h0m5-25h0m3 11h0m4-6h0m13 6h0m17-10h0m5-2h0m32 11h0m15-15h0m3 9h0m4-9h0m47 17h0m16-18h0m-446 45h0m128 7h0m47-2h0m6 15h0m3-9h0m2-4h0m2 21h0m10 2h0m1-28h0m17 19h0m19-6h0m7 3h0m6-5h0m6 4h0m12 3h0m70-10h0m162 0h0m-317 36h0m7 24h0m43-1h0m2-6h0m4 1h0m6-8h0m1-16h0m8-4h0m3 23h0m10-7h0m7 6h0m30-23h0m20 0h0m-108 58h0m3-10h0m10 8h0m2-16h0m2 17h0m1-16h0m15 12h0m1 19h0m16-21h0m15-11h0m-28 65h0" stroke="#8a2be2" stroke-width="5"/><path d="M922 677h0m-318 36h0m77-29h0m94 24h0m91 3h0m-191 38h0m7-1h0m84 1h0m65-14h0m2 23h0m116-17h0m-705 39h0m328 4h0m70 13h0m2-4h0m5 1h0m24-19h0m49 16h0m4-5h0m28-19h0m10 2h0m21 30h0m8-26h0m1 16h0m38 1h0m28-27h0m12 6h0m31 0h0m0 24h0m13-15h0m40 18h0m33-29h0m72 22h0m-655 46h0m150-33h0m7 35h0m13-1h0m18-32h0m3 26h0m38-19h0m16 25h0m20-30h0m7 13h0m20-8h0m9 3h0m4-14h0m5 20h0m0 15h0m26 4h0m14-25h0m48 15h0m10-19h0m3 3h0m0 3h0m3 3h0m9 15h0m32-1h0m8-9h0m1 15h0m16-27h0m7 2h0m17 10h0m5-1h0m7 12h0m61-7h0m134 5h0m-773 21h0m243 2h0m45-3h0m2 18h0m15-26h0m1 27h0m22-10h0m10-5h0m11 13h0m8-25h0m3 2h0m6 29h0m1-4h0m0-32h0m2 20h0m23-14h0m4 6h0m3 3h0m22 24h0m2-15h0m1 5h0m1-13h0m7-4h0m4 3h0m4 13h0m2 0h0m0 2h0m2-23h0m2-6h0m0 37h0m1-20h0m2-4h0m4 16h0m8-23h0m1 2h0m8 1h0m17 26h0m7-17h0m1-10h0m22 29h0m6-35h0m3 9h0m25-2h0m27 10h0m8-4h0m6 6h0m5-21h0m55 35h0m31 2h0m58-35h0m-539 68h0m52-25h0m4 13h0m13 0h0m4 10h0m5-14h0m12-11h0m6 7h0m11 4h0m15-12h0m6 9h0m1 18h0m6-1h0m1-27h0m28 10h0m5-5h0m1 14h0m9 0h0m4-18h0m10-3h0m11 32h0m3-18h0m1 18h0m1 2h0m6-18h0m3-6h0m36 11h0m0 18h0m2-4h0m5-17h0m9-9h0m10 9h0m20-18h0m10 15h0m3 15h0m256 3h0m50-18h0m-578 30h0m45-1h0m8 32h0m50-17h0m20 18h0m0-21h0m4-6h0m5 10h0m3 1h0m2-6h0m9-8h0m6-5h0m6 3h0m1 25h0m0-8h0m8 14h0m5-36h0m2 27h0m7 6h0m2-26h0m2-1h0m17 28h0m8-28h0m0 27h0m13-21h0m8 11h0m12-13h0m0 9h0m1-12h0m34 19h0m8-8h0m8 19h0m-221 41h0m30-29h0m1 9h0m6 7h0m7-2h0m67-9h0m7 1h0m33-10h0m2 20h0m10-20h0m88 1h0m45 14h0m-260 30h0m59-10h0m51 6h0m-78 51h0m31 22h0" stroke="#8a2be2" stroke-width="6"/><path d="M566 678h0m222 38h0m8-18h0m-355 43h0m169 0h0m25 18h0m58-2h0m9-28h0m10 14h0m10 10h0m0-14h0m28 4h0m26 10h0m18-16h0m7 1h0m5 12h0m44-28h0m6 37h0m3-20h0m8 3h0m6 9h0m28-4h0m34 4h0m1-16h0m16 14h0m28-17h0m155 24h0m-731 21h0m86 19h0m70-26h0m98 21h0m10 7h0m31-11h0m25 0h0m43-17h0m2-4h0m18 19h0m7-19h0m0 23h0m5 2h0m3-14h0m3 14h0m2-26h0m16 4h0m12 17h0m17-18h0m14 16h0m20-23h0m3 1h0m37 19h0m26-15h0m23-2h0m37 4h0m30 0h0m47 15h0m13-17h0m5-4h0m-601 76h0m58-3h0m56-34h0m18 37h0m8-22h0m4-2h0m9-11h0m34-1h0m7 37h0m19-2h0m7-32h0m0 21h0m9 1h0m12-23h0m17 7h0m3 8h0m1-4h0m10-7h0m28 1h0m39 30h0m9-4h0m0-31h0m13 35h0m23-26h0m61 10h0m22 1h0m19-7h0m64 6h0m-466 28h0m47 9h0m25 9h0m2-3h0m1 13h0m9-26h0m3 14h0m0 10h0m2-11h0m44-22h0m4 3h0m33 27h0m15 3h0m3-32h0m19 18h0m0-13h0m9 28h0m6-5h0m19-21h0m2 21h0m15-17h0m3 11h0m10-8h0m58 16h0m23-22h0m42 9h0m19 13h0m2-23h0m22-5h0m-426 61h0m45-24h0m4-4h0m18 10h0m26 9h0m19 15h0m15-14h0m1 6h0m10-25h0m5 3h0m10 9h0m24 17h0m23-28h0m8 2h0m53 29h0m2-20h0m6-1h0m4 10h0m63-21h0m4 3h0m229 6h0m160-2h0m-862 56h0m175-7h0m1-16h0m48 14h0m12-5h0m13-3h0m20-6h0m3 18h0m23-18h0m8 19h0m1 16h0m7-29h0m18-7h0m48 16h0" stroke="#8a2be2" stroke-width="7"/><path d="M787 638h0m11-8h0m-369 34h0m180-11h0m54 17h0m36 3h0m16-21h0m26 15h0m9 11h0m200-12h0m6-6h0m116 13h0m-485 39h0m6-3h0m37-3h0m31 0h0m20 10h0m1-35h0m34 5h0m9 8h0m46 10h0m38 10h0m10-9h0m19 7h0m41 3h0m4 1h0m49-3h0m-399 41h0m45 4h0m24-14h0m35-9h0m14 9h0m0 11h0m0-15h0m3 0h0m1 18h0m10-20h0m4 17h0m12 4h0m47-27h0m3-3h0m3 14h0m4-13h0m5 16h0m16-6h0m3-5h0m38 7h0m35 15h0m1-34h0m4 32h0m1-11h0m18-21h0m33 0h0m19 2h0m1 11h0m7 0h0m31 5h0m25 10h0m121 3h0m113-32h0m-702 70h0m8-21h0m31 8h0m35-4h0m5 13h0m12-14h0m1-12h0m2 26h0m33-25h0m24 21h0m24 9h0m3-3h0m13 3h0m2-13h0m17-9h0m16 1h0m1 7h0m3 4h0m4-2h0m12-10h0m8-4h0m7 26h0m21-12h0m3-17h0m1 6h0m9 9h0m11 13h0m7-20h0m20-6h0m1 1h0m4 12h0m21 5h0m9 5h0m1-18h0m17 13h0m21-23h0m6 8h0m21 3h0m18-1h0m21-8h0m-438 40h0m8 22h0m41 5h0m16-12h0m62 11h0m23 7h0m7-6h0m1-16h0m24-8h0m30 9h0m15-6h0m27 2h0m0-9h0m1 2h0m4 18h0m13-6h0m7 11h0m10-6h0m2-6h0m13 5h0m3-4h0m15 0h0m2-13h0m10 5h0m33-5h0m5 35h0m24-35h0m4 35h0m24-14h0m-414 42h0m33-23h0m57 15h0m17 11h0m43-25h0m9-3h0m16 9h0m13-8h0m4-1h0m0 8h0m2 10h0m47-14h0m46-3h0m12 20h0m27-17h0m6 33h0m48-8h0m18 5h0m-207 27h0m11-10h0m7 8h0m6-2h0m58 9h0m24 1h0m31-16h0m17 11h0m-193 19h0m146 2h0" stroke="#8a2be2" stroke-width="8"/><path d="M636 639h0m159-22h0m431-9h0m-901 36h0m187-1h0m71 0h0m8 21h0m92-13h0m31 25h0m37-20h0m88 22h0m8-32h0m5 12h0m6 19h0m60-31h0m153 5h0m127 27h0m-792 3h0m8 25h0m97-13h0m19 8h0m41-17h0m14 20h0m66 7h0m65-9h0m6-11h0m14 0h0m2 5h0m44 13h0m17-29h0m15 22h0m7-5h0m9 14h0m12-14h0m27 8h0m3-8h0m55 13h0m36-3h0m2-13h0m53 15h0m31-11h0m18-3h0m-659 30h0m146 16h0m4 1h0m11 11h0m21-27h0m3 17h0m26 8h0m56-14h0m38 16h0m7 0h0m1 4h0m9-5h0m18 0h0m4-15h0m5-3h0m7-5h0m18 0h0m11 14h0m5 2h0m11-4h0m4-16h0m19-4h0m9 19h0m24 18h0m14-3h0m12-7h0m22-12h0m3 0h0m72 22h0m-384 16h0m14 1h0m1 4h0m8 1h0m4-15h0m15 5h0m28-10h0m7 1h0m16 24h0m13-9h0m25 19h0m25-16h0m33-1h0m13 9h0m24-9h0m57 8h0m24-7h0m10-17h0m9 3h0m6 29h0m6-25h0m15 26h0m79-34h0m-486 54h0m140 18h0m32-3h0m10-5h0m0-11h0m10-14h0m28 31h0m28 0h0m44-19h0m6 3h0m19-15h0m7 17h0m14 13h0m45-2h0m28-21h0m42 10h0m60-2h0m-436 31h0m50 28h0m4-14h0m108-16h0m17 29h0m26-5h0m17 5h0m22-14h0m93-13h0m114 10h0m-328 25h0m39 24h0m13-5h0" stroke="#8a2be2" stroke-width="9"/><path d="M970 591h0m-292 39h0m34 2h0m25-10h0m19-7h0m19 23h0m7 1h0m35-5h0m-430 32h0m129 5h0m18-17h0m35-4h0m3 25h0m2-8h0m69 2h0m94 4h0m12-6h0m25-8h0m1-5h0m168 13h0m39-8h0m81-1h0m4 16h0m-663 33h0m111-3h0m17-15h0m73 18h0m3-8h0m69 9h0m18 9h0m9-34h0m6 33h0m10-26h0m24 8h0m37 9h0m6 7h0m27-29h0m8 33h0m28-22h0m11-2h0m10-11h0m16 8h0m407 26h0m-776 6h0m5 29h0m8-12h0m32-8h0m17 27h0m6-24h0m39 21h0m9-3h0m18 3h0m3 0h0m13-18h0m9-3h0m1 0h0m39-10h0m6 27h0m18-27h0m7 8h0m9-9h0m6 2h0m8-3h0m11 10h0m6 15h0m15-18h0m11 2h0m14-3h0m2-6h0m18 17h0m13-2h0m51 16h0m16-4h0m9-6h0m24 12h0m0 1h0m30-1h0m27-31h0m-586 38h0m182 33h0m50-8h0m12-14h0m44-1h0m14-8h0m22 10h0m8 8h0m38-17h0m44 14h0m4 6h0m27-5h0m2-10h0m17 28h0m15-11h0m46-25h0m-343 42h0m25-3h0m43 31h0m20-21h0m29 3h0m218 5h0m5 7h0m61-7h0m-384 57h0m215-6h0m56-26h0m-59 49h0m91-3h0" stroke="#8a2be2" stroke-width="10"/><path d="M648 546h0m62-2h0m188 38h0m-408 52h0m6-25h0m142 4h0m9 22h0m20 0h0m10-7h0m47 8h0m45-7h0m60 7h0m95-26h0m158 12h0m-631 33h0m25-8h0m33 27h0m88-30h0m22-4h0m5 14h0m22 17h0m23-14h0m10 5h0m1 15h0m47-15h0m4-13h0m27 11h0m15 18h0m46-17h0m19-14h0m1-3h0m3 20h0m4 9h0m85-5h0m67 2h0m-599 39h0m151 8h0m3 0h0m18-9h0m60-11h0m50-1h0m6 16h0m0-28h0m72 15h0m29 0h0m2 7h0m3-15h0m10 5h0m15 17h0m2 1h0m54-2h0m21-28h0m9 7h0m8-11h0m14 11h0m-321 33h0m7 20h0m38 15h0m3-32h0m4 1h0m38 0h0m15 15h0m2 1h0m30 10h0m4-30h0m21 14h0m50 14h0m7-24h0m11 26h0m19 2h0m7 3h0m42-39h0m7 15h0m13 15h0m-360 19h0m90 17h0m36-25h0m34 3h0m16 11h0m11 14h0m34-19h0m1 20h0m86-22h0m10 15h0m-162 20h0m87 28h0m94-29h0m-51 69h0m37-12h0" stroke="#8a2be2" stroke-width="11"/><path d="M653 557h0m10 42h0m7-34h0m195 19h0m-377 27h0m63 28h0m12 0h0m2-22h0m80 19h0m37-22h0m34 16h0m4-4h0m3 2h0m5-20h0m16 29h0m22-8h0m1-1h0m53-4h0m95-18h0m1 23h0m-405 21h0m13 23h0m97-6h0m15-25h0m120 11h0m1 2h0m0-8h0m17 17h0m9 10h0m197-21h0m32 24h0m14-36h0m-743 70h0m99-29h0m129 17h0m126 10h0m9 5h0m53-8h0m11-26h0m44 35h0m133-32h0m57 35h0m13-2h0m-477 39h0m96-25h0m41 28h0m18-7h0m22-12h0m12 4h0m104-21h0m11 24h0m113-20h0m27 16h0m-207 31h0m90 34h0m13 27h0m137-33h0" stroke="#8a2be2" stroke-width="12"/><path d="M482 572h0m14 15h0m29-22h0m98 21h0m33-26h0m32 9h0m174 13h0m13 12h0m132 4h0m-533 27h0m120-25h0m111 19h0m136-13h0m61 21h0m23-13h0m-328 49h0m25-17h0m20 7h0m31 19h0m30-24h0m44 13h0m11-16h0m50 17h0m11 4h0m56-8h0m13 9h0m22 9h0m-318 14h0m30 24h0m15-21h0m57-10h0m99 18h0m90-6h0m50-5h0m-157 38h0m35 31h0m-181 16h0m78-9h0m-64 53h0" stroke="#8a2be2" stroke-width="13"/><path d="M652 546h0m29 12h0m103-1h0m-226 18h0m6 24h0m20-6h0m8 6h0m102-8h0m47-14h0m25 12h0m76-10h0m-350 41h0m175 15h0m40-13h0m37-8h0m8 22h0m47-7h0m123 1h0m5-14h0m50 1h0m-496 27h0m27 8h0m13-8h0m100 18h0m15-21h0m114 21h0m63-2h0m152-18h0m-361 41h0m58-3h0m38 2h0m52 1h0m31 14h0m9-11h0m128-3h0m-144 76h0m49-39h0m167 27h0" stroke="#8a2be2" stroke-width="14"/><path d="M517 539h0m4 13h0m482 7h0m-528 16h0m117 7h0m181-9h0m46 16h0m-450 17h0m89 26h0m123-22h0m79 1h0m36 7h0m18 12h0m112-25h0m17 16h0m36 7h0m46 3h0m93-10h0m200 8h0m-535 31h0m26-20h0m20 8h0m117-4h0m23 32h0m72-19h0m-441 54h0m63-29h0m93 35h0m81-15h0m43 55h0m-132 57h0" stroke="#8a2be2" stroke-width="15"/><path d="M571 515h0m245-21h0m-267 28h0m47 33h0m40-18h0m37 9h0m51-11h0m30 9h0m50 4h0m30 10h0m-319 23h0m53 1h0m25-13h0m17 27h0m67-3h0m76-24h0m30 27h0m25-12h0m23 8h0m-466 47h0m222-36h0m13 2h0m172-5h0m74 9h0m14 7h0m-250 32h0m53 7h0m-15 49h0m205 40h0" stroke="#8a2be2" stroke-width="16"/><path d="M626 553h0m18 2h0m165-3h0m24-3h0m4-14h0m-262 55h0m27-20h0m12 9h0m9 20h0m52-34h0m145 19h0m6-19h0m60 4h0m-204 47h0m158-16h0m43 11h0m-313 56h0m30 3h0m15 6h0m69-33h0m252 9h0m106-1h0m-273 46h0m11-6h0m89-4h0m-140 64h0" stroke="#8a2be2" stroke-width="17"/><path d="M469 511h0m482-22h0m-267 51h0m172-8h0m-422 67h0m264-12h0m7-8h0m-68 34h0m33 20h0m90-13h0m4 2h0m406-13h0" stroke="#8a2be2" stroke-width="18"/><path d="M667 548h0m54 9h0m47 2h0m-336 19h0m290-14h0m72 18h0m45-17h0m-214 48h0m108-6h0m63 16h0m195-22h0m-327 124h0" stroke="#8a2be2" stroke-width="19"/><path d="M684 505h0m-76 34h0m185 32h0m36 5h0m44 33h0m-209 74h0" stroke="#8a2be2" stroke-width="20"/><path d="M756 1005h0m23 13h0" stroke="#ffaad0" stroke-width="3"/><path d="M759 854h0m75 55h0m-131 45h0m54-6h0m100-18h0m-153 36h0m36 16h0m13 55h0m-5 166h0" stroke="#ffaad0" stroke-width="4"/><path d="M727 828h0m-38 36h0m-8 29h0m84 22h0m51-29h0m-125 54h0m48 17h0m-29 38h0m29 0h0m57 42h0m-71 99h0" stroke="#ffaad0" stroke-width="5"/><path d="M940 716h0m-227 25h0m148 3h0m-360 27h0m179 27h0m-97 15h0m190 21h0m295-11h0m-305 74h0m38 2h0m19-7h0m211-3h0m-305 66h0m9-8h0m113-23h0m-166 54h0m95-5h0" stroke="#ffaad0" stroke-width="6"/><path d="M600 651h0m356 13h0m-94 103h0m-16 46h0m289 1h0m-77 81h0m-252 101h0" stroke="#ffaad0" stroke-width="7"/><path d="M573 638h0m45 73h0m117-13h0m39 6h0m262 17h0m4-1h0m-433 56h0m96-15h0m275 31h0m-209 21h0m238 64h0m-385 21h0m88-15h0" stroke="#ffaad0" stroke-width="8"/><path d="M780 630h0m-47 43h0m-179 14h0m165 31h0m172-23h0m-315 51h0m54 107h0m295-8h0" stroke="#ffaad0" stroke-width="9"/><path d="M797 590h0m-18 84h0m87 25h0m10-3h0m-243 35h0m173 0h0m288 23h0m-526 14h0m0 29h0m309-11h0m31-22h0m69 21h0m-354 20h0m195-5h0" stroke="#ffaad0" stroke-width="10"/><path d="M602 582h0m230 110h0m-288 37h0m15 19h0m122-24h0m156 2h0m26 28h0" stroke="#ffaad0" stroke-width="11"/><path d="M760 671h0m58 8h0m-38 51h0m22-3h0m73-5h0" stroke="#ffaad0" stroke-width="12"/><path d="M840 572h0m-122 88h0m-42 48h0" stroke="#ffaad0" stroke-width="13"/><path d="M524 564h0m51 40h0m245 35h0m-351 48h0m250 19h0m-20 107h0" stroke="#ffaad0" stroke-width="14"/><path d="M811 582h0m66-22h0m-46 43h0" stroke="#ffaad0" stroke-width="15"/><path d="M859 633h0" stroke="#ffaad0" stroke-width="16"/><path d="M544 565h0m323 23h0m107 26h0" stroke="#ffaad0" stroke-width="17"/><path d="M587 562h0m-34 42h0" stroke="#ffaad0" stroke-width="18"/><path d="M656 569h0m131-3h0" stroke="#ffaad0" stroke-width="19"/><path d="M939 558h0" stroke="#ffaad0" stroke-width="20"/><path d="M779 971h0m-76 67h0m90-38h0m-101 110h0m54-19h0m-92 51h0" stroke="#fff030" stroke-width="3"/><path d="M820 874h0m92-7h0m-344 28h0m247-13h0m39 14h0m-209 45h0m122 2h0m76 12h0m43 1h0m-184 10h0m45-1h0m50 9h0m-64 56h0m97-22h0m-115 39h0m3 24h0m39 1h0m0 43h0" stroke="#fff030" stroke-width="4"/><path d="M534 795h0m292 20h0m23 0h0m-261 53h0m122-8h0m7-6h0m24 6h0m95 13h0m1 1h0m-168 14h0m29 30h0m77-33h0m47 26h0m18-31h0m1 15h0m73-6h0m-324 31h0m43 0h0m44 21h0m82-21h0m50 13h0m-123 30h0m15 2h0m20 68h0m59-26h0m60 0h0m-63 38h0m-43 36h0m7 24h0m9-15h0" stroke="#fff030" stroke-width="5"/><path d="M750 759h0m222-13h0m-435 40h0m69-1h0m135-12h0m90 7h0m-328 25h0m184 19h0m7 12h0m9-2h0m28-27h0m200 3h0m2 18h0m-373 12h0m8 1h0m120 26h0m61-6h0m9-3h0m69 14h0m-249 37h0m77-21h0m1-8h0m25 13h0m69 0h0m59 9h0m-186 22h0m222 31h0m4-16h0m-72 30h0m81 64h0" stroke="#fff030" stroke-width="6"/><path d="M667 718h0m42-29h0m75 27h0m60-25h0m-375 30h0m555 36h0m-391 4h0m28 16h0m91 18h0m1-4h0m8 5h0m85-35h0m208 20h0m-391 52h0m59 0h0m3-16h0m243 6h0m-277 28h0m31 28h0m30-3h0m6 0h0m20-16h0m18 0h0m34-12h0m103 5h0m-234 57h0m51-7h0m18 4h0m13 5h0m110-30h0m-213 47h0m127-5h0m18 188h0" stroke="#fff030" stroke-width="7"/><path d="M270 676h0m452 11h0m72 16h0m13-18h0m6 22h0m8-19h0m12-1h0m67 23h0m226 1h0m-542 16h0m139 22h0m36-16h0m94 2h0m-379 32h0m77 15h0m76 11h0m40-18h0m5 8h0m10-13h0m49-7h0m19 18h0m27-14h0m13 8h0m4 1h0m9 8h0m17-21h0m107 13h0m114-15h0m42 1h0m-698 76h0m293-20h0m21 6h0m4 3h0m59-24h0m67 9h0m76 3h0m3 23h0m-183 2h0m21 7h0m128 3h0m14-8h0m22 25h0m100 3h0m-247 10h0m-69 121h0" stroke="#fff030" stroke-width="8"/><path d="M496 613h0m148-4h0m69 56h0m41-10h0m68-6h0m8 6h0m130 17h0m70-23h0m-574 59h0m206 1h0m211 0h0m1 9h0m9-37h0m159 32h0m68-32h0m-302 57h0m76-14h0m-264 37h0m106 7h0m9 0h0m110 26h0m6-12h0m10 16h0m-363 15h0m50 11h0m68-12h0m117 1h0m176-12h0m-112 110h0m56-12h0" stroke="#fff030" stroke-width="9"/><path d="M745 619h0m-384 31h0m162 16h0m45 10h0m100-9h0m-405 23h0m203-1h0m188 28h0m136-32h0m10 1h0m71-5h0m4 31h0m200-11h0m-419 31h0m17 8h0m13 18h0m57-37h0m153 21h0m-279 23h0m150 42h0m94-4h0m138 9h0m-185 33h0" stroke="#fff030" stroke-width="10"/><path d="M450 630h0m473-30h0m97 33h0m-457 19h0m103 4h0m-173 39h0m73-10h0m20 4h0m112-8h0m68 18h0m12-9h0m-205 47h0m110-6h0m46 6h0m11 20h0m2-26h0m211-10h0m61 7h0m59 1h0m-148 38h0m-102 47h0" stroke="#fff030" stroke-width="11"/><path d="M471 625h0m147-4h0m22 7h0m64 8h0m37-23h0m35 25h0m6-16h0m61-14h0m-456 36h0m187 16h0m12 18h0m15-16h0m126-7h0m55 1h0m124 17h0m184-30h0m27 21h0m24 2h0m-695 29h0m65 6h0" stroke="#fff030" stroke-width="12"/><path d="M626 583h0m57 43h0m117-17h0m20 13h0m135 10h0m-362 36h0m37-23h0m30 12h0m47 9h0m88-6h0m132-14h0m48 23h0m15-13h0m8 10h0m-317 43h0m241 7h0" stroke="#fff030" stroke-width="13"/><path d="M663 586h0m-130 25h0m356 23h0m-670 20h0m438-3h0m-282 38h0m445-1h0" stroke="#fff030" stroke-width="14"/><path d="M751 569h0m64-8h0m-98 57h0m16 17h0m3-14h0m-203 33h0m182 10h0m-44 31h0" stroke="#fff030" stroke-width="15"/><path d="M763 543h0m-360 42h0m286 9h0m83 6h0m162 33h0m18-17h0m-215 80h0" stroke="#fff030" stroke-width="16"/><path d="M610 525h0m143-5h0m9 41h0m19 50h0" stroke="#fff030" stroke-width="17"/><path d="M526 546h0m11-3h0m53 33h0m123-6h0m-171 33h0" stroke="#fff030" stroke-width="18"/><path d="M839 504h0m-370 40h0m206-13h0m203 6h0m-496 32h0m304 119h0" stroke="#fff030" stroke-width="19"/><path d="M749 998h0" stroke="#4488ff" stroke-width="3"/><path d="M743 954h0m9-6h0m90-15h0m-91 36h0m73 27h0m-110 59h0m3-9h0" stroke="#4488ff" stroke-width="4"/><path d="M879 706h0m67 50h0m-326 104h0m70 13h0m116-1h0m44 5h0m92-35h0m-367 68h0m56-1h0m74 4h0m33-11h0m32-16h0m5-2h0m99 0h0m12 25h0m-150 17h0m6 15h0m43 51h0m-52 13h0m5 7h0m39-9h0m-19 42h0" stroke="#4488ff" stroke-width="5"/><path d="M719 829h0m103 13h0m8 25h0m134-15h0m-262 48h0m74 19h0m115-15h0m-235 35h0m17-13h0m8 25h0m50-5h0m18-23h0m33 3h0m12 19h0m-106 30h0m18 3h0m97-4h0" stroke="#4488ff" stroke-width="6"/><path d="M839 714h0m26-7h0m-214 51h0m117-38h0m100 17h0m58 20h0m-205 21h0m47 13h0m49 5h0m78-10h0m17 35h0m-217 44h0m22 11h0m136-3h0m-208 8h0m128 29h0m33-24h0m76 11h0m-22 33h0" stroke="#4488ff" stroke-width="7"/><path d="M710 636h0m14 21h0m138 21h0m21 3h0m-142 51h0m2 12h0m29-8h0m1-15h0m218 13h0m97-5h0m-510 46h0m275 19h0m12-9h0m35-24h0m46 0h0m-379 47h0m24 0h0m147 9h0m204 17h0m-224 8h0m166 16h0" stroke="#4488ff" stroke-width="8"/><path d="M647 594h0m-80 32h0m31 10h0m93 28h0m2 6h0m87-4h0m66-21h0m77 15h0m-158 46h0m25 9h0m92-17h0m52 8h0m94 9h0m-400 27h0m13 1h0m22-23h0m27 13h0m47 24h0m35-30h0m8 1h0m29 4h0m2 9h0m17-21h0m106 32h0m-122 39h0m436 6h0m-383 3h0m-50 42h0" stroke="#4488ff" stroke-width="9"/><path d="M670 593h0m176-6h0m-235 25h0m219 26h0m19-12h0m-187 36h0m127-8h0m63 14h0m-234 18h0m87 21h0m26-13h0m10 19h0m19-5h0m25-3h0m75-13h0m72 5h0m-423 57h0m336-7h0m146-26h0m-372 60h0m14-12h0m51 12h0" stroke="#4488ff" stroke-width="10"/><path d="M579 584h0m236 10h0m-78 31h0m51-7h0m-199 57h0m60-20h0m38 19h0m94-27h0m71 32h0m47-29h0m42 15h0m150-11h0m-423 51h0m4-1h0m30-24h0m42 37h0m2-29h0m22 22h0m84 5h0m-123 15h0m59 9h0m-38 26h0m109 7h0" stroke="#4488ff" stroke-width="11"/><path d="M344 622h0m83-10h0m56 55h0m177-19h0m288-1h0m13 4h0m-222 52h0m90-19h0m35 31h0m-171 32h0m119-3h0" stroke="#4488ff" stroke-width="12"/><path d="M901 538h0m-230 38h0m91-5h0m3 14h0m82-6h0m-208 31h0m46 17h0m32-19h0m19 6h0m-49 44h0m38-1h0m114 8h0m-355 33h0m145 15h0m112-24h0m70 7h0m-85 44h0m120 10h0" stroke="#4488ff" stroke-width="13"/><path d="M687 589h0m35-10h0m253-19h0m117 26h0m224 12h0m-1110 15h0m276-13h0m154 24h0m17-18h0m61 12h0m22 2h0m-386 26h0m335 33h0m54-22h0m-83 25h0m155 0h0m95 42h0" stroke="#4488ff" stroke-width="14"/><path d="M700 559h0m86 18h0m-292 28h0m124 33h0m4 29h0m374-24h0m136 10h0m-162 34h0" stroke="#4488ff" stroke-width="15"/><path d="M441 559h0m193 15h0m265 20h0m-308 38h0m216-30h0m-142 107h0" stroke="#4488ff" stroke-width="16"/><path d="M480 551h0m309-17h0m-357 35h0m275 21h0m97 3h0m120-6h0m-193 43h0m61-27h0m4 2h0" stroke="#4488ff" stroke-width="17"/><path d="M553 511h0m43-23h0m-166 66h0m88 20h0m344-13h0m-181 54h0m139 4h0m113 52h0" stroke="#4488ff" stroke-width="18"/><path d="M707 591h0" stroke="#4488ff" stroke-width="19"/><path d="M383 447h0m168 107h0m229 6h0" stroke="#4488ff" stroke-width="20"/><path d="M635 974h0m94-6h0m20 7h0m18-3h0m-66 63h0m28-13h0m-39 28h0m16 32h0m5 25h0m20 13h0" stroke="#d4aa3a" stroke-width="3"/><path d="M720 830h0m54 7h0m-66 7h0m178 32h0m16-24h0m2 9h0m-337 37h0m67-2h0m30 15h0m17-11h0m92 5h0m127-13h0m-268 35h0m2 12h0m97-7h0m4 23h0m2 4h0m27-27h0m67-10h0m-117 61h0m13 12h0m57 2h0m60-15h0m-158 43h0m27 14h0m7-30h0m3 4h0m13 19h0m8 0h0m3 1h0m-58 36h0m48 9h0m2-27h0m3 2h0m-23 53h0" stroke="#d4aa3a" stroke-width="4"/><path d="M686 731h0m152 20h0m-240 27h0m140 5h0m149 12h0m-188 40h0m128-6h0m26-23h0m22 9h0m21 23h0m11-3h0m40-25h0m86 6h0m-523 35h0m58-9h0m64 19h0m22-18h0m6-2h0m85 10h0m27 9h0m10-11h0m1 20h0m10-4h0m14-14h0m19 8h0m60-5h0m60 0h0m-337 57h0m26-24h0m2 9h0m22-16h0m23 37h0m32-11h0m20 4h0m42-4h0m15-1h0m25-5h0m37 15h0m11-29h0m-374 66h0m166-27h0m32-1h0m13 4h0m15 15h0m4 1h0m24-24h0m17 30h0m7 4h0m5-13h0m67-16h0m66-5h0m-218 58h0m28 8h0m84 2h0m6-20h0m-84 35h0m51 10h0m2 8h0m-32 87h0m23-14h0" stroke="#d4aa3a" stroke-width="5"/><path d="M585 732h0m444 9h0m-412 52h0m24-12h0m41 17h0m57 1h0m21-8h0m24-2h0m73-11h0m20 10h0m66-28h0m-362 40h0m14 29h0m1 10h0m26-27h0m2-8h0m1 5h0m44 7h0m8 11h0m19-9h0m0-2h0m4 10h0m1-15h0m6 19h0m43-25h0m6 19h0m23 15h0m18-26h0m5-5h0m71 11h0m21 17h0m17-23h0m-375 32h0m144 4h0m22 3h0m27 13h0m12-12h0m5 10h0m9-4h0m2-13h0m4 24h0m7-4h0m2-25h0m19 5h0m5 30h0m8-3h0m13 3h0m7-32h0m1 5h0m18 14h0m1-11h0m25 16h0m13-17h0m25 13h0m17-23h0m-393 59h0m93 7h0m43-5h0m8 4h0m64-10h0m10-10h0m22 18h0m36-4h0m42-4h0m4-13h0m29 18h0m-223 41h0m26-1h0m51-4h0m52 22h0m10-26h0m36 11h0m-96 48h0m4-2h0m70-17h0m38 9h0m-90 66h0" stroke="#d4aa3a" stroke-width="6"/><path d="M642 675h0m427-14h0m-557 51h0m102 1h0m90-23h0m39 10h0m19 3h0m-184 25h0m36 29h0m15-4h0m105-11h0m32 3h0m10-10h0m90 12h0m99 12h0m33-31h0m-510 54h0m59 4h0m44 9h0m37-15h0m19 3h0m10 4h0m16-26h0m42 8h0m5 13h0m7 8h0m46-4h0m13-7h0m7-13h0m4 11h0m12 16h0m1-24h0m10 1h0m1 4h0m9-8h0m8 6h0m18 9h0m53 11h0m65-13h0m-441 36h0m61 19h0m26-5h0m39-15h0m54 24h0m4 1h0m6-30h0m3 23h0m10-28h0m43 31h0m1-34h0m0 24h0m5-12h0m15 24h0m4-1h0m21-16h0m12-1h0m28 16h0m12-6h0m3-11h0m51-4h0m26-7h0m112 16h0m-464 36h0m8 0h0m47-12h0m27 10h0m12 15h0m28-25h0m1 1h0m46 9h0m20 21h0m11-31h0m7 21h0m50-28h0m172 35h0m-494 5h0m132 10h0m13 6h0m34 15h0m34-20h0m6 7h0m17-1h0m25 18h0m-123 31h0m77-15h0m14 17h0m59-19h0m12-9h0m-139 90h0" stroke="#d4aa3a" stroke-width="7"/><path d="M638 674h0m-114 7h0m165 30h0m6 1h0m0-11h0m11 18h0m45-2h0m66-12h0m8-16h0m8 14h0m55 4h0m103-14h0m73 9h0m129 14h0m-508 39h0m16-8h0m1-24h0m69 22h0m24 9h0m86-29h0m1 0h0m14 28h0m24-29h0m1 25h0m45-21h0m46-5h0m-379 59h0m1 15h0m31-3h0m3-5h0m6 4h0m7-14h0m5-7h0m10-10h0m56 20h0m20-3h0m21-2h0m6-3h0m159 6h0m14 15h0m122-34h0m-637 68h0m219-22h0m37-7h0m32 20h0m7-19h0m17 34h0m9-18h0m2 0h0m35 12h0m25-16h0m19-5h0m4 19h0m34 1h0m151-26h0m-338 49h0m7-1h0m40 11h0m17 14h0m6-13h0m30-21h0m0 5h0m34 13h0m19-16h0m3 14h0m101 6h0m-299 40h0m61-8h0m46-1h0m108-11h0m-150 43h0" stroke="#d4aa3a" stroke-width="8"/><path d="M580 642h0m110 23h0m30 14h0m79-33h0m109 21h0m-372 29h0m36 16h0m68-3h0m6-22h0m132 24h0m26-13h0m25 18h0m58-35h0m-321 48h0m15-7h0m14 12h0m1-10h0m61 29h0m73-24h0m86 18h0m14 11h0m9-32h0m7 3h0m6 30h0m-254 24h0m7 11h0m17-25h0m20 2h0m13 11h0m12 3h0m38-24h0m28 26h0m39-6h0m24 5h0m31 0h0m10-20h0m-146 63h0m7-4h0m13-7h0m7 3h0m9-11h0m11-6h0m11 10h0m5 12h0m5-20h0m93 22h0m6 6h0m-128 9h0m83-3h0" stroke="#d4aa3a" stroke-width="9"/><path d="M343 592h0m419 3h0m-303 34h0m224-10h0m20 7h0m76 8h0m-379 23h0m122-5h0m192-7h0m1 0h0m53 9h0m30-3h0m41 12h0m-321 56h0m137-4h0m21-12h0m12 6h0m35-5h0m57-5h0m28 9h0m25-2h0m116-6h0m-393 50h0m168-6h0m42-18h0m72 7h0m97-5h0m115-7h0m-678 51h0m20 3h0m60-2h0m253 0h0m72-7h0m34 19h0m3 1h0m21 5h0m27-31h0m-75 72h0m198 6h0m20-26h0m16 18h0m-252 39h0m15 24h0" stroke="#d4aa3a" stroke-width="10"/><path d="M679 579h0m18 8h0m-136 14h0m140 15h0m11 4h0m182 1h0m-235 36h0m14 10h0m25 6h0m9-16h0m30 3h0m34-10h0m52 13h0m66 2h0m122 13h0m64-14h0m-769 43h0m117 12h0m174-21h0m51 6h0m1 5h0m183-26h0m23 18h0m11 0h0m6 8h0m14 3h0m45 1h0m-342 7h0m39 2h0m23 4h0m14 24h0m12-7h0m65-1h0m2-1h0m59 10h0m46-31h0m-173 80h0m192 0h0m70 7h0m-329 75h0" stroke="#d4aa3a" stroke-width="11"/><path d="M543 584h0m157-22h0m258 22h0m-474 55h0m94-5h0m86-4h0m31 5h0m21-18h0m7 1h0m115 15h0m120-15h0m81-4h0m143 2h0m-772 42h0m214-5h0m437 6h0m-539 38h0m1 3h0m140-9h0m187-11h0m30 12h0m72 21h0m-285 17h0m8 14h0m192 5h0m-144 25h0m3 21h0m25 12h0" stroke="#d4aa3a" stroke-width="12"/><path d="M657 537h0m-425 37h0m582-2h0m-347 46h0m96-3h0m98-6h0m49-7h0m57 26h0m23 2h0m22-3h0m103-21h0m-298 44h0m130 3h0m12 19h0m78 7h0m27-27h0m44-10h0m29 15h0m-275 44h0m24 20h0m66 24h0m59-21h0m5 14h0m22-11h0m60 31h0m10-38h0m4 14h0m31-2h0m-564 31h0m206 15h0m335-6h0" stroke="#d4aa3a" stroke-width="13"/><path d="M595 532h0m-62 65h0m396-18h0m-245 45h0m110-8h0m76-2h0m30 14h0m4-28h0m-269 52h0m4 7h0m68 9h0m36 7h0m71-19h0m37-1h0m-669 55h0m433-5h0m289 14h0m-153 11h0m63 60h0" stroke="#d4aa3a" stroke-width="14"/><path d="M562 559h0m-163 16h0m134-5h0m439 6h0m-492 46h0m74-2h0m40 0h0m454 82h0m-265 62h0" stroke="#d4aa3a" stroke-width="15"/><path d="M586 541h0m473 54h0m-229 59h0m0 24h0m20-3h0m-151 24h0" stroke="#d4aa3a" stroke-width="16"/><path d="M521 541h0m272 6h0m-282 52h0m38-9h0m36-22h0m174 5h0m-102 51h0m165-14h0" stroke="#d4aa3a" stroke-width="17"/><path d="M656 583h0m260-13h0m-275 35h0m311-5h0" stroke="#d4aa3a" stroke-width="18"/><path d="M639 548h0m-3 32h0m41-20h0" stroke="#d4aa3a" stroke-width="19"/><path d="M691 594h0" stroke="#d4aa3a" stroke-width="20"/><path d="M711 887h0m-18 64h0m14 5h0m92-9h0m67-21h0m-352 65h0m156-10h0m24-1h0m11 18h0m15-1h0m15-9h0m8-8h0m12 17h0m11 2h0m1-20h0m3 19h0m4-5h0m47-3h0m10-5h0m5 0h0m-160 52h0m15-12h0m8 6h0m4-23h0m1 10h0m11-12h0m48 16h0m2-9h0m17-7h0m0 23h0m23 0h0m-381 19h0m307 7h0m6-7h0m1 16h0m0 15h0m5-3h0m16-17h0m66-9h0m-87 49h0m1-5h0m2 13h0m6-20h0m10-6h0m3 2h0m-23 102h0m1-13h0m5 16h0" stroke="#c066e0" stroke-width="3"/><path d="M562 806h0m-43 49h0m224 20h0m170 3h0m51-1h0m-276 40h0m4-5h0m16-14h0m68-6h0m8 21h0m22-33h0m89 14h0m-299 54h0m39 1h0m14 4h0m28-22h0m15 20h0m36-19h0m8 8h0m1-11h0m1 27h0m10-7h0m1 8h0m26-19h0m7 5h0m15 8h0m7-25h0m34-6h0m71 17h0m-414 50h0m187-4h0m18 0h0m3-9h0m16 4h0m5-2h0m33-13h0m1 34h0m0-23h0m6 7h0m7 1h0m1 0h0m7-8h0m12-3h0m5 3h0m8 12h0m9-12h0m13 3h0m20-11h0m-230 51h0m35-8h0m35 12h0m24-1h0m11-17h0m1 3h0m1-3h0m0 22h0m6 11h0m4-3h0m6-21h0m3 13h0m3 1h0m1 1h0m5 4h0m3-24h0m2 31h0m2-15h0m2 2h0m3-10h0m5 19h0m8-17h0m4-11h0m10 5h0m2-7h0m1 2h0m-95 55h0m1 11h0m7-30h0m7 9h0m0 15h0m13-26h0m2 26h0m2-20h0m1 14h0m2-16h0m5 18h0m9-8h0m3 13h0m4-19h0m22 16h0m-48 53h0m2-26h0m23-2h0m14-2h0m140-5h0m-157 75h0m-17 31h0" stroke="#c066e0" stroke-width="4"/><path d="M767 780h0m79 15h0m26 0h0m-284 39h0m65-5h0m151-17h0m20 4h0m2-4h0m7 27h0m34-34h0m11 13h0m12 21h0m49-1h0m55-32h0m79 17h0m-390 42h0m10 12h0m2-4h0m6-19h0m9 1h0m66 24h0m3-15h0m4 5h0m3-21h0m22-8h0m2 20h0m33 8h0m10-14h0m51 14h0m67 8h0m55-32h0m-408 72h0m40-10h0m9-13h0m6-10h0m2 36h0m17-6h0m9 3h0m14-5h0m8-31h0m5 35h0m25-13h0m2-11h0m47 13h0m2 5h0m5-1h0m34 11h0m44-23h0m5-16h0m5 37h0m7-5h0m34-8h0m2 3h0m-294 30h0m19 9h0m1-11h0m2 1h0m0 12h0m12-13h0m20 13h0m14-11h0m0 18h0m4-28h0m2 24h0m5 0h0m3-25h0m1 5h0m15 5h0m5 22h0m1-17h0m2-21h0m5 1h0m0 0h0m7 4h0m4-5h0m10 34h0m7-21h0m4 13h0m4 8h0m4-33h0m16 22h0m24-5h0m24-12h0m20 23h0m6-5h0m-231 26h0m20 0h0m7-9h0m29 22h0m7-10h0m27 3h0m8 6h0m9 8h0m6-24h0m26-5h0m31 31h0m-360 25h0m212-11h0m15 10h0m14-14h0m10 30h0m5-6h0m0-15h0m2 22h0m3-14h0m3 10h0m19-5h0m5-19h0m4 27h0m15-29h0m21 4h0m4 8h0m-111 34h0m8 18h0m14 6h0m18-21h0m3 4h0m2-8h0m41 19h0m-2 17h0" stroke="#c066e0" stroke-width="5"/><path d="M586 748h0m38 2h0m183 6h0m153-15h0m-444 51h0m143 0h0m7 6h0m166-26h0m109 11h0m16-7h0m363 20h0m-825 19h0m8 4h0m107 4h0m33-14h0m33-9h0m28 28h0m22-4h0m4 15h0m7-35h0m9 10h0m2 17h0m15-30h0m4 36h0m7-18h0m5-3h0m1 5h0m4-14h0m13 24h0m9-27h0m8 27h0m37-5h0m41 11h0m15-17h0m6 18h0m15-11h0m27 0h0m1-15h0m22 12h0m-487 21h0m107-3h0m27 29h0m17-10h0m28-19h0m10 19h0m1 5h0m11-21h0m14 19h0m16 7h0m3-8h0m9 13h0m1-36h0m4 3h0m13 5h0m5-7h0m0 18h0m7-10h0m4 4h0m9-13h0m44 0h0m1 16h0m43 8h0m60-1h0m1-2h0m13-3h0m49 4h0m-367 55h0m41-27h0m75-10h0m6 9h0m4 29h0m13-3h0m5-17h0m1 18h0m18-25h0m10 1h0m4-12h0m5 15h0m8 1h0m2-16h0m5 6h0m3 13h0m2-18h0m14 18h0m11 2h0m1 6h0m2 8h0m100-18h0m13-15h0m20 5h0m-343 54h0m6 9h0m34-27h0m13 32h0m5-27h0m4 15h0m49 14h0m2-35h0m7 32h0m13-4h0m6 7h0m13-37h0m13 17h0m28 21h0m48-18h0m191-9h0m-376 51h0m7 5h0m25-18h0m29 25h0m18 1h0m1-23h0m5-11h0m19 6h0m-58 43h0m-31 65h0m7-16h0m22-1h0m11 20h0m25-17h0m-39 41h0" stroke="#c066e0" stroke-width="6"/><path d="M738 652h0m251 24h0m44 2h0m-406 24h0m92 3h0m12-21h0m137 33h0m-272 37h0m51-5h0m11 5h0m45-21h0m9-4h0m21 18h0m21-11h0m74 6h0m16 7h0m27-29h0m20 37h0m-334 40h0m8-5h0m34-18h0m37 1h0m15-1h0m10 25h0m25-3h0m11-31h0m8 26h0m5-10h0m9 3h0m37-3h0m5 12h0m7 6h0m12-39h0m19 4h0m1 35h0m2-38h0m30 13h0m66-1h0m9-4h0m27 2h0m41 28h0m92-28h0m-476 58h0m71-4h0m13-25h0m14 37h0m9-29h0m6-1h0m3 30h0m33-13h0m15-19h0m4-4h0m9 21h0m10-12h0m29 21h0m7-13h0m3 19h0m5 0h0m7-21h0m29 5h0m13 12h0m5-14h0m1-10h0m6 1h0m5 25h0m13-5h0m10 3h0m19-23h0m25-1h0m42 11h0m-370 55h0m20-14h0m0 12h0m6-33h0m13 35h0m44-1h0m11-16h0m35-5h0m18 3h0m6 10h0m18 2h0m4 3h0m35-3h0m12-25h0m15 35h0m8-23h0m35 13h0m2-8h0m105 10h0m-382 28h0m56 15h0m2-29h0m10 2h0m54 27h0m13-11h0m36-22h0m20 5h0m33 2h0m5 0h0m145 14h0m-395 30h0m22 6h0m4-7h0m105-10h0m11 23h0m9-10h0m19-6h0m31-5h0m43 15h0m11 0h0m17 17h0" stroke="#c066e0" stroke-width="7"/><path d="M869 634h0m-460 36h0m174 8h0m330 0h0m1-18h0m-420 48h0m169-10h0m25 9h0m28 2h0m32-17h0m72 1h0m43 3h0m17-16h0m28 34h0m14-12h0m37-18h0m85 24h0m-401 40h0m18-16h0m47 12h0m33-9h0m17 20h0m16-3h0m1-5h0m17-2h0m34-16h0m21-3h0m13 5h0m5 3h0m67 9h0m-417 48h0m40 8h0m75-11h0m56 0h0m23-8h0m11-2h0m1 17h0m19-20h0m6 21h0m15-3h0m2-31h0m25 23h0m8-23h0m6 35h0m50-21h0m39-16h0m32 23h0m0-9h0m13 23h0m38-4h0m-334 44h0m21 2h0m64-29h0m11-9h0m8-1h0m1 27h0m13-24h0m0 9h0m8 1h0m7 22h0m8-9h0m4-1h0m11 14h0m1-10h0m66-26h0m1 17h0m14-3h0m3 11h0m19-9h0m1 5h0m78-5h0m-275 39h0m10 7h0m8-25h0m7 18h0m49-11h0m15 6h0m32-1h0m37 15h0m28 1h0m59-21h0m41 8h0m193 23h0m-575 11h0m132-7h0m56-1h0m-96 48h0" stroke="#c066e0" stroke-width="8"/><path d="M663 672h0m132 0h0m82-30h0m-332 60h0m24-2h0m33 4h0m21 13h0m23-34h0m50 35h0m35-13h0m7-3h0m8 15h0m92-36h0m-237 75h0m41-32h0m32 24h0m29-20h0m14 10h0m17 1h0m27-15h0m13 13h0m0-8h0m12-5h0m59 26h0m16-14h0m102 6h0m4-22h0m161 33h0m-488 40h0m1 3h0m7 0h0m27-11h0m19-7h0m17 3h0m32-19h0m1 14h0m20-14h0m1 8h0m14-7h0m7 17h0m29 13h0m37-4h0m80 1h0m9-13h0m15-5h0m47 4h0m51 23h0m-416 4h0m33 1h0m5 27h0m82-8h0m9-13h0m97 6h0m26 5h0m25-17h0m26 0h0m-335 65h0m124-18h0m139-9h0m-216 53h0m40-14h0" stroke="#c066e0" stroke-width="9"/><path d="M742 622h0m150 8h0m120-3h0m-504 50h0m174-28h0m65 11h0m57 17h0m2-4h0m59-5h0m10 1h0m23-28h0m-311 69h0m65-26h0m45 3h0m15-5h0m21 27h0m22-25h0m36 32h0m-362 9h0m46 26h0m39 6h0m47-10h0m59-20h0m17 23h0m29-4h0m21 0h0m103 10h0m120-34h0m-406 66h0m100-4h0m42-10h0m14 13h0m0-6h0m60-19h0m15 27h0m52-25h0m1 18h0m37-18h0m1 30h0m31 0h0m164-23h0m-261 46h0m6-1h0m50-1h0m56-3h0m66-1h0m-470 49h0m242 24h0" stroke="#c066e0" stroke-width="10"/><path d="M785 595h0m-315 41h0m333-19h0m-155 52h0m109-8h0m16 9h0m4-28h0m174 14h0m166-3h0m-424 47h0m95-18h0m38 19h0m439 4h0m-756 41h0m160-2h0m29-3h0m52-5h0m8 13h0m24-11h0m45-12h0m6 17h0m21-12h0m134 6h0m55 5h0m-258 39h0m32-7h0m-37 28h0m77 3h0m200 17h0m-424 87h0" stroke="#c066e0" stroke-width="11"/><path d="M594 594h0m232 3h0m-281 9h0m192 27h0m426 1h0m-779 18h0m210 3h0m95 23h0m-152 13h0m54 21h0m178-7h0m14-14h0m51 16h0m32-6h0m48 16h0m22-25h0m-26 61h0m-155 37h0m79-5h0m376-25h0m-346 56h0m-88 51h0m15-21h0" stroke="#c066e0" stroke-width="12"/><path d="M462 585h0m35-4h0m166-19h0m26 27h0m-78 35h0m1-14h0m55 7h0m31-13h0m-34 69h0m88-25h0m0 10h0m-233 37h0m203 3h0m145-13h0m-112 72h0m32-33h0m56 35h0m96-27h0m74 6h0" stroke="#c066e0" stroke-width="13"/><path d="M376 548h0m93 78h0m145-8h0m7 9h0m17 1h0m10 6h0m44-30h0m110 33h0m49-11h0m-279 32h0m350-10h0m-108 46h0m23-7h0m-158 38h0" stroke="#c066e0" stroke-width="14"/><path d="M695 532h0m43 50h0m115-11h0m-356 39h0m101-3h0m326 6h0m-305 66h0m63-22h0m-63 51h0m316-25h0m-21 43h0" stroke="#c066e0" stroke-width="15"/><path d="M495 538h0m157 39h0m63 22h0m202 25h0m194 28h0m-363 30h0" stroke="#c066e0" stroke-width="16"/><path d="M486 495h0m0 96h0m35-6h0m455-8h0m92 16h0m64-2h0m-256 73h0m38-20h0" stroke="#c066e0" stroke-width="17"/><path d="M819 555h0m-269 24h0m188 19h0m247-10h0m-191 29h0" stroke="#c066e0" stroke-width="18"/><path d="M908 497h0m-377 110h0m212-6h0m-147 62h0" stroke="#c066e0" stroke-width="19"/><path d="M419 569h0m129 2h0" stroke="#c066e0" stroke-width="20"/><path d="M764 918h0m-140 65h0m93-7h0m52 21h0m22-17h0m-62 103h0" stroke="#9aa0a8" stroke-width="3"/><path d="M648 870h0m186 4h0m76-25h0m-237 65h0m11-13h0m61-2h0m-133 52h0m131-4h0m-41 50h0m15-5h0m32-7h0m1-23h0m3 16h0m21 0h0m28 18h0m-40 24h0m2-3h0m-116 61h0m86-38h0m1 26h0m5-14h0m13-8h0m-18 66h0m8-28h0m3 70h0" stroke="#9aa0a8" stroke-width="4"/><path d="M648 714h0m-199 33h0m80 19h0m171 30h0m176 2h0m-175 21h0m52 13h0m191-9h0m-271 28h0m12 3h0m37-10h0m10 16h0m2-10h0m42 12h0m9 3h0m94 6h0m22-7h0m-266 30h0m24 24h0m3-10h0m6-19h0m12 6h0m27-15h0m13 13h0m0 12h0m9-10h0m37-14h0m61 24h0m-174 43h0m33-5h0m33-13h0m16 8h0m21 2h0m17-7h0m22 11h0m32-10h0m-197 37h0m35-1h0m0 1h0m42 25h0m24-13h0m12 9h0m-48 43h0m24-29h0m7-4h0m54 44h0" stroke="#9aa0a8" stroke-width="5"/><path d="M711 712h0m16 31h0m11 10h0m56-20h0m107 20h0m27-23h0m-294 59h0m7 0h0m59-10h0m72 10h0m33-1h0m3-6h0m64 13h0m69 3h0m-425 20h0m120 14h0m145-22h0m7-8h0m0 20h0m65-5h0m7 7h0m38-7h0m68-3h0m141 5h0m-758 26h0m370 7h0m6 21h0m7 4h0m4-28h0m31-2h0m76 31h0m9-33h0m10 12h0m10-14h0m44 29h0m14-3h0m225-17h0m-589 39h0m17 10h0m154-11h0m46 7h0m13 8h0m44 2h0m-146 47h0m178-18h0m-75 52h0m-114 49h0m54-11h0m47 45h0" stroke="#9aa0a8" stroke-width="6"/><path d="M950 646h0m-495 101h0m150-14h0m5-3h0m28 25h0m264-3h0m-330 9h0m35 5h0m29 12h0m9 17h0m60-1h0m0-24h0m86 28h0m0-22h0m31 12h0m34-9h0m35-2h0m3 2h0m14-12h0m83 22h0m-618 26h0m305 16h0m34-13h0m9-16h0m14 29h0m18-24h0m11 28h0m8-11h0m13-21h0m17 0h0m0 22h0m2 13h0m13-23h0m0-14h0m9 35h0m20 0h0m13-25h0m9-2h0m7-5h0m69 7h0m-358 36h0m38 23h0m28-22h0m3 10h0m29 13h0m15-21h0m28 5h0m10 12h0m25 7h0m21 3h0m61-20h0m1-14h0m36 8h0m254 27h0m-774 28h0m286-19h0m107 7h0m21 4h0m13 7h0m63-3h0m50 17h0m78-28h0" stroke="#9aa0a8" stroke-width="7"/><path d="M798 677h0m-161 28h0m42 12h0m135-17h0m53-8h0m65 8h0m2 1h0m-319 54h0m75-13h0m37-2h0m11 10h0m15 9h0m35-38h0m7 29h0m10-16h0m30-10h0m40 25h0m268-7h0m-509 19h0m132 21h0m37-6h0m17-6h0m160 25h0m6-31h0m55 3h0m-412 44h0m2-6h0m119-1h0m19-1h0m43 36h0m49-17h0m49 17h0m-398 6h0m97 17h0m62-15h0m52 5h0m3-9h0m47 21h0m35 11h0m33-8h0m109-11h0m-224 27h0m74 11h0m-109 42h0m1-8h0" stroke="#9aa0a8" stroke-width="8"/><path d="M434 614h0m157 22h0m73-19h0m-51 47h0m119-6h0m295-1h0m256-5h0m-815 54h0m152 7h0m5-7h0m94-6h0m217 16h0m-369 13h0m6 3h0m12 21h0m144 2h0m51-20h0m54 9h0m3-19h0m12 7h0m-275 38h0m95 2h0m11-7h0m57 34h0m53-30h0m100 27h0m27-3h0m-220 27h0m23 19h0m27-19h0m44-5h0m86-14h0m27 32h0m87-25h0m3 18h0m34-12h0m-185 34h0m47 0h0m374 5h0m-327 44h0" stroke="#9aa0a8" stroke-width="9"/><path d="M685 623h0m17 9h0m180-22h0m-438 52h0m264-15h0m25 10h0m83 10h0m7-14h0m-216 81h0m35-6h0m7 10h0m23 11h0m174 2h0m-173 26h0m19 22h0m70-15h0m26 5h0m37-13h0m147-16h0m-304 46h0m125 54h0" stroke="#9aa0a8" stroke-width="10"/><path d="M1102 551h0m-230 31h0m-290 33h0m73 4h0m77-6h0m45 22h0m-260 37h0m73-8h0m49-21h0m66 34h0m24-17h0m126-4h0m2 21h0m28-8h0m84-2h0m66-22h0m-331 74h0m1-33h0m62 4h0m68 15h0m35-15h0m79 22h0m26-15h0m-178 44h0m28-20h0m18 27h0m57-10h0m165-17h0m-340 54h0m18 0h0m137 9h0m-171 51h0" stroke="#9aa0a8" stroke-width="11"/><path d="M677 585h0m214 6h0m-491 35h0m263 5h0m-85 13h0m62 12h0m219-16h0m-290 51h0m113-8h0m9 16h0m101-11h0m29 37h0m-64 53h0" stroke="#9aa0a8" stroke-width="12"/><path d="M874 560h0m-226 59h0m103 10h0m10-9h0m137 12h0m-275 81h0m211-17h0m35 89h0m38 0h0" stroke="#9aa0a8" stroke-width="13"/><path d="M603 597h0m313-27h0m-324 33h0m108-1h0m122 15h0m58-7h0m-165 36h0m308-4h0m-259 74h0m10-23h0" stroke="#9aa0a8" stroke-width="14"/><path d="M718 556h0m-293 36h0m55 18h0m161 16h0m210-2h0m67 1h0m-278 36h0m49 7h0m64 2h0m233-2h0m-217 33h0" stroke="#9aa0a8" stroke-width="15"/><path d="M754 583h0m-48 39h0m-97 24h0m248 0h0m19 9h0m-29 37h0" stroke="#9aa0a8" stroke-width="16"/><path d="M686 616h0" stroke="#9aa0a8" stroke-width="17"/><path d="M698 527h0m-73 65h0m37-15h0m26 68h0" stroke="#9aa0a8" stroke-width="18"/><path d="M551 453h0m-3 114h0m188 13h0" stroke="#9aa0a8" stroke-width="19"/><path d="M632 559h0" stroke="#9aa0a8" stroke-width="20"/><path d="M804 943h0m-48 184h0" stroke="#b8eccc" stroke-width="3"/><path d="M802 907h0m44 6h0m149-17h0m-214 38h0m-77 42h0m1 29h0m30 180h0" stroke="#b8eccc" stroke-width="4"/><path d="M581 785h0m43 14h0m494-9h0m-300 13h0m3 32h0m-120 110h0m37 39h0m61 92h0" stroke="#b8eccc" stroke-width="5"/><path d="M966 766h0m-183 48h0m-103 26h0m-132 62h0m185-8h0m92-4h0m162-2h0m-134 35h0" stroke="#b8eccc" stroke-width="6"/><path d="M654 666h0m228 51h0m-210 64h0m74 17h0m20-1h0m169-10h0m-233 61h0" stroke="#b8eccc" stroke-width="7"/><path d="M654 668h0m138-13h0m-113 84h0m95 78h0m25 14h0" stroke="#b8eccc" stroke-width="8"/><path d="M506 711h0m144-17h0m-156 33h0m298 1h0m-51 37h0m-15 63h0" stroke="#b8eccc" stroke-width="9"/><path d="M843 670h0m-53 12h0m13 38h0m5 26h0m-207 30h0m104 46h0" stroke="#b8eccc" stroke-width="10"/><path d="M551 693h0m-14 67h0" stroke="#b8eccc" stroke-width="11"/><path d="M984 688h0m-115 90h0" stroke="#b8eccc" stroke-width="12"/><path d="M829 500h0m-131 59h0m86 83h0" stroke="#b8eccc" stroke-width="13"/><path d="M806 636h0m-53 38h0m-56 41h0" stroke="#b8eccc" stroke-width="14"/><path d="M623 577h0m-128 70h0" stroke="#b8eccc" stroke-width="15"/><path d="M720 628h0" stroke="#b8eccc" stroke-width="17"/><path d="M578 624h0" stroke="#b8eccc" stroke-width="18"/><path d="M770 1059h0" stroke="#b4dcff" stroke-width="3"/><path d="M807 951h0m-127 44h0m57-3h0m37-10h0m-65 66h0m12 10h0m24-16h0m-19 128h0" stroke="#b4dcff" stroke-width="4"/><path d="M644 769h0m205 124h0m-195 46h0m-53 55h0m94-14h0m15 17h0" stroke="#b4dcff" stroke-width="5"/><path d="M863 811h0m-128 56h0m-10 28h0m37 6h0m32-6h0m11 55h0m43-29h0" stroke="#b4dcff" stroke-width="6"/><path d="M650 756h0m84-2h0m23 76h0m-74 75h0" stroke="#b4dcff" stroke-width="7"/><path d="M689 742h0m45-14h0m95 20h0m-227 44h0m-66 47h0" stroke="#b4dcff" stroke-width="8"/><path d="M689 724h0m191 33h0" stroke="#b4dcff" stroke-width="9"/><path d="M886 733h0m20 59h0m53 5h0" stroke="#b4dcff" stroke-width="10"/><path d="M990 682h0m-204 78h0" stroke="#b4dcff" stroke-width="11"/><path d="M644 673h0" stroke="#b4dcff" stroke-width="12"/><path d="M590 634h0m186 85h0m125 12h0" stroke="#b4dcff" stroke-width="13"/><path d="M757 567h0" stroke="#b4dcff" stroke-width="19"/><path d="M686 1054h0" stroke="#e4e6e8" stroke-width="3"/><path d="M773 916h0" stroke="#e4e6e8" stroke-width="4"/><path d="M979 754h0m-69 71h0m-200 47h0m72-18h0m-96 28h0m39 2h0m111 0h0m0 19h0m-115 40h0m56-4h0m9-2h0m34-3h0" stroke="#e4e6e8" stroke-width="5"/><path d="M622 789h0m83-9h0m94-8h0m-39 62h0m41-4h0m46 7h0m-141 31h0m1-12h0m108 8h0m33 12h0m-80 20h0m3 5h0" stroke="#e4e6e8" stroke-width="6"/><path d="M750 749h0m4 9h0m-329 7h0m200-1h0m126 34h0m49-33h0m129 20h0m-285 29h0m75 13h0m135-20h0m178-3h0m-340 47h0m171 14h0m-31 53h0" stroke="#e4e6e8" stroke-width="7"/><path d="M596 635h0m37 75h0m-60 27h0m246-2h0m32 48h0m-156 55h0m96-37h0m5 29h0m-73 42h0m147 22h0" stroke="#e4e6e8" stroke-width="8"/><path d="M628 638h0m97-6h0m144 82h0m-102 39h0m-189 34h0m323-13h0m78 14h0m-482 25h0m158 0h0m286-6h0" stroke="#e4e6e8" stroke-width="9"/><path d="M541 646h0m196 19h0m-75 36h0m52 8h0m14 2h0m49-19h0m182 31h0m138 2h0" stroke="#e4e6e8" stroke-width="10"/><path d="M535 631h0m208-6h0m-250 93h0m369-23h0m163 4h0m60-18h0m-504 52h0m253-5h0m78 7h0m-85 40h0" stroke="#e4e6e8" stroke-width="11"/><path d="M672 630h0m80-11h0m51 1h0m64 14h0m-338 27h0m31-8h0m190 61h0m112-26h0m-280 52h0" stroke="#e4e6e8" stroke-width="12"/><path d="M517 591h0m258-1h0m-103 88h0m433 61h0" stroke="#e4e6e8" stroke-width="13"/><path d="M765 601h0m-122 62h0m104 82h0m56 1h0" stroke="#e4e6e8" stroke-width="14"/><path d="M544 580h0m286 57h0m260-1h0m-463 20h0m190 60h0" stroke="#e4e6e8" stroke-width="15"/><path d="M250 600h0m388 132h0" stroke="#e4e6e8" stroke-width="16"/><path d="M887 516h0m-356 27h0m-21 52h0m158 43h0" stroke="#e4e6e8" stroke-width="17"/><path d="M697 573h0" stroke="#e4e6e8" stroke-width="20"/><path d="M756 935h0m-46 100h0m32 0h0m-11 36h0m16-20h0m13 18h0m-19 36h0m24-24h0m-28 45h0" stroke="#dcc8ff" stroke-width="3"/><path d="M788 871h0m75 43h0m-310 27h0m236-6h0m68 11h0m-98 52h0m61-28h0m-112 56h0m26 34h0m15-11h0m1-6h0m16 48h0m-32 66h0" stroke="#dcc8ff" stroke-width="4"/><path d="M743 781h0m81 6h0m-107 29h0m5 0h0m11 23h0m52 22h0m26-9h0m-200 51h0m85 1h0m10 15h0m85-4h0m35-8h0m33-21h0m8-2h0m55 33h0m-146 33h0m14-21h0m11-3h0m44 26h0m-214 80h0m64 30h0m52-1h0m32-20h0" stroke="#dcc8ff" stroke-width="5"/><path d="M697 760h0m148 34h0m-237 35h0m109-23h0m20 31h0m38-35h0m1 28h0m62 1h0m145-17h0m-249 33h0m81 29h0m73-17h0m10-7h0m133 20h0m-425 22h0m117 12h0m26 5h0m18-18h0m60 23h0m-270 19h0m218-10h0m-98 54h0m59 66h0" stroke="#dcc8ff" stroke-width="6"/><path d="M728 712h0m2-20h0m214 7h0m114 12h0m-486 43h0m85-14h0m30 4h0m102-11h0m19 5h0m11 17h0m-39 32h0m-230 49h0m81-17h0m33-15h0m36 15h0m102 2h0m14 12h0m26-12h0m-215 46h0m63 11h0m55-13h0m135 34h0m-139 108h0" stroke="#dcc8ff" stroke-width="7"/><path d="M721 675h0m-75 30h0m48 8h0m13-27h0m51 31h0m18 0h0m-165 30h0m56-1h0m8 2h0m125-18h0m33 5h0m58 1h0m-353 26h0m39 26h0m76 2h0m125-23h0m40 7h0m2 16h0m27-10h0m54-14h0m-267 40h0m56 21h0m158 2h0m14-9h0m53-10h0m55 5h0m-339 65h0" stroke="#dcc8ff" stroke-width="8"/><path d="M633 667h0m152-4h0m37 9h0m231-25h0m-479 44h0m77 41h0m58 24h0m73-23h0m-205 38h0m220 9h0m-51 32h0m54 6h0m-60 59h0m13-35h0m405 13h0m-321 81h0" stroke="#dcc8ff" stroke-width="9"/><path d="M698 719h0m139-10h0m5-26h0m-59 72h0m194-12h0m-296 40h0m159-20h0m-7 76h0m53-34h0" stroke="#dcc8ff" stroke-width="10"/><path d="M702 579h0m35 60h0m182-1h0m-194 40h0m188-14h0m-415 21h0m484 19h0m-199 48h0m-252 30h0m251 13h0m-132 29h0" stroke="#dcc8ff" stroke-width="11"/><path d="M594 585h0m-13 37h0m159 11h0m14 16h0m26 14h0m-76 32h0m84 15h0m6-19h0m27 13h0m229-2h0m-392 30h0m190 44h0" stroke="#dcc8ff" stroke-width="12"/><path d="M584 632h0m10-4h0m83 1h0m173 14h0m216 140h0" stroke="#dcc8ff" stroke-width="13"/><path d="M867 539h0m-261 62h0m470 25h0m-536 47h0" stroke="#dcc8ff" stroke-width="14"/><path d="M990 587h0m-500 45h0" stroke="#dcc8ff" stroke-width="15"/><path d="M756 654h0" stroke="#dcc8ff" stroke-width="16"/><path d="M747 536h0" stroke="#dcc8ff" stroke-width="18"/><path d="M940 917h0m-181 7h0" stroke="#66d888" stroke-width="3"/><path d="M709 871h0m147-25h0m-164 140h0m53 8h0m33 5h0m90 0h0m-159 27h0m50-25h0m31 1h0m-60 48h0m12 17h0m21 25h0" stroke="#66d888" stroke-width="4"/><path d="M847 808h0m-258 47h0m128 4h0m18 3h0m10-11h0m43 18h0m9-20h0m-321 36h0m220 15h0m28-4h0m43-8h0m-55 51h0m-16 56h0m66-10h0m189-6h0" stroke="#66d888" stroke-width="5"/><path d="M855 838h0m-159 27h0m11-2h0m1 4h0m57-18h0m34 50h0m86 58h0" stroke="#66d888" stroke-width="6"/><path d="M733 776h0m-86 55h0m62-13h0m167-1h0m-278 47h0m202 14h0m46-3h0m40-23h0" stroke="#66d888" stroke-width="7"/><path d="M722 679h0m-89 111h0m203-17h0m-68 27h0m-425 57h0m445 24h0m-11 45h0" stroke="#66d888" stroke-width="8"/><path d="M772 668h0m-239 23h0m205 21h0m1-30h0m58 77h0m49-4h0m-113 5h0m100 25h0m86-13h0" stroke="#66d888" stroke-width="9"/><path d="M853 695h0m-206 34h0m90 8h0m40 2h0m45-19h0m10 22h0m271-4h0m-398 26h0m-113 37h0" stroke="#66d888" stroke-width="10"/><path d="M669 617h0m-228 60h0m411 18h0m-77 49h0" stroke="#66d888" stroke-width="11"/><path d="M748 646h0m36 4h0m-97 66h0m165-29h0m-20 58h0m17-24h0m-140 103h0" stroke="#66d888" stroke-width="12"/><path d="M769 538h0m-58 161h0m149-15h0m206 7h0m-43 30h0" stroke="#66d888" stroke-width="13"/><path d="M947 539h0m-196 62h0" stroke="#66d888" stroke-width="14"/><path d="M641 624h0" stroke="#66d888" stroke-width="15"/></g><g fill-opacity="0.7"><circle class="J" cx="167.4" cy="134.7" r="3.2"/><circle class="L" cx="112.8" cy="118.6" r="2.7"/><circle class="C" cx="117.1" cy="136.8" r="2.6"/><circle class="C" cx="236.5" cy="123.0" r="2.8"/><circle class="J" cx="234.7" cy="96.5" r="4.9"/><circle class="J" cx="158.8" cy="112.1" r="3.0"/><circle class="C" cx="132.2" cy="118.8" r="3.0"/><circle class="C" cx="119.8" cy="143.5" r="2.6"/><circle class="I" cx="192.1" cy="139.1" r="2.6"/><circle class="A" cx="184.9" cy="143.8" r="3.0"/><circle class="L" cx="277.6" cy="100.7" r="3.5"/><circle class="C" cx="175.8" cy="117.3" r="4.4"/><circle class="I" cx="155.1" cy="119.2" r="3.3"/><circle class="G" cx="162.7" cy="136.8" r="2.6"/><circle class="N" cx="232.1" cy="102.9" r="3.9"/><circle class="C" cx="238.3" cy="142.7" r="2.6"/><circle class="G" cx="215.4" cy="113.0" r="3.3"/><circle class="F" cx="183.1" cy="130.9" r="3.5"/><circle class="C" cx="132.4" cy="124.9" r="3.4"/><circle class="C" cx="74.2" cy="79.3" r="4.9"/><circle class="G" cx="180.9" cy="114.9" r="4.2"/><circle class="G" cx="146.8" cy="125.2" r="3.1"/><circle class="J" cx="145.1" cy="106.6" r="4.9"/><circle class="R" cx="158.3" cy="114.6" r="2.5"/><circle class="M" cx="135.1" cy="142.1" r="2.6"/><circle class="C" cx="196.3" cy="109.8" r="5.6"/><circle class="J" cx="181.2" cy="142.9" r="3.0"/><circle class="C" cx="176.6" cy="124.9" r="3.0"/><circle class="F" cx="162.8" cy="132.9" r="2.7"/><circle class="I" cx="84.4" cy="142.0" r="2.9"/><circle class="N" cx="161.1" cy="143.1" r="2.7"/><circle class="C" cx="175.6" cy="125.6" r="2.7"/><circle class="G" cx="219.9" cy="122.3" r="3.7"/><circle class="C" cx="82.0" cy="84.7" r="4.3"/><circle class="I" cx="145.4" cy="132.5" r="2.6"/><circle class="C" cx="229.9" cy="138.1" r="2.8"/><circle class="B" cx="203.1" cy="138.4" r="2.8"/><circle class="C" cx="260.3" cy="99.0" r="5.8"/><circle class="C" cx="143.7" cy="131.7" r="3.4"/><circle class="J" cx="177.3" cy="140.9" r="2.9"/><circle class="J" cx="237.8" cy="135.3" r="2.5"/><circle class="C" cx="184.9" cy="110.1" r="3.9"/><circle class="N" cx="180.4" cy="134.0" r="2.5"/><circle class="C" cx="146.4" cy="137.7" r="2.6"/><circle class="J" cx="174.3" cy="103.2" r="3.3"/><circle class="C" cx="235.6" cy="130.5" r="3.5"/><circle class="J" cx="168.7" cy="129.0" r="2.9"/><circle class="J" cx="144.1" cy="132.1" r="3.1"/><circle class="C" cx="169.2" cy="108.2" r="3.9"/><circle class="I" cx="297.8" cy="140.7" r="2.9"/><circle class="C" cx="218.4" cy="127.2" r="3.7"/><circle class="C" cx="226.2" cy="94.7" r="5.2"/><circle class="M" cx="146.7" cy="126.1" r="2.8"/><circle class="C" cx="187.8" cy="127.5" r="3.3"/><circle class="E" cx="205.2" cy="145.1" r="2.6"/><circle class="G" cx="214.9" cy="116.1" r="3.1"/><circle class="L" cx="162.0" cy="105.3" r="2.7"/><circle class="G" cx="126.1" cy="149.8" r="2.5"/><circle class="G" cx="209.6" cy="119.6" r="4.4"/><circle class="C" cx="191.3" cy="109.5" r="3.7"/><circle class="F" cx="200.6" cy="106.0" r="2.8"/><circle class="M" cx="130.6" cy="130.2" r="3.0"/><circle class="J" cx="185.0" cy="127.7" r="2.8"/><circle class="C" cx="149.3" cy="133.4" r="2.7"/><circle class="C" cx="105.7" cy="135.1" r="2.7"/><circle class="M" cx="123.6" cy="129.8" r="2.9"/><circle class="R" cx="178.7" cy="114.2" r="2.6"/><circle class="C" cx="96.5" cy="128.1" r="2.5"/><circle class="G" cx="163.0" cy="128.3" r="2.7"/><circle class="C" cx="194.8" cy="94.5" r="3.4"/><circle class="C" cx="259.8" cy="139.1" r="3.5"/><circle class="G" cx="162.4" cy="88.4" r="4.9"/><circle class="F" cx="190.7" cy="109.4" r="3.9"/><circle class="C" cx="112.9" cy="133.6" r="2.9"/><circle class="E" cx="240.9" cy="116.4" r="4.1"/><circle class="C" cx="135.8" cy="121.9" r="3.0"/><circle class="G" cx="206.1" cy="114.0" r="2.7"/><circle class="M" cx="180.3" cy="126.9" r="2.9"/><circle class="G" cx="184.3" cy="136.8" r="2.9"/><circle class="E" cx="120.5" cy="107.5" r="3.6"/><circle class="E" cx="158.2" cy="135.8" r="3.1"/><circle class="C" cx="273.6" cy="131.1" r="3.2"/><circle class="F" cx="190.6" cy="143.7" r="2.5"/><circle class="F" cx="222.3" cy="121.2" r="2.6"/><circle class="J" cx="194.7" cy="139.2" r="3.4"/><circle class="C" cx="142.5" cy="159.3" r="2.9"/><circle class="C" cx="189.1" cy="105.2" r="5.7"/><circle class="J" cx="190.0" cy="101.7" r="3.2"/><circle class="C" cx="75.1" cy="131.1" r="2.6"/><circle class="G" cx="246.0" cy="119.0" r="3.7"/><circle class="C" cx="129.5" cy="119.6" r="2.8"/><circle class="G" cx="153.8" cy="112.8" r="4.0"/><circle class="G" cx="162.0" cy="139.3" r="3.0"/><circle class="J" cx="97.3" cy="116.5" r="3.6"/><circle class="E" cx="179.0" cy="160.9" r="3.0"/><circle class="C" cx="88.7" cy="111.7" r="4.5"/><circle class="G" cx="163.7" cy="134.1" r="2.9"/><circle class="N" cx="123.3" cy="114.4" r="3.7"/><circle class="N" cx="166.7" cy="120.9" r="2.5"/><circle class="G" cx="215.9" cy="136.1" r="3.0"/><circle class="C" cx="73.4" cy="97.8" r="4.7"/><circle class="G" cx="190.4" cy="122.1" r="3.3"/><circle class="N" cx="171.8" cy="128.0" r="2.8"/><circle class="C" cx="180.8" cy="98.4" r="6.0"/><circle class="C" cx="100.7" cy="124.2" r="3.8"/><circle class="L" cx="166.9" cy="135.9" r="2.9"/><circle class="E" cx="244.0" cy="134.8" r="2.7"/><circle class="C" cx="233.2" cy="119.9" r="3.9"/><circle class="C" cx="219.4" cy="118.7" r="3.2"/><circle class="G" cx="145.7" cy="117.8" r="2.8"/><circle class="C" cx="203.9" cy="139.8" r="2.8"/><circle class="H" cx="163.4" cy="98.3" r="5.0"/><circle class="H" cx="216.7" cy="130.3" r="2.6"/><circle class="C" cx="100.1" cy="115.6" r="4.1"/><circle class="J" cx="128.2" cy="138.4" r="2.5"/><circle class="H" cx="156.0" cy="102.2" r="3.7"/><circle class="F" cx="189.8" cy="121.0" r="3.7"/><circle class="C" cx="190.1" cy="99.3" r="5.3"/><circle class="E" cx="143.3" cy="105.6" r="4.5"/><circle class="C" cx="212.9" cy="109.2" r="4.6"/><circle class="C" cx="197.6" cy="171.9" r="2.7"/><circle class="C" cx="204.5" cy="134.9" r="2.5"/><circle class="G" cx="172.3" cy="139.0" r="2.8"/><circle class="M" cx="109.6" cy="150.6" r="2.6"/><circle class="F" cx="200.8" cy="119.5" r="4.1"/><circle class="M" cx="182.1" cy="127.4" r="3.3"/><circle class="N" cx="191.7" cy="134.0" r="3.1"/><circle class="C" cx="237.7" cy="76.7" r="6.0"/><circle class="H" cx="121.2" cy="121.9" r="3.7"/><circle class="N" cx="187.0" cy="123.4" r="2.7"/><circle class="G" cx="161.4" cy="123.3" r="3.0"/><circle class="G" cx="238.8" cy="132.2" r="3.1"/><circle class="M" cx="196.5" cy="117.7" r="4.5"/><circle class="C" cx="163.7" cy="146.8" r="2.7"/><circle class="G" cx="150.0" cy="103.4" r="3.5"/><circle class="M" cx="218.0" cy="132.4" r="2.9"/><circle class="I" cx="183.2" cy="105.8" r="3.6"/><circle class="H" cx="186.3" cy="144.1" r="2.8"/><circle class="J" cx="147.4" cy="136.2" r="2.6"/><circle class="C" cx="133.3" cy="115.1" r="2.8"/><circle class="C" cx="197.3" cy="133.6" r="3.8"/><circle class="C" cx="107.5" cy="136.9" r="2.8"/><circle class="M" cx="246.5" cy="105.2" r="3.9"/><circle class="G" cx="169.4" cy="126.8" r="4.6"/><circle class="G" cx="56.3" cy="108.4" r="3.3"/><circle class="S" cx="123.2" cy="135.8" r="2.8"/><circle class="M" cx="250.4" cy="110.8" r="3.2"/><circle class="J" cx="218.0" cy="119.2" r="3.0"/><circle class="L" cx="221.5" cy="100.2" r="5.0"/><circle class="G" cx="176.5" cy="142.5" r="2.5"/><circle class="I" cx="152.2" cy="166.9" r="2.6"/><circle class="C" cx="234.1" cy="112.0" r="4.4"/><circle class="F" cx="293.1" cy="144.5" r="3.4"/><circle class="J" cx="269.3" cy="141.7" r="2.8"/><circle class="Q" cx="214.4" cy="137.1" r="2.6"/><circle class="M" cx="209.0" cy="125.6" r="2.7"/><circle class="J" cx="221.9" cy="131.6" r="2.6"/><circle class="G" cx="142.2" cy="128.9" r="4.1"/><circle class="N" cx="131.0" cy="131.9" r="2.7"/><circle class="J" cx="165.9" cy="113.7" r="3.7"/><circle class="G" cx="149.9" cy="124.1" r="2.5"/><circle class="N" cx="201.2" cy="130.1" r="3.1"/><circle class="C" cx="120.6" cy="116.0" r="3.4"/><circle class="F" cx="181.3" cy="150.7" r="2.7"/><circle class="C" cx="186.5" cy="129.6" r="3.0"/><circle class="I" cx="159.0" cy="130.8" r="3.1"/><circle class="N" cx="147.3" cy="108.7" r="3.4"/><circle class="C" cx="227.0" cy="145.6" r="2.5"/><circle class="C" cx="135.3" cy="98.6" r="5.2"/><circle class="C" cx="181.3" cy="126.2" r="3.7"/><circle class="G" cx="202.1" cy="126.1" r="3.5"/><circle class="F" cx="208.7" cy="127.0" r="3.2"/><circle class="G" cx="244.0" cy="133.4" r="2.7"/><circle class="G" cx="177.4" cy="114.2" r="4.2"/><circle class="C" cx="119.4" cy="130.2" r="3.6"/><circle class="C" cx="215.6" cy="130.6" r="3.2"/><circle class="C" cx="176.0" cy="130.4" r="3.1"/><circle class="E" cx="160.9" cy="115.6" r="4.4"/><circle class="H" cx="205.6" cy="109.5" r="2.7"/><circle class="G" cx="131.8" cy="131.0" r="3.3"/><circle class="Q" cx="173.3" cy="96.6" r="4.4"/><circle class="J" cx="191.1" cy="142.1" r="3.6"/><circle class="C" cx="230.6" cy="129.4" r="2.6"/><circle class="C" cx="89.7" cy="135.9" r="3.1"/><circle class="G" cx="215.8" cy="138.5" r="2.6"/><circle class="G" cx="191.3" cy="105.0" r="4.9"/><circle class="C" cx="170.6" cy="90.3" r="4.8"/><circle class="C" cx="103.8" cy="123.0" r="3.5"/><circle class="L" cx="161.0" cy="129.2" r="2.6"/><circle class="M" cx="266.8" cy="126.1" r="3.8"/><circle class="G" cx="203.5" cy="141.7" r="2.8"/><circle class="C" cx="191.7" cy="93.7" r="3.5"/><circle class="C" cx="226.7" cy="123.6" r="3.2"/><circle class="F" cx="95.6" cy="133.7" r="3.4"/><circle class="I" cx="151.6" cy="143.9" r="3.2"/><circle class="G" cx="220.8" cy="123.5" r="3.8"/><circle class="C" cx="137.5" cy="98.3" r="4.2"/><circle class="I" cx="109.4" cy="139.1" r="2.5"/><circle class="G" cx="140.9" cy="163.0" r="2.6"/><circle class="E" cx="146.8" cy="92.6" r="4.0"/><circle class="C" cx="80.9" cy="134.8" r="3.7"/><circle class="C" cx="131.3" cy="132.5" r="3.0"/><circle class="G" cx="182.1" cy="133.0" r="3.0"/><circle class="G" cx="202.2" cy="133.5" r="2.6"/><circle class="L" cx="180.6" cy="137.1" r="3.2"/><circle class="G" cx="204.6" cy="136.7" r="3.3"/><circle class="G" cx="143.7" cy="164.3" r="2.5"/><circle class="C" cx="74.3" cy="112.6" r="3.9"/><circle class="Q" cx="169.0" cy="132.4" r="2.7"/><circle class="C" cx="171.8" cy="131.4" r="2.7"/><circle class="J" cx="125.7" cy="128.8" r="3.2"/><circle class="C" cx="108.1" cy="124.6" r="3.6"/><circle class="C" cx="168.0" cy="129.9" r="2.5"/><circle class="C" cx="207.0" cy="120.4" r="3.5"/><circle class="C" cx="137.5" cy="128.2" r="2.6"/><circle class="C" cx="173.3" cy="124.4" r="3.3"/><circle class="G" cx="212.3" cy="125.0" r="4.3"/><circle class="C" cx="289.0" cy="91.2" r="3.5"/><circle class="C" cx="111.1" cy="149.0" r="3.2"/><circle class="C" cx="261.8" cy="110.1" r="5.9"/><circle class="C" cx="169.8" cy="136.1" r="3.1"/><circle class="C" cx="101.4" cy="92.1" r="5.7"/><circle class="L" cx="190.5" cy="130.3" r="3.4"/><circle class="G" cx="160.1" cy="132.2" r="2.7"/><circle class="C" cx="207.6" cy="137.0" r="2.6"/><circle class="G" cx="168.7" cy="93.7" r="4.1"/><circle class="C" cx="167.7" cy="121.0" r="3.3"/><circle class="F" cx="226.4" cy="98.3" r="3.4"/><circle class="C" cx="252.3" cy="120.4" r="3.3"/><circle class="I" cx="138.8" cy="127.8" r="3.1"/><circle class="C" cx="211.7" cy="120.6" r="4.0"/><circle class="J" cx="186.2" cy="122.8" r="2.8"/><circle class="M" cx="140.8" cy="107.7" r="4.4"/><circle class="C" cx="154.7" cy="129.4" r="3.4"/><circle class="C" cx="200.8" cy="111.1" r="3.6"/><circle class="N" cx="192.9" cy="130.3" r="3.4"/><circle class="M" cx="84.5" cy="135.2" r="2.5"/><circle class="C" cx="136.4" cy="121.7" r="4.5"/><circle class="J" cx="148.0" cy="119.5" r="3.1"/><circle class="J" cx="112.3" cy="107.4" r="2.7"/><circle class="G" cx="116.9" cy="135.8" r="2.7"/><circle class="C" cx="126.1" cy="124.6" r="4.3"/><circle class="L" cx="180.9" cy="123.1" r="2.7"/><circle class="N" cx="160.1" cy="139.5" r="2.9"/><circle class="C" cx="125.8" cy="99.8" r="4.1"/><circle class="R" cx="176.3" cy="115.8" r="4.3"/><circle class="G" cx="153.8" cy="134.1" r="2.9"/><circle class="G" cx="153.6" cy="130.3" r="2.8"/><circle class="H" cx="212.8" cy="119.1" r="3.2"/><circle class="C" cx="59.6" cy="128.9" r="3.1"/><circle class="M" cx="127.6" cy="110.6" r="3.9"/><circle class="N" cx="173.7" cy="127.5" r="2.5"/><circle class="J" cx="201.0" cy="155.8" r="2.5"/><circle class="Q" cx="176.6" cy="125.6" r="3.0"/><circle class="M" cx="130.3" cy="123.0" r="2.9"/><circle class="C" cx="257.9" cy="115.3" r="3.2"/><circle class="G" cx="108.2" cy="127.2" r="2.7"/><circle class="C" cx="190.5" cy="152.7" r="2.5"/><circle class="J" cx="123.5" cy="125.7" r="3.3"/><circle class="M" cx="159.4" cy="111.1" r="3.4"/><circle class="M" cx="212.2" cy="123.5" r="3.2"/><circle class="R" cx="131.8" cy="121.4" r="3.4"/><circle class="J" cx="153.2" cy="119.5" r="3.0"/><circle class="G" cx="123.2" cy="119.8" r="3.0"/><circle class="G" cx="186.3" cy="144.6" r="2.8"/><circle class="Q" cx="191.8" cy="112.2" r="3.4"/><circle class="C" cx="182.9" cy="130.2" r="4.2"/><circle class="J" cx="180.0" cy="125.7" r="2.9"/><circle class="M" cx="154.1" cy="134.6" r="2.8"/><circle class="M" cx="237.6" cy="140.1" r="2.5"/><circle class="N" cx="201.7" cy="92.6" r="5.6"/><circle class="H" cx="210.2" cy="119.2" r="4.7"/><circle class="M" cx="195.2" cy="129.3" r="2.6"/><circle class="C" cx="187.5" cy="138.6" r="2.7"/><circle class="L" cx="160.7" cy="153.1" r="2.7"/><circle class="G" cx="192.6" cy="120.5" r="4.2"/><circle class="M" cx="105.6" cy="135.5" r="3.5"/><circle class="H" cx="160.2" cy="93.8" r="4.9"/><circle class="C" cx="183.1" cy="117.8" r="3.5"/><circle class="N" cx="188.0" cy="191.3" r="1.0"/><circle class="N" cx="180.8" cy="149.9" r="2.1"/><circle class="O" cx="184.1" cy="138.5" r="2.8"/><circle class="O" cx="181.6" cy="202.4" r="1.1"/><circle class="P" cx="185.4" cy="189.1" r="1.4"/><circle class="J" cx="188.6" cy="102.1" r="3.6"/><circle class="R" cx="189.8" cy="197.7" r="1.2"/><circle class="N" cx="180.4" cy="191.1" r="1.7"/><circle class="R" cx="183.4" cy="99.9" r="4.9"/><circle class="Q" cx="186.5" cy="136.3" r="2.0"/><circle class="R" cx="188.7" cy="164.5" r="1.6"/><circle class="Q" cx="185.8" cy="148.6" r="2.4"/><circle class="N" cx="183.0" cy="131.7" r="2.7"/><circle class="J" cx="185.5" cy="174.9" r="1.1"/><circle class="R" cx="184.8" cy="190.2" r="1.5"/><circle class="R" cx="184.3" cy="117.7" r="2.4"/><circle class="P" cx="183.0" cy="130.9" r="2.9"/><circle class="O" cx="185.8" cy="148.5" r="1.8"/><circle class="Q" cx="185.6" cy="114.5" r="2.5"/><circle class="P" cx="184.6" cy="144.4" r="2.6"/><circle class="N" cx="184.3" cy="96.2" r="4.6"/><circle class="P" cx="181.6" cy="182.8" r="0.9"/><circle class="O" cx="183.6" cy="143.9" r="2.3"/><circle class="R" cx="187.8" cy="151.7" r="1.6"/><circle class="O" cx="184.3" cy="166.2" r="0.9"/><circle class="Q" cx="181.2" cy="139.6" r="1.8"/><circle class="J" cx="188.1" cy="179.4" r="1.3"/><circle class="N" cx="186.1" cy="116.2" r="3.8"/><circle class="J" cx="190.0" cy="108.9" r="3.8"/><circle class="Q" cx="185.0" cy="191.2" r="1.1"/><circle class="N" cx="183.7" cy="153.5" r="1.9"/><circle class="P" cx="181.2" cy="174.7" r="1.2"/><circle class="Q" cx="188.1" cy="196.3" r="1.3"/><circle class="Q" cx="191.2" cy="105.7" r="3.9"/><circle class="O" cx="182.8" cy="157.7" r="1.7"/><circle class="N" cx="183.2" cy="189.1" r="1.2"/><circle class="P" cx="186.3" cy="130.5" r="2.0"/><circle class="Q" cx="182.7" cy="183.0" r="1.0"/><circle class="P" cx="184.1" cy="105.1" r="5.4"/><circle class="Q" cx="183.9" cy="181.4" r="1.3"/><circle class="N" cx="185.3" cy="201.9" r="0.9"/><circle class="P" cx="187.5" cy="183.2" r="1.2"/><circle class="J" cx="184.9" cy="167.0" r="1.2"/><circle class="N" cx="187.1" cy="153.3" r="1.8"/><circle class="N" cx="183.8" cy="104.6" r="3.3"/><circle class="N" cx="185.6" cy="127.9" r="2.9"/><circle class="Q" cx="179.5" cy="167.8" r="0.9"/><circle class="M" cx="181.2" cy="203.7" r="1.2"/><circle class="N" cx="186.8" cy="187.8" r="1.0"/><circle class="M" cx="183.3" cy="94.5" r="3.0"/><circle class="P" cx="186.2" cy="154.3" r="1.6"/><circle class="N" cx="186.1" cy="128.6" r="2.4"/><circle class="Q" cx="188.1" cy="199.5" r="1.0"/><circle class="N" cx="186.8" cy="201.8" r="0.7"/><circle class="R" cx="187.3" cy="111.3" r="3.8"/><circle class="P" cx="184.5" cy="140.1" r="4.9"/><circle class="N" cx="183.1" cy="171.2" r="1.0"/><circle class="N" cx="183.0" cy="170.2" r="1.4"/><circle class="J" cx="183.6" cy="195.6" r="0.9"/><circle class="R" cx="182.0" cy="186.3" r="1.2"/><circle class="Q" cx="183.4" cy="202.8" r="0.6"/><circle class="Q" cx="184.6" cy="112.1" r="2.7"/><circle class="R" cx="185.4" cy="153.6" r="1.9"/><circle class="M" cx="184.0" cy="191.4" r="1.0"/><circle class="N" cx="180.0" cy="123.2" r="4.3"/><circle class="N" cx="184.6" cy="183.8" r="1.0"/><circle class="Q" cx="185.4" cy="198.7" r="1.0"/><circle class="P" cx="187.5" cy="138.9" r="4.3"/><circle class="N" cx="186.2" cy="105.7" r="3.2"/><circle class="N" cx="183.2" cy="202.6" r="0.7"/><circle class="N" cx="183.0" cy="115.8" r="3.3"/><circle class="Q" cx="189.8" cy="184.4" r="1.1"/><circle class="R" cx="186.7" cy="195.2" r="1.2"/><circle class="P" cx="189.3" cy="203.6" r="0.9"/><circle class="N" cx="190.1" cy="172.9" r="1.1"/><circle class="N" cx="182.8" cy="124.5" r="3.0"/><circle class="Q" cx="185.8" cy="150.6" r="3.2"/><circle class="J" cx="185.9" cy="110.5" r="4.8"/><circle class="J" cx="186.2" cy="181.4" r="0.6"/><circle class="Q" cx="186.1" cy="170.5" r="1.3"/><circle class="J" cx="185.3" cy="176.8" r="1.0"/><circle class="J" cx="185.2" cy="96.5" r="4.9"/><circle class="Q" cx="181.1" cy="100.7" r="3.9"/><circle class="R" cx="184.4" cy="167.6" r="2.1"/><circle class="Q" cx="182.9" cy="157.0" r="2.0"/><circle class="R" cx="184.5" cy="199.4" r="7.0"/><circle class="Q" cx="183.8" cy="185.5" r="3.5"/><circle class="Q" cx="184.5" cy="215.5" r="3.0"/><circle class="R" cx="202.0" cy="212.6" r="3.0"/><circle class="G" cx="184.8" cy="279.5" r="2.2"/><circle class="R" cx="149.6" cy="164.7" r="4.0"/><circle class="N" cx="143.4" cy="157.2" r="3.0"/><circle class="N" cx="181.9" cy="143.6" r="4.0"/><circle class="O" cx="170.7" cy="144.8" r="3.5"/><circle class="N" cx="212.9" cy="152.3" r="3.0"/><circle class="Q" cx="209.2" cy="143.6" r="4.0"/><circle class="M" cx="184.6" cy="276.0" r="1.8"/><circle class="B" cx="184.5" cy="288.5" r="1.2"/><circle class="G" cx="185.2" cy="271.0" r="1.5"/><circle class="M" cx="184.3" cy="266.0" r="1.4"/><circle class="G" cx="184.9" cy="262.0" r="1.5"/><circle class="M" cx="184.5" cy="284.0" r="1.0"/><circle class="S" cx="183.2" cy="292.0" r="0.6"/><circle class="N" cx="188.5" cy="304.0" r="0.6"/><circle class="J" cx="193.0" cy="308.0" r="0.6"/><circle class="L" cx="185.0" cy="311.0" r="0.7"/><circle class="Q" cx="178.7" cy="181.2" r="2.0"/><circle class="S" cx="165.5" cy="173.9" r="3.0"/><circle class="O" cx="229.0" cy="202.0" r="3.0"/></g>
</svg>
<rect x="41.7" y="13.4" width="307.60" height="307.50" fill="none" stroke="#222" stroke-width="1"/>
<path d="M43.20 320.9v5M78.60 320.9v5M114.00 320.9v5M149.40 320.9v5M184.80 320.9v5M220.20 320.9v5M255.60 320.9v5M291.00 320.9v5M326.40 320.9v5M41.7 320.90h-5.3M41.7 309.33h-2.7M41.7 302.56h-2.7M41.7 297.76h-2.7M41.7 294.03h-2.7M41.7 290.99h-2.7M41.7 288.42h-2.7M41.7 286.19h-2.7M41.7 284.22h-2.7M41.7 282.46h-5.3M41.7 270.89h-2.7M41.7 264.12h-2.7M41.7 259.32h-2.7M41.7 255.60h-2.7M41.7 252.55h-2.7M41.7 249.98h-2.7M41.7 247.75h-2.7M41.7 245.78h-2.7M41.7 244.03h-5.3M41.7 232.45h-2.7M41.7 225.69h-2.7M41.7 220.88h-2.7M41.7 217.16h-2.7M41.7 214.11h-2.7M41.7 211.54h-2.7M41.7 209.31h-2.7M41.7 207.35h-2.7M41.7 205.59h-5.3M41.7 194.02h-2.7M41.7 187.25h-2.7M41.7 182.45h-2.7M41.7 178.72h-2.7M41.7 175.68h-2.7M41.7 173.10h-2.7M41.7 170.87h-2.7M41.7 168.91h-2.7M41.7 167.15h-5.3M41.7 155.58h-2.7M41.7 148.81h-2.7M41.7 144.01h-2.7M41.7 140.28h-2.7M41.7 137.24h-2.7M41.7 134.67h-2.7M41.7 132.44h-2.7M41.7 130.47h-2.7M41.7 128.71h-5.3M41.7 117.14h-2.7M41.7 110.37h-2.7M41.7 105.57h-2.7M41.7 101.85h-2.7M41.7 98.80h-2.7M41.7 96.23h-2.7M41.7 94.00h-2.7M41.7 92.03h-2.7M41.7 90.28h-5.3M41.7 78.70h-2.7M41.7 71.94h-2.7M41.7 67.13h-2.7M41.7 63.41h-2.7M41.7 60.36h-2.7M41.7 57.79h-2.7M41.7 55.56h-2.7M41.7 53.60h-2.7M41.7 51.84h-5.3M41.7 40.27h-2.7M41.7 33.50h-2.7M41.7 28.70h-2.7M41.7 24.97h-2.7M41.7 21.93h-2.7M41.7 19.35h-2.7M41.7 17.12h-2.7M41.7 15.16h-2.7M41.7 13.40h-5.3" stroke="#000" stroke-width="1" fill="none"/>
<text x="43.20" y="336.6" font-size="7.6" text-anchor="middle">−0.20</text>
<text x="78.60" y="336.6" font-size="7.6" text-anchor="middle">−0.15</text>
<text x="114.00" y="336.6" font-size="7.6" text-anchor="middle">−0.10</text>
<text x="149.40" y="336.6" font-size="7.6" text-anchor="middle">−0.05</text>
<text x="184.80" y="336.6" font-size="7.6" text-anchor="middle">0.00</text>
<text x="220.20" y="336.6" font-size="7.6" text-anchor="middle">0.05</text>
<text x="255.60" y="336.6" font-size="7.6" text-anchor="middle">0.10</text>
<text x="291.00" y="336.6" font-size="7.6" text-anchor="middle">0.15</text>
<text x="326.40" y="336.6" font-size="7.6" text-anchor="middle">0.20</text>
<text x="27.4" y="325.40" font-size="8" text-anchor="end">10</text>
<text x="28" y="320.20" font-size="5.8">1</text>
<text x="27.4" y="286.96" font-size="8" text-anchor="end">10</text>
<text x="28" y="281.76" font-size="5.8">2</text>
<text x="27.4" y="248.53" font-size="8" text-anchor="end">10</text>
<text x="28" y="243.33" font-size="5.8">3</text>
<text x="27.4" y="210.09" font-size="8" text-anchor="end">10</text>
<text x="28" y="204.89" font-size="5.8">4</text>
<text x="27.4" y="171.65" font-size="8" text-anchor="end">10</text>
<text x="28" y="166.45" font-size="5.8">5</text>
<text x="27.4" y="133.21" font-size="8" text-anchor="end">10</text>
<text x="28" y="128.01" font-size="5.8">6</text>
<text x="27.4" y="94.78" font-size="8" text-anchor="end">10</text>
<text x="28" y="89.58" font-size="5.8">7</text>
<text x="27.4" y="56.34" font-size="8" text-anchor="end">10</text>
<text x="28" y="51.14" font-size="5.8">8</text>
<text x="27.4" y="17.90" font-size="8" text-anchor="end">10</text>
<text x="28" y="12.70" font-size="5.8">9</text>
<text x="142.3" y="352.5" font-size="9.8">decarbonization trend <tspan font-style="italic" font-family='"Liberation Serif", serif' font-size="10.5">δ</tspan><tspan font-size="6.5" dy="1.8" font-style="italic" font-family='"Liberation Serif", serif'>i</tspan></text>
<text transform="translate(8.9 251.8) rotate(-90)" font-size="9.9">avg. low-carbon consumption <tspan font-style="italic" font-family='"Liberation Serif", serif' font-size="10.5">L</tspan><tspan font-size="6.5" dy="1.8" font-style="italic" font-family='"Liberation Serif", serif'>i</tspan><tspan dy="-1.8"> [kWh]</tspan></text>
<text x="16.8" y="6" font-size="10.5" font-weight="bold">a</text>
<rect x="0" y="111.4" width="0.95" height="10" fill="#333"/>
<text x="49.3" y="246.6" font-size="9.1">revenue [EUR]</text>
<circle cx="64.8" cy="256.3" r="0.45" fill="#444"/>
<text x="81.5" y="259.5" font-size="9.1">&lt;1M</text>
<circle cx="64.8" cy="269.1" r="0.8" fill="#444"/>
<text x="81.5" y="272.3" font-size="9.1">1M</text>
<circle cx="64.8" cy="282.1" r="1.45" fill="none" stroke="#444" stroke-width="0.75"/>
<text x="81.5" y="285.3" font-size="9.1">10M</text>
<circle cx="64.8" cy="294.9" r="3.45" fill="none" stroke="#444" stroke-width="0.75"/>
<text x="81.5" y="298.1" font-size="9.1">100M</text>
<circle cx="64.8" cy="307.6" r="4.55" fill="none" stroke="#444" stroke-width="0.75"/>
<text x="81.5" y="310.8" font-size="9.1">&gt;1B</text>
<text x="521.2" y="55.1" font-size="9.1" text-anchor="middle">industry sector</text>
<text x="521.2" y="65.0" font-size="9.1" text-anchor="middle">(NACE 1-digit)</text>
<circle cx="372.8" cy="74.90" r="4.5" fill="#28b228"/>
<text x="389.1" y="77.80" font-size="9.1">A - AGRICULTURE, FORESTRY AND FISHING</text>
<circle cx="372.8" cy="87.75" r="4.5" fill="#fa3c2d"/>
<text x="389.1" y="90.65" font-size="9.1">B - MINING AND QUARRYING</text>
<circle cx="372.8" cy="100.60" r="4.5" fill="#c8287a"/>
<text x="389.1" y="103.50" font-size="9.1">C - MANUFACTURING</text>
<circle cx="372.8" cy="113.45" r="4.5" fill="#ff7a10"/>
<text x="389.1" y="116.35" font-size="9.1">E - WATER SUPPLY; SEWERAGE, WASTE MANAGEMENT AND RE...</text>
<circle cx="372.8" cy="126.30" r="4.5" fill="#2dd4c4"/>
<text x="389.1" y="129.20" font-size="9.1">F - CONSTRUCTION</text>
<circle cx="372.8" cy="139.15" r="4.5" fill="#8a2be2"/>
<text x="389.1" y="142.05" font-size="9.1">G - WHOLESALE AND RETAIL TRADE; REPAIR OF MOTOR VEH...</text>
<circle cx="372.8" cy="152.00" r="4.5" fill="#ffaad0"/>
<text x="389.1" y="154.90" font-size="9.1">H - TRANSPORTATION AND STORAGE</text>
<circle cx="372.8" cy="164.85" r="4.5" fill="#fff030"/>
<text x="389.1" y="167.75" font-size="9.1">I - ACCOMMODATION AND FOOD SERVICE ACTIVITIES</text>
<circle cx="372.8" cy="177.70" r="4.5" fill="#4488ff"/>
<text x="389.1" y="180.60" font-size="9.1">J - INFORMATION AND COMMUNICATION</text>
<circle cx="372.8" cy="190.55" r="4.5" fill="#d4aa3a"/>
<text x="389.1" y="193.45" font-size="9.1">L - REAL ESTATE ACTIVITIES</text>
<circle cx="372.8" cy="203.40" r="4.5" fill="#c066e0"/>
<text x="389.1" y="206.30" font-size="9.1">M - PROFESSIONAL, SCIENTIFIC AND TECHNICAL ACTIVITIES</text>
<circle cx="372.8" cy="216.25" r="4.5" fill="#9aa0a8"/>
<text x="389.1" y="219.15" font-size="9.1">N - ADMINISTRATIVE AND SUPPORT SERVICE ACTIVITIES</text>
<circle cx="372.8" cy="229.10" r="4.5" fill="#b8eccc"/>
<text x="389.1" y="232.00" font-size="9.1">O - PUBLIC ADMINISTRATION AND DEFENCE; COMPULSORY S...</text>
<circle cx="372.8" cy="241.95" r="4.5" fill="#b4dcff"/>
<text x="389.1" y="244.85" font-size="9.1">P - EDUCATION</text>
<circle cx="372.8" cy="254.80" r="4.5" fill="#e4e6e8"/>
<text x="389.1" y="257.70" font-size="9.1">Q - HUMAN HEALTH AND SOCIAL WORK ACTIVITIES</text>
<circle cx="372.8" cy="267.65" r="4.5" fill="#dcc8ff"/>
<text x="389.1" y="270.55" font-size="9.1">R - ARTS, ENTERTAINMENT AND RECREATION</text>
<circle cx="372.8" cy="280.50" r="4.5" fill="#66d888"/>
<text x="389.1" y="283.40" font-size="9.1">S - OTHER SERVICE ACTIVITIES</text>
<path d="M41.8 644.30H684.2M41.8 609.58H684.2M41.8 574.86H684.2M41.8 540.14H684.2M41.8 505.42H684.2M41.8 470.70H684.2M41.8 435.98H684.2M41.8 401.26H684.2" stroke="#e2e2e2" stroke-width="0.9" fill="none"/>
<path d="M45.70 635.27V644.30M43.70 644.30h4M45.70 600.90V550.56M43.70 550.56h4M53.73 635.97V644.30M51.73 644.30h4M53.73 616.87V595.00M51.73 595.00h4M61.77 618.95V638.05M59.77 638.05h4M61.77 592.22V560.62M59.77 560.62h4M69.81 635.62V644.30M67.81 644.30h4M69.81 602.64V552.64M67.81 552.64h4M77.84 640.83V644.30M75.84 644.30h4M77.84 559.24V505.42M75.84 505.42h4M109.98 616.52V643.61M107.98 643.61h4M109.98 545.00V440.49M107.98 440.49h4M118.02 622.43V644.30M116.02 644.30h4M118.02 578.33V514.45M116.02 514.45h4M126.05 625.55V644.30M124.05 644.30h4M126.05 569.65V488.75M124.05 488.75h4M134.09 624.51V644.30M132.09 644.30h4M134.09 572.43V494.66M132.09 494.66h4M142.12 627.29V643.61M140.12 643.61h4M142.12 583.54V520.00M140.12 520.00h4M150.16 619.30V644.30M148.16 644.30h4M150.16 553.33V456.12M148.16 456.12h4M158.19 631.80V644.30M156.19 644.30h4M158.19 596.73V543.61M156.19 543.61h4M166.23 624.51V644.30M164.23 644.30h4M166.23 550.56V440.15M164.23 440.15h4M174.26 621.38V642.22M172.26 642.22h4M174.26 559.93V467.23M172.26 467.23h4M182.30 615.48V641.52M180.30 641.52h4M182.30 525.90V416.88M180.30 416.88h4M190.33 626.94V644.30M188.33 644.30h4M190.33 576.60V499.17M188.33 499.17h4M198.37 621.73V643.26M196.37 643.26h4M198.37 557.50V460.28M196.37 460.28h4M206.40 610.62V637.70M204.40 637.70h4M206.40 565.14V498.48M204.40 498.48h4M214.44 620.34V643.26M212.44 643.26h4M214.44 578.33V529.38M212.44 529.38h4M222.47 618.61V643.95M220.47 643.95h4M222.47 575.21V512.36M220.47 512.36h4M230.50 624.86V641.87M228.50 641.87h4M230.50 523.82V431.12M228.50 431.12h4M238.54 623.47V644.30M236.54 644.30h4M238.54 570.69V497.43M236.54 497.43h4M246.57 620.69V629.72M244.57 629.72h4M246.57 542.22V435.98M244.57 435.98h4M254.61 612.36V640.83M252.61 640.83h4M254.61 557.50V488.41M252.61 488.41h4M262.64 620.69V642.91M260.64 642.91h4M262.64 572.43V500.21M260.64 500.21h4M270.68 619.65V637.36M268.68 637.36h4M270.68 555.76V492.23M268.68 492.23h4M278.72 631.11V637.36M276.72 637.36h4M278.72 597.43V555.76M276.72 555.76h4M286.75 606.46V615.83M284.75 615.83h4M286.75 569.30V540.14M284.75 540.14h4M294.79 618.95V642.91M292.79 642.91h4M294.79 519.31V456.46M292.79 456.46h4M302.82 637.01V643.95M300.82 643.95h4M302.82 606.11V560.28M300.82 560.28h4M310.86 642.22V644.30M308.86 644.30h4M310.86 560.97V483.20M308.86 483.20h4M318.89 634.93V642.91M316.89 642.91h4M318.89 614.44V588.40M316.89 588.40h4M326.93 631.11V643.95M324.93 643.95h4M326.93 579.72V502.99M324.93 502.99h4M334.96 633.88V644.30M332.96 644.30h4M334.96 589.44V523.82M332.96 523.82h4M343.00 640.83V644.30M341.00 644.30h4M343.00 609.58V564.44M341.00 564.44h4M351.03 618.95V644.30M349.03 644.30h4M351.03 556.81V462.71M349.03 462.71h4M359.06 630.06V644.30M357.06 644.30h4M359.06 585.97V518.96M357.06 518.96h4M367.10 629.02V644.30M365.10 644.30h4M367.10 581.80V509.93M365.10 509.93h4M375.13 631.11V644.30M373.13 644.30h4M375.13 560.97V456.46M373.13 456.46h4M383.17 643.95V644.30M381.17 644.30h4M383.17 628.68V607.50M381.17 607.50h4M391.20 635.27V644.30M389.20 644.30h4M391.20 619.30V610.62M389.20 610.62h4M399.24 617.91V638.74M397.24 638.74h4M399.24 598.47V594.30M397.24 594.30h4M407.27 639.79V644.30M405.27 644.30h4M407.27 583.89V543.26M405.27 543.26h4M415.31 597.43V644.30M413.31 644.30h4M415.31 515.14V414.11M413.31 414.11h4M423.34 617.22V644.30M421.34 644.30h4M423.34 563.75V483.55M421.34 483.55h4M431.38 617.91V644.30M429.38 644.30h4M431.38 563.75V488.75M429.38 488.75h4M439.42 621.73V637.01M437.42 637.01h4M439.42 554.72V483.89M437.42 483.89h4M447.45 618.26V641.87M445.45 641.87h4M447.45 539.45V423.48M445.45 423.48h4M455.49 609.23V636.66M453.49 636.66h4M455.49 569.30V509.93M453.49 509.93h4M463.52 618.61V642.22M461.52 642.22h4M463.52 566.18V499.52M461.52 499.52h4M471.56 600.21V644.30M469.56 644.30h4M471.56 552.99V524.17M469.56 524.17h4M479.59 612.01V644.30M477.59 644.30h4M479.59 543.26V440.15M477.59 440.15h4M487.62 624.51V643.26M485.62 643.26h4M487.62 570.69V489.45M485.62 489.45h4M495.66 616.52V642.56M493.66 642.56h4M495.66 574.86V513.75M493.66 513.75h4M503.69 615.83V640.48M501.69 640.48h4M503.69 569.65V500.91M501.69 500.91h4M511.73 615.48V641.52M509.73 641.52h4M511.73 554.38V477.64M509.73 477.64h4M519.76 625.20V642.22M517.76 642.22h4M519.76 566.53V490.49M517.76 490.49h4M527.80 620.69V640.13M525.80 640.13h4M527.80 567.57V489.10M525.80 489.10h4M535.84 616.52V641.18M533.84 641.18h4M535.84 556.46V477.64M533.84 477.64h4M543.87 633.19V643.26M541.87 643.26h4M543.87 589.44V523.82M541.87 523.82h4M551.90 623.12V644.30M549.90 644.30h4M551.90 556.11V456.12M549.90 456.12h4M559.94 622.43V643.26M557.94 643.26h4M559.94 553.33V460.28M557.94 460.28h4M567.98 624.16V642.22M565.98 642.22h4M567.98 571.39V505.07M565.98 505.07h4M576.01 613.75V644.30M574.01 644.30h4M576.01 549.51V457.85M574.01 457.85h4M584.05 625.20V639.44M582.05 639.44h4M584.05 583.54V532.50M582.05 532.50h4M592.08 624.16V639.44M590.08 639.44h4M592.08 596.73V566.18M590.08 566.18h4M600.12 622.43V641.52M598.12 641.52h4M600.12 574.51V501.95M598.12 501.95h4M608.15 618.61V644.30M606.15 644.30h4M608.15 564.79V498.48M606.15 498.48h4M616.19 620.69V635.62M614.19 635.62h4M616.19 592.91V562.01M614.19 562.01h4M624.22 599.16V622.43M622.22 622.43h4M624.22 548.47V545.70M622.22 545.70h4M632.26 619.30V644.30M630.26 644.30h4M632.26 551.25V463.76M630.26 463.76h4M640.29 624.16V642.91M638.29 642.91h4M640.29 574.51V517.22M638.29 517.22h4M648.33 620.69V637.01M646.33 637.01h4M648.33 582.50V545.00M646.33 545.00h4M656.36 581.11V644.30M654.36 644.30h4M656.36 537.71V526.95M654.36 526.95h4M664.40 625.20V644.30M662.40 644.30h4M664.40 551.60V452.99M662.40 452.99h4M672.43 619.30V643.61M670.43 643.61h4M672.43 573.82V517.22M670.43 517.22h4M680.47 626.94V644.30M678.47 644.30h4M680.47 578.33V505.07M678.47 505.07h4" stroke="#505050" stroke-width="1.1" fill="none"/>
<rect x="42.40" y="600.90" width="6.6" height="34.37" fill="#33a033" stroke="#3f3f3f" stroke-width="1.1"/><path d="M42.40 622.08h6.6" stroke="#3f3f3f" stroke-width="1.2"/><rect x="50.44" y="616.87" width="6.6" height="19.10" fill="#33a033" stroke="#3f3f3f" stroke-width="1.1"/><path d="M50.44 629.37h6.6" stroke="#3f3f3f" stroke-width="1.2"/><rect x="58.47" y="592.22" width="6.6" height="26.73" fill="#33a033" stroke="#3f3f3f" stroke-width="1.1"/><path d="M58.47 607.84h6.6" stroke="#3f3f3f" stroke-width="1.2"/><rect x="66.51" y="602.64" width="6.6" height="32.98" fill="#e85048" stroke="#3f3f3f" stroke-width="1.1"/><path d="M66.51 623.12h6.6" stroke="#3f3f3f" stroke-width="1.2"/><rect x="74.54" y="559.24" width="6.6" height="81.59" fill="#e85048" stroke="#3f3f3f" stroke-width="1.1"/><path d="M74.54 633.19h6.6" stroke="#3f3f3f" stroke-width="1.2"/><path d="M82.58 588.75h6.6" stroke="#3f3f3f" stroke-width="1.2"/><path d="M90.61 630.76h6.6" stroke="#3f3f3f" stroke-width="1.2"/><path d="M98.65 627.98h6.6" stroke="#3f3f3f" stroke-width="1.2"/><rect x="106.68" y="545.00" width="6.6" height="71.52" fill="#be3773" stroke="#3f3f3f" stroke-width="1.1"/><path d="M106.68 593.26h6.6" stroke="#3f3f3f" stroke-width="1.2"/><rect x="114.72" y="578.33" width="6.6" height="44.09" fill="#be3773" stroke="#3f3f3f" stroke-width="1.1"/><path d="M114.72 607.50h6.6" stroke="#3f3f3f" stroke-width="1.2"/><rect x="122.75" y="569.65" width="6.6" height="55.90" fill="#be3773" stroke="#3f3f3f" stroke-width="1.1"/><path d="M122.75 602.29h6.6" stroke="#3f3f3f" stroke-width="1.2"/><rect x="130.78" y="572.43" width="6.6" height="52.08" fill="#be3773" stroke="#3f3f3f" stroke-width="1.1"/><path d="M130.78 606.46h6.6" stroke="#3f3f3f" stroke-width="1.2"/><rect x="138.82" y="583.54" width="6.6" height="43.75" fill="#be3773" stroke="#3f3f3f" stroke-width="1.1"/><path d="M138.82 613.75h6.6" stroke="#3f3f3f" stroke-width="1.2"/><rect x="146.85" y="553.33" width="6.6" height="65.97" fill="#be3773" stroke="#3f3f3f" stroke-width="1.1"/><path d="M146.85 598.82h6.6" stroke="#3f3f3f" stroke-width="1.2"/><rect x="154.89" y="596.73" width="6.6" height="35.07" fill="#be3773" stroke="#3f3f3f" stroke-width="1.1"/><path d="M154.89 616.18h6.6" stroke="#3f3f3f" stroke-width="1.2"/><rect x="162.93" y="550.56" width="6.6" height="73.95" fill="#be3773" stroke="#3f3f3f" stroke-width="1.1"/><path d="M162.93 601.94h6.6" stroke="#3f3f3f" stroke-width="1.2"/><rect x="170.96" y="559.93" width="6.6" height="61.45" fill="#be3773" stroke="#3f3f3f" stroke-width="1.1"/><path d="M170.96 601.94h6.6" stroke="#3f3f3f" stroke-width="1.2"/><rect x="179.00" y="525.90" width="6.6" height="89.58" fill="#be3773" stroke="#3f3f3f" stroke-width="1.1"/><path d="M179.00 579.03h6.6" stroke="#3f3f3f" stroke-width="1.2"/><rect x="187.03" y="576.60" width="6.6" height="50.34" fill="#be3773" stroke="#3f3f3f" stroke-width="1.1"/><path d="M187.03 610.97h6.6" stroke="#3f3f3f" stroke-width="1.2"/><rect x="195.06" y="557.50" width="6.6" height="64.23" fill="#be3773" stroke="#3f3f3f" stroke-width="1.1"/><path d="M195.06 601.59h6.6" stroke="#3f3f3f" stroke-width="1.2"/><rect x="203.10" y="565.14" width="6.6" height="45.48" fill="#be3773" stroke="#3f3f3f" stroke-width="1.1"/><path d="M203.10 589.10h6.6" stroke="#3f3f3f" stroke-width="1.2"/><rect x="211.13" y="578.33" width="6.6" height="42.01" fill="#be3773" stroke="#3f3f3f" stroke-width="1.1"/><path d="M211.13 602.29h6.6" stroke="#3f3f3f" stroke-width="1.2"/><rect x="219.17" y="575.21" width="6.6" height="43.40" fill="#be3773" stroke="#3f3f3f" stroke-width="1.1"/><path d="M219.17 596.73h6.6" stroke="#3f3f3f" stroke-width="1.2"/><rect x="227.20" y="523.82" width="6.6" height="101.04" fill="#be3773" stroke="#3f3f3f" stroke-width="1.1"/><path d="M227.20 599.86h6.6" stroke="#3f3f3f" stroke-width="1.2"/><rect x="235.24" y="570.69" width="6.6" height="52.77" fill="#be3773" stroke="#3f3f3f" stroke-width="1.1"/><path d="M235.24 606.11h6.6" stroke="#3f3f3f" stroke-width="1.2"/><rect x="243.27" y="542.22" width="6.6" height="78.47" fill="#be3773" stroke="#3f3f3f" stroke-width="1.1"/><path d="M243.27 585.97h6.6" stroke="#3f3f3f" stroke-width="1.2"/><rect x="251.31" y="557.50" width="6.6" height="54.86" fill="#be3773" stroke="#3f3f3f" stroke-width="1.1"/><path d="M251.31 587.36h6.6" stroke="#3f3f3f" stroke-width="1.2"/><rect x="259.34" y="572.43" width="6.6" height="48.26" fill="#be3773" stroke="#3f3f3f" stroke-width="1.1"/><path d="M259.34 602.29h6.6" stroke="#3f3f3f" stroke-width="1.2"/><rect x="267.38" y="555.76" width="6.6" height="63.88" fill="#be3773" stroke="#3f3f3f" stroke-width="1.1"/><path d="M267.38 597.43h6.6" stroke="#3f3f3f" stroke-width="1.2"/><rect x="275.42" y="597.43" width="6.6" height="33.68" fill="#be3773" stroke="#3f3f3f" stroke-width="1.1"/><path d="M275.42 619.30h6.6" stroke="#3f3f3f" stroke-width="1.2"/><rect x="283.45" y="569.30" width="6.6" height="37.15" fill="#be3773" stroke="#3f3f3f" stroke-width="1.1"/><path d="M283.45 598.12h6.6" stroke="#3f3f3f" stroke-width="1.2"/><rect x="291.49" y="519.31" width="6.6" height="99.65" fill="#e67e1e" stroke="#3f3f3f" stroke-width="1.1"/><path d="M291.49 594.65h6.6" stroke="#3f3f3f" stroke-width="1.2"/><rect x="299.52" y="606.11" width="6.6" height="30.90" fill="#e67e1e" stroke="#3f3f3f" stroke-width="1.1"/><path d="M299.52 627.63h6.6" stroke="#3f3f3f" stroke-width="1.2"/><rect x="307.56" y="560.97" width="6.6" height="81.24" fill="#e67e1e" stroke="#3f3f3f" stroke-width="1.1"/><path d="M307.56 633.88h6.6" stroke="#3f3f3f" stroke-width="1.2"/><rect x="315.59" y="614.44" width="6.6" height="20.48" fill="#e67e1e" stroke="#3f3f3f" stroke-width="1.1"/><path d="M315.59 626.25h6.6" stroke="#3f3f3f" stroke-width="1.2"/><rect x="323.62" y="579.72" width="6.6" height="51.39" fill="#32b9aa" stroke="#3f3f3f" stroke-width="1.1"/><path d="M323.62 610.97h6.6" stroke="#3f3f3f" stroke-width="1.2"/><rect x="331.66" y="589.44" width="6.6" height="44.44" fill="#32b9aa" stroke="#3f3f3f" stroke-width="1.1"/><path d="M331.66 621.73h6.6" stroke="#3f3f3f" stroke-width="1.2"/><rect x="339.69" y="609.58" width="6.6" height="31.25" fill="#32b9aa" stroke="#3f3f3f" stroke-width="1.1"/><path d="M339.69 634.93h6.6" stroke="#3f3f3f" stroke-width="1.2"/><rect x="347.73" y="556.81" width="6.6" height="62.15" fill="#873ccd" stroke="#3f3f3f" stroke-width="1.1"/><path d="M347.73 596.73h6.6" stroke="#3f3f3f" stroke-width="1.2"/><rect x="355.76" y="585.97" width="6.6" height="44.09" fill="#873ccd" stroke="#3f3f3f" stroke-width="1.1"/><path d="M355.76 615.48h6.6" stroke="#3f3f3f" stroke-width="1.2"/><rect x="363.80" y="581.80" width="6.6" height="47.22" fill="#873ccd" stroke="#3f3f3f" stroke-width="1.1"/><path d="M363.80 611.32h6.6" stroke="#3f3f3f" stroke-width="1.2"/><rect x="371.83" y="560.97" width="6.6" height="70.13" fill="#f5b4d2" stroke="#3f3f3f" stroke-width="1.1"/><path d="M371.83 615.48h6.6" stroke="#3f3f3f" stroke-width="1.2"/><rect x="379.87" y="628.68" width="6.6" height="15.28" fill="#f5b4d2" stroke="#3f3f3f" stroke-width="1.1"/><path d="M379.87 641.87h6.6" stroke="#3f3f3f" stroke-width="1.2"/><rect x="387.90" y="619.30" width="6.6" height="15.97" fill="#f5b4d2" stroke="#3f3f3f" stroke-width="1.1"/><path d="M387.90 626.94h6.6" stroke="#3f3f3f" stroke-width="1.2"/><rect x="395.94" y="598.47" width="6.6" height="19.44" fill="#f5b4d2" stroke="#3f3f3f" stroke-width="1.1"/><path d="M395.94 613.40h6.6" stroke="#3f3f3f" stroke-width="1.2"/><rect x="403.97" y="583.89" width="6.6" height="55.90" fill="#f5b4d2" stroke="#3f3f3f" stroke-width="1.1"/><path d="M403.97 626.59h6.6" stroke="#3f3f3f" stroke-width="1.2"/><rect x="412.01" y="515.14" width="6.6" height="82.29" fill="#e8dc46" stroke="#3f3f3f" stroke-width="1.1"/><path d="M412.01 558.89h6.6" stroke="#3f3f3f" stroke-width="1.2"/><rect x="420.04" y="563.75" width="6.6" height="53.47" fill="#e8dc46" stroke="#3f3f3f" stroke-width="1.1"/><path d="M420.04 591.18h6.6" stroke="#3f3f3f" stroke-width="1.2"/><rect x="428.08" y="563.75" width="6.6" height="54.16" fill="#558ce6" stroke="#3f3f3f" stroke-width="1.1"/><path d="M428.08 593.26h6.6" stroke="#3f3f3f" stroke-width="1.2"/><rect x="436.12" y="554.72" width="6.6" height="67.01" fill="#558ce6" stroke="#3f3f3f" stroke-width="1.1"/><path d="M436.12 609.58h6.6" stroke="#3f3f3f" stroke-width="1.2"/><rect x="444.15" y="539.45" width="6.6" height="78.81" fill="#558ce6" stroke="#3f3f3f" stroke-width="1.1"/><path d="M444.15 589.44h6.6" stroke="#3f3f3f" stroke-width="1.2"/><rect x="452.19" y="569.30" width="6.6" height="39.93" fill="#558ce6" stroke="#3f3f3f" stroke-width="1.1"/><path d="M452.19 588.40h6.6" stroke="#3f3f3f" stroke-width="1.2"/><rect x="460.22" y="566.18" width="6.6" height="52.43" fill="#558ce6" stroke="#3f3f3f" stroke-width="1.1"/><path d="M460.22 593.26h6.6" stroke="#3f3f3f" stroke-width="1.2"/><rect x="468.25" y="552.99" width="6.6" height="47.22" fill="#558ce6" stroke="#3f3f3f" stroke-width="1.1"/><path d="M468.25 567.22h6.6" stroke="#3f3f3f" stroke-width="1.2"/><rect x="476.29" y="543.26" width="6.6" height="68.75" fill="#c3a041" stroke="#3f3f3f" stroke-width="1.1"/><path d="M476.29 583.19h6.6" stroke="#3f3f3f" stroke-width="1.2"/><rect x="484.32" y="570.69" width="6.6" height="53.82" fill="#c378d7" stroke="#3f3f3f" stroke-width="1.1"/><path d="M484.32 604.02h6.6" stroke="#3f3f3f" stroke-width="1.2"/><rect x="492.36" y="574.86" width="6.6" height="41.66" fill="#c378d7" stroke="#3f3f3f" stroke-width="1.1"/><path d="M492.36 599.86h6.6" stroke="#3f3f3f" stroke-width="1.2"/><rect x="500.39" y="569.65" width="6.6" height="46.18" fill="#c378d7" stroke="#3f3f3f" stroke-width="1.1"/><path d="M500.39 598.82h6.6" stroke="#3f3f3f" stroke-width="1.2"/><rect x="508.43" y="554.38" width="6.6" height="61.11" fill="#c378d7" stroke="#3f3f3f" stroke-width="1.1"/><path d="M508.43 587.36h6.6" stroke="#3f3f3f" stroke-width="1.2"/><rect x="516.47" y="566.53" width="6.6" height="58.68" fill="#c378d7" stroke="#3f3f3f" stroke-width="1.1"/><path d="M516.47 603.68h6.6" stroke="#3f3f3f" stroke-width="1.2"/><rect x="524.50" y="567.57" width="6.6" height="53.12" fill="#c378d7" stroke="#3f3f3f" stroke-width="1.1"/><path d="M524.50 596.39h6.6" stroke="#3f3f3f" stroke-width="1.2"/><rect x="532.54" y="556.46" width="6.6" height="60.07" fill="#c378d7" stroke="#3f3f3f" stroke-width="1.1"/><path d="M532.54 587.36h6.6" stroke="#3f3f3f" stroke-width="1.2"/><rect x="540.57" y="589.44" width="6.6" height="43.75" fill="#a0a4a8" stroke="#3f3f3f" stroke-width="1.1"/><path d="M540.57 614.44h6.6" stroke="#3f3f3f" stroke-width="1.2"/><rect x="548.61" y="556.11" width="6.6" height="67.01" fill="#a0a4a8" stroke="#3f3f3f" stroke-width="1.1"/><path d="M548.61 597.08h6.6" stroke="#3f3f3f" stroke-width="1.2"/><rect x="556.64" y="553.33" width="6.6" height="69.09" fill="#a0a4a8" stroke="#3f3f3f" stroke-width="1.1"/><path d="M556.64 598.12h6.6" stroke="#3f3f3f" stroke-width="1.2"/><rect x="564.68" y="571.39" width="6.6" height="52.77" fill="#a0a4a8" stroke="#3f3f3f" stroke-width="1.1"/><path d="M564.68 604.37h6.6" stroke="#3f3f3f" stroke-width="1.2"/><rect x="572.71" y="549.51" width="6.6" height="64.23" fill="#a0a4a8" stroke="#3f3f3f" stroke-width="1.1"/><path d="M572.71 593.26h6.6" stroke="#3f3f3f" stroke-width="1.2"/><rect x="580.75" y="583.54" width="6.6" height="41.66" fill="#a0a4a8" stroke="#3f3f3f" stroke-width="1.1"/><path d="M580.75 610.27h6.6" stroke="#3f3f3f" stroke-width="1.2"/><rect x="588.78" y="596.73" width="6.6" height="27.43" fill="#b9ebc8" stroke="#3f3f3f" stroke-width="1.1"/><path d="M588.78 616.87h6.6" stroke="#3f3f3f" stroke-width="1.2"/><rect x="596.82" y="574.51" width="6.6" height="47.91" fill="#b9dcfa" stroke="#3f3f3f" stroke-width="1.1"/><path d="M596.82 605.07h6.6" stroke="#3f3f3f" stroke-width="1.2"/><rect x="604.85" y="564.79" width="6.6" height="53.82" fill="#ebebeb" stroke="#3f3f3f" stroke-width="1.1"/><path d="M604.85 591.87h6.6" stroke="#3f3f3f" stroke-width="1.2"/><rect x="612.89" y="592.91" width="6.6" height="27.78" fill="#ebebeb" stroke="#3f3f3f" stroke-width="1.1"/><path d="M612.89 605.07h6.6" stroke="#3f3f3f" stroke-width="1.2"/><rect x="620.92" y="548.47" width="6.6" height="50.69" fill="#ebebeb" stroke="#3f3f3f" stroke-width="1.1"/><path d="M620.92 561.67h6.6" stroke="#3f3f3f" stroke-width="1.2"/><rect x="628.96" y="551.25" width="6.6" height="68.05" fill="#dccdfa" stroke="#3f3f3f" stroke-width="1.1"/><path d="M628.96 588.40h6.6" stroke="#3f3f3f" stroke-width="1.2"/><rect x="636.99" y="574.51" width="6.6" height="49.65" fill="#dccdfa" stroke="#3f3f3f" stroke-width="1.1"/><path d="M636.99 604.37h6.6" stroke="#3f3f3f" stroke-width="1.2"/><rect x="645.03" y="582.50" width="6.6" height="38.19" fill="#dccdfa" stroke="#3f3f3f" stroke-width="1.1"/><path d="M645.03 606.46h6.6" stroke="#3f3f3f" stroke-width="1.2"/><rect x="653.06" y="537.71" width="6.6" height="43.40" fill="#dccdfa" stroke="#3f3f3f" stroke-width="1.1"/><path d="M653.06 579.37h6.6" stroke="#3f3f3f" stroke-width="1.2"/><rect x="661.10" y="551.60" width="6.6" height="73.61" fill="#69c882" stroke="#3f3f3f" stroke-width="1.1"/><path d="M661.10 599.16h6.6" stroke="#3f3f3f" stroke-width="1.2"/><rect x="669.13" y="573.82" width="6.6" height="45.48" fill="#69c882" stroke="#3f3f3f" stroke-width="1.1"/><path d="M669.13 592.22h6.6" stroke="#3f3f3f" stroke-width="1.2"/><rect x="677.17" y="578.33" width="6.6" height="48.61" fill="#69c882" stroke="#3f3f3f" stroke-width="1.1"/><path d="M677.17 610.97h6.6" stroke="#3f3f3f" stroke-width="1.2"/>
<g fill="none" stroke="#383838" stroke-width="1.2"><circle cx="45.7" cy="548.5" r="1.7"/><circle cx="45.7" cy="546.2" r="1.7"/><circle cx="45.7" cy="543.8" r="1.7"/><circle cx="45.7" cy="541.5" r="1.7"/><circle cx="45.7" cy="539.2" r="1.7"/><circle cx="45.7" cy="536.9" r="1.7"/><circle cx="45.7" cy="534.6" r="1.7"/><circle cx="45.7" cy="532.3" r="1.7"/><circle cx="45.7" cy="530.0" r="1.7"/><circle cx="45.7" cy="527.7" r="1.7"/><circle cx="45.7" cy="525.4" r="1.7"/><circle cx="45.7" cy="523.0" r="1.7"/><circle cx="45.7" cy="520.7" r="1.7"/><circle cx="45.7" cy="518.4" r="1.7"/><circle cx="45.7" cy="516.1" r="1.7"/><circle cx="45.7" cy="513.8" r="1.7"/><circle cx="45.7" cy="511.5" r="1.7"/><circle cx="45.7" cy="509.2" r="1.7"/><circle cx="45.7" cy="506.9" r="1.7"/><circle cx="45.7" cy="504.6" r="1.7"/><circle cx="45.7" cy="502.2" r="1.7"/><circle cx="45.7" cy="499.9" r="1.7"/><circle cx="45.7" cy="497.6" r="1.7"/><circle cx="45.7" cy="495.3" r="1.7"/><circle cx="45.7" cy="493.0" r="1.7"/><circle cx="45.7" cy="490.7" r="1.7"/><circle cx="45.7" cy="488.4" r="1.7"/><circle cx="45.7" cy="486.1" r="1.7"/><circle cx="45.7" cy="483.7" r="1.7"/><circle cx="45.7" cy="481.4" r="1.7"/><circle cx="45.7" cy="479.1" r="1.7"/><circle cx="45.7" cy="476.8" r="1.7"/><circle cx="45.7" cy="474.5" r="1.7"/><circle cx="45.7" cy="472.2" r="1.7"/><circle cx="45.7" cy="469.9" r="1.7"/><circle cx="45.7" cy="467.6" r="1.7"/><circle cx="45.7" cy="465.3" r="1.7"/><circle cx="45.7" cy="462.9" r="1.7"/><circle cx="45.7" cy="460.6" r="1.7"/><circle cx="45.7" cy="454.7" r="1.7"/><circle cx="45.7" cy="452.6" r="1.7"/><circle cx="45.7" cy="440.1" r="1.7"/><circle cx="45.7" cy="433.9" r="1.7"/><circle cx="45.7" cy="431.1" r="1.7"/><circle cx="45.7" cy="428.3" r="1.7"/><circle cx="45.7" cy="422.1" r="1.7"/><circle cx="45.7" cy="419.3" r="1.7"/><circle cx="53.7" cy="587.7" r="1.7"/><circle cx="53.7" cy="576.2" r="1.7"/><circle cx="53.7" cy="561.0" r="1.7"/><circle cx="53.7" cy="492.9" r="1.7"/><circle cx="53.7" cy="470.7" r="1.7"/><circle cx="61.8" cy="542.2" r="1.7"/><circle cx="61.8" cy="523.8" r="1.7"/><circle cx="61.8" cy="500.6" r="1.7"/><circle cx="69.8" cy="504.0" r="1.7"/><circle cx="110.0" cy="436.0" r="1.7"/><circle cx="110.0" cy="434.9" r="1.7"/><circle cx="110.0" cy="429.7" r="1.7"/><circle cx="110.0" cy="418.3" r="1.7"/><circle cx="118.0" cy="508.9" r="1.7"/><circle cx="118.0" cy="492.9" r="1.7"/><circle cx="118.0" cy="488.1" r="1.7"/><circle cx="118.0" cy="485.5" r="1.7"/><circle cx="118.0" cy="482.9" r="1.7"/><circle cx="118.0" cy="480.2" r="1.7"/><circle cx="118.0" cy="477.6" r="1.7"/><circle cx="118.0" cy="470.7" r="1.7"/><circle cx="118.0" cy="464.1" r="1.7"/><circle cx="118.0" cy="458.9" r="1.7"/><circle cx="118.0" cy="453.0" r="1.7"/><circle cx="118.0" cy="429.0" r="1.7"/><circle cx="126.0" cy="472.4" r="1.7"/><circle cx="126.0" cy="468.3" r="1.7"/><circle cx="126.0" cy="463.8" r="1.7"/><circle cx="126.0" cy="462.0" r="1.7"/><circle cx="126.0" cy="460.3" r="1.7"/><circle cx="126.0" cy="442.9" r="1.7"/><circle cx="134.1" cy="491.5" r="1.7"/><circle cx="134.1" cy="489.2" r="1.7"/><circle cx="134.1" cy="486.9" r="1.7"/><circle cx="134.1" cy="484.6" r="1.7"/><circle cx="134.1" cy="482.3" r="1.7"/><circle cx="134.1" cy="480.0" r="1.7"/><circle cx="134.1" cy="477.6" r="1.7"/><circle cx="134.1" cy="465.5" r="1.7"/><circle cx="134.1" cy="460.8" r="1.7"/><circle cx="134.1" cy="455.1" r="1.7"/><circle cx="134.1" cy="452.7" r="1.7"/><circle cx="134.1" cy="450.4" r="1.7"/><circle cx="134.1" cy="448.0" r="1.7"/><circle cx="134.1" cy="445.7" r="1.7"/><circle cx="134.1" cy="427.6" r="1.7"/><circle cx="142.1" cy="514.8" r="1.7"/><circle cx="142.1" cy="512.4" r="1.7"/><circle cx="142.1" cy="506.1" r="1.7"/><circle cx="142.1" cy="500.9" r="1.7"/><circle cx="142.1" cy="485.6" r="1.7"/><circle cx="142.1" cy="473.5" r="1.7"/><circle cx="142.1" cy="418.6" r="1.7"/><circle cx="150.2" cy="455.1" r="1.7"/><circle cx="150.2" cy="452.7" r="1.7"/><circle cx="150.2" cy="450.3" r="1.7"/><circle cx="150.2" cy="447.8" r="1.7"/><circle cx="150.2" cy="445.4" r="1.7"/><circle cx="150.2" cy="443.0" r="1.7"/><circle cx="150.2" cy="440.6" r="1.7"/><circle cx="150.2" cy="438.2" r="1.7"/><circle cx="150.2" cy="435.8" r="1.7"/><circle cx="150.2" cy="433.4" r="1.7"/><circle cx="150.2" cy="431.0" r="1.7"/><circle cx="150.2" cy="428.6" r="1.7"/><circle cx="150.2" cy="426.1" r="1.7"/><circle cx="150.2" cy="423.7" r="1.7"/><circle cx="150.2" cy="421.3" r="1.7"/><circle cx="150.2" cy="418.9" r="1.7"/><circle cx="150.2" cy="416.5" r="1.7"/><circle cx="150.2" cy="414.1" r="1.7"/><circle cx="150.2" cy="411.7" r="1.7"/><circle cx="158.2" cy="536.7" r="1.7"/><circle cx="158.2" cy="533.2" r="1.7"/><circle cx="158.2" cy="530.8" r="1.7"/><circle cx="158.2" cy="516.9" r="1.7"/><circle cx="158.2" cy="514.1" r="1.7"/><circle cx="158.2" cy="510.6" r="1.7"/><circle cx="158.2" cy="505.4" r="1.7"/><circle cx="158.2" cy="501.9" r="1.7"/><circle cx="158.2" cy="498.5" r="1.7"/><circle cx="158.2" cy="495.0" r="1.7"/><circle cx="158.2" cy="459.6" r="1.7"/><circle cx="158.2" cy="418.6" r="1.7"/><circle cx="166.2" cy="440.1" r="1.7"/><circle cx="166.2" cy="437.8" r="1.7"/><circle cx="166.2" cy="435.4" r="1.7"/><circle cx="166.2" cy="433.0" r="1.7"/><circle cx="166.2" cy="430.6" r="1.7"/><circle cx="166.2" cy="428.2" r="1.7"/><circle cx="166.2" cy="425.8" r="1.7"/><circle cx="166.2" cy="423.4" r="1.7"/><circle cx="166.2" cy="421.0" r="1.7"/><circle cx="166.2" cy="418.6" r="1.7"/><circle cx="166.2" cy="414.8" r="1.7"/><circle cx="174.3" cy="461.7" r="1.7"/><circle cx="174.3" cy="442.6" r="1.7"/><circle cx="190.3" cy="490.5" r="1.7"/><circle cx="190.3" cy="487.8" r="1.7"/><circle cx="190.3" cy="485.2" r="1.7"/><circle cx="190.3" cy="482.5" r="1.7"/><circle cx="190.3" cy="479.8" r="1.7"/><circle cx="190.3" cy="477.2" r="1.7"/><circle cx="190.3" cy="474.5" r="1.7"/><circle cx="190.3" cy="453.3" r="1.7"/><circle cx="190.3" cy="449.9" r="1.7"/><circle cx="190.3" cy="447.1" r="1.7"/><circle cx="190.3" cy="414.1" r="1.7"/><circle cx="198.4" cy="444.0" r="1.7"/><circle cx="198.4" cy="441.6" r="1.7"/><circle cx="198.4" cy="439.2" r="1.7"/><circle cx="198.4" cy="436.9" r="1.7"/><circle cx="198.4" cy="434.5" r="1.7"/><circle cx="198.4" cy="432.1" r="1.7"/><circle cx="198.4" cy="429.8" r="1.7"/><circle cx="198.4" cy="427.4" r="1.7"/><circle cx="198.4" cy="425.0" r="1.7"/><circle cx="198.4" cy="422.7" r="1.7"/><circle cx="198.4" cy="420.3" r="1.7"/><circle cx="198.4" cy="417.9" r="1.7"/><circle cx="206.4" cy="483.2" r="1.7"/><circle cx="206.4" cy="469.3" r="1.7"/><circle cx="206.4" cy="463.8" r="1.7"/><circle cx="214.4" cy="511.0" r="1.7"/><circle cx="214.4" cy="467.2" r="1.7"/><circle cx="214.4" cy="454.0" r="1.7"/><circle cx="214.4" cy="418.3" r="1.7"/><circle cx="214.4" cy="413.8" r="1.7"/><circle cx="222.5" cy="501.9" r="1.7"/><circle cx="222.5" cy="499.5" r="1.7"/><circle cx="222.5" cy="497.1" r="1.7"/><circle cx="222.5" cy="494.7" r="1.7"/><circle cx="222.5" cy="492.2" r="1.7"/><circle cx="222.5" cy="489.8" r="1.7"/><circle cx="222.5" cy="487.4" r="1.7"/><circle cx="222.5" cy="484.9" r="1.7"/><circle cx="222.5" cy="482.5" r="1.7"/><circle cx="222.5" cy="474.9" r="1.7"/><circle cx="222.5" cy="472.2" r="1.7"/><circle cx="222.5" cy="469.6" r="1.7"/><circle cx="222.5" cy="467.0" r="1.7"/><circle cx="222.5" cy="464.3" r="1.7"/><circle cx="222.5" cy="461.7" r="1.7"/><circle cx="222.5" cy="439.5" r="1.7"/><circle cx="222.5" cy="422.1" r="1.7"/><circle cx="222.5" cy="418.6" r="1.7"/><circle cx="238.5" cy="488.4" r="1.7"/><circle cx="238.5" cy="485.9" r="1.7"/><circle cx="238.5" cy="483.4" r="1.7"/><circle cx="238.5" cy="480.9" r="1.7"/><circle cx="238.5" cy="478.3" r="1.7"/><circle cx="238.5" cy="475.8" r="1.7"/><circle cx="238.5" cy="473.3" r="1.7"/><circle cx="238.5" cy="470.8" r="1.7"/><circle cx="238.5" cy="468.3" r="1.7"/><circle cx="238.5" cy="459.2" r="1.7"/><circle cx="238.5" cy="454.4" r="1.7"/><circle cx="254.6" cy="469.7" r="1.7"/><circle cx="254.6" cy="464.1" r="1.7"/><circle cx="254.6" cy="423.8" r="1.7"/><circle cx="262.6" cy="496.4" r="1.7"/><circle cx="262.6" cy="492.2" r="1.7"/><circle cx="262.6" cy="486.0" r="1.7"/><circle cx="262.6" cy="465.8" r="1.7"/><circle cx="262.6" cy="457.5" r="1.7"/><circle cx="262.6" cy="422.1" r="1.7"/><circle cx="270.7" cy="458.5" r="1.7"/><circle cx="278.7" cy="542.6" r="1.7"/><circle cx="278.7" cy="541.2" r="1.7"/><circle cx="302.8" cy="558.5" r="1.7"/><circle cx="302.8" cy="553.3" r="1.7"/><circle cx="302.8" cy="537.4" r="1.7"/><circle cx="302.8" cy="532.5" r="1.7"/><circle cx="302.8" cy="520.0" r="1.7"/><circle cx="302.8" cy="515.8" r="1.7"/><circle cx="302.8" cy="510.6" r="1.7"/><circle cx="302.8" cy="501.9" r="1.7"/><circle cx="302.8" cy="479.4" r="1.7"/><circle cx="302.8" cy="435.6" r="1.7"/><circle cx="302.8" cy="424.9" r="1.7"/><circle cx="310.9" cy="412.0" r="1.7"/><circle cx="326.9" cy="495.4" r="1.7"/><circle cx="326.9" cy="493.0" r="1.7"/><circle cx="326.9" cy="490.7" r="1.7"/><circle cx="326.9" cy="488.3" r="1.7"/><circle cx="326.9" cy="486.0" r="1.7"/><circle cx="326.9" cy="483.6" r="1.7"/><circle cx="326.9" cy="481.2" r="1.7"/><circle cx="326.9" cy="478.9" r="1.7"/><circle cx="326.9" cy="476.5" r="1.7"/><circle cx="326.9" cy="474.2" r="1.7"/><circle cx="326.9" cy="471.8" r="1.7"/><circle cx="326.9" cy="469.5" r="1.7"/><circle cx="326.9" cy="467.1" r="1.7"/><circle cx="326.9" cy="464.8" r="1.7"/><circle cx="326.9" cy="452.0" r="1.7"/><circle cx="326.9" cy="442.2" r="1.7"/><circle cx="326.9" cy="414.5" r="1.7"/><circle cx="335.0" cy="520.7" r="1.7"/><circle cx="335.0" cy="518.2" r="1.7"/><circle cx="335.0" cy="515.7" r="1.7"/><circle cx="335.0" cy="513.3" r="1.7"/><circle cx="335.0" cy="510.8" r="1.7"/><circle cx="335.0" cy="508.3" r="1.7"/><circle cx="335.0" cy="505.9" r="1.7"/><circle cx="335.0" cy="503.4" r="1.7"/><circle cx="335.0" cy="500.9" r="1.7"/><circle cx="335.0" cy="491.2" r="1.7"/><circle cx="335.0" cy="488.7" r="1.7"/><circle cx="335.0" cy="486.2" r="1.7"/><circle cx="335.0" cy="483.7" r="1.7"/><circle cx="335.0" cy="481.2" r="1.7"/><circle cx="335.0" cy="478.6" r="1.7"/><circle cx="335.0" cy="476.1" r="1.7"/><circle cx="335.0" cy="473.6" r="1.7"/><circle cx="335.0" cy="471.1" r="1.7"/><circle cx="335.0" cy="468.6" r="1.7"/><circle cx="335.0" cy="462.7" r="1.7"/><circle cx="335.0" cy="460.3" r="1.7"/><circle cx="335.0" cy="457.9" r="1.7"/><circle cx="335.0" cy="448.5" r="1.7"/><circle cx="335.0" cy="418.6" r="1.7"/><circle cx="343.0" cy="559.2" r="1.7"/><circle cx="343.0" cy="556.8" r="1.7"/><circle cx="343.0" cy="554.3" r="1.7"/><circle cx="343.0" cy="551.9" r="1.7"/><circle cx="343.0" cy="549.4" r="1.7"/><circle cx="343.0" cy="547.0" r="1.7"/><circle cx="343.0" cy="544.5" r="1.7"/><circle cx="343.0" cy="542.0" r="1.7"/><circle cx="343.0" cy="539.6" r="1.7"/><circle cx="343.0" cy="537.1" r="1.7"/><circle cx="343.0" cy="534.7" r="1.7"/><circle cx="343.0" cy="532.2" r="1.7"/><circle cx="343.0" cy="529.8" r="1.7"/><circle cx="343.0" cy="527.3" r="1.7"/><circle cx="343.0" cy="524.9" r="1.7"/><circle cx="343.0" cy="513.1" r="1.7"/><circle cx="343.0" cy="503.0" r="1.7"/><circle cx="343.0" cy="500.2" r="1.7"/><circle cx="343.0" cy="496.0" r="1.7"/><circle cx="343.0" cy="486.3" r="1.7"/><circle cx="343.0" cy="481.5" r="1.7"/><circle cx="343.0" cy="480.1" r="1.7"/><circle cx="343.0" cy="467.9" r="1.7"/><circle cx="343.0" cy="458.9" r="1.7"/><circle cx="343.0" cy="454.0" r="1.7"/><circle cx="343.0" cy="432.5" r="1.7"/><circle cx="343.0" cy="430.4" r="1.7"/><circle cx="343.0" cy="413.8" r="1.7"/><circle cx="351.0" cy="462.7" r="1.7"/><circle cx="351.0" cy="460.4" r="1.7"/><circle cx="351.0" cy="458.1" r="1.7"/><circle cx="351.0" cy="455.8" r="1.7"/><circle cx="351.0" cy="453.4" r="1.7"/><circle cx="351.0" cy="451.1" r="1.7"/><circle cx="351.0" cy="448.8" r="1.7"/><circle cx="351.0" cy="446.5" r="1.7"/><circle cx="351.0" cy="444.2" r="1.7"/><circle cx="351.0" cy="441.8" r="1.7"/><circle cx="351.0" cy="439.5" r="1.7"/><circle cx="351.0" cy="437.2" r="1.7"/><circle cx="351.0" cy="434.9" r="1.7"/><circle cx="351.0" cy="432.6" r="1.7"/><circle cx="351.0" cy="430.2" r="1.7"/><circle cx="351.0" cy="427.9" r="1.7"/><circle cx="351.0" cy="425.6" r="1.7"/><circle cx="351.0" cy="423.3" r="1.7"/><circle cx="351.0" cy="421.0" r="1.7"/><circle cx="351.0" cy="418.6" r="1.7"/><circle cx="351.0" cy="416.3" r="1.7"/><circle cx="351.0" cy="414.0" r="1.7"/><circle cx="351.0" cy="411.7" r="1.7"/><circle cx="359.1" cy="519.0" r="1.7"/><circle cx="359.1" cy="516.6" r="1.7"/><circle cx="359.1" cy="514.3" r="1.7"/><circle cx="359.1" cy="512.0" r="1.7"/><circle cx="359.1" cy="509.7" r="1.7"/><circle cx="359.1" cy="507.4" r="1.7"/><circle cx="359.1" cy="505.0" r="1.7"/><circle cx="359.1" cy="502.7" r="1.7"/><circle cx="359.1" cy="500.4" r="1.7"/><circle cx="359.1" cy="498.1" r="1.7"/><circle cx="359.1" cy="495.8" r="1.7"/><circle cx="359.1" cy="493.5" r="1.7"/><circle cx="359.1" cy="491.1" r="1.7"/><circle cx="359.1" cy="488.8" r="1.7"/><circle cx="359.1" cy="486.5" r="1.7"/><circle cx="359.1" cy="484.2" r="1.7"/><circle cx="359.1" cy="481.9" r="1.7"/><circle cx="359.1" cy="479.5" r="1.7"/><circle cx="359.1" cy="477.2" r="1.7"/><circle cx="359.1" cy="474.9" r="1.7"/><circle cx="359.1" cy="472.6" r="1.7"/><circle cx="359.1" cy="470.3" r="1.7"/><circle cx="359.1" cy="467.9" r="1.7"/><circle cx="359.1" cy="465.6" r="1.7"/><circle cx="359.1" cy="463.3" r="1.7"/><circle cx="359.1" cy="461.0" r="1.7"/><circle cx="359.1" cy="458.7" r="1.7"/><circle cx="359.1" cy="456.4" r="1.7"/><circle cx="359.1" cy="454.0" r="1.7"/><circle cx="359.1" cy="447.1" r="1.7"/><circle cx="359.1" cy="444.7" r="1.7"/><circle cx="359.1" cy="442.3" r="1.7"/><circle cx="359.1" cy="439.9" r="1.7"/><circle cx="359.1" cy="437.5" r="1.7"/><circle cx="359.1" cy="435.1" r="1.7"/><circle cx="359.1" cy="432.7" r="1.7"/><circle cx="359.1" cy="430.3" r="1.7"/><circle cx="359.1" cy="428.0" r="1.7"/><circle cx="359.1" cy="425.6" r="1.7"/><circle cx="367.1" cy="509.9" r="1.7"/><circle cx="367.1" cy="507.6" r="1.7"/><circle cx="367.1" cy="505.2" r="1.7"/><circle cx="367.1" cy="502.8" r="1.7"/><circle cx="367.1" cy="500.5" r="1.7"/><circle cx="367.1" cy="498.1" r="1.7"/><circle cx="367.1" cy="495.7" r="1.7"/><circle cx="367.1" cy="493.4" r="1.7"/><circle cx="367.1" cy="491.0" r="1.7"/><circle cx="367.1" cy="488.6" r="1.7"/><circle cx="367.1" cy="486.3" r="1.7"/><circle cx="367.1" cy="483.9" r="1.7"/><circle cx="367.1" cy="481.5" r="1.7"/><circle cx="367.1" cy="479.2" r="1.7"/><circle cx="367.1" cy="476.8" r="1.7"/><circle cx="367.1" cy="474.5" r="1.7"/><circle cx="367.1" cy="472.1" r="1.7"/><circle cx="367.1" cy="469.7" r="1.7"/><circle cx="367.1" cy="467.4" r="1.7"/><circle cx="367.1" cy="465.0" r="1.7"/><circle cx="367.1" cy="462.6" r="1.7"/><circle cx="367.1" cy="460.3" r="1.7"/><circle cx="367.1" cy="457.9" r="1.7"/><circle cx="367.1" cy="455.5" r="1.7"/><circle cx="367.1" cy="453.2" r="1.7"/><circle cx="367.1" cy="450.8" r="1.7"/><circle cx="367.1" cy="448.4" r="1.7"/><circle cx="367.1" cy="446.1" r="1.7"/><circle cx="367.1" cy="443.7" r="1.7"/><circle cx="367.1" cy="441.3" r="1.7"/><circle cx="367.1" cy="439.0" r="1.7"/><circle cx="367.1" cy="436.6" r="1.7"/><circle cx="367.1" cy="434.2" r="1.7"/><circle cx="367.1" cy="420.4" r="1.7"/><circle cx="375.1" cy="436.3" r="1.7"/><circle cx="375.1" cy="426.6" r="1.7"/><circle cx="375.1" cy="423.8" r="1.7"/><circle cx="375.1" cy="421.1" r="1.7"/><circle cx="383.2" cy="606.8" r="1.7"/><circle cx="383.2" cy="604.5" r="1.7"/><circle cx="383.2" cy="602.2" r="1.7"/><circle cx="383.2" cy="599.8" r="1.7"/><circle cx="383.2" cy="597.5" r="1.7"/><circle cx="383.2" cy="595.2" r="1.7"/><circle cx="383.2" cy="592.9" r="1.7"/><circle cx="383.2" cy="590.6" r="1.7"/><circle cx="383.2" cy="588.2" r="1.7"/><circle cx="383.2" cy="585.9" r="1.7"/><circle cx="383.2" cy="583.6" r="1.7"/><circle cx="383.2" cy="581.3" r="1.7"/><circle cx="383.2" cy="579.0" r="1.7"/><circle cx="383.2" cy="576.6" r="1.7"/><circle cx="383.2" cy="574.3" r="1.7"/><circle cx="383.2" cy="572.0" r="1.7"/><circle cx="383.2" cy="569.7" r="1.7"/><circle cx="383.2" cy="567.4" r="1.7"/><circle cx="383.2" cy="565.0" r="1.7"/><circle cx="383.2" cy="562.7" r="1.7"/><circle cx="383.2" cy="560.4" r="1.7"/><circle cx="383.2" cy="558.1" r="1.7"/><circle cx="383.2" cy="555.8" r="1.7"/><circle cx="383.2" cy="544.3" r="1.7"/><circle cx="383.2" cy="520.7" r="1.7"/><circle cx="383.2" cy="496.4" r="1.7"/><circle cx="383.2" cy="493.3" r="1.7"/><circle cx="383.2" cy="490.5" r="1.7"/><circle cx="383.2" cy="481.5" r="1.7"/><circle cx="383.2" cy="478.6" r="1.7"/><circle cx="383.2" cy="475.7" r="1.7"/><circle cx="383.2" cy="472.8" r="1.7"/><circle cx="383.2" cy="452.6" r="1.7"/><circle cx="399.2" cy="467.6" r="1.7"/><circle cx="407.3" cy="464.5" r="1.7"/><circle cx="423.3" cy="483.5" r="1.7"/><circle cx="423.3" cy="481.2" r="1.7"/><circle cx="423.3" cy="478.9" r="1.7"/><circle cx="423.3" cy="476.6" r="1.7"/><circle cx="423.3" cy="474.3" r="1.7"/><circle cx="423.3" cy="471.9" r="1.7"/><circle cx="423.3" cy="469.6" r="1.7"/><circle cx="423.3" cy="467.3" r="1.7"/><circle cx="423.3" cy="465.0" r="1.7"/><circle cx="423.3" cy="462.6" r="1.7"/><circle cx="423.3" cy="460.3" r="1.7"/><circle cx="423.3" cy="458.0" r="1.7"/><circle cx="423.3" cy="455.7" r="1.7"/><circle cx="423.3" cy="453.3" r="1.7"/><circle cx="423.3" cy="449.9" r="1.7"/><circle cx="423.3" cy="446.4" r="1.7"/><circle cx="423.3" cy="442.9" r="1.7"/><circle cx="423.3" cy="439.5" r="1.7"/><circle cx="423.3" cy="432.5" r="1.7"/><circle cx="423.3" cy="430.4" r="1.7"/><circle cx="423.3" cy="423.8" r="1.7"/><circle cx="423.3" cy="421.1" r="1.7"/><circle cx="423.3" cy="418.3" r="1.7"/><circle cx="423.3" cy="415.5" r="1.7"/><circle cx="423.3" cy="412.7" r="1.7"/><circle cx="431.4" cy="481.5" r="1.7"/><circle cx="431.4" cy="479.7" r="1.7"/><circle cx="431.4" cy="472.8" r="1.7"/><circle cx="431.4" cy="470.7" r="1.7"/><circle cx="431.4" cy="468.6" r="1.7"/><circle cx="431.4" cy="443.3" r="1.7"/><circle cx="431.4" cy="430.4" r="1.7"/><circle cx="431.4" cy="425.2" r="1.7"/><circle cx="439.4" cy="434.2" r="1.7"/><circle cx="439.4" cy="418.6" r="1.7"/><circle cx="455.5" cy="480.8" r="1.7"/><circle cx="455.5" cy="464.8" r="1.7"/><circle cx="463.5" cy="457.5" r="1.7"/><circle cx="463.5" cy="428.7" r="1.7"/><circle cx="471.6" cy="449.5" r="1.7"/><circle cx="479.6" cy="440.1" r="1.7"/><circle cx="479.6" cy="437.7" r="1.7"/><circle cx="479.6" cy="435.2" r="1.7"/><circle cx="479.6" cy="432.8" r="1.7"/><circle cx="479.6" cy="430.3" r="1.7"/><circle cx="479.6" cy="427.8" r="1.7"/><circle cx="479.6" cy="425.4" r="1.7"/><circle cx="479.6" cy="422.9" r="1.7"/><circle cx="479.6" cy="420.5" r="1.7"/><circle cx="479.6" cy="418.0" r="1.7"/><circle cx="479.6" cy="415.6" r="1.7"/><circle cx="479.6" cy="413.1" r="1.7"/><circle cx="479.6" cy="410.6" r="1.7"/><circle cx="487.6" cy="485.3" r="1.7"/><circle cx="487.6" cy="483.0" r="1.7"/><circle cx="487.6" cy="480.6" r="1.7"/><circle cx="487.6" cy="478.3" r="1.7"/><circle cx="487.6" cy="476.0" r="1.7"/><circle cx="487.6" cy="473.7" r="1.7"/><circle cx="487.6" cy="471.3" r="1.7"/><circle cx="487.6" cy="469.0" r="1.7"/><circle cx="487.6" cy="466.7" r="1.7"/><circle cx="487.6" cy="464.3" r="1.7"/><circle cx="487.6" cy="462.0" r="1.7"/><circle cx="487.6" cy="450.9" r="1.7"/><circle cx="487.6" cy="448.4" r="1.7"/><circle cx="487.6" cy="445.8" r="1.7"/><circle cx="487.6" cy="443.3" r="1.7"/><circle cx="495.7" cy="508.9" r="1.7"/><circle cx="495.7" cy="506.5" r="1.7"/><circle cx="495.7" cy="504.0" r="1.7"/><circle cx="495.7" cy="491.9" r="1.7"/><circle cx="495.7" cy="479.0" r="1.7"/><circle cx="495.7" cy="457.9" r="1.7"/><circle cx="495.7" cy="416.5" r="1.7"/><circle cx="503.7" cy="500.9" r="1.7"/><circle cx="503.7" cy="498.6" r="1.7"/><circle cx="503.7" cy="496.3" r="1.7"/><circle cx="503.7" cy="493.9" r="1.7"/><circle cx="503.7" cy="491.6" r="1.7"/><circle cx="503.7" cy="489.3" r="1.7"/><circle cx="503.7" cy="487.0" r="1.7"/><circle cx="503.7" cy="484.6" r="1.7"/><circle cx="503.7" cy="482.3" r="1.7"/><circle cx="503.7" cy="480.0" r="1.7"/><circle cx="503.7" cy="477.7" r="1.7"/><circle cx="503.7" cy="475.3" r="1.7"/><circle cx="503.7" cy="473.0" r="1.7"/><circle cx="503.7" cy="470.7" r="1.7"/><circle cx="503.7" cy="461.0" r="1.7"/><circle cx="503.7" cy="453.3" r="1.7"/><circle cx="503.7" cy="445.0" r="1.7"/><circle cx="503.7" cy="427.0" r="1.7"/><circle cx="511.7" cy="461.7" r="1.7"/><circle cx="511.7" cy="446.4" r="1.7"/><circle cx="511.7" cy="441.2" r="1.7"/><circle cx="511.7" cy="438.9" r="1.7"/><circle cx="511.7" cy="436.6" r="1.7"/><circle cx="511.7" cy="434.2" r="1.7"/><circle cx="511.7" cy="431.9" r="1.7"/><circle cx="511.7" cy="429.6" r="1.7"/><circle cx="511.7" cy="427.3" r="1.7"/><circle cx="511.7" cy="413.8" r="1.7"/><circle cx="527.8" cy="477.6" r="1.7"/><circle cx="535.8" cy="435.3" r="1.7"/><circle cx="543.9" cy="508.9" r="1.7"/><circle cx="543.9" cy="506.6" r="1.7"/><circle cx="543.9" cy="504.3" r="1.7"/><circle cx="543.9" cy="501.9" r="1.7"/><circle cx="543.9" cy="469.0" r="1.7"/><circle cx="543.9" cy="437.4" r="1.7"/><circle cx="543.9" cy="435.3" r="1.7"/><circle cx="543.9" cy="433.2" r="1.7"/><circle cx="543.9" cy="420.7" r="1.7"/><circle cx="551.9" cy="451.6" r="1.7"/><circle cx="551.9" cy="431.1" r="1.7"/><circle cx="559.9" cy="442.2" r="1.7"/><circle cx="559.9" cy="431.1" r="1.7"/><circle cx="568.0" cy="488.1" r="1.7"/><circle cx="568.0" cy="449.5" r="1.7"/><circle cx="584.0" cy="495.7" r="1.7"/><circle cx="584.0" cy="457.5" r="1.7"/><circle cx="600.1" cy="496.4" r="1.7"/><circle cx="600.1" cy="495.0" r="1.7"/><circle cx="600.1" cy="493.3" r="1.7"/><circle cx="600.1" cy="486.7" r="1.7"/><circle cx="600.1" cy="462.4" r="1.7"/><circle cx="600.1" cy="447.8" r="1.7"/><circle cx="616.2" cy="481.5" r="1.7"/><circle cx="624.2" cy="449.5" r="1.7"/><circle cx="632.3" cy="446.4" r="1.7"/><circle cx="632.3" cy="440.5" r="1.7"/><circle cx="632.3" cy="423.5" r="1.7"/><circle cx="640.3" cy="480.4" r="1.7"/><circle cx="640.3" cy="479.0" r="1.7"/><circle cx="640.3" cy="477.6" r="1.7"/><circle cx="640.3" cy="470.4" r="1.7"/><circle cx="648.3" cy="523.8" r="1.7"/><circle cx="648.3" cy="509.9" r="1.7"/><circle cx="664.4" cy="439.5" r="1.7"/><circle cx="664.4" cy="437.0" r="1.7"/><circle cx="664.4" cy="434.5" r="1.7"/><circle cx="664.4" cy="432.0" r="1.7"/><circle cx="664.4" cy="429.6" r="1.7"/><circle cx="664.4" cy="427.1" r="1.7"/><circle cx="664.4" cy="424.6" r="1.7"/><circle cx="664.4" cy="422.1" r="1.7"/><circle cx="664.4" cy="419.7" r="1.7"/><circle cx="672.4" cy="501.9" r="1.7"/><circle cx="672.4" cy="487.7" r="1.7"/><circle cx="672.4" cy="479.0" r="1.7"/><circle cx="672.4" cy="462.4" r="1.7"/><circle cx="680.5" cy="440.5" r="1.7"/></g>
<path d="M41.8 400.0H684.2" fill="none" stroke="#9a9a9a" stroke-width="1.5"/>
<path d="M41.8 400.0V656.3H684.2" fill="none" stroke="#7a7a7a" stroke-width="1.3"/>
<path d="M684.5 400.0V656.3" fill="none" stroke="#111" stroke-width="1"/>
<path d="M41.8 644.30h-5.3M41.8 609.58h-5.3M41.8 574.86h-5.3M41.8 540.14h-5.3M41.8 505.42h-5.3M41.8 470.70h-5.3M41.8 435.98h-5.3M41.8 401.26h-5.3M45.70 656.3v5M53.73 656.3v5M61.77 656.3v5M69.81 656.3v5M77.84 656.3v5M85.88 656.3v5M93.91 656.3v5M101.95 656.3v5M109.98 656.3v5M118.02 656.3v5M126.05 656.3v5M134.09 656.3v5M142.12 656.3v5M150.16 656.3v5M158.19 656.3v5M166.23 656.3v5M174.26 656.3v5M182.30 656.3v5M190.33 656.3v5M198.37 656.3v5M206.40 656.3v5M214.44 656.3v5M222.47 656.3v5M230.50 656.3v5M238.54 656.3v5M246.57 656.3v5M254.61 656.3v5M262.64 656.3v5M270.68 656.3v5M278.72 656.3v5M286.75 656.3v5M294.79 656.3v5M302.82 656.3v5M310.86 656.3v5M318.89 656.3v5M326.93 656.3v5M334.96 656.3v5M343.00 656.3v5M351.03 656.3v5M359.06 656.3v5M367.10 656.3v5M375.13 656.3v5M383.17 656.3v5M391.20 656.3v5M399.24 656.3v5M407.27 656.3v5M415.31 656.3v5M423.34 656.3v5M431.38 656.3v5M439.42 656.3v5M447.45 656.3v5M455.49 656.3v5M463.52 656.3v5M471.56 656.3v5M479.59 656.3v5M487.62 656.3v5M495.66 656.3v5M503.69 656.3v5M511.73 656.3v5M519.76 656.3v5M527.80 656.3v5M535.84 656.3v5M543.87 656.3v5M551.90 656.3v5M559.94 656.3v5M567.98 656.3v5M576.01 656.3v5M584.05 656.3v5M592.08 656.3v5M600.12 656.3v5M608.15 656.3v5M616.19 656.3v5M624.22 656.3v5M632.26 656.3v5M640.29 656.3v5M648.33 656.3v5M656.36 656.3v5M664.40 656.3v5M672.43 656.3v5M680.47 656.3v5" stroke="#111" stroke-width="1.1" fill="none"/>
<text x="31.3" y="647.60" font-size="7.6" text-anchor="end">0.0</text>
<text x="31.3" y="612.88" font-size="7.6" text-anchor="end">0.1</text>
<text x="31.3" y="578.16" font-size="7.6" text-anchor="end">0.2</text>
<text x="31.3" y="543.44" font-size="7.6" text-anchor="end">0.3</text>
<text x="31.3" y="508.72" font-size="7.6" text-anchor="end">0.4</text>
<text x="31.3" y="474.00" font-size="7.6" text-anchor="end">0.5</text>
<text x="31.3" y="439.28" font-size="7.6" text-anchor="end">0.6</text>
<text x="31.3" y="404.56" font-size="7.6" text-anchor="end">0.7</text>
<text transform="translate(47.80 663.5) rotate(-90)" font-size="7.6" text-anchor="end">01</text>
<text transform="translate(55.84 663.5) rotate(-90)" font-size="7.6" text-anchor="end">02</text>
<text transform="translate(63.87 663.5) rotate(-90)" font-size="7.6" text-anchor="end">03</text>
<text transform="translate(71.91 663.5) rotate(-90)" font-size="7.6" text-anchor="end">08</text>
<text transform="translate(79.94 663.5) rotate(-90)" font-size="7.6" text-anchor="end">09</text>
<text transform="translate(87.97 663.5) rotate(-90)" font-size="7.6" text-anchor="end">05</text>
<text transform="translate(96.01 663.5) rotate(-90)" font-size="7.6" text-anchor="end">06</text>
<text transform="translate(104.05 663.5) rotate(-90)" font-size="7.6" text-anchor="end">07</text>
<text transform="translate(112.08 663.5) rotate(-90)" font-size="7.6" text-anchor="end">26</text>
<text transform="translate(120.11 663.5) rotate(-90)" font-size="7.6" text-anchor="end">27</text>
<text transform="translate(128.15 663.5) rotate(-90)" font-size="7.6" text-anchor="end">11</text>
<text transform="translate(136.19 663.5) rotate(-90)" font-size="7.6" text-anchor="end">28</text>
<text transform="translate(144.22 663.5) rotate(-90)" font-size="7.6" text-anchor="end">20</text>
<text transform="translate(152.25 663.5) rotate(-90)" font-size="7.6" text-anchor="end">25</text>
<text transform="translate(160.29 663.5) rotate(-90)" font-size="7.6" text-anchor="end">33</text>
<text transform="translate(168.33 663.5) rotate(-90)" font-size="7.6" text-anchor="end">10</text>
<text transform="translate(176.36 663.5) rotate(-90)" font-size="7.6" text-anchor="end">32</text>
<text transform="translate(184.40 663.5) rotate(-90)" font-size="7.6" text-anchor="end">29</text>
<text transform="translate(192.43 663.5) rotate(-90)" font-size="7.6" text-anchor="end">23</text>
<text transform="translate(200.47 663.5) rotate(-90)" font-size="7.6" text-anchor="end">22</text>
<text transform="translate(208.50 663.5) rotate(-90)" font-size="7.6" text-anchor="end">14</text>
<text transform="translate(216.53 663.5) rotate(-90)" font-size="7.6" text-anchor="end">13</text>
<text transform="translate(224.57 663.5) rotate(-90)" font-size="7.6" text-anchor="end">31</text>
<text transform="translate(232.60 663.5) rotate(-90)" font-size="7.6" text-anchor="end">24</text>
<text transform="translate(240.64 663.5) rotate(-90)" font-size="7.6" text-anchor="end">16</text>
<text transform="translate(248.67 663.5) rotate(-90)" font-size="7.6" text-anchor="end">15</text>
<text transform="translate(256.71 663.5) rotate(-90)" font-size="7.6" text-anchor="end">18</text>
<text transform="translate(264.75 663.5) rotate(-90)" font-size="7.6" text-anchor="end">17</text>
<text transform="translate(272.78 663.5) rotate(-90)" font-size="7.6" text-anchor="end">21</text>
<text transform="translate(280.82 663.5) rotate(-90)" font-size="7.6" text-anchor="end">30</text>
<text transform="translate(288.85 663.5) rotate(-90)" font-size="7.6" text-anchor="end">12</text>
<text transform="translate(296.89 663.5) rotate(-90)" font-size="7.6" text-anchor="end">36</text>
<text transform="translate(304.92 663.5) rotate(-90)" font-size="7.6" text-anchor="end">38</text>
<text transform="translate(312.96 663.5) rotate(-90)" font-size="7.6" text-anchor="end">37</text>
<text transform="translate(320.99 663.5) rotate(-90)" font-size="7.6" text-anchor="end">39</text>
<text transform="translate(329.03 663.5) rotate(-90)" font-size="7.6" text-anchor="end">41</text>
<text transform="translate(337.06 663.5) rotate(-90)" font-size="7.6" text-anchor="end">43</text>
<text transform="translate(345.10 663.5) rotate(-90)" font-size="7.6" text-anchor="end">42</text>
<text transform="translate(353.13 663.5) rotate(-90)" font-size="7.6" text-anchor="end">47</text>
<text transform="translate(361.17 663.5) rotate(-90)" font-size="7.6" text-anchor="end">46</text>
<text transform="translate(369.20 663.5) rotate(-90)" font-size="7.6" text-anchor="end">45</text>
<text transform="translate(377.24 663.5) rotate(-90)" font-size="7.6" text-anchor="end">52</text>
<text transform="translate(385.27 663.5) rotate(-90)" font-size="7.6" text-anchor="end">49</text>
<text transform="translate(393.31 663.5) rotate(-90)" font-size="7.6" text-anchor="end">51</text>
<text transform="translate(401.34 663.5) rotate(-90)" font-size="7.6" text-anchor="end">50</text>
<text transform="translate(409.38 663.5) rotate(-90)" font-size="7.6" text-anchor="end">53</text>
<text transform="translate(417.41 663.5) rotate(-90)" font-size="7.6" text-anchor="end">56</text>
<text transform="translate(425.44 663.5) rotate(-90)" font-size="7.6" text-anchor="end">55</text>
<text transform="translate(433.48 663.5) rotate(-90)" font-size="7.6" text-anchor="end">62</text>
<text transform="translate(441.52 663.5) rotate(-90)" font-size="7.6" text-anchor="end">60</text>
<text transform="translate(449.55 663.5) rotate(-90)" font-size="7.6" text-anchor="end">61</text>
<text transform="translate(457.59 663.5) rotate(-90)" font-size="7.6" text-anchor="end">59</text>
<text transform="translate(465.62 663.5) rotate(-90)" font-size="7.6" text-anchor="end">58</text>
<text transform="translate(473.66 663.5) rotate(-90)" font-size="7.6" text-anchor="end">63</text>
<text transform="translate(481.69 663.5) rotate(-90)" font-size="7.6" text-anchor="end">68</text>
<text transform="translate(489.73 663.5) rotate(-90)" font-size="7.6" text-anchor="end">71</text>
<text transform="translate(497.76 663.5) rotate(-90)" font-size="7.6" text-anchor="end">72</text>
<text transform="translate(505.80 663.5) rotate(-90)" font-size="7.6" text-anchor="end">69</text>
<text transform="translate(513.83 663.5) rotate(-90)" font-size="7.6" text-anchor="end">70</text>
<text transform="translate(521.87 663.5) rotate(-90)" font-size="7.6" text-anchor="end">74</text>
<text transform="translate(529.90 663.5) rotate(-90)" font-size="7.6" text-anchor="end">75</text>
<text transform="translate(537.94 663.5) rotate(-90)" font-size="7.6" text-anchor="end">73</text>
<text transform="translate(545.97 663.5) rotate(-90)" font-size="7.6" text-anchor="end">81</text>
<text transform="translate(554.00 663.5) rotate(-90)" font-size="7.6" text-anchor="end">77</text>
<text transform="translate(562.04 663.5) rotate(-90)" font-size="7.6" text-anchor="end">82</text>
<text transform="translate(570.08 663.5) rotate(-90)" font-size="7.6" text-anchor="end">80</text>
<text transform="translate(578.11 663.5) rotate(-90)" font-size="7.6" text-anchor="end">79</text>
<text transform="translate(586.15 663.5) rotate(-90)" font-size="7.6" text-anchor="end">78</text>
<text transform="translate(594.18 663.5) rotate(-90)" font-size="7.6" text-anchor="end">84</text>
<text transform="translate(602.22 663.5) rotate(-90)" font-size="7.6" text-anchor="end">85</text>
<text transform="translate(610.25 663.5) rotate(-90)" font-size="7.6" text-anchor="end">86</text>
<text transform="translate(618.29 663.5) rotate(-90)" font-size="7.6" text-anchor="end">88</text>
<text transform="translate(626.32 663.5) rotate(-90)" font-size="7.6" text-anchor="end">87</text>
<text transform="translate(634.36 663.5) rotate(-90)" font-size="7.6" text-anchor="end">93</text>
<text transform="translate(642.39 663.5) rotate(-90)" font-size="7.6" text-anchor="end">90</text>
<text transform="translate(650.43 663.5) rotate(-90)" font-size="7.6" text-anchor="end">91</text>
<text transform="translate(658.46 663.5) rotate(-90)" font-size="7.6" text-anchor="end">92</text>
<text transform="translate(666.50 663.5) rotate(-90)" font-size="7.6" text-anchor="end">96</text>
<text transform="translate(674.53 663.5) rotate(-90)" font-size="7.6" text-anchor="end">94</text>
<text transform="translate(682.57 663.5) rotate(-90)" font-size="7.6" text-anchor="end">95</text>
<text x="363.4" y="684.9" font-size="9.9" text-anchor="middle">NACE 2-digit sector</text>
<text transform="translate(10.9 580.9) rotate(-90)" font-size="9.9">avg. low-carbon share <tspan font-style="italic" font-family='"Liberation Serif", serif' font-size="10.5">l</tspan><tspan font-size="6.5" dy="1.8" font-style="italic" font-family='"Liberation Serif", serif'>i</tspan></text>
<text x="16.3" y="394.8" font-size="10.5" font-weight="bold">b</text>
<rect x="1.25" y="475.8" width="0.9" height="5.6" fill="#333"/>
</svg>
</body></html>
